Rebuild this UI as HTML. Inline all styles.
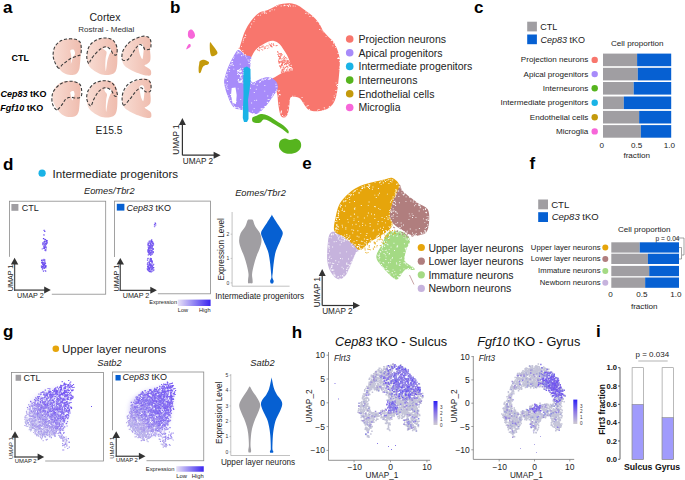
<!DOCTYPE html>
<html><head><meta charset="utf-8"><style>
html,body{margin:0;padding:0;background:#fff;width:685px;height:480px;overflow:hidden}
svg{display:block;font-family:"Liberation Sans", sans-serif}
</style></head><body>
<svg width="685" height="480" viewBox="0 0 685 480">
<defs><filter id="blur2" x="-20%" y="-20%" width="140%" height="140%"><feGaussianBlur stdDeviation="2.5"/></filter></defs>
<text x="3" y="12.8" font-size="17" font-weight="bold">a</text>
<text x="105" y="21" font-size="10.5" text-anchor="middle" fill="#222">Cortex</text>
<text x="106.3" y="31.8" font-size="8" text-anchor="middle" fill="#333">Rostral - Medial</text>
<text x="11.5" y="60.6" font-size="9" font-weight="bold">CTL</text>
<text x="0.5" y="97.3" font-size="9" font-weight="bold"><tspan font-style="italic">Cep83</tspan> tKO</text>
<text x="0.3" y="110.6" font-size="9" font-weight="bold"><tspan font-style="italic">Fgf10</tspan> tKO</text>
<text x="109" y="134" font-size="10.25" text-anchor="middle" fill="#222">E15.5</text>
<defs><linearGradient id="pk" x1="0" x2="1" y1="0" y2="0"><stop offset="0" stop-color="#f8dcd3"/><stop offset="1" stop-color="#efbcae"/></linearGradient></defs>
<path d="M53.1,54.4 C53.2,51.8 53.8,48.6 55.1,46.3 C56.5,44.0 59.0,41.8 61.2,40.6 C63.4,39.4 66.0,39.1 68.4,38.9 C70.8,38.7 73.5,38.8 75.5,39.3 C77.5,39.8 79.1,40.9 80.1,42.2 C81.0,43.5 81.1,45.3 81.2,47.3 C81.3,49.3 80.9,51.8 80.7,54.4 C80.5,57.0 80.4,60.0 80.1,62.6 C79.8,65.2 79.8,67.9 79.1,69.8 C78.4,71.7 77.5,73.1 76.1,73.9 C74.6,74.8 72.4,75.0 70.4,74.9 C68.4,74.8 66.2,74.3 64.3,73.3 C62.4,72.3 60.8,70.7 59.2,68.7 C57.6,66.8 55.6,64.0 54.6,61.6 C53.6,59.2 53.0,57.0 53.1,54.4Z" fill="url(#pk)"/>
<path d="M70.4,50.3 C70.8,49.5 72.7,49.2 73.5,49.6 C74.3,50.0 74.9,51.9 75.0,52.9 C75.1,53.9 74.6,54.8 74.3,55.5 C74.0,56.2 73.4,56.1 73.0,57.0 C72.6,57.9 72.3,59.5 72.0,60.6 C71.7,61.7 71.0,64.1 70.9,63.6 C70.8,63.1 71.3,59.0 71.3,57.5 C71.3,56.0 71.2,55.6 71.0,54.4 C70.8,53.2 70.0,51.1 70.4,50.3Z" fill="#fff"/>
<path d="M58.7,68.2 C57.4,67.7 55.5,63.9 54.6,61.6 C53.7,59.3 53.0,57.0 53.1,54.4 C53.2,51.8 53.8,48.6 55.1,46.3 C56.5,44.0 59.0,41.8 61.2,40.6 C63.4,39.4 66.0,39.1 68.4,38.9 C70.8,38.7 73.5,38.8 75.5,39.3 C77.5,39.8 79.1,40.9 80.1,42.2 C81.0,43.5 81.1,45.3 81.2,47.3 C81.3,49.3 81.4,52.9 80.7,54.4 C80.0,55.9 78.6,55.4 77.1,56.0 C75.6,56.6 73.3,57.1 71.5,58.0 C69.7,58.9 67.9,60.5 66.4,61.6 C64.9,62.7 63.6,63.6 62.3,64.7 C61.0,65.8 60.0,68.7 58.7,68.2Z" fill="none" stroke="#3a3a3a" stroke-width="1.1" stroke-dasharray="3.1 1.9"/>
<path d="M86.8,57.5 C86.8,54.8 87.3,50.8 88.3,48.3 C89.3,45.8 90.9,43.8 92.9,42.2 C94.9,40.6 97.7,39.3 100.1,38.6 C102.5,37.9 105.0,37.8 107.2,38.1 C109.4,38.4 111.8,39.1 113.4,40.6 C115.0,42.1 116.2,44.6 116.9,47.3 C117.6,49.9 117.4,53.3 117.4,56.5 C117.4,59.7 117.4,64.0 116.9,66.7 C116.4,69.4 115.9,71.4 114.4,72.8 C113.0,74.2 110.6,74.7 108.2,74.9 C105.8,75.1 102.6,74.8 100.1,73.9 C97.5,73.1 94.9,71.3 92.9,69.8 C90.9,68.3 89.3,66.8 88.3,64.7 C87.3,62.7 86.8,60.2 86.8,57.5Z" fill="url(#pk)"/>
<path d="M103.1,48.3 C103.7,47.8 107.4,46.6 108.8,47.0 C110.2,47.4 111.2,49.7 111.3,50.9 C111.4,52.1 109.9,52.8 109.3,54.4 C108.7,56.0 108.0,57.9 107.4,60.6 C106.9,63.3 106.3,69.8 106.0,70.8 C105.7,71.8 105.4,68.8 105.3,66.7 C105.2,64.7 105.4,60.9 105.6,58.5 C105.8,56.1 106.7,53.8 106.6,52.4 C106.5,51.0 105.6,51.0 105.0,50.3 C104.4,49.6 102.5,48.8 103.1,48.3Z" fill="#fff"/>
<path d="M88.8,63.6 C88.2,63.1 86.9,60.0 86.8,57.5 C86.7,55.0 87.3,50.8 88.3,48.3 C89.3,45.8 90.9,43.8 92.9,42.2 C94.9,40.6 97.7,39.3 100.1,38.6 C102.5,37.9 105.0,37.8 107.2,38.1 C109.4,38.4 111.8,39.1 113.4,40.6 C115.0,42.1 116.4,45.0 116.9,47.3 C117.4,49.6 117.2,53.2 116.6,54.4 C116.0,55.6 114.5,55.2 113.4,54.4 C112.4,53.5 111.6,50.6 110.3,49.3 C109.0,48.0 107.4,46.8 105.7,46.8 C104.0,46.8 102.1,47.8 100.1,49.3 C98.1,50.8 95.5,53.6 93.9,55.5 C92.3,57.4 91.2,59.2 90.4,60.6 C89.6,62.0 89.4,64.1 88.8,63.6Z" fill="none" stroke="#3a3a3a" stroke-width="1.1" stroke-dasharray="3.1 1.9"/>
<path d="M122.0,59.0 C121.8,56.8 121.8,54.2 122.5,52.0 C123.2,49.8 124.6,47.8 126.0,46.0 C127.4,44.2 129.2,42.3 131.0,41.0 C132.8,39.7 135.0,38.8 137.0,38.0 C139.0,37.2 141.2,36.4 143.0,36.2 C144.8,36.0 146.8,36.4 148.0,37.0 C149.2,37.6 150.0,38.7 150.5,40.0 C151.0,41.3 151.1,43.5 151.0,45.0 C150.9,46.5 150.1,47.2 150.0,49.0 C149.9,50.8 150.5,54.0 150.5,56.0 C150.5,58.0 150.6,59.7 150.0,61.0 C149.4,62.3 147.9,63.2 147.0,64.0 C146.1,64.8 144.3,64.8 144.5,65.5 C144.7,66.2 146.9,67.2 148.0,68.0 C149.1,68.8 150.3,69.3 150.8,70.5 C151.3,71.7 151.4,74.2 150.8,75.0 C150.2,75.8 148.5,75.7 147.0,75.6 C145.5,75.5 144.0,75.1 142.0,74.5 C140.0,73.9 137.2,72.9 135.0,72.0 C132.8,71.1 130.8,70.2 129.0,69.0 C127.2,67.8 125.2,66.7 124.0,65.0 C122.8,63.3 122.2,61.2 122.0,59.0Z" fill="url(#pk)"/>
<path d="M138.5,45.5 C139.0,44.3 141.2,43.8 142.0,44.0 C142.8,44.2 143.2,45.7 143.5,47.0 C143.8,48.3 143.7,50.0 143.5,52.0 C143.3,54.0 143.0,58.3 142.5,59.0 C142.0,59.7 141.1,57.3 140.5,56.0 C139.9,54.7 139.3,52.8 139.0,51.0 C138.7,49.2 138.0,46.7 138.5,45.5Z" fill="#fff"/>
<path d="M124.0,60.5 C123.0,60.4 122.2,60.4 122.0,59.0 C121.8,57.6 121.8,54.2 122.5,52.0 C123.2,49.8 124.6,47.8 126.0,46.0 C127.4,44.2 129.2,42.3 131.0,41.0 C132.8,39.7 135.0,38.8 137.0,38.0 C139.0,37.2 141.2,36.4 143.0,36.2 C144.8,36.0 146.8,36.4 148.0,37.0 C149.2,37.6 150.0,38.7 150.5,40.0 C151.0,41.3 151.1,43.5 151.0,45.0 C150.9,46.5 151.0,48.2 150.0,49.0 C149.0,49.8 146.1,49.8 145.0,49.5 C143.9,49.2 144.3,47.8 143.5,47.0 C142.7,46.2 141.2,44.3 140.0,44.5 C138.8,44.7 137.3,46.4 136.0,48.0 C134.7,49.6 133.3,52.1 132.0,54.0 C130.7,55.9 129.3,58.4 128.0,59.5 C126.7,60.6 125.0,60.6 124.0,60.5Z" fill="none" stroke="#3a3a3a" stroke-width="1.1" stroke-dasharray="3.1 1.9"/>
<path d="M52.5,96.6 C52.6,94.0 53.1,90.8 54.5,88.5 C55.9,86.2 58.4,84.0 60.6,82.8 C62.8,81.6 65.4,81.3 67.8,81.1 C70.2,80.9 73.0,81.0 74.9,81.5 C76.9,82.0 78.5,83.1 79.5,84.4 C80.5,85.7 80.5,87.5 80.6,89.5 C80.7,91.5 80.3,94.0 80.1,96.6 C79.9,99.1 79.8,102.2 79.5,104.8 C79.2,107.4 79.2,110.1 78.5,112.0 C77.8,113.9 77.0,115.2 75.5,116.1 C74.0,117.0 71.8,117.2 69.8,117.1 C67.8,117.0 65.6,116.5 63.7,115.5 C61.8,114.5 60.2,112.9 58.6,110.9 C57.0,109.0 55.0,106.2 54.0,103.8 C53.0,101.4 52.4,99.1 52.5,96.6Z" fill="url(#pk)"/>
<path d="M70.5,92.0 C71.0,91.4 72.8,90.6 73.5,91.0 C74.2,91.4 74.6,93.5 74.6,94.5 C74.6,95.5 73.9,96.0 73.5,97.0 C73.1,98.0 72.7,100.4 72.3,100.4 C71.9,100.4 71.5,98.0 71.2,97.0 C70.9,96.0 70.7,95.3 70.6,94.5 C70.5,93.7 70.0,92.6 70.5,92.0Z" fill="#fff"/>
<path d="M56.7,109.9 C55.1,109.7 53.0,105.8 52.3,103.0 C51.6,100.2 51.8,95.8 52.7,93.0 C53.7,90.2 56.1,87.8 58.0,86.0 C59.9,84.2 61.7,83.1 64.0,82.3 C66.3,81.5 69.4,81.0 72.0,81.3 C74.6,81.6 77.9,82.5 79.5,84.0 C81.1,85.5 81.3,87.9 81.6,90.0 C81.9,92.1 82.0,95.2 81.1,96.5 C80.2,97.8 78.2,98.0 76.4,98.1 C74.6,98.2 71.9,97.0 70.1,97.3 C68.2,97.5 66.6,98.4 65.3,99.6 C64.0,100.8 63.6,102.7 62.2,104.4 C60.8,106.1 58.4,110.1 56.7,109.9Z" fill="none" stroke="#3a3a3a" stroke-width="1.1" stroke-dasharray="3.1 1.9"/>
<path d="M86.8,100.0 C86.8,97.3 87.3,93.3 88.3,90.8 C89.3,88.2 90.9,86.3 92.9,84.7 C94.9,83.1 97.7,81.8 100.1,81.1 C102.5,80.4 105.0,80.3 107.2,80.6 C109.4,80.9 111.8,81.6 113.4,83.1 C115.0,84.6 116.2,87.1 116.9,89.8 C117.6,92.5 117.4,95.8 117.4,99.0 C117.4,102.2 117.4,106.5 116.9,109.2 C116.4,111.9 115.9,113.9 114.4,115.3 C113.0,116.7 110.6,117.2 108.2,117.4 C105.8,117.6 102.6,117.2 100.1,116.4 C97.5,115.6 94.9,113.8 92.9,112.3 C90.9,110.8 89.3,109.2 88.3,107.2 C87.3,105.2 86.8,102.7 86.8,100.0Z" fill="url(#pk)"/>
<path d="M104.5,89.0 C105.2,88.5 108.3,87.8 109.5,88.2 C110.7,88.6 111.8,90.3 111.8,91.5 C111.8,92.7 110.5,93.8 109.8,95.5 C109.1,97.2 108.4,99.3 107.8,102.0 C107.2,104.7 106.6,110.6 106.3,111.5 C106.0,112.4 105.8,109.5 105.8,107.5 C105.8,105.5 106.0,101.7 106.2,99.5 C106.4,97.3 107.2,95.8 107.0,94.5 C106.8,93.2 105.4,92.4 105.0,91.5 C104.6,90.6 103.8,89.5 104.5,89.0Z" fill="#fff"/>
<path d="M90.6,106.0 C89.4,105.9 87.2,101.5 86.8,99.0 C86.4,96.5 87.0,93.4 88.0,91.0 C89.0,88.6 91.2,86.1 93.0,84.5 C94.8,82.9 96.8,82.1 99.0,81.5 C101.2,80.9 103.8,80.5 106.0,80.8 C108.2,81.0 110.4,81.8 112.0,83.0 C113.6,84.2 114.6,85.9 115.5,88.0 C116.4,90.1 117.6,94.4 117.4,95.7 C117.2,97.0 115.2,96.6 114.2,95.7 C113.2,94.8 112.7,91.5 111.1,90.2 C109.5,88.9 106.9,87.5 104.8,87.8 C102.7,88.1 100.2,89.8 98.4,91.8 C96.6,93.8 95.0,97.2 93.7,99.6 C92.4,102.0 91.8,106.1 90.6,106.0Z" fill="none" stroke="#3a3a3a" stroke-width="1.1" stroke-dasharray="3.1 1.9"/>
<path d="M122.2,101.3 C122.0,99.1 122.0,96.5 122.7,94.3 C123.4,92.1 124.8,90.1 126.2,88.3 C127.6,86.5 129.4,84.6 131.2,83.3 C133.0,82.0 135.2,81.1 137.2,80.3 C139.2,79.5 141.4,78.7 143.2,78.5 C145.0,78.3 146.9,78.7 148.2,79.3 C149.4,79.9 150.2,81.0 150.7,82.3 C151.2,83.6 151.3,85.8 151.2,87.3 C151.1,88.8 150.3,89.5 150.2,91.3 C150.1,93.1 150.7,96.3 150.7,98.3 C150.7,100.3 150.8,102.0 150.2,103.3 C149.6,104.6 148.1,105.5 147.2,106.3 C146.3,107.0 144.5,107.1 144.7,107.8 C144.9,108.5 147.1,109.5 148.2,110.3 C149.2,111.1 150.5,111.6 151.0,112.8 C151.5,114.0 151.6,116.5 151.0,117.3 C150.4,118.1 148.7,118.0 147.2,117.9 C145.7,117.8 144.2,117.4 142.2,116.8 C140.2,116.2 137.4,115.2 135.2,114.3 C133.0,113.4 131.0,112.5 129.2,111.3 C127.4,110.1 125.4,109.0 124.2,107.3 C123.0,105.6 122.5,103.5 122.2,101.3Z" fill="url(#pk)"/>
<path d="M139.5,86.5 C140.0,85.4 142.2,85.1 143.0,85.5 C143.8,85.9 144.3,87.6 144.5,89.0 C144.7,90.4 144.5,92.0 144.3,94.0 C144.1,96.0 143.8,100.3 143.3,101.0 C142.8,101.7 141.9,99.5 141.3,98.0 C140.8,96.5 140.3,93.9 140.0,92.0 C139.7,90.1 139.0,87.6 139.5,86.5Z" fill="#fff"/>
<path d="M123.7,105.2 C122.4,105.0 122.0,100.5 122.1,98.0 C122.1,95.5 122.9,92.3 124.0,90.0 C125.1,87.7 126.7,85.6 128.5,84.0 C130.3,82.4 132.8,81.3 135.0,80.5 C137.2,79.7 139.8,79.3 142.0,79.2 C144.2,79.1 146.5,79.2 148.0,80.0 C149.5,80.8 150.4,82.2 150.8,84.0 C151.2,85.8 151.3,89.7 150.5,91.0 C149.7,92.3 147.3,92.3 145.7,91.8 C144.1,91.3 142.7,87.8 141.0,87.8 C139.3,87.8 137.3,89.9 135.5,91.8 C133.7,93.7 132.0,96.7 130.0,98.9 C128.0,101.1 125.0,105.4 123.7,105.2Z" fill="none" stroke="#3a3a3a" stroke-width="1.1" stroke-dasharray="3.1 1.9"/>
<text x="170" y="13" font-size="17" font-weight="bold">b</text>
<path d="M239.5,48.0 C240.4,45.4 242.7,36.6 244.6,32.1 C246.5,27.6 248.6,24.1 251.0,20.9 C253.4,17.7 256.4,14.6 259.1,12.8 C261.8,11.0 264.7,11.1 267.1,10.2 C269.5,9.3 271.6,8.1 273.5,7.2 C275.4,6.3 275.9,5.5 278.3,4.8 C280.7,4.1 285.1,3.2 288.0,3.2 C290.9,3.2 293.3,3.6 296.0,4.6 C298.7,5.6 301.3,7.6 304.0,9.4 C306.7,11.2 309.6,13.3 312.0,15.5 C314.4,17.7 316.6,19.9 318.5,22.5 C320.4,25.1 321.7,28.7 323.3,31.0 C324.9,33.3 326.2,34.5 328.1,36.5 C330.0,38.5 332.7,40.2 334.5,43.3 C336.3,46.4 338.1,51.5 339.0,55.0 C339.9,58.5 339.8,60.2 339.8,64.0 C339.8,67.8 339.2,72.8 338.8,77.5 C338.3,82.2 337.8,88.3 337.0,92.5 C336.2,96.7 335.3,99.8 333.8,102.5 C332.2,105.2 330.2,107.3 327.5,108.8 C324.8,110.2 320.6,111.0 317.5,111.2 C314.4,111.5 311.3,110.9 309.2,110.0 C307.1,109.1 306.5,107.7 305.0,105.8 C303.5,103.9 301.7,100.0 300.0,98.5 C298.3,97.0 296.6,97.2 295.0,97.0 C293.4,96.8 291.4,96.3 290.5,97.5 C289.6,98.7 289.8,101.8 289.5,104.0 C289.2,106.2 289.1,108.8 288.5,111.0 C287.9,113.2 287.2,116.2 286.0,117.0 C284.8,117.8 282.2,117.8 281.0,116.0 C279.8,114.2 279.1,109.3 278.5,106.0 C277.9,102.7 277.9,98.7 277.5,96.0 C277.1,93.3 276.8,92.0 276.0,90.0 C275.2,88.0 274.0,86.1 273.0,84.0 C272.0,81.9 271.3,79.5 270.0,77.5 C268.7,75.5 267.5,74.6 265.0,72.0 C262.5,69.4 258.3,64.8 255.0,62.0 C251.7,59.2 247.6,57.3 245.0,55.0 C242.4,52.7 240.1,49.2 239.2,48.0 C238.3,46.8 238.6,50.6 239.5,48.0Z" fill="#f8766d"/>
<path d="M250.8,60.0 C251.1,56.7 251.6,56.8 252.5,55.0 C253.4,53.2 254.4,51.2 256.0,49.5 C257.6,47.8 260.0,46.3 262.0,45.0 C264.0,43.7 266.0,42.5 268.0,41.8 C270.0,41.1 272.1,40.6 274.0,41.0 C275.9,41.4 277.9,42.6 279.5,44.0 C281.1,45.4 282.2,47.7 283.5,49.5 C284.8,51.3 285.9,52.9 287.0,55.0 C288.1,57.1 289.0,59.5 290.0,62.0 C291.0,64.5 293.5,68.4 293.0,70.0 C292.5,71.6 289.0,70.9 287.0,71.5 C285.0,72.1 282.8,72.7 281.0,73.5 C279.2,74.3 277.7,75.6 276.0,76.5 C274.3,77.4 273.2,78.3 271.0,79.0 C268.8,79.7 265.7,80.1 263.0,80.5 C260.3,80.9 257.0,82.4 255.0,81.5 C253.0,80.6 251.7,78.6 251.0,75.0 C250.3,71.4 250.6,63.3 250.8,60.0Z" fill="#fff"/>
<path d="M243.0,52.5h0.9v0.9h-0.9zM325.6,36.2h0.9v0.9h-0.9zM254.5,58.8h0.9v0.9h-0.9zM275.8,6.1h0.9v0.9h-0.9zM263.4,11.5h0.9v0.9h-0.9zM283.5,5.3h0.9v0.9h-0.9zM287.0,109.6h0.9v0.9h-0.9zM274.2,9.4h0.9v0.9h-0.9zM305.5,10.7h0.9v0.9h-0.9zM264.6,11.7h0.9v0.9h-0.9zM288.1,6.0h0.9v0.9h-0.9zM309.5,16.0h0.9v0.9h-0.9zM242.6,41.7h0.9v0.9h-0.9zM321.7,29.5h0.9v0.9h-0.9zM278.8,105.4h0.9v0.9h-0.9zM335.2,47.2h0.9v0.9h-0.9zM265.8,12.8h0.9v0.9h-0.9zM339.0,60.9h0.9v0.9h-0.9zM323.8,107.3h0.9v0.9h-0.9zM264.8,71.4h0.9v0.9h-0.9zM272.1,80.4h0.9v0.9h-0.9zM337.3,58.1h0.9v0.9h-0.9zM301.6,97.0h0.9v0.9h-0.9zM318.5,109.1h0.9v0.9h-0.9zM307.6,105.1h0.9v0.9h-0.9zM278.9,94.0h0.9v0.9h-0.9zM338.8,68.9h0.9v0.9h-0.9zM303.4,102.4h0.9v0.9h-0.9zM250.0,26.6h0.9v0.9h-0.9zM289.9,100.1h0.9v0.9h-0.9zM242.3,50.2h0.9v0.9h-0.9zM278.7,90.0h0.9v0.9h-0.9zM244.9,34.4h0.9v0.9h-0.9zM332.6,100.4h0.9v0.9h-0.9zM244.2,37.4h0.9v0.9h-0.9zM284.1,4.8h0.9v0.9h-0.9zM337.9,57.3h0.9v0.9h-0.9zM336.2,84.8h0.9v0.9h-0.9zM257.5,14.9h0.9v0.9h-0.9zM251.6,59.4h0.9v0.9h-0.9zM322.3,109.9h0.9v0.9h-0.9zM290.0,5.6h0.9v0.9h-0.9zM269.9,76.9h0.9v0.9h-0.9zM256.4,62.7h0.9v0.9h-0.9zM274.7,85.4h0.9v0.9h-0.9zM271.5,78.6h0.9v0.9h-0.9zM269.1,10.7h0.9v0.9h-0.9zM243.1,38.6h0.9v0.9h-0.9zM333.3,43.2h0.9v0.9h-0.9zM245.3,35.2h0.9v0.9h-0.9zM324.3,108.7h0.9v0.9h-0.9zM262.0,68.4h0.9v0.9h-0.9zM278.8,102.5h0.9v0.9h-0.9zM285.4,115.5h0.9v0.9h-0.9zM338.6,58.0h0.9v0.9h-0.9zM287.9,105.5h0.9v0.9h-0.9zM307.9,13.5h0.9v0.9h-0.9zM292.3,95.8h0.9v0.9h-0.9zM277.5,5.2h0.9v0.9h-0.9zM336.9,84.2h0.9v0.9h-0.9zM289.2,105.8h0.9v0.9h-0.9zM260.0,14.7h0.9v0.9h-0.9zM330.9,40.1h0.9v0.9h-0.9zM261.7,65.3h0.9v0.9h-0.9zM333.9,97.2h0.9v0.9h-0.9zM288.4,5.1h0.9v0.9h-0.9zM244.6,37.1h0.9v0.9h-0.9zM306.5,105.8h0.9v0.9h-0.9zM289.7,100.2h0.9v0.9h-0.9zM275.4,82.8h0.9v0.9h-0.9zM245.1,53.9h0.9v0.9h-0.9zM337.8,52.9h0.9v0.9h-0.9zM277.8,95.6h0.9v0.9h-0.9zM337.1,84.0h0.9v0.9h-0.9zM328.7,107.5h0.9v0.9h-0.9zM280.7,5.6h0.9v0.9h-0.9zM269.8,10.5h0.9v0.9h-0.9zM333.0,42.2h0.9v0.9h-0.9zM338.2,58.0h0.9v0.9h-0.9zM254.2,18.8h0.9v0.9h-0.9zM280.4,112.6h0.9v0.9h-0.9zM335.6,93.6h0.9v0.9h-0.9zM328.9,106.1h0.9v0.9h-0.9zM286.4,115.9h0.9v0.9h-0.9zM319.3,29.0h0.9v0.9h-0.9zM335.6,82.4h0.9v0.9h-0.9zM253.5,21.2h0.9v0.9h-0.9zM271.6,9.3h0.9v0.9h-0.9zM337.6,53.0h0.9v0.9h-0.9zM276.6,89.8h0.9v0.9h-0.9zM242.9,40.2h0.9v0.9h-0.9zM263.7,70.0h0.9v0.9h-0.9zM283.5,116.2h0.9v0.9h-0.9zM256.2,61.3h0.9v0.9h-0.9zM256.5,61.2h0.9v0.9h-0.9zM337.0,86.1h0.9v0.9h-0.9zM322.8,31.4h0.9v0.9h-0.9zM335.2,45.1h0.9v0.9h-0.9zM258.2,14.7h0.9v0.9h-0.9zM262.2,68.4h0.9v0.9h-0.9zM264.2,12.8h0.9v0.9h-0.9zM311.9,16.2h0.9v0.9h-0.9zM241.1,45.9h0.9v0.9h-0.9zM286.8,5.0h0.9v0.9h-0.9zM261.6,12.5h0.9v0.9h-0.9zM258.8,62.1h0.9v0.9h-0.9zM249.7,57.3h0.9v0.9h-0.9zM294.5,95.7h0.9v0.9h-0.9zM332.5,45.4h0.9v0.9h-0.9zM252.9,59.3h0.9v0.9h-0.9zM284.7,5.2h0.9v0.9h-0.9zM280.7,111.8h0.9v0.9h-0.9zM317.1,109.7h0.9v0.9h-0.9zM333.7,95.4h0.9v0.9h-0.9zM306.4,12.7h0.9v0.9h-0.9zM316.5,21.0h0.9v0.9h-0.9zM338.9,58.0h0.9v0.9h-0.9zM287.3,112.9h0.9v0.9h-0.9zM278.3,90.8h0.9v0.9h-0.9zM251.2,23.6h0.9v0.9h-0.9zM282.0,115.0h0.9v0.9h-0.9zM280.8,110.9h0.9v0.9h-0.9zM279.8,94.3h0.9v0.9h-0.9zM308.9,109.1h0.9v0.9h-0.9zM281.1,110.6h0.9v0.9h-0.9zM319.3,24.2h0.9v0.9h-0.9zM339.3,66.6h0.9v0.9h-0.9zM280.8,112.4h0.9v0.9h-0.9zM292.7,5.5h0.9v0.9h-0.9zM288.9,3.9h0.9v0.9h-0.9zM319.3,24.2h0.9v0.9h-0.9zM305.2,13.2h0.9v0.9h-0.9zM263.4,70.3h0.9v0.9h-0.9zM336.8,89.7h0.9v0.9h-0.9zM249.8,58.3h0.9v0.9h-0.9zM274.9,84.8h0.9v0.9h-0.9zM264.1,11.3h0.9v0.9h-0.9zM294.8,5.7h0.9v0.9h-0.9zM335.5,90.0h0.9v0.9h-0.9zM334.8,44.0h0.9v0.9h-0.9z" fill="#fff"/>
<path d="M287.7,60.3h1.0v1.0h-1.0zM281.7,62.3h1.0v1.0h-1.0zM279.5,61.9h1.0v1.0h-1.0zM279.5,56.1h1.0v1.0h-1.0zM284.2,67.8h1.0v1.0h-1.0zM284.4,59.8h1.0v1.0h-1.0zM283.8,62.2h1.0v1.0h-1.0zM281.8,72.4h1.0v1.0h-1.0zM280.2,53.1h1.0v1.0h-1.0zM286.3,58.3h1.0v1.0h-1.0zM284.4,57.5h1.0v1.0h-1.0zM284.8,63.1h1.0v1.0h-1.0zM289.2,65.3h1.0v1.0h-1.0zM278.9,53.4h1.0v1.0h-1.0zM280.1,54.3h1.0v1.0h-1.0zM281.2,54.3h1.0v1.0h-1.0zM279.5,66.0h1.0v1.0h-1.0zM290.8,65.9h1.0v1.0h-1.0zM284.3,64.3h1.0v1.0h-1.0zM288.2,60.4h1.0v1.0h-1.0zM278.6,58.6h1.0v1.0h-1.0zM290.2,70.3h1.0v1.0h-1.0zM283.3,58.7h1.0v1.0h-1.0zM280.6,53.0h1.0v1.0h-1.0zM288.7,62.0h1.0v1.0h-1.0zM287.5,60.3h1.0v1.0h-1.0zM286.8,70.6h1.0v1.0h-1.0zM282.0,63.6h1.0v1.0h-1.0zM281.7,69.5h1.0v1.0h-1.0zM280.6,65.2h1.0v1.0h-1.0zM278.4,61.4h1.0v1.0h-1.0zM285.9,69.2h1.0v1.0h-1.0zM280.5,54.4h1.0v1.0h-1.0zM282.2,68.9h1.0v1.0h-1.0zM280.9,64.9h1.0v1.0h-1.0zM277.5,51.9h1.0v1.0h-1.0zM289.0,61.7h1.0v1.0h-1.0zM278.9,61.1h1.0v1.0h-1.0zM286.5,59.9h1.0v1.0h-1.0zM282.9,56.7h1.0v1.0h-1.0zM287.3,63.0h1.0v1.0h-1.0zM277.4,53.9h1.0v1.0h-1.0zM288.1,64.4h1.0v1.0h-1.0zM280.7,59.5h1.0v1.0h-1.0zM280.7,66.5h1.0v1.0h-1.0zM280.0,66.2h1.0v1.0h-1.0zM287.5,66.7h1.0v1.0h-1.0zM292.2,69.4h1.0v1.0h-1.0zM290.0,64.1h1.0v1.0h-1.0zM281.4,71.3h1.0v1.0h-1.0zM282.7,69.3h1.0v1.0h-1.0zM288.5,69.7h1.0v1.0h-1.0zM283.7,68.7h1.0v1.0h-1.0zM288.1,62.7h1.0v1.0h-1.0zM280.8,53.1h1.0v1.0h-1.0zM289.8,65.9h1.0v1.0h-1.0zM284.0,64.0h1.0v1.0h-1.0zM285.6,62.7h1.0v1.0h-1.0zM284.9,59.7h1.0v1.0h-1.0zM289.9,62.8h1.0v1.0h-1.0zM278.6,62.7h1.0v1.0h-1.0zM280.1,67.6h1.0v1.0h-1.0zM282.7,62.1h1.0v1.0h-1.0zM282.1,70.4h1.0v1.0h-1.0zM283.7,59.9h1.0v1.0h-1.0zM280.8,61.4h1.0v1.0h-1.0zM288.3,61.6h1.0v1.0h-1.0zM281.9,62.8h1.0v1.0h-1.0zM278.1,54.8h1.0v1.0h-1.0zM281.6,62.0h1.0v1.0h-1.0zM280.0,57.2h1.0v1.0h-1.0zM281.0,64.0h1.0v1.0h-1.0zM278.9,62.2h1.0v1.0h-1.0zM289.7,64.5h1.0v1.0h-1.0zM280.1,54.4h1.0v1.0h-1.0zM289.0,69.0h1.0v1.0h-1.0zM278.1,59.8h1.0v1.0h-1.0zM281.8,61.0h1.0v1.0h-1.0zM289.7,68.0h1.0v1.0h-1.0zM281.7,64.5h1.0v1.0h-1.0zM283.4,61.1h1.0v1.0h-1.0zM286.0,65.7h1.0v1.0h-1.0zM279.7,57.4h1.0v1.0h-1.0zM283.2,72.4h1.0v1.0h-1.0zM279.1,58.4h1.0v1.0h-1.0zM278.4,61.1h1.0v1.0h-1.0zM282.9,67.4h1.0v1.0h-1.0zM286.6,62.4h1.0v1.0h-1.0zM279.9,57.5h1.0v1.0h-1.0zM280.7,54.6h1.0v1.0h-1.0zM290.1,63.5h1.0v1.0h-1.0zM289.3,63.7h1.0v1.0h-1.0zM279.4,57.1h1.0v1.0h-1.0zM287.7,62.8h1.0v1.0h-1.0zM285.1,61.2h1.0v1.0h-1.0zM280.5,55.4h1.0v1.0h-1.0zM292.0,67.3h1.0v1.0h-1.0zM281.6,63.0h1.0v1.0h-1.0zM285.8,61.6h1.0v1.0h-1.0zM289.1,70.2h1.0v1.0h-1.0zM290.6,66.1h1.0v1.0h-1.0zM284.9,71.2h1.0v1.0h-1.0zM289.5,65.8h1.0v1.0h-1.0zM283.8,61.7h1.0v1.0h-1.0zM281.4,69.8h1.0v1.0h-1.0zM291.4,66.4h1.0v1.0h-1.0zM288.7,62.0h1.0v1.0h-1.0zM286.7,65.7h1.0v1.0h-1.0zM281.3,69.4h1.0v1.0h-1.0zM290.6,70.4h1.0v1.0h-1.0zM281.4,71.9h1.0v1.0h-1.0zM283.3,60.6h1.0v1.0h-1.0zM281.2,72.5h1.0v1.0h-1.0zM291.2,68.5h1.0v1.0h-1.0zM286.9,66.2h1.0v1.0h-1.0zM282.5,67.4h1.0v1.0h-1.0zM281.1,61.2h1.0v1.0h-1.0zM277.2,51.1h1.0v1.0h-1.0zM289.7,68.7h1.0v1.0h-1.0zM282.4,62.7h1.0v1.0h-1.0zM281.4,72.5h1.0v1.0h-1.0zM282.3,59.9h1.0v1.0h-1.0zM282.4,65.3h1.0v1.0h-1.0zM292.0,66.2h1.0v1.0h-1.0zM289.3,61.9h1.0v1.0h-1.0zM287.2,68.5h1.0v1.0h-1.0zM290.2,65.8h1.0v1.0h-1.0zM278.1,61.2h1.0v1.0h-1.0zM281.6,64.3h1.0v1.0h-1.0zM283.7,60.7h1.0v1.0h-1.0zM286.1,63.8h1.0v1.0h-1.0zM281.7,54.3h1.0v1.0h-1.0zM283.1,71.2h1.0v1.0h-1.0zM278.1,55.9h1.0v1.0h-1.0zM281.3,61.1h1.0v1.0h-1.0zM279.1,57.8h1.0v1.0h-1.0zM278.5,52.9h1.0v1.0h-1.0zM290.7,69.8h1.0v1.0h-1.0zM280.8,71.5h1.0v1.0h-1.0zM279.5,65.7h1.0v1.0h-1.0zM288.7,64.6h1.0v1.0h-1.0zM287.0,61.6h1.0v1.0h-1.0zM289.8,62.5h1.0v1.0h-1.0zM281.7,62.1h1.0v1.0h-1.0zM285.9,70.5h1.0v1.0h-1.0zM285.6,63.7h1.0v1.0h-1.0zM286.8,60.8h1.0v1.0h-1.0zM285.7,66.2h1.0v1.0h-1.0zM290.3,66.0h1.0v1.0h-1.0zM279.0,56.1h1.0v1.0h-1.0zM282.3,58.3h1.0v1.0h-1.0zM285.3,56.9h1.0v1.0h-1.0zM283.3,66.4h1.0v1.0h-1.0zM283.4,70.6h1.0v1.0h-1.0zM284.1,58.2h1.0v1.0h-1.0zM284.9,67.1h1.0v1.0h-1.0zM280.4,58.0h1.0v1.0h-1.0zM280.0,61.2h1.0v1.0h-1.0zM279.2,65.3h1.0v1.0h-1.0zM284.0,55.8h1.0v1.0h-1.0z" fill="#f8766d"/>
<path d="M270.8,45.0h0.9v0.9h-0.9zM271.0,43.3h0.9v0.9h-0.9zM261.5,45.8h0.9v0.9h-0.9zM268.6,42.7h0.9v0.9h-0.9zM259.0,50.3h0.9v0.9h-0.9zM273.2,44.6h0.9v0.9h-0.9zM273.4,45.0h0.9v0.9h-0.9zM271.6,46.6h0.9v0.9h-0.9zM272.6,43.8h0.9v0.9h-0.9zM258.6,48.5h0.9v0.9h-0.9zM260.9,48.9h0.9v0.9h-0.9zM275.6,45.3h0.9v0.9h-0.9zM266.9,47.9h0.9v0.9h-0.9zM267.6,45.7h0.9v0.9h-0.9zM262.7,45.5h0.9v0.9h-0.9zM270.0,45.1h0.9v0.9h-0.9zM268.4,47.4h0.9v0.9h-0.9zM270.3,44.3h0.9v0.9h-0.9zM257.1,49.0h0.9v0.9h-0.9zM264.6,48.0h0.9v0.9h-0.9zM257.7,50.0h0.9v0.9h-0.9zM276.6,45.1h0.9v0.9h-0.9zM264.8,47.9h0.9v0.9h-0.9zM261.9,46.7h0.9v0.9h-0.9zM266.0,45.4h0.9v0.9h-0.9zM267.4,45.2h0.9v0.9h-0.9zM268.9,44.3h0.9v0.9h-0.9zM265.0,46.7h0.9v0.9h-0.9zM263.7,47.1h0.9v0.9h-0.9zM263.8,48.4h0.9v0.9h-0.9zM259.6,47.6h0.9v0.9h-0.9zM272.9,43.3h0.9v0.9h-0.9zM259.1,47.1h0.9v0.9h-0.9zM270.5,46.0h0.9v0.9h-0.9zM264.6,46.2h0.9v0.9h-0.9zM275.7,45.3h0.9v0.9h-0.9zM271.4,46.0h0.9v0.9h-0.9zM260.6,47.1h0.9v0.9h-0.9zM262.2,49.5h0.9v0.9h-0.9zM262.8,45.8h0.9v0.9h-0.9z" fill="#f8766d"/>
<path d="M238.3,50.0 C236.4,50.3 235.0,53.9 233.3,56.7 C231.6,59.5 229.7,63.4 228.3,66.7 C226.9,70.0 225.7,73.9 225.0,76.7 C224.3,79.5 223.9,80.5 224.2,83.3 C224.5,86.1 225.6,90.0 226.7,93.3 C227.8,96.6 229.4,100.8 230.8,103.3 C232.2,105.8 233.2,107.2 235.0,108.3 C236.8,109.4 239.8,109.5 241.7,110.0 C243.6,110.5 244.5,110.3 246.7,111.0 C248.9,111.7 252.6,114.2 255.0,114.2 C257.4,114.2 259.0,112.9 261.2,111.0 C263.5,109.1 266.4,105.4 268.5,102.7 C270.6,100.0 272.4,97.5 274.0,95.0 C275.6,92.5 277.5,90.2 277.9,88.0 C278.3,85.8 277.4,83.6 276.5,82.0 C275.6,80.4 273.6,79.2 272.5,78.5 C271.4,77.8 271.2,77.7 270.0,77.5 C268.8,77.3 266.9,77.1 265.0,77.5 C263.1,77.9 260.2,79.2 258.3,80.0 C256.4,80.8 254.6,82.5 253.3,82.5 C252.1,82.5 251.4,82.1 250.8,80.0 C250.2,77.9 250.0,73.0 250.0,70.0 C250.0,67.0 250.7,63.9 250.8,61.7 C250.9,59.5 251.8,57.8 250.8,56.7 C249.8,55.6 247.1,56.1 245.0,55.0 C242.9,53.9 240.2,49.7 238.3,50.0Z" fill="#a78bfa"/>
<path d="M275.5,83.8h0.9v0.9h-0.9zM227.4,89.0h0.9v0.9h-0.9zM250.6,79.1h0.9v0.9h-0.9zM242.3,109.6h0.9v0.9h-0.9zM226.9,81.0h0.9v0.9h-0.9zM260.1,110.9h0.9v0.9h-0.9zM250.3,59.0h0.9v0.9h-0.9zM252.6,83.8h0.9v0.9h-0.9zM254.0,83.6h0.9v0.9h-0.9zM260.8,108.8h0.9v0.9h-0.9zM260.8,108.0h0.9v0.9h-0.9zM225.7,74.8h0.9v0.9h-0.9zM250.2,67.4h0.9v0.9h-0.9zM268.5,78.6h0.9v0.9h-0.9zM231.1,64.4h0.9v0.9h-0.9zM231.7,60.7h0.9v0.9h-0.9zM224.6,83.8h0.9v0.9h-0.9zM268.8,98.9h0.9v0.9h-0.9zM254.9,114.0h0.9v0.9h-0.9zM271.3,96.3h0.9v0.9h-0.9zM251.0,83.0h0.9v0.9h-0.9zM257.9,112.7h0.9v0.9h-0.9zM265.3,106.1h0.9v0.9h-0.9zM253.7,108.2h0.9v0.9h-0.9zM276.2,89.6h0.9v0.9h-0.9zM237.7,52.4h0.9v0.9h-0.9zM273.9,94.3h0.9v0.9h-0.9zM259.4,81.9h0.9v0.9h-0.9zM250.3,62.0h0.9v0.9h-0.9zM248.8,62.9h0.9v0.9h-0.9zM240.4,81.3h0.9v0.9h-0.9zM237.7,88.4h0.9v0.9h-0.9zM267.8,78.8h0.9v0.9h-0.9zM227.2,71.4h0.9v0.9h-0.9zM269.8,78.0h0.9v0.9h-0.9zM237.9,52.0h0.9v0.9h-0.9zM269.0,77.6h0.9v0.9h-0.9zM267.3,102.1h0.9v0.9h-0.9zM275.0,92.8h0.9v0.9h-0.9zM264.4,85.0h0.9v0.9h-0.9zM264.3,78.7h0.9v0.9h-0.9zM242.1,106.4h0.9v0.9h-0.9zM269.4,79.2h0.9v0.9h-0.9zM241.2,54.9h0.9v0.9h-0.9zM261.3,79.6h0.9v0.9h-0.9zM238.5,108.0h0.9v0.9h-0.9zM233.4,68.7h0.9v0.9h-0.9zM228.8,71.2h0.9v0.9h-0.9zM232.8,104.6h0.9v0.9h-0.9zM247.2,88.5h0.9v0.9h-0.9zM271.5,98.2h0.9v0.9h-0.9zM234.0,106.2h0.9v0.9h-0.9zM262.5,108.6h0.9v0.9h-0.9zM252.9,113.1h0.9v0.9h-0.9zM245.7,84.3h0.9v0.9h-0.9zM229.9,64.3h0.9v0.9h-0.9zM245.2,91.0h0.9v0.9h-0.9zM242.7,109.4h0.9v0.9h-0.9zM275.4,86.4h0.9v0.9h-0.9zM231.7,103.4h0.9v0.9h-0.9zM272.8,93.1h0.9v0.9h-0.9zM246.3,57.4h0.9v0.9h-0.9zM229.2,69.0h0.9v0.9h-0.9zM239.8,63.7h0.9v0.9h-0.9zM225.5,87.7h0.9v0.9h-0.9zM250.8,80.3h0.9v0.9h-0.9zM264.4,106.0h0.9v0.9h-0.9zM226.7,87.4h0.9v0.9h-0.9zM227.5,95.2h0.9v0.9h-0.9zM225.6,78.3h0.9v0.9h-0.9zM230.9,96.0h0.9v0.9h-0.9zM256.2,99.8h0.9v0.9h-0.9zM250.5,59.3h0.9v0.9h-0.9zM249.9,63.7h0.9v0.9h-0.9zM236.6,53.4h0.9v0.9h-0.9zM231.7,99.8h0.9v0.9h-0.9zM248.5,63.2h0.9v0.9h-0.9zM232.5,64.7h0.9v0.9h-0.9zM254.3,99.9h0.9v0.9h-0.9zM273.9,95.1h0.9v0.9h-0.9zM237.3,51.3h0.9v0.9h-0.9zM256.7,84.8h0.9v0.9h-0.9zM252.0,110.7h0.9v0.9h-0.9zM225.2,77.4h0.9v0.9h-0.9zM226.7,84.5h0.9v0.9h-0.9zM239.5,108.5h0.9v0.9h-0.9zM253.8,92.1h0.9v0.9h-0.9zM263.0,108.7h0.9v0.9h-0.9zM248.3,60.7h0.9v0.9h-0.9zM225.8,85.8h0.9v0.9h-0.9zM276.4,86.3h0.9v0.9h-0.9zM239.5,52.6h0.9v0.9h-0.9zM264.8,79.0h0.9v0.9h-0.9zM226.9,76.4h0.9v0.9h-0.9zM241.3,55.4h0.9v0.9h-0.9zM251.2,102.5h0.9v0.9h-0.9zM260.0,81.0h0.9v0.9h-0.9zM237.6,52.5h0.9v0.9h-0.9zM255.8,88.8h0.9v0.9h-0.9zM262.1,78.6h0.9v0.9h-0.9zM245.3,55.5h0.9v0.9h-0.9zM272.0,95.3h0.9v0.9h-0.9zM250.1,87.8h0.9v0.9h-0.9zM265.7,77.9h0.9v0.9h-0.9zM261.5,79.8h0.9v0.9h-0.9zM247.2,75.3h0.9v0.9h-0.9zM234.3,106.8h0.9v0.9h-0.9zM262.9,79.5h0.9v0.9h-0.9zM249.8,61.1h0.9v0.9h-0.9zM249.5,68.9h0.9v0.9h-0.9zM230.0,94.1h0.9v0.9h-0.9zM249.1,70.1h0.9v0.9h-0.9zM225.9,74.2h0.9v0.9h-0.9zM242.6,108.3h0.9v0.9h-0.9zM244.9,92.8h0.9v0.9h-0.9zM228.4,68.4h0.9v0.9h-0.9zM245.4,109.1h0.9v0.9h-0.9zM238.7,108.9h0.9v0.9h-0.9zM229.3,66.2h0.9v0.9h-0.9zM231.6,63.3h0.9v0.9h-0.9zM272.4,94.2h0.9v0.9h-0.9zM254.1,112.9h0.9v0.9h-0.9zM259.0,81.4h0.9v0.9h-0.9zM232.2,61.0h0.9v0.9h-0.9zM233.5,56.5h0.9v0.9h-0.9zM250.0,61.8h0.9v0.9h-0.9zM270.5,99.7h0.9v0.9h-0.9zM264.3,90.7h0.9v0.9h-0.9zM237.7,107.1h0.9v0.9h-0.9zM246.6,74.3h0.9v0.9h-0.9zM235.0,107.2h0.9v0.9h-0.9zM242.9,54.6h0.9v0.9h-0.9zM267.7,99.0h0.9v0.9h-0.9zM275.4,91.1h0.9v0.9h-0.9zM234.1,107.2h0.9v0.9h-0.9zM235.7,100.9h0.9v0.9h-0.9zM231.7,61.1h0.9v0.9h-0.9zM232.9,65.2h0.9v0.9h-0.9zM262.4,108.1h0.9v0.9h-0.9zM250.5,82.2h0.9v0.9h-0.9zM250.2,78.9h0.9v0.9h-0.9zM231.2,61.3h0.9v0.9h-0.9zM230.3,100.1h0.9v0.9h-0.9zM233.1,57.9h0.9v0.9h-0.9zM270.1,78.0h0.9v0.9h-0.9zM242.6,82.6h0.9v0.9h-0.9zM262.4,107.9h0.9v0.9h-0.9zM249.7,59.5h0.9v0.9h-0.9zM226.9,74.4h0.9v0.9h-0.9zM231.9,63.3h0.9v0.9h-0.9zM236.3,106.9h0.9v0.9h-0.9zM266.8,101.8h0.9v0.9h-0.9zM267.3,95.6h0.9v0.9h-0.9zM255.1,82.2h0.9v0.9h-0.9zM240.3,98.9h0.9v0.9h-0.9zM259.3,111.4h0.9v0.9h-0.9zM249.3,75.4h0.9v0.9h-0.9zM244.2,71.8h0.9v0.9h-0.9zM228.7,97.5h0.9v0.9h-0.9zM247.6,59.6h0.9v0.9h-0.9z" fill="#fff"/>
<path d="M231.7,88.0 L235.5,87.5 L236.7,95.0 L236.0,104.0 L232.5,103.0 L231.0,95.0Z" fill="#fff"/>
<path d="M240.1,75.6h1.0v1.0h-1.0zM242.5,68.1h1.0v1.0h-1.0zM239.3,69.0h1.0v1.0h-1.0zM240.6,70.3h1.0v1.0h-1.0zM239.2,81.6h1.0v1.0h-1.0zM241.2,77.4h1.0v1.0h-1.0zM240.9,70.8h1.0v1.0h-1.0zM241.5,81.6h1.0v1.0h-1.0zM237.6,79.7h1.0v1.0h-1.0zM239.2,70.8h1.0v1.0h-1.0zM241.3,79.9h1.0v1.0h-1.0zM238.1,70.8h1.0v1.0h-1.0zM240.3,70.9h1.0v1.0h-1.0zM240.3,81.9h1.0v1.0h-1.0zM237.2,74.0h1.0v1.0h-1.0zM238.3,70.3h1.0v1.0h-1.0zM240.8,81.3h1.0v1.0h-1.0zM240.1,75.8h1.0v1.0h-1.0zM241.5,80.0h1.0v1.0h-1.0zM243.3,72.7h1.0v1.0h-1.0zM238.2,80.8h1.0v1.0h-1.0zM240.9,80.4h1.0v1.0h-1.0zM238.0,79.0h1.0v1.0h-1.0zM237.8,69.8h1.0v1.0h-1.0zM237.8,73.1h1.0v1.0h-1.0zM239.7,77.2h1.0v1.0h-1.0zM243.1,74.0h1.0v1.0h-1.0zM240.8,73.8h1.0v1.0h-1.0zM239.5,71.7h1.0v1.0h-1.0zM237.0,71.6h1.0v1.0h-1.0zM241.7,79.2h1.0v1.0h-1.0zM241.5,74.2h1.0v1.0h-1.0zM239.7,70.6h1.0v1.0h-1.0zM238.6,82.0h1.0v1.0h-1.0zM240.8,73.7h1.0v1.0h-1.0zM240.5,74.9h1.0v1.0h-1.0zM238.9,73.9h1.0v1.0h-1.0zM239.8,80.6h1.0v1.0h-1.0zM242.8,72.0h1.0v1.0h-1.0zM240.0,71.1h1.0v1.0h-1.0zM243.2,69.9h1.0v1.0h-1.0zM240.1,68.2h1.0v1.0h-1.0zM240.0,74.4h1.0v1.0h-1.0zM237.1,70.1h1.0v1.0h-1.0zM240.2,74.6h1.0v1.0h-1.0z" fill="#fff"/>
<path d="M243.5,68.0 L247.0,66.5 L250.5,69.0 L250.5,80.0 L249.5,90.0 L248.0,100.0 L248.5,112.0 L248.5,119.0 L247.0,122.0 L244.0,122.0 L242.8,118.0 L243.0,108.0 L243.5,95.0 L243.3,80.0Z" fill="#1ab3e6"/>
<path d="M252.5,117.5 C253.1,116.6 254.6,116.6 256.0,116.0 C257.4,115.4 259.5,114.2 261.0,114.0 C262.5,113.8 263.4,114.0 265.0,114.5 C266.6,115.0 268.8,116.0 270.6,117.0 C272.4,118.0 274.1,119.4 275.8,120.5 C277.5,121.6 279.4,122.7 281.0,123.8 C282.6,124.9 283.9,125.8 285.2,127.0 C286.4,128.2 288.0,129.9 288.5,131.0 C289.0,132.1 288.6,133.3 288.2,133.5 C287.8,133.7 286.9,132.7 286.0,132.0 C285.1,131.3 283.8,130.2 282.5,129.3 C281.2,128.4 280.0,127.7 278.5,126.8 C277.0,125.9 275.2,124.8 273.5,123.8 C271.8,122.8 269.7,121.2 268.0,120.5 C266.3,119.8 264.8,119.2 263.5,119.5 C262.2,119.8 261.8,121.9 260.5,122.5 C259.2,123.1 257.3,123.2 256.0,123.0 C254.7,122.8 253.1,122.4 252.5,121.5 C251.9,120.6 251.9,118.4 252.5,117.5Z" fill="#56b41e"/>
<path d="M280.0,141.0 C281.0,139.5 283.3,138.7 285.0,138.5 C286.7,138.3 288.1,140.0 290.0,140.0 C291.9,140.0 294.5,138.4 296.2,138.8 C298.0,139.1 299.7,140.5 300.5,142.0 C301.3,143.5 301.4,145.8 300.8,147.5 C300.2,149.2 298.8,150.9 297.0,152.0 C295.2,153.1 292.2,153.7 290.0,153.8 C287.8,153.9 285.3,153.6 283.5,152.5 C281.7,151.4 279.8,149.4 279.2,147.5 C278.6,145.6 279.0,142.5 280.0,141.0Z" fill="#56b41e"/>
<path d="M188.5,31.0 C189.1,29.9 190.6,29.3 191.5,29.5 C192.4,29.7 193.4,30.9 194.0,32.0 C194.6,33.1 195.2,34.9 195.0,36.0 C194.8,37.1 193.8,38.1 193.0,38.5 C192.2,38.9 190.8,38.9 190.0,38.5 C189.2,38.1 188.2,37.2 188.0,36.0 C187.8,34.8 187.9,32.1 188.5,31.0Z" fill="#f766d9"/>
<path d="M188.5,44.5 C189.1,44.0 190.0,44.0 190.3,44.3 C190.7,44.6 190.9,45.9 190.6,46.5 C190.3,47.1 189.2,47.8 188.5,48.2 C187.8,48.7 186.6,49.4 186.3,49.2 C186.1,49.0 186.6,47.8 187.0,47.0 C187.4,46.2 187.9,45.0 188.5,44.5Z" fill="#f766d9"/>
<path d="M210.0,42.5 C210.4,41.5 211.6,43.9 212.5,45.0 C213.4,46.1 214.7,47.7 215.5,49.0 C216.3,50.3 217.6,51.9 217.5,53.0 C217.4,54.1 216.0,55.0 215.0,55.5 C214.0,56.0 212.3,56.8 211.5,56.0 C210.7,55.2 210.2,53.2 210.0,51.0 C209.8,48.8 209.6,43.5 210.0,42.5Z" fill="#c49a0c"/>
<path d="M200.0,61.0 C200.8,60.3 202.8,59.8 204.0,59.8 C205.2,59.8 206.2,60.6 207.0,61.0 C207.8,61.4 208.8,61.7 209.0,62.3 C209.2,62.9 208.7,64.0 208.0,64.5 C207.3,65.0 205.9,64.8 205.0,65.3 C204.1,65.8 203.2,66.3 202.5,67.5 C201.8,68.7 201.4,71.4 200.8,72.3 C200.2,73.2 199.4,73.5 199.0,72.8 C198.6,72.1 198.6,69.5 198.6,68.0 C198.6,66.5 199.0,65.2 199.2,64.0 C199.4,62.8 199.2,61.7 200.0,61.0Z" fill="#c49a0c"/>
<circle cx="349.7" cy="39.0" r="3.8" fill="#f8766d"/>
<text x="358.5" y="42.8" font-size="10.5" fill="#222">Projection neurons</text>
<circle cx="349.7" cy="52.7" r="3.8" fill="#a78bfa"/>
<text x="358.5" y="56.5" font-size="10.5" fill="#222">Apical progenitors</text>
<circle cx="349.7" cy="66.4" r="3.8" fill="#1ab3e6"/>
<text x="358.5" y="70.2" font-size="10.5" fill="#222">Intermediate progenitors</text>
<circle cx="349.7" cy="80.1" r="3.8" fill="#56b41e"/>
<text x="358.5" y="83.89999999999999" font-size="10.5" fill="#222">Interneurons</text>
<circle cx="349.7" cy="93.8" r="3.8" fill="#c49a0c"/>
<text x="358.5" y="97.6" font-size="10.5" fill="#222">Endothelial cells</text>
<circle cx="349.7" cy="107.5" r="3.8" fill="#f766d9"/>
<text x="358.5" y="111.3" font-size="10.5" fill="#222">Microglia</text>
<line x1="182.4" y1="155.2" x2="182.4" y2="124" stroke="#333" stroke-width="1.2"/>
<line x1="182.4" y1="155.2" x2="214.6" y2="155.2" stroke="#333" stroke-width="1.2"/>
<path d="M178.9,125.0 L185.9,125.0 L182.4,118.0Z" fill="#333"/>
<path d="M213.6,151.7 L213.6,158.7 L220.6,155.2Z" fill="#333"/>
<text transform="translate(179.3,139.5) rotate(-90)" font-size="8.2" text-anchor="middle" fill="#222">UMAP 1</text>
<text x="182.8" y="163.5" font-size="8.2" fill="#222">UMAP 2</text>
<text x="474" y="13" font-size="17" font-weight="bold">c</text>
<rect x="527.2" y="21.7" width="9.7" height="9.7" fill="#a09ea2"/>
<rect x="527.2" y="34.5" width="9.7" height="9.7" fill="#0660d2"/>
<text x="540.2" y="30.0" font-size="9" fill="#222">CTL</text>
<text x="540.5" y="42.6" font-size="9" fill="#222"><tspan font-style="italic">Cep83</tspan> tKO</text>
<text x="637.3" y="45.6" font-size="8.1" text-anchor="middle" fill="#222">Cell proportion</text>
<rect x="603" y="53.6" width="34.10000000000002" height="12.6" fill="#a09ea2"/>
<rect x="637.1" y="53.6" width="34.10000000000002" height="12.6" fill="#0660d2"/>
<rect x="603" y="67.8" width="34.78200000000004" height="12.6" fill="#a09ea2"/>
<rect x="637.782" y="67.8" width="33.418000000000006" height="12.6" fill="#0660d2"/>
<rect x="603" y="82.0" width="30.690000000000055" height="12.6" fill="#a09ea2"/>
<rect x="633.69" y="82.0" width="37.50999999999999" height="12.6" fill="#0660d2"/>
<rect x="603" y="96.5" width="20.801000000000045" height="12.6" fill="#a09ea2"/>
<rect x="623.801" y="96.5" width="47.399" height="12.6" fill="#0660d2"/>
<rect x="603" y="110.9" width="36.14600000000007" height="12.6" fill="#a09ea2"/>
<rect x="639.1460000000001" y="110.9" width="32.053999999999974" height="12.6" fill="#0660d2"/>
<rect x="603" y="125.1" width="37.851" height="12.6" fill="#a09ea2"/>
<rect x="640.851" y="125.1" width="30.349000000000046" height="12.6" fill="#0660d2"/>
<text x="588.3" y="62.3" font-size="8.1" text-anchor="end" fill="#222">Projection neurons</text>
<circle cx="594.7" cy="59.9" r="3.2" fill="#f8766d"/>
<text x="588.3" y="76.5" font-size="8.1" text-anchor="end" fill="#222">Apical progenitors</text>
<circle cx="594.7" cy="74.1" r="3.2" fill="#a78bfa"/>
<text x="588.3" y="90.7" font-size="8.1" text-anchor="end" fill="#222">Interneurons</text>
<circle cx="594.7" cy="88.3" r="3.2" fill="#56b41e"/>
<text x="588.3" y="105.2" font-size="8.1" text-anchor="end" fill="#222">Intermediate progenitors</text>
<circle cx="594.7" cy="102.8" r="3.2" fill="#1ab3e6"/>
<text x="588.3" y="119.60000000000001" font-size="8.1" text-anchor="end" fill="#222">Endothelial cells</text>
<circle cx="594.7" cy="117.2" r="3.2" fill="#c49a0c"/>
<text x="588.3" y="133.79999999999998" font-size="8.1" text-anchor="end" fill="#222">Microglia</text>
<circle cx="594.7" cy="131.4" r="3.2" fill="#f766d9"/>
<text x="601.8" y="148" font-size="8.1" text-anchor="middle" fill="#222">0</text>
<text x="636.7" y="148" font-size="8.1" text-anchor="middle" fill="#222">0.5</text>
<text x="669.4" y="148" font-size="8.1" text-anchor="middle" fill="#222">1.0</text>
<text x="636.7" y="157.5" font-size="8.1" text-anchor="middle" fill="#222">fraction</text>
<text x="3" y="169.5" font-size="17" font-weight="bold">d</text>
<circle cx="42.1" cy="173.2" r="3.6" fill="#1ab3e6"/>
<text x="52.5" y="177.5" font-size="11.6" fill="#222">Intermediate progenitors</text>
<text x="109.3" y="194" font-size="9.3" text-anchor="middle" font-style="italic" fill="#222">Eomes/Tbr2</text>
<rect x="9.5" y="201.2" width="96.2" height="93.0" fill="none" stroke="#8a8a8a" stroke-width="0.8"/>
<rect x="114.4" y="201.1" width="96.1" height="92.70000000000002" fill="none" stroke="#8a8a8a" stroke-width="0.8"/>
<rect x="11.4" y="204" width="7" height="6.8" fill="#a09ea2"/>
<text x="21.8" y="211.1" font-size="9" fill="#222">CTL</text>
<rect x="116.8" y="203.8" width="7.6" height="6.8" fill="#0660d2"/>
<text x="126.5" y="210.6" font-size="9" fill="#222"><tspan font-style="italic">Cep83</tspan> tKO</text>
<rect x="6.6" y="256.8" width="10.5" height="41.30000000000001" fill="#fff"/>
<rect x="13.6" y="289.1" width="38.199999999999996" height="9" fill="#fff"/>
<line x1="14.6" y1="290.70000000000005" x2="14.6" y2="262.8" stroke="#555" stroke-width="1.3"/>
<line x1="14.0" y1="290.1" x2="45.8" y2="290.1" stroke="#444" stroke-width="1.3"/>
<path d="M10.9,264.4 L18.3,264.4 L14.6,257.8Z" fill="#333"/>
<path d="M44.2,286.6 L44.2,293.6 L50.8,290.1Z" fill="#333"/>
<text transform="translate(13.0,277.95000000000005) rotate(-90)" font-size="7.2" text-anchor="middle" fill="#222">UMAP 1</text>
<text x="17.0" y="297.90000000000003" font-size="7.2" fill="#222">UMAP 2</text>
<rect x="112.3" y="257" width="10.5" height="41.30000000000001" fill="#fff"/>
<rect x="119.3" y="289.3" width="38.60000000000001" height="9" fill="#fff"/>
<line x1="120.3" y1="290.90000000000003" x2="120.3" y2="263" stroke="#555" stroke-width="1.3"/>
<line x1="119.7" y1="290.3" x2="151.9" y2="290.3" stroke="#444" stroke-width="1.3"/>
<path d="M116.6,264.6 L124.0,264.6 L120.3,258.0Z" fill="#333"/>
<path d="M150.3,286.8 L150.3,293.8 L156.9,290.3Z" fill="#333"/>
<text transform="translate(118.7,278.15) rotate(-90)" font-size="7.2" text-anchor="middle" fill="#222">UMAP 1</text>
<text x="122.7" y="298.1" font-size="7.2" fill="#222">UMAP 2</text>
<path d="M43.6,229.8h1.2v1.2h-1.2z" fill="#6a4cee"/>
<path d="M43.2,234.3h1.2v1.2h-1.2z" fill="#8a70f2"/>
<path d="M44.2,230.7h1.2v1.2h-1.2z" fill="#5a3cee"/>
<path d="M43.5,229.9h1.2v1.2h-1.2zM43.7,234.4h1.2v1.2h-1.2z" fill="#9b86f4"/>
<path d="M45.1,250.1h1.2v1.2h-1.2zM45.8,240.7h1.2v1.2h-1.2zM45.0,245.2h1.2v1.2h-1.2zM43.6,246.1h1.2v1.2h-1.2zM45.7,247.2h1.2v1.2h-1.2zM44.5,241.2h1.2v1.2h-1.2zM42.3,242.6h1.2v1.2h-1.2zM44.4,244.5h1.2v1.2h-1.2zM46.6,240.3h1.2v1.2h-1.2zM45.7,243.6h1.2v1.2h-1.2z" fill="#7256f0"/>
<path d="M43.7,241.3h1.2v1.2h-1.2zM42.2,243.9h1.2v1.2h-1.2zM45.3,246.2h1.2v1.2h-1.2zM44.3,246.5h1.2v1.2h-1.2z" fill="#7a5cf0"/>
<path d="M44.2,249.5h1.2v1.2h-1.2zM42.8,247.8h1.2v1.2h-1.2zM44.7,240.9h1.2v1.2h-1.2zM44.3,245.1h1.2v1.2h-1.2zM43.2,245.6h1.2v1.2h-1.2zM41.6,248.4h1.2v1.2h-1.2zM45.1,239.2h1.2v1.2h-1.2z" fill="#8a70f2"/>
<path d="M44.7,238.9h1.2v1.2h-1.2zM43.7,241.2h1.2v1.2h-1.2zM45.2,243.3h1.2v1.2h-1.2zM46.1,241.2h1.2v1.2h-1.2zM45.9,242.4h1.2v1.2h-1.2zM46.1,239.9h1.2v1.2h-1.2zM42.9,238.0h1.2v1.2h-1.2z" fill="#5a3cee"/>
<path d="M45.7,241.7h1.2v1.2h-1.2zM43.1,246.2h1.2v1.2h-1.2zM46.4,242.2h1.2v1.2h-1.2zM43.1,243.2h1.2v1.2h-1.2zM42.6,244.6h1.2v1.2h-1.2zM44.0,238.6h1.2v1.2h-1.2zM43.6,242.4h1.2v1.2h-1.2z" fill="#9b86f4"/>
<path d="M45.3,243.0h1.2v1.2h-1.2zM44.2,239.4h1.2v1.2h-1.2zM44.4,246.8h1.2v1.2h-1.2zM43.9,243.6h1.2v1.2h-1.2zM43.9,243.4h1.2v1.2h-1.2zM44.0,247.8h1.2v1.2h-1.2zM42.4,242.5h1.2v1.2h-1.2zM46.5,242.2h1.2v1.2h-1.2zM45.2,249.1h1.2v1.2h-1.2zM43.7,246.7h1.2v1.2h-1.2z" fill="#6a4cee"/>
<path d="M41.9,262.8h1.2v1.2h-1.2zM41.8,267.9h1.2v1.2h-1.2zM41.2,262.3h1.2v1.2h-1.2zM44.9,262.9h1.2v1.2h-1.2zM43.2,259.1h1.2v1.2h-1.2zM42.8,261.9h1.2v1.2h-1.2zM45.0,265.5h1.2v1.2h-1.2zM43.7,267.9h1.2v1.2h-1.2z" fill="#7256f0"/>
<path d="M43.8,263.5h1.2v1.2h-1.2zM41.9,266.4h1.2v1.2h-1.2zM45.2,267.3h1.2v1.2h-1.2zM43.2,262.4h1.2v1.2h-1.2zM43.3,259.0h1.2v1.2h-1.2zM42.7,266.4h1.2v1.2h-1.2zM40.8,265.3h1.2v1.2h-1.2zM41.8,269.1h1.2v1.2h-1.2zM43.3,258.7h1.2v1.2h-1.2zM43.9,262.9h1.2v1.2h-1.2zM44.5,269.9h1.2v1.2h-1.2z" fill="#9b86f4"/>
<path d="M41.1,266.8h1.2v1.2h-1.2zM44.4,260.4h1.2v1.2h-1.2zM43.9,265.3h1.2v1.2h-1.2zM42.8,265.2h1.2v1.2h-1.2zM43.1,262.0h1.2v1.2h-1.2zM42.0,264.0h1.2v1.2h-1.2zM44.1,259.0h1.2v1.2h-1.2zM44.5,262.6h1.2v1.2h-1.2zM42.4,268.0h1.2v1.2h-1.2z" fill="#8a70f2"/>
<path d="M43.3,259.9h1.2v1.2h-1.2zM42.8,262.5h1.2v1.2h-1.2zM42.1,263.6h1.2v1.2h-1.2zM42.2,266.0h1.2v1.2h-1.2zM44.3,261.8h1.2v1.2h-1.2zM41.7,259.6h1.2v1.2h-1.2zM45.1,265.6h1.2v1.2h-1.2zM43.0,264.1h1.2v1.2h-1.2zM43.6,264.6h1.2v1.2h-1.2z" fill="#7a5cf0"/>
<path d="M43.6,260.4h1.2v1.2h-1.2zM45.2,266.4h1.2v1.2h-1.2zM43.6,267.1h1.2v1.2h-1.2zM42.9,270.5h1.2v1.2h-1.2zM41.7,265.7h1.2v1.2h-1.2zM43.1,265.1h1.2v1.2h-1.2zM44.5,263.3h1.2v1.2h-1.2zM45.1,270.6h1.2v1.2h-1.2zM43.4,265.2h1.2v1.2h-1.2zM41.3,261.8h1.2v1.2h-1.2z" fill="#6a4cee"/>
<path d="M42.4,266.6h1.2v1.2h-1.2zM41.1,259.8h1.2v1.2h-1.2zM45.3,265.2h1.2v1.2h-1.2zM43.6,263.7h1.2v1.2h-1.2zM40.9,266.4h1.2v1.2h-1.2zM44.6,266.5h1.2v1.2h-1.2zM41.1,259.9h1.2v1.2h-1.2zM41.7,261.6h1.2v1.2h-1.2z" fill="#5a3cee"/>
<path d="M153.9,224.1h1.2v1.2h-1.2zM153.9,225.8h1.2v1.2h-1.2z" fill="#7a5cf0"/>
<path d="M155.0,222.9h1.2v1.2h-1.2z" fill="#8a70f2"/>
<path d="M154.0,226.0h1.2v1.2h-1.2z" fill="#9b86f4"/>
<path d="M155.1,224.4h1.2v1.2h-1.2zM154.6,222.5h1.2v1.2h-1.2z" fill="#5a3cee"/>
<path d="M151.5,250.6h1.3v1.3h-1.3zM151.6,251.1h1.3v1.3h-1.3zM148.6,241.4h1.3v1.3h-1.3zM152.4,251.0h1.3v1.3h-1.3zM150.1,253.6h1.3v1.3h-1.3zM150.7,240.4h1.3v1.3h-1.3zM148.8,253.4h1.3v1.3h-1.3zM150.3,251.8h1.3v1.3h-1.3zM150.0,246.3h1.3v1.3h-1.3zM147.7,251.7h1.3v1.3h-1.3zM150.9,239.8h1.3v1.3h-1.3zM149.1,252.5h1.3v1.3h-1.3zM150.6,241.4h1.3v1.3h-1.3z" fill="#5a3cee"/>
<path d="M150.5,254.0h1.3v1.3h-1.3zM147.6,245.1h1.3v1.3h-1.3zM151.7,241.1h1.3v1.3h-1.3zM151.5,245.8h1.3v1.3h-1.3zM150.1,243.8h1.3v1.3h-1.3zM152.3,242.7h1.3v1.3h-1.3zM152.6,248.5h1.3v1.3h-1.3zM147.4,243.9h1.3v1.3h-1.3zM150.5,244.1h1.3v1.3h-1.3zM150.1,243.9h1.3v1.3h-1.3zM151.4,253.2h1.3v1.3h-1.3zM152.5,251.9h1.3v1.3h-1.3zM148.2,250.4h1.3v1.3h-1.3zM151.5,247.2h1.3v1.3h-1.3zM149.0,248.1h1.3v1.3h-1.3zM147.5,250.4h1.3v1.3h-1.3zM148.9,247.1h1.3v1.3h-1.3zM150.2,240.5h1.3v1.3h-1.3zM148.2,251.6h1.3v1.3h-1.3zM149.8,241.9h1.3v1.3h-1.3z" fill="#6a4cee"/>
<path d="M148.6,249.3h1.3v1.3h-1.3zM151.9,250.8h1.3v1.3h-1.3zM149.9,247.4h1.3v1.3h-1.3zM151.4,241.8h1.3v1.3h-1.3zM148.7,240.6h1.3v1.3h-1.3zM152.2,244.4h1.3v1.3h-1.3zM151.2,246.6h1.3v1.3h-1.3zM151.0,239.2h1.3v1.3h-1.3zM152.8,244.3h1.3v1.3h-1.3zM147.7,249.9h1.3v1.3h-1.3zM147.4,249.4h1.3v1.3h-1.3zM150.4,253.3h1.3v1.3h-1.3zM149.3,247.5h1.3v1.3h-1.3zM151.0,253.7h1.3v1.3h-1.3zM149.9,254.6h1.3v1.3h-1.3zM151.1,247.9h1.3v1.3h-1.3zM147.7,246.9h1.3v1.3h-1.3zM151.3,246.8h1.3v1.3h-1.3zM151.4,250.9h1.3v1.3h-1.3zM151.1,245.1h1.3v1.3h-1.3z" fill="#8a70f2"/>
<path d="M150.7,249.9h1.3v1.3h-1.3zM148.2,242.8h1.3v1.3h-1.3zM148.8,250.0h1.3v1.3h-1.3zM150.0,253.4h1.3v1.3h-1.3zM150.2,244.4h1.3v1.3h-1.3zM149.7,248.0h1.3v1.3h-1.3zM149.4,245.0h1.3v1.3h-1.3zM149.4,241.9h1.3v1.3h-1.3zM148.7,245.8h1.3v1.3h-1.3zM149.5,241.8h1.3v1.3h-1.3zM152.1,241.6h1.3v1.3h-1.3zM151.4,253.3h1.3v1.3h-1.3zM151.8,243.1h1.3v1.3h-1.3z" fill="#9b86f4"/>
<path d="M151.0,249.9h1.3v1.3h-1.3zM150.0,249.4h1.3v1.3h-1.3zM149.8,246.5h1.3v1.3h-1.3zM152.0,245.0h1.3v1.3h-1.3zM148.6,245.1h1.3v1.3h-1.3zM147.6,249.1h1.3v1.3h-1.3zM148.8,250.0h1.3v1.3h-1.3zM152.6,248.3h1.3v1.3h-1.3zM152.8,243.2h1.3v1.3h-1.3zM151.5,242.5h1.3v1.3h-1.3zM148.1,250.4h1.3v1.3h-1.3zM148.0,247.7h1.3v1.3h-1.3zM149.7,243.1h1.3v1.3h-1.3z" fill="#7256f0"/>
<path d="M148.2,252.4h1.3v1.3h-1.3zM148.4,247.4h1.3v1.3h-1.3zM151.4,244.9h1.3v1.3h-1.3zM149.5,246.2h1.3v1.3h-1.3zM149.1,245.5h1.3v1.3h-1.3zM149.2,251.1h1.3v1.3h-1.3zM151.9,242.3h1.3v1.3h-1.3zM150.0,247.2h1.3v1.3h-1.3zM151.7,248.4h1.3v1.3h-1.3zM149.8,244.5h1.3v1.3h-1.3zM148.4,250.6h1.3v1.3h-1.3zM147.8,243.1h1.3v1.3h-1.3zM147.6,250.6h1.3v1.3h-1.3zM149.5,253.0h1.3v1.3h-1.3zM147.7,254.3h1.3v1.3h-1.3zM147.4,242.5h1.3v1.3h-1.3z" fill="#7a5cf0"/>
<path d="M151.5,262.0h1.3v1.3h-1.3zM148.9,263.4h1.3v1.3h-1.3zM148.7,268.0h1.3v1.3h-1.3zM151.5,265.8h1.3v1.3h-1.3zM150.7,258.3h1.3v1.3h-1.3zM149.6,259.4h1.3v1.3h-1.3zM147.6,269.4h1.3v1.3h-1.3zM152.0,268.0h1.3v1.3h-1.3zM148.5,264.2h1.3v1.3h-1.3zM150.0,258.5h1.3v1.3h-1.3zM150.8,266.7h1.3v1.3h-1.3zM149.5,267.2h1.3v1.3h-1.3zM149.9,259.9h1.3v1.3h-1.3zM150.5,270.8h1.3v1.3h-1.3zM150.4,264.2h1.3v1.3h-1.3zM150.2,270.9h1.3v1.3h-1.3z" fill="#5a3cee"/>
<path d="M148.7,270.4h1.3v1.3h-1.3zM151.9,266.6h1.3v1.3h-1.3zM151.0,267.2h1.3v1.3h-1.3zM149.9,263.7h1.3v1.3h-1.3zM152.3,264.6h1.3v1.3h-1.3zM148.8,264.5h1.3v1.3h-1.3zM148.6,261.0h1.3v1.3h-1.3zM152.9,269.7h1.3v1.3h-1.3zM149.7,265.5h1.3v1.3h-1.3zM148.1,266.5h1.3v1.3h-1.3zM148.7,261.9h1.3v1.3h-1.3zM150.6,260.8h1.3v1.3h-1.3zM148.1,270.3h1.3v1.3h-1.3zM147.4,267.5h1.3v1.3h-1.3zM147.7,266.4h1.3v1.3h-1.3zM151.2,267.6h1.3v1.3h-1.3zM148.5,261.7h1.3v1.3h-1.3zM147.9,270.0h1.3v1.3h-1.3z" fill="#7a5cf0"/>
<path d="M152.0,270.5h1.3v1.3h-1.3zM149.4,260.5h1.3v1.3h-1.3zM152.3,267.0h1.3v1.3h-1.3zM149.6,269.8h1.3v1.3h-1.3zM147.5,261.9h1.3v1.3h-1.3zM150.8,271.2h1.3v1.3h-1.3zM151.5,262.5h1.3v1.3h-1.3zM150.2,260.3h1.3v1.3h-1.3zM153.1,269.1h1.3v1.3h-1.3zM147.5,257.7h1.3v1.3h-1.3zM151.1,266.1h1.3v1.3h-1.3zM151.7,260.7h1.3v1.3h-1.3zM148.1,266.0h1.3v1.3h-1.3zM146.7,267.9h1.3v1.3h-1.3zM149.8,266.9h1.3v1.3h-1.3zM151.1,262.2h1.3v1.3h-1.3z" fill="#9b86f4"/>
<path d="M147.5,264.6h1.3v1.3h-1.3zM146.8,263.6h1.3v1.3h-1.3zM147.2,262.3h1.3v1.3h-1.3zM153.0,263.8h1.3v1.3h-1.3zM151.5,264.8h1.3v1.3h-1.3zM150.4,260.9h1.3v1.3h-1.3zM151.3,268.7h1.3v1.3h-1.3zM150.4,264.7h1.3v1.3h-1.3zM149.5,259.2h1.3v1.3h-1.3zM147.2,257.9h1.3v1.3h-1.3zM149.8,257.8h1.3v1.3h-1.3zM149.5,259.2h1.3v1.3h-1.3z" fill="#8a70f2"/>
<path d="M149.0,270.7h1.3v1.3h-1.3zM148.2,268.1h1.3v1.3h-1.3zM149.2,262.9h1.3v1.3h-1.3zM150.5,260.8h1.3v1.3h-1.3zM149.2,268.7h1.3v1.3h-1.3zM149.2,271.0h1.3v1.3h-1.3zM147.4,265.7h1.3v1.3h-1.3zM151.6,266.2h1.3v1.3h-1.3zM150.3,264.8h1.3v1.3h-1.3zM153.0,266.9h1.3v1.3h-1.3zM149.3,267.0h1.3v1.3h-1.3z" fill="#6a4cee"/>
<path d="M150.7,260.3h1.3v1.3h-1.3zM147.0,266.0h1.3v1.3h-1.3zM148.9,263.9h1.3v1.3h-1.3zM149.8,258.3h1.3v1.3h-1.3zM147.2,268.9h1.3v1.3h-1.3zM151.6,260.4h1.3v1.3h-1.3zM150.7,259.2h1.3v1.3h-1.3zM146.9,268.8h1.3v1.3h-1.3zM151.1,269.1h1.3v1.3h-1.3zM150.2,265.4h1.3v1.3h-1.3zM147.7,266.7h1.3v1.3h-1.3zM146.9,259.5h1.3v1.3h-1.3z" fill="#7256f0"/>
<defs><linearGradient id="cbd" x1="0" x2="1"><stop offset="0" stop-color="#e8e2f6"/><stop offset="1" stop-color="#3a25f0"/></linearGradient></defs>
<rect x="177.8" y="299.6" width="32.8" height="6.4" fill="url(#cbd)"/>
<text x="177" y="304.4" font-size="5.6" text-anchor="end" fill="#222">Expression</text>
<text x="177.8" y="312" font-size="5.6" fill="#222">Low</text>
<text x="210.60000000000002" y="312" font-size="5.6" text-anchor="end" fill="#222">High</text>
<line x1="232.1" y1="212" x2="232.1" y2="286.2" stroke="#999" stroke-width="0.6"/>
<line x1="232.1" y1="286.2" x2="289.6" y2="286.2" stroke="#999" stroke-width="0.6"/>
<text x="229.2" y="236.0" font-size="5" text-anchor="end" fill="#333">2</text>
<line x1="230.6" y1="234.2" x2="232.1" y2="234.2" stroke="#999" stroke-width="0.5"/>
<text x="229.2" y="260.2" font-size="5" text-anchor="end" fill="#333">1</text>
<line x1="230.6" y1="258.4" x2="232.1" y2="258.4" stroke="#999" stroke-width="0.5"/>
<text x="229.2" y="284.7" font-size="5" text-anchor="end" fill="#333">0</text>
<line x1="230.6" y1="282.9" x2="232.1" y2="282.9" stroke="#999" stroke-width="0.5"/>
<text transform="translate(224.4,249.3) rotate(-90)" font-size="8.2" text-anchor="middle" fill="#222">Expression Level</text>
<path d="M250.6,219.6 C251.1,219.7 252.0,218.9 252.8,220.0 C253.6,221.1 254.0,224.0 255.2,226.2 C256.4,228.4 258.9,230.9 260.0,233.3 C261.1,235.7 261.5,238.0 261.5,240.4 C261.5,242.8 260.8,244.8 260.0,247.5 C259.2,250.2 257.5,253.4 256.5,256.3 C255.5,259.2 254.5,262.2 253.8,265.2 C253.1,268.1 252.3,271.6 252.1,274.0 C251.9,276.4 252.4,277.8 252.5,279.3 C252.6,280.8 252.8,282.3 252.5,283.0 C252.2,283.7 251.0,283.2 250.6,283.3 C250.2,283.4 250.4,283.4 250.0,283.3 C249.6,283.2 248.4,283.7 248.1,283.0 C247.8,282.3 248.0,280.8 248.1,279.3 C248.2,277.8 248.7,276.4 248.5,274.0 C248.3,271.6 247.5,268.1 246.8,265.2 C246.1,262.2 245.1,259.2 244.1,256.3 C243.1,253.4 241.4,250.2 240.6,247.5 C239.8,244.8 239.1,242.8 239.1,240.4 C239.1,238.0 239.6,235.7 240.6,233.3 C241.7,230.9 244.2,228.4 245.4,226.2 C246.6,224.0 247.0,221.1 247.8,220.0 C248.6,218.9 249.5,219.7 250.0,219.6 C250.5,219.5 250.1,219.5 250.6,219.6Z" fill="#a09ea2"/>
<path d="M272.1,215.2 C272.9,216.4 275.4,220.6 276.8,222.7 C278.2,224.8 279.3,226.2 280.3,228.0 C281.3,229.8 282.8,231.2 282.8,233.3 C282.8,235.4 281.4,237.5 280.3,240.4 C279.1,243.3 277.0,247.5 275.9,251.0 C274.8,254.5 274.4,258.1 273.9,261.6 C273.4,265.2 273.0,269.6 272.8,272.3 C272.5,275.0 272.2,276.2 272.4,277.6 C272.5,279.1 273.6,280.1 273.7,281.0 C273.8,281.9 273.4,282.8 273.1,283.2 C272.8,283.6 272.3,283.4 272.1,283.5 C271.9,283.6 271.9,283.6 271.7,283.5 C271.5,283.4 271.0,283.6 270.7,283.2 C270.4,282.8 270.0,281.9 270.1,281.0 C270.2,280.1 271.2,279.1 271.4,277.6 C271.5,276.2 271.2,275.0 271.0,272.3 C270.8,269.6 270.4,265.2 269.9,261.6 C269.4,258.1 269.0,254.5 267.9,251.0 C266.8,247.5 264.6,243.3 263.5,240.4 C262.4,237.5 261.0,235.4 261.0,233.3 C261.0,231.2 262.5,229.8 263.5,228.0 C264.5,226.2 265.6,224.8 267.0,222.7 C268.4,220.6 270.9,216.4 271.7,215.2 C272.5,213.9 271.2,213.9 272.1,215.2Z" fill="#0660d2"/>
<text x="260.5" y="195.7" font-size="9.3" text-anchor="middle" font-style="italic" fill="#222">Eomes/Tbr2</text>
<text x="259.7" y="299.2" font-size="8.2" text-anchor="middle" fill="#222">Intermediate progenitors</text>
<text x="302.2" y="169" font-size="17" font-weight="bold">e</text>
<path d="M330.2,233.5 C331.5,231.9 332.4,231.3 335.6,232.2 C338.8,233.1 345.4,236.0 349.2,238.9 C353.0,241.8 357.5,247.5 358.6,249.8 C359.7,252.1 357.2,250.2 355.9,252.7 C354.6,255.2 352.5,261.2 350.8,265.0 C349.1,268.8 347.8,272.8 345.7,275.2 C343.6,277.6 340.9,279.6 338.5,279.3 C336.1,279.0 333.3,276.2 331.4,273.1 C329.5,270.0 327.9,266.1 327.3,260.9 C326.7,255.6 327.5,246.2 328.0,241.6 C328.5,237.0 328.9,235.1 330.2,233.5Z" fill="#c6b3dd"/>
<path d="M399.3,184.8 C400.9,183.7 400.4,188.7 403.3,191.6 C406.2,194.5 412.8,199.5 416.9,202.4 C421.0,205.3 425.7,205.8 427.7,209.2 C429.7,212.6 429.4,218.6 429.0,222.7 C428.6,226.8 427.9,231.5 425.0,233.5 C422.1,235.5 415.0,235.3 411.4,234.9 C407.8,234.5 406.4,232.8 403.3,230.8 C400.2,228.8 394.8,225.8 392.5,222.7 C390.2,219.5 389.6,216.0 389.8,211.9 C390.0,207.8 392.2,202.8 393.8,198.3 C395.4,193.8 397.7,185.9 399.3,184.8Z" fill="#b07e7e"/>
<path d="M387.0,233.5 C388.9,231.2 390.9,231.8 392.7,231.3 C394.5,230.9 395.9,230.5 397.9,230.8 C399.9,231.1 402.9,231.7 404.9,233.3 C406.9,234.9 409.8,237.6 410.0,240.5 C410.2,243.4 406.8,247.3 406.0,250.7 C405.2,254.1 403.8,258.2 405.0,260.9 C406.2,263.6 411.6,265.5 413.1,267.0 C414.6,268.5 415.4,269.5 414.0,270.0 C412.6,270.5 407.5,268.6 405.0,270.0 C402.5,271.4 400.7,276.8 398.8,278.2 C396.9,279.6 396.4,280.1 393.7,278.2 C391.0,276.3 385.3,270.6 382.4,267.0 C379.5,263.4 376.4,260.5 376.3,256.8 C376.2,253.1 379.8,248.9 381.6,245.0 C383.4,241.1 385.1,235.8 387.0,233.5Z" fill="#a4da84"/>
<path d="M335.6,217.3 C336.5,212.8 337.4,207.8 339.7,203.7 C342.0,199.6 345.8,195.8 349.2,192.9 C352.6,190.0 355.9,187.9 360.0,186.1 C364.1,184.3 369.4,183.1 373.5,182.0 C377.6,180.9 381.2,180.1 384.4,179.4 C387.6,178.7 390.0,177.1 392.5,178.0 C395.0,178.9 398.6,182.3 399.3,184.8 C400.0,187.3 397.6,190.0 396.5,192.9 C395.4,195.8 393.6,198.6 392.5,202.4 C391.4,206.2 389.8,212.1 389.8,215.9 C389.8,219.7 393.4,222.5 392.5,225.4 C391.6,228.3 388.0,230.8 384.4,233.5 C380.8,236.2 374.9,238.9 370.8,241.6 C366.7,244.3 362.9,249.3 360.0,249.8 C357.1,250.3 356.1,246.7 353.2,244.4 C350.3,242.1 345.5,238.5 342.4,236.2 C339.2,233.9 335.4,234.0 334.3,230.8 C333.2,227.7 334.7,221.8 335.6,217.3Z" fill="#e6a50b"/>
<path d="M361.1,247.9h0.9v0.9h-0.9zM359.9,248.5h0.9v0.9h-0.9zM337.7,212.8h0.9v0.9h-0.9zM352.0,224.4h0.9v0.9h-0.9zM366.4,238.9h0.9v0.9h-0.9zM388.6,226.2h0.9v0.9h-0.9zM381.7,221.2h0.9v0.9h-0.9zM335.1,227.9h0.9v0.9h-0.9zM354.8,190.1h0.9v0.9h-0.9zM334.8,230.5h0.9v0.9h-0.9zM336.0,227.6h0.9v0.9h-0.9zM383.1,231.0h0.9v0.9h-0.9zM349.4,193.9h0.9v0.9h-0.9zM375.8,197.1h0.9v0.9h-0.9zM389.3,211.9h0.9v0.9h-0.9zM367.4,239.1h0.9v0.9h-0.9zM381.6,217.0h0.9v0.9h-0.9zM365.2,224.7h0.9v0.9h-0.9zM352.4,242.8h0.9v0.9h-0.9zM391.6,179.4h0.9v0.9h-0.9zM349.1,240.6h0.9v0.9h-0.9zM368.6,201.5h0.9v0.9h-0.9zM349.9,239.1h0.9v0.9h-0.9zM350.1,195.3h0.9v0.9h-0.9zM344.4,200.8h0.9v0.9h-0.9zM336.4,225.4h0.9v0.9h-0.9zM346.9,197.9h0.9v0.9h-0.9zM336.6,220.7h0.9v0.9h-0.9zM356.9,246.1h0.9v0.9h-0.9zM377.9,229.6h0.9v0.9h-0.9zM343.8,237.0h0.9v0.9h-0.9zM343.4,210.9h0.9v0.9h-0.9zM395.5,190.8h0.9v0.9h-0.9zM379.9,181.6h0.9v0.9h-0.9zM357.4,230.3h0.9v0.9h-0.9zM359.2,225.7h0.9v0.9h-0.9zM370.4,240.1h0.9v0.9h-0.9zM369.7,225.8h0.9v0.9h-0.9zM344.9,205.5h0.9v0.9h-0.9zM337.6,229.1h0.9v0.9h-0.9zM335.8,217.1h0.9v0.9h-0.9zM390.3,201.5h0.9v0.9h-0.9zM377.9,188.1h0.9v0.9h-0.9zM354.3,244.3h0.9v0.9h-0.9zM380.7,184.2h0.9v0.9h-0.9zM340.1,206.7h0.9v0.9h-0.9zM374.1,214.3h0.9v0.9h-0.9zM367.8,185.9h0.9v0.9h-0.9zM377.9,235.0h0.9v0.9h-0.9zM353.0,194.3h0.9v0.9h-0.9zM396.0,183.8h0.9v0.9h-0.9zM359.0,246.4h0.9v0.9h-0.9zM370.9,239.4h0.9v0.9h-0.9zM346.4,234.0h0.9v0.9h-0.9zM391.0,199.8h0.9v0.9h-0.9zM387.6,219.1h0.9v0.9h-0.9zM382.8,233.6h0.9v0.9h-0.9zM369.4,241.8h0.9v0.9h-0.9zM360.4,190.3h0.9v0.9h-0.9zM360.3,233.2h0.9v0.9h-0.9zM379.0,192.8h0.9v0.9h-0.9zM386.2,215.9h0.9v0.9h-0.9zM363.4,244.7h0.9v0.9h-0.9zM353.5,220.2h0.9v0.9h-0.9zM365.8,235.0h0.9v0.9h-0.9zM358.1,244.0h0.9v0.9h-0.9zM354.1,201.0h0.9v0.9h-0.9zM391.3,222.8h0.9v0.9h-0.9zM337.9,216.8h0.9v0.9h-0.9zM387.9,179.3h0.9v0.9h-0.9zM348.8,197.0h0.9v0.9h-0.9zM349.8,193.7h0.9v0.9h-0.9zM343.1,201.4h0.9v0.9h-0.9zM344.2,210.8h0.9v0.9h-0.9zM384.0,179.7h0.9v0.9h-0.9zM356.6,188.9h0.9v0.9h-0.9zM392.7,196.2h0.9v0.9h-0.9zM366.5,233.1h0.9v0.9h-0.9zM379.9,227.8h0.9v0.9h-0.9zM389.9,181.0h0.9v0.9h-0.9zM354.0,213.9h0.9v0.9h-0.9zM362.1,188.0h0.9v0.9h-0.9zM386.5,180.2h0.9v0.9h-0.9zM335.3,221.0h0.9v0.9h-0.9zM364.3,187.3h0.9v0.9h-0.9zM372.5,186.6h0.9v0.9h-0.9zM359.2,247.3h0.9v0.9h-0.9zM336.4,224.0h0.9v0.9h-0.9zM349.3,202.2h0.9v0.9h-0.9zM369.0,188.0h0.9v0.9h-0.9zM388.5,183.1h0.9v0.9h-0.9zM385.0,181.1h0.9v0.9h-0.9zM336.1,219.1h0.9v0.9h-0.9zM373.2,229.5h0.9v0.9h-0.9zM342.0,208.5h0.9v0.9h-0.9zM369.4,184.6h0.9v0.9h-0.9zM394.9,195.6h0.9v0.9h-0.9zM355.2,244.5h0.9v0.9h-0.9zM349.1,240.0h0.9v0.9h-0.9zM370.6,240.0h0.9v0.9h-0.9zM335.8,217.6h0.9v0.9h-0.9zM335.6,227.6h0.9v0.9h-0.9zM358.2,220.9h0.9v0.9h-0.9zM363.9,185.5h0.9v0.9h-0.9zM347.3,219.2h0.9v0.9h-0.9zM341.7,210.0h0.9v0.9h-0.9zM376.5,236.2h0.9v0.9h-0.9zM339.0,219.0h0.9v0.9h-0.9zM383.0,232.0h0.9v0.9h-0.9zM353.6,218.4h0.9v0.9h-0.9zM379.1,182.3h0.9v0.9h-0.9zM374.3,206.0h0.9v0.9h-0.9zM343.9,234.7h0.9v0.9h-0.9zM385.0,222.4h0.9v0.9h-0.9zM336.3,224.6h0.9v0.9h-0.9zM362.1,187.7h0.9v0.9h-0.9zM356.7,235.8h0.9v0.9h-0.9zM361.5,245.0h0.9v0.9h-0.9zM362.6,187.2h0.9v0.9h-0.9zM390.8,219.9h0.9v0.9h-0.9zM340.9,205.0h0.9v0.9h-0.9zM372.0,240.8h0.9v0.9h-0.9zM361.5,248.0h0.9v0.9h-0.9zM374.8,206.3h0.9v0.9h-0.9zM389.9,201.7h0.9v0.9h-0.9zM374.4,194.7h0.9v0.9h-0.9zM362.1,224.9h0.9v0.9h-0.9zM381.6,235.0h0.9v0.9h-0.9zM337.3,225.8h0.9v0.9h-0.9zM359.0,244.6h0.9v0.9h-0.9zM358.6,193.2h0.9v0.9h-0.9zM367.9,212.6h0.9v0.9h-0.9zM367.0,244.2h0.9v0.9h-0.9zM366.7,186.0h0.9v0.9h-0.9zM335.7,229.2h0.9v0.9h-0.9zM339.7,205.8h0.9v0.9h-0.9zM378.2,207.9h0.9v0.9h-0.9zM369.1,185.8h0.9v0.9h-0.9zM392.6,197.5h0.9v0.9h-0.9zM369.6,223.1h0.9v0.9h-0.9zM368.5,184.6h0.9v0.9h-0.9zM389.0,227.2h0.9v0.9h-0.9zM337.9,226.6h0.9v0.9h-0.9zM338.2,212.6h0.9v0.9h-0.9zM363.9,217.5h0.9v0.9h-0.9zM359.6,244.5h0.9v0.9h-0.9zM386.0,231.1h0.9v0.9h-0.9zM354.6,207.4h0.9v0.9h-0.9zM361.6,186.3h0.9v0.9h-0.9zM345.4,226.9h0.9v0.9h-0.9zM371.9,188.8h0.9v0.9h-0.9zM355.6,223.8h0.9v0.9h-0.9zM362.3,241.2h0.9v0.9h-0.9zM336.7,231.4h0.9v0.9h-0.9zM354.3,208.8h0.9v0.9h-0.9zM344.9,200.6h0.9v0.9h-0.9zM395.6,189.5h0.9v0.9h-0.9zM342.1,226.6h0.9v0.9h-0.9zM398.7,186.5h0.9v0.9h-0.9zM384.2,217.9h0.9v0.9h-0.9zM356.4,240.1h0.9v0.9h-0.9zM369.9,237.8h0.9v0.9h-0.9zM396.4,190.5h0.9v0.9h-0.9zM371.0,213.5h0.9v0.9h-0.9zM398.5,186.4h0.9v0.9h-0.9zM365.8,244.6h0.9v0.9h-0.9zM363.9,238.5h0.9v0.9h-0.9zM389.3,210.1h0.9v0.9h-0.9zM358.5,236.5h0.9v0.9h-0.9zM345.4,228.6h0.9v0.9h-0.9zM391.4,181.5h0.9v0.9h-0.9zM366.0,244.9h0.9v0.9h-0.9zM357.8,246.1h0.9v0.9h-0.9zM395.4,188.9h0.9v0.9h-0.9zM351.5,229.3h0.9v0.9h-0.9zM352.3,232.6h0.9v0.9h-0.9zM390.4,226.4h0.9v0.9h-0.9zM392.6,199.0h0.9v0.9h-0.9zM385.7,230.0h0.9v0.9h-0.9zM382.2,229.0h0.9v0.9h-0.9zM377.8,221.1h0.9v0.9h-0.9zM352.8,191.8h0.9v0.9h-0.9zM366.2,241.3h0.9v0.9h-0.9zM345.2,197.7h0.9v0.9h-0.9zM372.6,230.6h0.9v0.9h-0.9zM388.7,215.1h0.9v0.9h-0.9zM361.4,188.0h0.9v0.9h-0.9zM356.9,247.2h0.9v0.9h-0.9zM348.4,194.3h0.9v0.9h-0.9zM362.3,222.8h0.9v0.9h-0.9zM389.3,217.5h0.9v0.9h-0.9zM356.6,246.2h0.9v0.9h-0.9zM341.7,224.8h0.9v0.9h-0.9zM337.8,210.1h0.9v0.9h-0.9zM338.0,213.6h0.9v0.9h-0.9zM379.6,208.9h0.9v0.9h-0.9zM378.8,233.5h0.9v0.9h-0.9zM364.4,242.3h0.9v0.9h-0.9zM353.9,208.3h0.9v0.9h-0.9zM395.0,193.2h0.9v0.9h-0.9zM389.6,178.8h0.9v0.9h-0.9zM383.1,226.8h0.9v0.9h-0.9zM342.8,200.4h0.9v0.9h-0.9zM392.3,179.5h0.9v0.9h-0.9zM391.3,225.2h0.9v0.9h-0.9zM396.1,193.5h0.9v0.9h-0.9zM353.6,241.2h0.9v0.9h-0.9zM377.8,236.9h0.9v0.9h-0.9zM394.7,191.9h0.9v0.9h-0.9zM390.2,209.3h0.9v0.9h-0.9zM381.7,180.4h0.9v0.9h-0.9zM350.4,215.8h0.9v0.9h-0.9zM374.6,182.2h0.9v0.9h-0.9zM337.9,215.1h0.9v0.9h-0.9zM366.9,215.4h0.9v0.9h-0.9zM345.5,200.3h0.9v0.9h-0.9zM391.5,224.3h0.9v0.9h-0.9zM375.8,237.2h0.9v0.9h-0.9zM338.5,211.0h0.9v0.9h-0.9zM368.1,187.1h0.9v0.9h-0.9zM390.5,211.0h0.9v0.9h-0.9zM360.9,240.8h0.9v0.9h-0.9zM354.7,190.7h0.9v0.9h-0.9zM360.8,205.1h0.9v0.9h-0.9zM374.4,218.0h0.9v0.9h-0.9zM349.2,198.9h0.9v0.9h-0.9zM390.9,226.5h0.9v0.9h-0.9zM359.5,247.9h0.9v0.9h-0.9zM351.1,194.3h0.9v0.9h-0.9zM387.5,217.6h0.9v0.9h-0.9zM336.5,228.1h0.9v0.9h-0.9zM357.4,216.5h0.9v0.9h-0.9zM340.0,204.4h0.9v0.9h-0.9zM368.3,183.7h0.9v0.9h-0.9zM377.8,194.6h0.9v0.9h-0.9zM353.2,229.8h0.9v0.9h-0.9zM376.8,235.6h0.9v0.9h-0.9zM381.6,180.2h0.9v0.9h-0.9zM385.4,230.1h0.9v0.9h-0.9zM346.4,235.8h0.9v0.9h-0.9zM353.8,190.8h0.9v0.9h-0.9zM381.7,234.6h0.9v0.9h-0.9zM377.4,223.5h0.9v0.9h-0.9zM348.4,237.1h0.9v0.9h-0.9zM353.9,213.6h0.9v0.9h-0.9zM397.4,183.6h0.9v0.9h-0.9zM349.3,235.5h0.9v0.9h-0.9zM366.2,243.7h0.9v0.9h-0.9zM347.8,221.7h0.9v0.9h-0.9zM394.8,193.8h0.9v0.9h-0.9zM382.9,182.2h0.9v0.9h-0.9zM382.8,182.5h0.9v0.9h-0.9zM390.6,220.3h0.9v0.9h-0.9zM337.2,217.0h0.9v0.9h-0.9zM365.6,242.9h0.9v0.9h-0.9zM390.8,206.7h0.9v0.9h-0.9zM386.9,193.7h0.9v0.9h-0.9zM394.5,197.2h0.9v0.9h-0.9zM367.8,204.9h0.9v0.9h-0.9zM358.6,192.1h0.9v0.9h-0.9z" fill="#fff"/>
<path d="M351.3,255.4h0.9v0.9h-0.9zM340.9,242.2h0.9v0.9h-0.9zM332.7,234.4h0.9v0.9h-0.9zM331.7,269.0h0.9v0.9h-0.9zM329.5,255.7h0.9v0.9h-0.9zM356.4,249.5h0.9v0.9h-0.9zM341.4,240.6h0.9v0.9h-0.9zM340.1,258.1h0.9v0.9h-0.9zM331.3,233.8h0.9v0.9h-0.9zM346.4,271.0h0.9v0.9h-0.9zM346.4,271.9h0.9v0.9h-0.9zM338.4,261.6h0.9v0.9h-0.9zM337.3,235.5h0.9v0.9h-0.9zM343.9,239.1h0.9v0.9h-0.9zM342.9,240.7h0.9v0.9h-0.9zM340.6,235.5h0.9v0.9h-0.9zM350.2,264.6h0.9v0.9h-0.9zM333.3,269.5h0.9v0.9h-0.9zM342.9,236.2h0.9v0.9h-0.9zM341.6,235.9h0.9v0.9h-0.9zM328.0,258.9h0.9v0.9h-0.9zM342.9,268.3h0.9v0.9h-0.9zM339.8,278.2h0.9v0.9h-0.9zM346.6,272.6h0.9v0.9h-0.9zM339.6,244.4h0.9v0.9h-0.9zM353.3,246.6h0.9v0.9h-0.9zM332.8,233.6h0.9v0.9h-0.9zM348.1,258.6h0.9v0.9h-0.9zM347.0,237.9h0.9v0.9h-0.9zM328.2,246.5h0.9v0.9h-0.9zM330.7,269.9h0.9v0.9h-0.9zM355.8,252.0h0.9v0.9h-0.9zM346.7,264.2h0.9v0.9h-0.9zM329.9,262.4h0.9v0.9h-0.9zM342.7,238.1h0.9v0.9h-0.9zM335.3,260.3h0.9v0.9h-0.9zM337.2,263.9h0.9v0.9h-0.9zM340.2,275.4h0.9v0.9h-0.9zM343.5,273.5h0.9v0.9h-0.9zM330.1,268.5h0.9v0.9h-0.9zM328.8,256.8h0.9v0.9h-0.9zM333.2,274.5h0.9v0.9h-0.9zM358.0,250.2h0.9v0.9h-0.9zM328.2,262.2h0.9v0.9h-0.9zM340.7,235.2h0.9v0.9h-0.9zM330.9,237.4h0.9v0.9h-0.9zM349.2,265.2h0.9v0.9h-0.9zM333.7,241.3h0.9v0.9h-0.9zM328.9,246.4h0.9v0.9h-0.9zM330.9,234.7h0.9v0.9h-0.9zM331.0,233.8h0.9v0.9h-0.9zM337.8,238.6h0.9v0.9h-0.9zM348.1,269.7h0.9v0.9h-0.9zM346.2,251.4h0.9v0.9h-0.9zM341.3,237.5h0.9v0.9h-0.9zM350.5,262.0h0.9v0.9h-0.9zM345.8,239.5h0.9v0.9h-0.9zM328.8,248.2h0.9v0.9h-0.9zM346.6,268.6h0.9v0.9h-0.9zM351.3,244.3h0.9v0.9h-0.9zM328.5,262.6h0.9v0.9h-0.9zM347.6,238.7h0.9v0.9h-0.9zM332.2,270.0h0.9v0.9h-0.9zM344.5,237.2h0.9v0.9h-0.9zM334.7,275.6h0.9v0.9h-0.9zM346.8,237.9h0.9v0.9h-0.9zM331.3,265.6h0.9v0.9h-0.9zM329.4,236.9h0.9v0.9h-0.9zM342.2,275.0h0.9v0.9h-0.9zM344.0,240.5h0.9v0.9h-0.9zM339.2,236.4h0.9v0.9h-0.9zM339.6,252.6h0.9v0.9h-0.9zM348.7,264.4h0.9v0.9h-0.9zM351.8,262.4h0.9v0.9h-0.9zM341.4,235.5h0.9v0.9h-0.9zM331.5,266.5h0.9v0.9h-0.9zM343.1,276.6h0.9v0.9h-0.9zM346.2,263.5h0.9v0.9h-0.9zM346.4,262.5h0.9v0.9h-0.9zM354.5,255.4h0.9v0.9h-0.9zM331.9,262.8h0.9v0.9h-0.9zM353.7,257.4h0.9v0.9h-0.9zM335.8,241.2h0.9v0.9h-0.9zM327.6,253.0h0.9v0.9h-0.9zM338.3,237.3h0.9v0.9h-0.9zM335.1,233.0h0.9v0.9h-0.9zM337.6,276.3h0.9v0.9h-0.9zM346.9,267.2h0.9v0.9h-0.9zM346.2,269.1h0.9v0.9h-0.9zM328.4,245.1h0.9v0.9h-0.9zM329.0,250.5h0.9v0.9h-0.9zM333.3,263.0h0.9v0.9h-0.9zM332.2,246.6h0.9v0.9h-0.9zM352.6,259.3h0.9v0.9h-0.9zM341.9,258.4h0.9v0.9h-0.9zM339.5,239.8h0.9v0.9h-0.9zM341.6,266.8h0.9v0.9h-0.9zM328.4,245.3h0.9v0.9h-0.9zM334.3,274.2h0.9v0.9h-0.9zM328.4,242.6h0.9v0.9h-0.9zM336.4,234.3h0.9v0.9h-0.9zM338.8,278.4h0.9v0.9h-0.9zM348.5,266.5h0.9v0.9h-0.9zM333.5,272.6h0.9v0.9h-0.9zM330.8,258.2h0.9v0.9h-0.9zM348.2,240.0h0.9v0.9h-0.9zM350.9,260.9h0.9v0.9h-0.9zM331.6,265.1h0.9v0.9h-0.9zM348.3,264.2h0.9v0.9h-0.9zM338.1,276.4h0.9v0.9h-0.9zM337.2,276.7h0.9v0.9h-0.9zM341.8,275.7h0.9v0.9h-0.9zM330.8,267.1h0.9v0.9h-0.9zM336.5,234.0h0.9v0.9h-0.9zM334.3,275.0h0.9v0.9h-0.9zM335.5,233.0h0.9v0.9h-0.9zM346.6,239.3h0.9v0.9h-0.9zM348.7,268.8h0.9v0.9h-0.9zM344.5,238.5h0.9v0.9h-0.9zM352.0,245.9h0.9v0.9h-0.9z" fill="#fff"/>
<path d="M424.8,227.8h0.9v0.9h-0.9zM427.7,218.5h0.9v0.9h-0.9zM415.9,232.9h0.9v0.9h-0.9zM411.6,213.4h0.9v0.9h-0.9zM392.7,210.9h0.9v0.9h-0.9zM392.6,215.5h0.9v0.9h-0.9zM426.1,227.0h0.9v0.9h-0.9zM427.2,224.3h0.9v0.9h-0.9zM420.6,232.0h0.9v0.9h-0.9zM395.2,205.1h0.9v0.9h-0.9zM400.6,187.5h0.9v0.9h-0.9zM425.8,219.0h0.9v0.9h-0.9zM405.5,200.9h0.9v0.9h-0.9zM393.6,204.0h0.9v0.9h-0.9zM405.7,196.4h0.9v0.9h-0.9zM396.8,212.8h0.9v0.9h-0.9zM397.2,222.3h0.9v0.9h-0.9zM426.1,212.3h0.9v0.9h-0.9zM427.7,226.2h0.9v0.9h-0.9zM424.3,230.6h0.9v0.9h-0.9zM391.3,215.8h0.9v0.9h-0.9zM409.4,197.1h0.9v0.9h-0.9zM415.3,204.2h0.9v0.9h-0.9zM394.9,204.7h0.9v0.9h-0.9zM409.8,228.5h0.9v0.9h-0.9zM420.2,206.7h0.9v0.9h-0.9zM414.8,233.8h0.9v0.9h-0.9zM395.0,211.3h0.9v0.9h-0.9zM428.0,216.4h0.9v0.9h-0.9zM392.7,203.5h0.9v0.9h-0.9zM408.5,218.9h0.9v0.9h-0.9zM426.7,216.2h0.9v0.9h-0.9zM421.6,233.4h0.9v0.9h-0.9zM406.8,230.7h0.9v0.9h-0.9zM425.4,212.1h0.9v0.9h-0.9zM403.9,193.7h0.9v0.9h-0.9zM405.6,196.4h0.9v0.9h-0.9zM392.7,208.3h0.9v0.9h-0.9zM402.2,229.9h0.9v0.9h-0.9zM399.4,186.3h0.9v0.9h-0.9zM412.8,201.6h0.9v0.9h-0.9zM403.0,224.6h0.9v0.9h-0.9zM428.0,220.1h0.9v0.9h-0.9zM414.2,205.3h0.9v0.9h-0.9zM408.8,213.4h0.9v0.9h-0.9zM394.1,200.9h0.9v0.9h-0.9zM412.1,232.5h0.9v0.9h-0.9zM404.2,192.5h0.9v0.9h-0.9zM403.2,194.5h0.9v0.9h-0.9zM425.8,211.8h0.9v0.9h-0.9zM409.0,196.2h0.9v0.9h-0.9zM421.2,233.0h0.9v0.9h-0.9zM418.3,204.3h0.9v0.9h-0.9zM425.1,230.8h0.9v0.9h-0.9zM393.1,213.9h0.9v0.9h-0.9zM391.2,212.0h0.9v0.9h-0.9zM415.7,202.2h0.9v0.9h-0.9zM401.3,189.5h0.9v0.9h-0.9zM402.7,193.9h0.9v0.9h-0.9zM398.8,227.2h0.9v0.9h-0.9zM423.2,232.7h0.9v0.9h-0.9zM398.9,202.3h0.9v0.9h-0.9zM423.0,218.4h0.9v0.9h-0.9zM410.4,200.6h0.9v0.9h-0.9zM406.5,231.8h0.9v0.9h-0.9zM425.0,232.2h0.9v0.9h-0.9zM394.6,200.7h0.9v0.9h-0.9zM395.5,223.2h0.9v0.9h-0.9zM393.5,210.3h0.9v0.9h-0.9zM404.1,231.2h0.9v0.9h-0.9zM419.2,204.6h0.9v0.9h-0.9zM425.3,208.0h0.9v0.9h-0.9zM425.0,209.1h0.9v0.9h-0.9zM399.8,227.3h0.9v0.9h-0.9zM415.6,229.4h0.9v0.9h-0.9zM398.4,196.0h0.9v0.9h-0.9zM412.1,217.1h0.9v0.9h-0.9zM418.7,210.5h0.9v0.9h-0.9zM427.4,218.7h0.9v0.9h-0.9zM395.1,202.3h0.9v0.9h-0.9zM391.4,210.5h0.9v0.9h-0.9zM419.6,205.4h0.9v0.9h-0.9zM396.6,215.9h0.9v0.9h-0.9zM423.5,232.4h0.9v0.9h-0.9zM424.4,221.9h0.9v0.9h-0.9zM409.5,197.0h0.9v0.9h-0.9zM403.8,192.1h0.9v0.9h-0.9zM401.2,225.6h0.9v0.9h-0.9zM398.0,190.6h0.9v0.9h-0.9zM424.5,229.9h0.9v0.9h-0.9zM412.6,215.1h0.9v0.9h-0.9zM413.1,199.7h0.9v0.9h-0.9zM415.5,217.2h0.9v0.9h-0.9zM400.7,222.6h0.9v0.9h-0.9zM409.6,215.7h0.9v0.9h-0.9zM395.1,195.7h0.9v0.9h-0.9zM392.4,203.2h0.9v0.9h-0.9zM418.5,205.1h0.9v0.9h-0.9zM401.4,192.4h0.9v0.9h-0.9zM412.9,234.1h0.9v0.9h-0.9zM420.8,232.3h0.9v0.9h-0.9zM395.7,211.6h0.9v0.9h-0.9zM398.3,190.7h0.9v0.9h-0.9zM419.7,207.4h0.9v0.9h-0.9zM400.9,228.9h0.9v0.9h-0.9zM393.6,201.1h0.9v0.9h-0.9zM418.9,228.0h0.9v0.9h-0.9zM426.5,220.2h0.9v0.9h-0.9zM423.2,209.3h0.9v0.9h-0.9zM392.7,218.2h0.9v0.9h-0.9z" fill="#fff"/>
<path d="M386.1,241.4h0.9v0.9h-0.9zM401.0,233.4h0.9v0.9h-0.9zM387.6,244.4h0.9v0.9h-0.9zM392.1,257.2h0.9v0.9h-0.9zM406.5,247.7h0.9v0.9h-0.9zM413.3,269.8h0.9v0.9h-0.9zM394.1,277.7h0.9v0.9h-0.9zM393.1,231.3h0.9v0.9h-0.9zM384.8,250.2h0.9v0.9h-0.9zM377.7,258.4h0.9v0.9h-0.9zM400.3,232.4h0.9v0.9h-0.9zM381.7,246.1h0.9v0.9h-0.9zM410.0,268.5h0.9v0.9h-0.9zM404.8,262.8h0.9v0.9h-0.9zM382.3,250.2h0.9v0.9h-0.9zM381.9,245.2h0.9v0.9h-0.9zM384.2,246.0h0.9v0.9h-0.9zM400.2,273.9h0.9v0.9h-0.9zM386.5,236.2h0.9v0.9h-0.9zM407.8,238.0h0.9v0.9h-0.9zM412.4,268.1h0.9v0.9h-0.9zM393.5,242.8h0.9v0.9h-0.9zM386.1,249.7h0.9v0.9h-0.9zM397.2,245.6h0.9v0.9h-0.9zM385.6,256.4h0.9v0.9h-0.9zM391.7,258.2h0.9v0.9h-0.9zM399.4,274.0h0.9v0.9h-0.9zM405.6,269.4h0.9v0.9h-0.9zM408.0,244.4h0.9v0.9h-0.9zM404.7,256.2h0.9v0.9h-0.9zM399.4,277.0h0.9v0.9h-0.9zM392.6,269.4h0.9v0.9h-0.9zM405.6,247.7h0.9v0.9h-0.9zM379.5,261.5h0.9v0.9h-0.9zM404.3,259.6h0.9v0.9h-0.9zM398.8,264.6h0.9v0.9h-0.9zM389.1,234.3h0.9v0.9h-0.9zM389.5,273.6h0.9v0.9h-0.9zM399.7,262.9h0.9v0.9h-0.9zM388.7,249.2h0.9v0.9h-0.9zM382.1,245.0h0.9v0.9h-0.9zM378.9,253.5h0.9v0.9h-0.9zM399.7,258.2h0.9v0.9h-0.9zM393.4,274.5h0.9v0.9h-0.9zM399.4,277.1h0.9v0.9h-0.9zM412.4,266.8h0.9v0.9h-0.9zM391.8,272.4h0.9v0.9h-0.9zM385.7,268.0h0.9v0.9h-0.9zM392.3,231.5h0.9v0.9h-0.9zM404.4,262.2h0.9v0.9h-0.9zM378.9,258.4h0.9v0.9h-0.9zM379.3,257.0h0.9v0.9h-0.9zM389.0,253.1h0.9v0.9h-0.9zM404.0,259.7h0.9v0.9h-0.9zM396.9,235.4h0.9v0.9h-0.9zM393.2,235.3h0.9v0.9h-0.9zM399.5,265.2h0.9v0.9h-0.9zM405.1,236.4h0.9v0.9h-0.9zM403.5,237.2h0.9v0.9h-0.9zM386.5,266.4h0.9v0.9h-0.9zM383.6,253.0h0.9v0.9h-0.9zM379.0,255.3h0.9v0.9h-0.9zM411.8,267.9h0.9v0.9h-0.9zM406.7,239.5h0.9v0.9h-0.9zM409.8,265.4h0.9v0.9h-0.9zM391.7,271.9h0.9v0.9h-0.9zM403.6,252.0h0.9v0.9h-0.9zM403.9,243.3h0.9v0.9h-0.9zM386.7,270.0h0.9v0.9h-0.9zM405.7,235.2h0.9v0.9h-0.9zM395.4,273.7h0.9v0.9h-0.9zM383.5,268.0h0.9v0.9h-0.9zM398.8,277.4h0.9v0.9h-0.9zM396.3,263.5h0.9v0.9h-0.9zM383.8,240.9h0.9v0.9h-0.9zM398.6,276.3h0.9v0.9h-0.9zM388.7,253.6h0.9v0.9h-0.9zM398.1,231.3h0.9v0.9h-0.9zM397.4,276.3h0.9v0.9h-0.9zM379.8,250.9h0.9v0.9h-0.9zM394.1,250.1h0.9v0.9h-0.9zM389.8,261.9h0.9v0.9h-0.9zM382.1,246.8h0.9v0.9h-0.9zM381.0,264.1h0.9v0.9h-0.9zM383.6,244.8h0.9v0.9h-0.9zM396.8,245.5h0.9v0.9h-0.9zM390.7,233.8h0.9v0.9h-0.9zM380.2,251.6h0.9v0.9h-0.9zM396.6,246.5h0.9v0.9h-0.9zM382.7,267.0h0.9v0.9h-0.9zM383.9,241.8h0.9v0.9h-0.9zM390.6,246.7h0.9v0.9h-0.9zM382.1,265.7h0.9v0.9h-0.9zM405.2,269.6h0.9v0.9h-0.9zM382.6,262.1h0.9v0.9h-0.9zM406.8,247.1h0.9v0.9h-0.9zM382.2,244.0h0.9v0.9h-0.9zM386.8,243.8h0.9v0.9h-0.9zM411.2,266.2h0.9v0.9h-0.9zM402.1,233.7h0.9v0.9h-0.9zM400.6,273.3h0.9v0.9h-0.9zM405.0,248.5h0.9v0.9h-0.9zM406.8,264.8h0.9v0.9h-0.9zM405.3,269.9h0.9v0.9h-0.9zM384.8,254.3h0.9v0.9h-0.9zM387.4,270.5h0.9v0.9h-0.9zM385.4,243.0h0.9v0.9h-0.9zM399.4,261.0h0.9v0.9h-0.9zM405.5,249.8h0.9v0.9h-0.9zM409.2,239.8h0.9v0.9h-0.9zM396.1,231.2h0.9v0.9h-0.9zM408.0,268.0h0.9v0.9h-0.9zM383.4,262.7h0.9v0.9h-0.9zM388.0,262.3h0.9v0.9h-0.9zM401.1,257.5h0.9v0.9h-0.9zM378.2,255.5h0.9v0.9h-0.9zM396.5,232.1h0.9v0.9h-0.9zM408.9,263.9h0.9v0.9h-0.9zM405.6,238.6h0.9v0.9h-0.9zM389.2,237.4h0.9v0.9h-0.9zM386.8,251.8h0.9v0.9h-0.9zM377.3,254.7h0.9v0.9h-0.9zM396.1,262.4h0.9v0.9h-0.9zM407.3,268.5h0.9v0.9h-0.9zM403.4,262.4h0.9v0.9h-0.9zM388.0,238.1h0.9v0.9h-0.9zM404.6,247.7h0.9v0.9h-0.9zM406.8,269.0h0.9v0.9h-0.9zM385.4,259.1h0.9v0.9h-0.9zM386.0,270.4h0.9v0.9h-0.9zM404.4,256.7h0.9v0.9h-0.9zM388.0,233.8h0.9v0.9h-0.9zM396.6,236.1h0.9v0.9h-0.9zM394.3,271.2h0.9v0.9h-0.9zM404.8,262.3h0.9v0.9h-0.9zM388.4,270.8h0.9v0.9h-0.9zM403.5,268.4h0.9v0.9h-0.9zM398.6,231.3h0.9v0.9h-0.9zM398.2,277.3h0.9v0.9h-0.9zM399.8,269.7h0.9v0.9h-0.9zM397.1,276.2h0.9v0.9h-0.9zM380.4,251.4h0.9v0.9h-0.9zM408.9,269.1h0.9v0.9h-0.9zM408.0,238.8h0.9v0.9h-0.9zM390.3,259.5h0.9v0.9h-0.9zM388.8,235.1h0.9v0.9h-0.9zM408.3,243.5h0.9v0.9h-0.9zM397.2,276.2h0.9v0.9h-0.9zM381.4,248.5h0.9v0.9h-0.9zM405.5,263.7h0.9v0.9h-0.9z" fill="#fff"/>
<path d="M376.5,240.7h0.9v0.9h-0.9zM371.2,238.6h0.9v0.9h-0.9zM368.7,245.9h0.9v0.9h-0.9zM385.1,235.5h0.9v0.9h-0.9zM372.8,247.7h0.9v0.9h-0.9zM362.3,248.1h0.9v0.9h-0.9zM389.4,230.8h0.9v0.9h-0.9zM370.1,249.4h0.9v0.9h-0.9zM372.9,248.8h0.9v0.9h-0.9zM367.4,248.5h0.9v0.9h-0.9zM392.0,230.0h0.9v0.9h-0.9zM374.0,246.2h0.9v0.9h-0.9zM394.1,232.3h0.9v0.9h-0.9zM382.1,239.5h0.9v0.9h-0.9zM366.9,244.3h0.9v0.9h-0.9zM384.4,237.3h0.9v0.9h-0.9zM386.9,236.6h0.9v0.9h-0.9zM366.4,252.5h0.9v0.9h-0.9zM380.2,236.0h0.9v0.9h-0.9zM389.2,231.9h0.9v0.9h-0.9zM364.4,247.4h0.9v0.9h-0.9zM367.7,251.9h0.9v0.9h-0.9zM383.0,243.0h0.9v0.9h-0.9zM368.8,249.1h0.9v0.9h-0.9zM361.0,248.5h0.9v0.9h-0.9zM379.8,237.6h0.9v0.9h-0.9zM377.2,239.4h0.9v0.9h-0.9zM380.7,238.7h0.9v0.9h-0.9zM384.5,236.8h0.9v0.9h-0.9zM386.2,235.4h0.9v0.9h-0.9zM389.3,232.8h0.9v0.9h-0.9zM394.7,233.0h0.9v0.9h-0.9zM389.3,230.3h0.9v0.9h-0.9zM364.7,249.7h0.9v0.9h-0.9zM388.0,234.8h0.9v0.9h-0.9zM374.7,243.6h0.9v0.9h-0.9zM365.2,251.9h0.9v0.9h-0.9zM385.5,241.8h0.9v0.9h-0.9zM392.5,233.8h0.9v0.9h-0.9zM374.6,242.6h0.9v0.9h-0.9zM367.6,248.9h0.9v0.9h-0.9zM380.1,237.0h0.9v0.9h-0.9zM364.6,248.6h0.9v0.9h-0.9zM386.0,235.6h0.9v0.9h-0.9zM366.8,243.4h0.9v0.9h-0.9zM367.2,241.7h0.9v0.9h-0.9zM387.1,235.5h0.9v0.9h-0.9zM378.8,239.3h0.9v0.9h-0.9zM376.5,240.9h0.9v0.9h-0.9zM365.1,244.0h0.9v0.9h-0.9zM376.7,245.1h0.9v0.9h-0.9zM385.4,237.9h0.9v0.9h-0.9zM375.1,242.4h0.9v0.9h-0.9zM388.5,239.3h0.9v0.9h-0.9zM383.9,234.4h0.9v0.9h-0.9zM369.7,241.9h0.9v0.9h-0.9zM394.3,229.8h0.9v0.9h-0.9zM380.5,239.0h0.9v0.9h-0.9zM379.8,245.0h0.9v0.9h-0.9zM381.5,241.8h0.9v0.9h-0.9zM390.4,231.2h0.9v0.9h-0.9zM378.5,238.7h0.9v0.9h-0.9zM374.3,246.8h0.9v0.9h-0.9zM373.8,242.5h0.9v0.9h-0.9zM373.7,241.6h0.9v0.9h-0.9zM376.4,246.4h0.9v0.9h-0.9zM368.8,245.1h0.9v0.9h-0.9zM372.6,238.1h0.9v0.9h-0.9zM387.7,233.8h0.9v0.9h-0.9zM368.8,247.2h0.9v0.9h-0.9z" fill="#e6a50b"/>
<path d="M402.6,234.2h0.9v0.9h-0.9zM411.6,235.8h0.9v0.9h-0.9zM407.4,236.6h0.9v0.9h-0.9zM394.2,227.4h0.9v0.9h-0.9zM401.7,232.0h0.9v0.9h-0.9zM412.8,234.8h0.9v0.9h-0.9zM396.7,231.0h0.9v0.9h-0.9zM404.3,232.4h0.9v0.9h-0.9zM418.4,234.9h0.9v0.9h-0.9zM402.0,234.3h0.9v0.9h-0.9zM393.8,227.2h0.9v0.9h-0.9zM396.4,231.1h0.9v0.9h-0.9zM411.2,234.8h0.9v0.9h-0.9zM393.2,226.8h0.9v0.9h-0.9zM417.0,234.8h0.9v0.9h-0.9zM403.6,236.4h0.9v0.9h-0.9zM406.9,234.2h0.9v0.9h-0.9zM399.3,233.8h0.9v0.9h-0.9zM403.9,233.2h0.9v0.9h-0.9zM412.5,235.7h0.9v0.9h-0.9zM393.1,226.8h0.9v0.9h-0.9zM406.3,235.1h0.9v0.9h-0.9zM412.7,234.5h0.9v0.9h-0.9zM401.5,232.3h0.9v0.9h-0.9zM405.6,236.2h0.9v0.9h-0.9zM405.4,234.1h0.9v0.9h-0.9zM407.9,236.6h0.9v0.9h-0.9zM402.2,232.6h0.9v0.9h-0.9zM407.3,233.2h0.9v0.9h-0.9zM396.9,230.2h0.9v0.9h-0.9z" fill="#b07e7e"/>
<line x1="409.5" y1="275" x2="414" y2="284.5" stroke="#b07e7e" stroke-width="0.7"/>
<circle cx="421.3" cy="247.5" r="3.6" fill="#e6a50b"/>
<text x="428.4" y="251.5" font-size="10.5" fill="#222">Upper layer neurons</text>
<circle cx="421.3" cy="261.15" r="3.6" fill="#b07e7e"/>
<text x="428.4" y="265.15" font-size="10.5" fill="#222">Lower layer neurons</text>
<circle cx="421.3" cy="274.8" r="3.6" fill="#a4da84"/>
<text x="428.4" y="278.8" font-size="10.5" fill="#222">Immature neurons</text>
<circle cx="421.3" cy="288.45" r="3.6" fill="#c6b3dd"/>
<text x="428.4" y="292.45" font-size="10.5" fill="#222">Newborn neurons</text>
<line x1="322.2" y1="305.5" x2="322.2" y2="275" stroke="#333" stroke-width="1.2"/>
<line x1="322.2" y1="305.5" x2="354" y2="305.5" stroke="#333" stroke-width="1.2"/>
<path d="M318.7,276.0 L325.7,276.0 L322.2,269.0Z" fill="#333"/>
<path d="M353.0,302.0 L353.0,309.0 L360.0,305.5Z" fill="#333"/>
<text transform="translate(320,292) rotate(-90)" font-size="8.2" text-anchor="middle" fill="#222">UMAP 1</text>
<text x="322.2" y="313.7" font-size="8.2" fill="#222">UMAP 2</text>
<text x="529.5" y="168.5" font-size="17" font-weight="bold">f</text>
<rect x="538.2" y="199.5" width="9.8" height="9.8" fill="#a09ea2"/>
<rect x="538.2" y="212.2" width="9.8" height="9.8" fill="#0660d2"/>
<text x="551.2" y="208.2" font-size="9.6" fill="#222">CTL</text>
<text x="551.7" y="220.3" font-size="9.5" fill="#222"><tspan font-style="italic">Cep83</tspan> tKO</text>
<text x="644.2" y="232.2" font-size="8.1" text-anchor="middle" fill="#222">Cell proportion</text>
<text x="655.5" y="241" font-size="6.6" fill="#222">p = 0.04</text>
<rect x="611.3" y="242.3" width="28.43399999999997" height="10.3" fill="#a09ea2"/>
<rect x="639.7339999999999" y="242.3" width="39.266000000000076" height="10.3" fill="#0660d2"/>
<rect x="611.3" y="253.7" width="36.55799999999999" height="10.3" fill="#a09ea2"/>
<rect x="647.858" y="253.7" width="31.142000000000053" height="10.3" fill="#0660d2"/>
<rect x="611.3" y="265.9" width="37.912000000000035" height="10.3" fill="#a09ea2"/>
<rect x="649.212" y="265.9" width="29.78800000000001" height="10.3" fill="#0660d2"/>
<rect x="611.3" y="277.5" width="33.85000000000002" height="10.3" fill="#a09ea2"/>
<rect x="645.15" y="277.5" width="33.85000000000002" height="10.3" fill="#0660d2"/>
<text x="600.5" y="249.60000000000002" font-size="7.7" text-anchor="end" fill="#222">Upper layer neurons</text>
<circle cx="605.3" cy="247.5" r="3.0" fill="#e6a50b"/>
<text x="600.5" y="261.0" font-size="7.7" text-anchor="end" fill="#222">Lower layer neurons</text>
<circle cx="605.3" cy="258.9" r="3.0" fill="#b07e7e"/>
<text x="600.5" y="273.2" font-size="7.7" text-anchor="end" fill="#222">Immature neurons</text>
<circle cx="605.3" cy="271.09999999999997" r="3.0" fill="#a4da84"/>
<text x="600.5" y="284.8" font-size="7.7" text-anchor="end" fill="#222">Newborn neurons</text>
<circle cx="605.3" cy="282.7" r="3.0" fill="#c6b3dd"/>
<path d="M675,238 H684 V255 H682" fill="none" stroke="#666" stroke-width="0.6"/>
<path d="M679,247.5 H681.5 V259 H679" fill="none" stroke="#666" stroke-width="0.6"/>
<text x="610.6" y="297.2" font-size="8.1" text-anchor="middle" fill="#222">0</text>
<text x="641.9" y="297.2" font-size="8.1" text-anchor="middle" fill="#222">0.5</text>
<text x="676" y="297.2" font-size="8.1" text-anchor="middle" fill="#222">1.0</text>
<text x="644.2" y="308.6" font-size="8.1" text-anchor="middle" fill="#222">fraction</text>
<text x="3" y="336.6" font-size="17" font-weight="bold">g</text>
<circle cx="55.8" cy="348.75" r="3.3" fill="#e6a50b"/>
<text x="62" y="352.9" font-size="11.5" fill="#222">Upper layer neurons</text>
<text x="109.5" y="365.5" font-size="9.3" text-anchor="middle" font-style="italic" fill="#222">Satb2</text>
<rect x="11.5" y="372.5" width="92.0" height="88.5" fill="none" stroke="#8a8a8a" stroke-width="0.8"/>
<rect x="112.5" y="372" width="91.25" height="88.75" fill="none" stroke="#8a8a8a" stroke-width="0.8"/>
<rect x="15.6" y="374.8" width="5.5" height="6" fill="#a09ea2"/>
<text x="23.5" y="380.8" font-size="9" fill="#222">CTL</text>
<rect x="115.5" y="375" width="5.2" height="5.5" fill="#0660d2"/>
<text x="122.5" y="380.3" font-size="9" fill="#222"><tspan font-style="italic">Cep83</tspan> tKO</text>
<path d="M36.0,398.0 C39.3,394.8 45.7,392.7 50.0,391.0 C54.3,389.3 59.0,387.8 62.0,388.0 C65.0,388.2 67.2,388.3 68.0,392.0 C68.8,395.7 67.8,404.5 67.0,410.0 C66.2,415.5 65.0,421.3 63.0,425.0 C61.0,428.7 58.5,430.5 55.0,432.0 C51.5,433.5 46.0,435.2 42.0,434.0 C38.0,432.8 33.0,429.0 31.0,425.0 C29.0,421.0 29.2,414.5 30.0,410.0 C30.8,405.5 32.7,401.2 36.0,398.0Z" fill="#b8acf2" opacity="0.55" filter="url(#blur2)"/>
<path d="M133.0,400.0 C135.5,397.0 140.5,394.0 145.0,392.0 C149.5,390.0 155.8,389.0 160.0,388.0 C164.2,387.0 168.0,384.8 170.0,386.0 C172.0,387.2 172.0,390.7 172.0,395.0 C172.0,399.3 171.0,406.8 170.0,412.0 C169.0,417.2 168.5,422.3 166.0,426.0 C163.5,429.7 159.0,432.5 155.0,434.0 C151.0,435.5 146.0,436.5 142.0,435.0 C138.0,433.5 133.0,429.2 131.0,425.0 C129.0,420.8 129.7,414.2 130.0,410.0 C130.3,405.8 130.5,403.0 133.0,400.0Z" fill="#aa9cf2" opacity="0.6" filter="url(#blur2)"/>
<path d="M41.2,416.2h1.2v1.2h-1.2zM42.7,428.8h1.2v1.2h-1.2zM52.5,413.6h1.2v1.2h-1.2zM44.1,396.9h1.2v1.2h-1.2zM48.3,410.2h1.2v1.2h-1.2zM42.2,402.6h1.2v1.2h-1.2zM66.2,439.5h1.2v1.2h-1.2zM50.9,402.5h1.2v1.2h-1.2zM43.9,401.1h1.2v1.2h-1.2zM38.6,425.4h1.2v1.2h-1.2zM53.2,411.0h1.2v1.2h-1.2zM47.0,431.6h1.2v1.2h-1.2zM37.2,403.3h1.2v1.2h-1.2zM32.0,419.3h1.2v1.2h-1.2zM39.6,409.8h1.2v1.2h-1.2zM30.4,406.4h1.2v1.2h-1.2zM41.6,405.6h1.2v1.2h-1.2zM35.4,403.2h1.2v1.2h-1.2zM65.1,443.4h1.2v1.2h-1.2zM38.2,416.6h1.2v1.2h-1.2zM49.5,411.0h1.2v1.2h-1.2zM33.6,407.9h1.2v1.2h-1.2zM46.9,424.8h1.2v1.2h-1.2zM52.8,411.4h1.2v1.2h-1.2zM60.5,417.4h1.2v1.2h-1.2zM46.4,401.6h1.2v1.2h-1.2zM37.2,398.3h1.2v1.2h-1.2zM60.6,433.4h1.2v1.2h-1.2zM55.3,406.6h1.2v1.2h-1.2zM45.2,419.4h1.2v1.2h-1.2zM50.0,413.0h1.2v1.2h-1.2zM32.6,415.7h1.2v1.2h-1.2zM59.6,428.1h1.2v1.2h-1.2zM52.4,410.3h1.2v1.2h-1.2zM45.3,431.8h1.2v1.2h-1.2zM38.1,413.6h1.2v1.2h-1.2zM39.8,415.3h1.2v1.2h-1.2zM55.8,431.1h1.2v1.2h-1.2zM33.3,414.5h1.2v1.2h-1.2zM33.7,409.0h1.2v1.2h-1.2zM46.7,426.7h1.2v1.2h-1.2zM59.7,432.9h1.2v1.2h-1.2zM45.9,433.7h1.2v1.2h-1.2zM42.7,406.6h1.2v1.2h-1.2zM45.3,416.5h1.2v1.2h-1.2zM36.9,415.1h1.2v1.2h-1.2zM56.6,412.5h1.2v1.2h-1.2zM33.9,420.3h1.2v1.2h-1.2zM36.0,401.7h1.2v1.2h-1.2zM29.5,415.7h1.2v1.2h-1.2zM37.1,413.0h1.2v1.2h-1.2zM40.7,416.9h1.2v1.2h-1.2zM43.4,406.5h1.2v1.2h-1.2z" fill="#968cee"/>
<path d="M52.6,402.1h1.2v1.2h-1.2zM66.8,393.4h1.2v1.2h-1.2zM53.7,408.3h1.2v1.2h-1.2zM47.8,394.3h1.2v1.2h-1.2zM48.7,398.4h1.2v1.2h-1.2zM46.4,394.1h1.2v1.2h-1.2zM63.0,417.6h1.2v1.2h-1.2zM53.5,404.3h1.2v1.2h-1.2zM59.8,391.6h1.2v1.2h-1.2zM64.2,408.0h1.2v1.2h-1.2zM47.6,408.3h1.2v1.2h-1.2zM65.4,402.1h1.2v1.2h-1.2zM45.8,401.2h1.2v1.2h-1.2zM60.5,420.1h1.2v1.2h-1.2zM64.7,404.1h1.2v1.2h-1.2zM64.8,394.6h1.2v1.2h-1.2zM58.2,408.7h1.2v1.2h-1.2zM59.2,387.1h1.2v1.2h-1.2zM53.0,393.6h1.2v1.2h-1.2zM57.6,399.8h1.2v1.2h-1.2zM68.2,405.3h1.2v1.2h-1.2zM55.9,403.0h1.2v1.2h-1.2zM59.3,395.0h1.2v1.2h-1.2zM62.0,417.8h1.2v1.2h-1.2zM54.0,406.2h1.2v1.2h-1.2zM64.8,408.0h1.2v1.2h-1.2zM64.3,402.6h1.2v1.2h-1.2zM59.4,391.0h1.2v1.2h-1.2zM59.6,387.0h1.2v1.2h-1.2zM61.1,412.9h1.2v1.2h-1.2zM61.3,412.6h1.2v1.2h-1.2zM49.5,409.0h1.2v1.2h-1.2zM53.5,389.4h1.2v1.2h-1.2zM52.8,413.2h1.2v1.2h-1.2zM39.3,397.5h1.2v1.2h-1.2zM65.5,404.0h1.2v1.2h-1.2zM49.8,395.5h1.2v1.2h-1.2zM65.3,416.2h1.2v1.2h-1.2zM51.6,396.4h1.2v1.2h-1.2zM69.5,412.4h1.2v1.2h-1.2zM43.6,401.5h1.2v1.2h-1.2zM67.8,393.2h1.2v1.2h-1.2zM64.6,391.8h1.2v1.2h-1.2zM47.5,407.2h1.2v1.2h-1.2zM37.8,396.4h1.2v1.2h-1.2zM59.7,415.3h1.2v1.2h-1.2zM48.9,399.9h1.2v1.2h-1.2zM47.1,404.5h1.2v1.2h-1.2zM63.8,413.5h1.2v1.2h-1.2zM60.1,414.5h1.2v1.2h-1.2zM70.3,399.1h1.2v1.2h-1.2zM66.4,401.4h1.2v1.2h-1.2zM69.4,395.0h1.2v1.2h-1.2zM49.4,396.4h1.2v1.2h-1.2zM48.9,391.8h1.2v1.2h-1.2zM66.2,400.9h1.2v1.2h-1.2zM51.7,390.8h1.2v1.2h-1.2zM60.3,404.7h1.2v1.2h-1.2zM50.8,410.9h1.2v1.2h-1.2zM65.4,410.1h1.2v1.2h-1.2zM48.8,391.5h1.2v1.2h-1.2z" fill="#7864f1"/>
<path d="M37.6,408.1h1.2v1.2h-1.2zM49.1,410.5h1.2v1.2h-1.2zM54.0,414.4h1.2v1.2h-1.2zM66.9,421.1h1.2v1.2h-1.2zM62.5,412.9h1.2v1.2h-1.2zM40.7,406.1h1.2v1.2h-1.2zM51.4,405.6h1.2v1.2h-1.2zM30.0,400.8h1.2v1.2h-1.2zM34.1,402.6h1.2v1.2h-1.2zM38.2,418.9h1.2v1.2h-1.2zM47.4,402.4h1.2v1.2h-1.2zM47.3,397.9h1.2v1.2h-1.2zM60.9,413.5h1.2v1.2h-1.2zM64.8,418.1h1.2v1.2h-1.2zM46.6,420.9h1.2v1.2h-1.2zM65.3,443.8h1.2v1.2h-1.2zM48.7,400.4h1.2v1.2h-1.2zM57.2,428.0h1.2v1.2h-1.2zM37.0,415.8h1.2v1.2h-1.2zM44.7,421.6h1.2v1.2h-1.2zM49.0,427.3h1.2v1.2h-1.2zM55.3,428.4h1.2v1.2h-1.2zM57.5,416.4h1.2v1.2h-1.2zM47.4,408.2h1.2v1.2h-1.2zM52.3,417.0h1.2v1.2h-1.2zM52.5,404.7h1.2v1.2h-1.2zM45.4,407.0h1.2v1.2h-1.2zM35.0,397.2h1.2v1.2h-1.2zM40.3,418.6h1.2v1.2h-1.2zM49.9,408.4h1.2v1.2h-1.2zM42.2,406.0h1.2v1.2h-1.2zM57.4,426.2h1.2v1.2h-1.2zM42.5,419.3h1.2v1.2h-1.2zM49.9,410.6h1.2v1.2h-1.2zM60.6,426.2h1.2v1.2h-1.2zM57.6,429.9h1.2v1.2h-1.2zM38.4,411.8h1.2v1.2h-1.2zM44.3,413.3h1.2v1.2h-1.2zM60.8,416.8h1.2v1.2h-1.2zM47.6,402.9h1.2v1.2h-1.2zM59.1,418.1h1.2v1.2h-1.2zM61.1,408.1h1.2v1.2h-1.2zM54.2,431.8h1.2v1.2h-1.2zM43.7,409.9h1.2v1.2h-1.2zM54.2,432.5h1.2v1.2h-1.2zM45.2,404.6h1.2v1.2h-1.2zM57.1,414.1h1.2v1.2h-1.2zM55.7,408.1h1.2v1.2h-1.2zM59.9,408.4h1.2v1.2h-1.2zM32.3,410.4h1.2v1.2h-1.2zM62.1,439.4h1.2v1.2h-1.2zM57.5,432.9h1.2v1.2h-1.2zM49.0,414.6h1.2v1.2h-1.2zM48.2,420.4h1.2v1.2h-1.2zM37.8,398.2h1.2v1.2h-1.2zM59.1,417.4h1.2v1.2h-1.2zM52.8,416.8h1.2v1.2h-1.2zM37.7,406.1h1.2v1.2h-1.2zM58.0,423.9h1.2v1.2h-1.2zM51.3,426.6h1.2v1.2h-1.2zM36.3,405.8h1.2v1.2h-1.2zM56.6,419.9h1.2v1.2h-1.2zM43.8,416.0h1.2v1.2h-1.2zM33.0,404.4h1.2v1.2h-1.2zM42.5,423.0h1.2v1.2h-1.2zM45.1,421.3h1.2v1.2h-1.2zM56.9,421.5h1.2v1.2h-1.2zM47.4,403.2h1.2v1.2h-1.2zM38.8,409.6h1.2v1.2h-1.2zM39.7,424.8h1.2v1.2h-1.2zM39.6,421.3h1.2v1.2h-1.2zM54.8,414.8h1.2v1.2h-1.2zM52.0,415.1h1.2v1.2h-1.2zM47.4,408.4h1.2v1.2h-1.2zM49.1,426.7h1.2v1.2h-1.2zM66.0,416.7h1.2v1.2h-1.2zM46.8,410.4h1.2v1.2h-1.2zM49.8,398.7h1.2v1.2h-1.2zM45.3,406.3h1.2v1.2h-1.2zM53.0,422.0h1.2v1.2h-1.2zM41.0,405.1h1.2v1.2h-1.2zM44.4,406.5h1.2v1.2h-1.2zM53.5,408.1h1.2v1.2h-1.2zM31.3,402.4h1.2v1.2h-1.2zM38.5,420.8h1.2v1.2h-1.2zM47.2,396.4h1.2v1.2h-1.2zM53.9,426.8h1.2v1.2h-1.2zM54.8,417.5h1.2v1.2h-1.2zM57.3,409.3h1.2v1.2h-1.2zM50.6,414.1h1.2v1.2h-1.2zM66.2,445.2h1.2v1.2h-1.2zM62.7,419.4h1.2v1.2h-1.2zM50.4,427.4h1.2v1.2h-1.2zM52.5,413.8h1.2v1.2h-1.2zM47.1,396.1h1.2v1.2h-1.2zM61.1,425.7h1.2v1.2h-1.2zM35.1,400.9h1.2v1.2h-1.2zM59.5,430.7h1.2v1.2h-1.2zM39.1,416.7h1.2v1.2h-1.2zM31.6,402.9h1.2v1.2h-1.2zM49.4,401.6h1.2v1.2h-1.2zM55.7,408.4h1.2v1.2h-1.2zM47.5,412.5h1.2v1.2h-1.2zM68.7,441.7h1.2v1.2h-1.2zM44.4,403.8h1.2v1.2h-1.2zM47.9,407.1h1.2v1.2h-1.2zM65.4,416.4h1.2v1.2h-1.2zM55.2,422.4h1.2v1.2h-1.2zM32.3,414.9h1.2v1.2h-1.2zM53.2,413.3h1.2v1.2h-1.2zM47.2,412.6h1.2v1.2h-1.2zM48.9,433.3h1.2v1.2h-1.2zM44.9,420.9h1.2v1.2h-1.2zM58.5,425.8h1.2v1.2h-1.2zM46.8,426.4h1.2v1.2h-1.2zM64.1,412.0h1.2v1.2h-1.2zM28.8,411.8h1.2v1.2h-1.2zM49.3,408.7h1.2v1.2h-1.2zM54.2,434.7h1.2v1.2h-1.2zM52.1,424.5h1.2v1.2h-1.2zM61.3,411.3h1.2v1.2h-1.2zM50.1,422.7h1.2v1.2h-1.2zM36.7,412.2h1.2v1.2h-1.2zM62.8,412.2h1.2v1.2h-1.2zM61.6,434.5h1.2v1.2h-1.2zM52.2,432.4h1.2v1.2h-1.2zM52.6,419.3h1.2v1.2h-1.2zM33.0,412.1h1.2v1.2h-1.2zM46.0,424.9h1.2v1.2h-1.2zM46.1,417.4h1.2v1.2h-1.2zM61.3,410.2h1.2v1.2h-1.2zM44.0,401.0h1.2v1.2h-1.2zM40.8,407.8h1.2v1.2h-1.2zM55.8,415.7h1.2v1.2h-1.2zM37.9,403.9h1.2v1.2h-1.2zM47.7,430.4h1.2v1.2h-1.2zM37.7,409.6h1.2v1.2h-1.2zM40.5,407.5h1.2v1.2h-1.2zM57.2,426.0h1.2v1.2h-1.2zM49.3,403.1h1.2v1.2h-1.2zM45.3,412.5h1.2v1.2h-1.2zM42.8,399.9h1.2v1.2h-1.2zM26.9,406.9h1.2v1.2h-1.2zM60.8,436.2h1.2v1.2h-1.2zM62.4,422.8h1.2v1.2h-1.2zM45.1,423.4h1.2v1.2h-1.2zM66.5,425.4h1.2v1.2h-1.2z" fill="#9682ee"/>
<path d="M63.1,399.3h1.2v1.2h-1.2zM55.5,392.9h1.2v1.2h-1.2zM62.8,412.3h1.2v1.2h-1.2zM68.8,408.4h1.2v1.2h-1.2zM61.4,393.2h1.2v1.2h-1.2zM46.7,393.3h1.2v1.2h-1.2zM71.3,390.3h1.2v1.2h-1.2zM47.9,397.3h1.2v1.2h-1.2zM55.1,395.5h1.2v1.2h-1.2zM51.6,403.3h1.2v1.2h-1.2zM70.6,397.1h1.2v1.2h-1.2zM63.4,394.7h1.2v1.2h-1.2zM61.0,407.1h1.2v1.2h-1.2zM64.2,382.9h1.2v1.2h-1.2zM63.2,401.5h1.2v1.2h-1.2zM62.8,394.8h1.2v1.2h-1.2zM70.3,385.9h1.2v1.2h-1.2zM64.6,391.4h1.2v1.2h-1.2zM61.9,408.3h1.2v1.2h-1.2zM67.2,410.3h1.2v1.2h-1.2zM57.5,395.7h1.2v1.2h-1.2zM72.4,389.1h1.2v1.2h-1.2zM70.4,406.8h1.2v1.2h-1.2zM62.3,393.3h1.2v1.2h-1.2zM62.1,390.8h1.2v1.2h-1.2zM52.8,395.1h1.2v1.2h-1.2zM61.7,394.0h1.2v1.2h-1.2zM58.2,398.2h1.2v1.2h-1.2zM66.0,395.0h1.2v1.2h-1.2zM57.6,388.9h1.2v1.2h-1.2zM65.3,394.1h1.2v1.2h-1.2zM68.0,390.9h1.2v1.2h-1.2zM51.8,392.2h1.2v1.2h-1.2zM64.9,387.4h1.2v1.2h-1.2zM64.1,396.1h1.2v1.2h-1.2zM67.3,397.6h1.2v1.2h-1.2zM48.9,394.1h1.2v1.2h-1.2zM52.9,395.8h1.2v1.2h-1.2zM63.7,389.7h1.2v1.2h-1.2zM69.2,382.6h1.2v1.2h-1.2zM59.0,391.9h1.2v1.2h-1.2zM59.4,402.7h1.2v1.2h-1.2zM67.2,399.9h1.2v1.2h-1.2zM63.2,391.5h1.2v1.2h-1.2zM50.1,396.8h1.2v1.2h-1.2zM70.9,406.8h1.2v1.2h-1.2zM65.8,383.8h1.2v1.2h-1.2zM59.5,396.8h1.2v1.2h-1.2zM48.7,401.7h1.2v1.2h-1.2zM67.5,390.2h1.2v1.2h-1.2zM64.3,403.7h1.2v1.2h-1.2zM69.0,399.7h1.2v1.2h-1.2zM63.6,407.1h1.2v1.2h-1.2zM64.4,384.3h1.2v1.2h-1.2zM54.4,398.6h1.2v1.2h-1.2zM55.2,390.1h1.2v1.2h-1.2zM61.6,398.8h1.2v1.2h-1.2zM66.6,401.1h1.2v1.2h-1.2zM67.3,399.0h1.2v1.2h-1.2zM59.8,391.9h1.2v1.2h-1.2zM63.7,386.8h1.2v1.2h-1.2zM70.5,401.9h1.2v1.2h-1.2zM65.2,387.6h1.2v1.2h-1.2zM53.1,391.6h1.2v1.2h-1.2zM59.8,389.3h1.2v1.2h-1.2zM71.5,387.1h1.2v1.2h-1.2zM51.9,406.4h1.2v1.2h-1.2zM52.0,407.6h1.2v1.2h-1.2zM67.4,384.7h1.2v1.2h-1.2zM72.5,386.9h1.2v1.2h-1.2zM68.2,415.4h1.2v1.2h-1.2zM50.5,397.0h1.2v1.2h-1.2zM67.2,399.6h1.2v1.2h-1.2zM54.4,393.6h1.2v1.2h-1.2zM64.3,404.3h1.2v1.2h-1.2zM60.1,394.8h1.2v1.2h-1.2zM49.6,390.8h1.2v1.2h-1.2zM54.7,391.0h1.2v1.2h-1.2zM66.4,405.9h1.2v1.2h-1.2zM51.3,392.1h1.2v1.2h-1.2zM45.4,393.7h1.2v1.2h-1.2zM63.4,387.7h1.2v1.2h-1.2zM61.9,401.0h1.2v1.2h-1.2zM55.5,392.9h1.2v1.2h-1.2zM66.7,394.0h1.2v1.2h-1.2zM64.4,413.2h1.2v1.2h-1.2zM65.6,391.4h1.2v1.2h-1.2zM68.6,391.3h1.2v1.2h-1.2zM45.1,392.6h1.2v1.2h-1.2zM51.6,396.1h1.2v1.2h-1.2zM70.6,397.1h1.2v1.2h-1.2zM61.2,385.6h1.2v1.2h-1.2zM68.3,393.2h1.2v1.2h-1.2zM65.0,388.0h1.2v1.2h-1.2zM60.7,403.5h1.2v1.2h-1.2zM61.0,401.5h1.2v1.2h-1.2zM67.8,397.2h1.2v1.2h-1.2zM41.6,397.0h1.2v1.2h-1.2zM60.5,401.2h1.2v1.2h-1.2zM53.0,392.2h1.2v1.2h-1.2zM67.4,404.5h1.2v1.2h-1.2zM68.0,387.5h1.2v1.2h-1.2zM44.2,396.8h1.2v1.2h-1.2zM67.1,403.2h1.2v1.2h-1.2zM63.6,392.0h1.2v1.2h-1.2zM57.9,413.8h1.2v1.2h-1.2zM65.7,409.3h1.2v1.2h-1.2zM66.4,406.4h1.2v1.2h-1.2zM63.9,391.3h1.2v1.2h-1.2zM63.2,398.7h1.2v1.2h-1.2zM59.8,394.3h1.2v1.2h-1.2zM61.2,389.2h1.2v1.2h-1.2zM50.6,397.0h1.2v1.2h-1.2zM49.6,391.6h1.2v1.2h-1.2zM52.0,399.5h1.2v1.2h-1.2zM66.9,392.2h1.2v1.2h-1.2zM57.2,403.7h1.2v1.2h-1.2zM67.1,388.3h1.2v1.2h-1.2zM64.5,383.7h1.2v1.2h-1.2zM66.3,414.1h1.2v1.2h-1.2zM66.7,384.9h1.2v1.2h-1.2zM63.3,415.8h1.2v1.2h-1.2zM70.0,384.3h1.2v1.2h-1.2zM63.6,401.5h1.2v1.2h-1.2zM48.5,391.0h1.2v1.2h-1.2zM56.5,393.6h1.2v1.2h-1.2zM71.3,397.8h1.2v1.2h-1.2zM61.0,387.8h1.2v1.2h-1.2zM56.9,398.3h1.2v1.2h-1.2zM70.2,398.1h1.2v1.2h-1.2zM58.7,408.1h1.2v1.2h-1.2zM54.7,395.8h1.2v1.2h-1.2zM56.2,403.4h1.2v1.2h-1.2zM61.5,410.3h1.2v1.2h-1.2zM50.1,390.7h1.2v1.2h-1.2zM46.2,398.4h1.2v1.2h-1.2zM54.3,398.6h1.2v1.2h-1.2zM60.7,389.1h1.2v1.2h-1.2zM60.8,387.2h1.2v1.2h-1.2zM60.5,385.5h1.2v1.2h-1.2zM65.4,386.4h1.2v1.2h-1.2zM40.3,393.5h1.2v1.2h-1.2zM69.0,408.5h1.2v1.2h-1.2zM61.8,412.2h1.2v1.2h-1.2zM69.1,410.6h1.2v1.2h-1.2zM60.8,393.0h1.2v1.2h-1.2zM52.8,393.6h1.2v1.2h-1.2zM61.6,381.0h1.2v1.2h-1.2zM62.3,405.5h1.2v1.2h-1.2zM64.0,389.2h1.2v1.2h-1.2zM67.0,407.5h1.2v1.2h-1.2zM62.5,391.6h1.2v1.2h-1.2zM49.1,397.6h1.2v1.2h-1.2zM67.1,386.8h1.2v1.2h-1.2zM56.9,386.6h1.2v1.2h-1.2zM64.7,405.9h1.2v1.2h-1.2zM71.0,389.7h1.2v1.2h-1.2zM62.0,418.6h1.2v1.2h-1.2zM59.1,407.3h1.2v1.2h-1.2zM59.3,393.3h1.2v1.2h-1.2zM65.6,391.7h1.2v1.2h-1.2zM72.9,383.9h1.2v1.2h-1.2zM49.2,388.2h1.2v1.2h-1.2zM68.0,394.0h1.2v1.2h-1.2zM58.9,394.9h1.2v1.2h-1.2zM56.5,390.4h1.2v1.2h-1.2zM56.4,391.2h1.2v1.2h-1.2zM57.6,402.7h1.2v1.2h-1.2zM58.2,403.5h1.2v1.2h-1.2zM63.4,388.1h1.2v1.2h-1.2zM63.0,387.0h1.2v1.2h-1.2zM50.0,392.8h1.2v1.2h-1.2zM68.7,409.5h1.2v1.2h-1.2zM69.3,386.8h1.2v1.2h-1.2zM64.1,411.0h1.2v1.2h-1.2zM57.0,412.1h1.2v1.2h-1.2zM67.8,387.6h1.2v1.2h-1.2zM55.2,392.5h1.2v1.2h-1.2zM67.3,390.2h1.2v1.2h-1.2zM64.3,386.1h1.2v1.2h-1.2zM56.4,393.4h1.2v1.2h-1.2zM64.7,405.6h1.2v1.2h-1.2zM66.6,397.7h1.2v1.2h-1.2zM44.6,395.5h1.2v1.2h-1.2zM45.4,394.8h1.2v1.2h-1.2zM59.6,390.1h1.2v1.2h-1.2zM72.1,389.5h1.2v1.2h-1.2zM57.8,397.6h1.2v1.2h-1.2zM59.5,396.0h1.2v1.2h-1.2zM60.0,388.8h1.2v1.2h-1.2zM59.8,398.2h1.2v1.2h-1.2zM57.7,387.9h1.2v1.2h-1.2zM63.7,388.8h1.2v1.2h-1.2zM60.7,403.2h1.2v1.2h-1.2zM52.5,408.8h1.2v1.2h-1.2zM56.6,399.3h1.2v1.2h-1.2zM57.1,397.1h1.2v1.2h-1.2zM69.4,397.3h1.2v1.2h-1.2zM60.1,384.8h1.2v1.2h-1.2zM62.6,391.7h1.2v1.2h-1.2zM50.5,402.7h1.2v1.2h-1.2zM70.0,391.9h1.2v1.2h-1.2zM66.5,398.5h1.2v1.2h-1.2zM68.2,391.7h1.2v1.2h-1.2zM67.3,389.7h1.2v1.2h-1.2zM57.6,394.1h1.2v1.2h-1.2zM60.7,403.7h1.2v1.2h-1.2zM62.6,398.0h1.2v1.2h-1.2zM61.3,389.1h1.2v1.2h-1.2zM66.0,402.8h1.2v1.2h-1.2zM64.9,414.9h1.2v1.2h-1.2zM55.5,391.6h1.2v1.2h-1.2zM63.4,401.6h1.2v1.2h-1.2zM52.1,399.9h1.2v1.2h-1.2zM56.4,392.6h1.2v1.2h-1.2zM63.3,411.9h1.2v1.2h-1.2zM65.7,384.0h1.2v1.2h-1.2zM70.1,381.4h1.2v1.2h-1.2zM68.4,390.5h1.2v1.2h-1.2zM53.2,400.7h1.2v1.2h-1.2zM70.1,393.4h1.2v1.2h-1.2zM65.0,385.3h1.2v1.2h-1.2zM68.6,386.6h1.2v1.2h-1.2zM72.0,397.5h1.2v1.2h-1.2zM72.2,395.8h1.2v1.2h-1.2zM68.1,389.8h1.2v1.2h-1.2zM73.4,386.7h1.2v1.2h-1.2zM49.3,396.9h1.2v1.2h-1.2zM65.1,389.3h1.2v1.2h-1.2zM59.8,386.8h1.2v1.2h-1.2zM64.1,388.3h1.2v1.2h-1.2zM71.0,395.3h1.2v1.2h-1.2zM51.1,394.8h1.2v1.2h-1.2zM68.5,384.2h1.2v1.2h-1.2zM57.8,388.9h1.2v1.2h-1.2zM70.1,388.4h1.2v1.2h-1.2zM57.6,397.1h1.2v1.2h-1.2zM66.9,385.4h1.2v1.2h-1.2zM59.8,406.5h1.2v1.2h-1.2zM71.8,389.0h1.2v1.2h-1.2zM68.3,385.3h1.2v1.2h-1.2zM62.3,390.9h1.2v1.2h-1.2zM56.9,396.5h1.2v1.2h-1.2zM64.8,388.8h1.2v1.2h-1.2zM66.1,415.2h1.2v1.2h-1.2zM54.7,392.8h1.2v1.2h-1.2zM65.8,395.2h1.2v1.2h-1.2zM54.3,387.9h1.2v1.2h-1.2zM66.3,384.6h1.2v1.2h-1.2zM44.7,389.6h1.2v1.2h-1.2zM68.1,379.9h1.2v1.2h-1.2zM58.7,392.8h1.2v1.2h-1.2zM60.0,386.3h1.2v1.2h-1.2zM59.0,386.4h1.2v1.2h-1.2zM61.5,393.1h1.2v1.2h-1.2zM50.2,394.3h1.2v1.2h-1.2zM60.5,391.7h1.2v1.2h-1.2zM63.9,401.9h1.2v1.2h-1.2zM46.5,395.1h1.2v1.2h-1.2zM65.3,394.9h1.2v1.2h-1.2zM65.4,404.0h1.2v1.2h-1.2zM63.8,386.3h1.2v1.2h-1.2zM64.3,405.6h1.2v1.2h-1.2zM72.5,396.6h1.2v1.2h-1.2zM65.2,404.2h1.2v1.2h-1.2zM67.0,413.8h1.2v1.2h-1.2zM59.0,393.6h1.2v1.2h-1.2zM64.5,405.2h1.2v1.2h-1.2zM65.7,384.7h1.2v1.2h-1.2zM61.3,388.2h1.2v1.2h-1.2zM53.8,389.8h1.2v1.2h-1.2zM61.0,395.1h1.2v1.2h-1.2zM64.2,398.6h1.2v1.2h-1.2zM63.2,383.5h1.2v1.2h-1.2zM55.6,389.6h1.2v1.2h-1.2zM59.0,396.4h1.2v1.2h-1.2zM61.0,385.5h1.2v1.2h-1.2zM56.4,394.3h1.2v1.2h-1.2zM62.4,391.4h1.2v1.2h-1.2zM52.0,390.1h1.2v1.2h-1.2zM67.0,395.1h1.2v1.2h-1.2zM58.8,407.7h1.2v1.2h-1.2zM53.2,402.1h1.2v1.2h-1.2zM63.8,382.4h1.2v1.2h-1.2zM67.5,396.3h1.2v1.2h-1.2zM45.4,393.9h1.2v1.2h-1.2zM62.5,385.1h1.2v1.2h-1.2zM68.1,413.3h1.2v1.2h-1.2zM52.9,393.3h1.2v1.2h-1.2zM67.7,389.6h1.2v1.2h-1.2zM68.4,410.1h1.2v1.2h-1.2zM67.3,408.1h1.2v1.2h-1.2zM67.9,392.3h1.2v1.2h-1.2zM66.8,390.9h1.2v1.2h-1.2zM68.0,398.3h1.2v1.2h-1.2zM60.3,397.4h1.2v1.2h-1.2zM60.9,400.8h1.2v1.2h-1.2zM73.0,386.9h1.2v1.2h-1.2zM71.9,385.0h1.2v1.2h-1.2zM68.7,390.1h1.2v1.2h-1.2zM56.9,404.0h1.2v1.2h-1.2zM57.2,390.0h1.2v1.2h-1.2zM67.6,398.8h1.2v1.2h-1.2zM64.0,419.8h1.2v1.2h-1.2zM68.1,404.7h1.2v1.2h-1.2zM62.5,392.8h1.2v1.2h-1.2zM63.4,407.4h1.2v1.2h-1.2zM68.5,409.5h1.2v1.2h-1.2zM63.3,392.9h1.2v1.2h-1.2zM70.7,385.5h1.2v1.2h-1.2zM63.9,384.2h1.2v1.2h-1.2zM53.8,395.9h1.2v1.2h-1.2zM61.4,394.7h1.2v1.2h-1.2zM49.9,394.1h1.2v1.2h-1.2zM69.0,391.4h1.2v1.2h-1.2zM55.5,391.0h1.2v1.2h-1.2zM67.6,384.1h1.2v1.2h-1.2zM55.3,387.3h1.2v1.2h-1.2zM61.2,386.9h1.2v1.2h-1.2zM68.7,393.1h1.2v1.2h-1.2zM61.5,408.9h1.2v1.2h-1.2zM60.7,385.1h1.2v1.2h-1.2zM59.7,406.4h1.2v1.2h-1.2zM54.2,399.4h1.2v1.2h-1.2zM66.8,404.6h1.2v1.2h-1.2zM60.9,394.2h1.2v1.2h-1.2zM66.3,394.1h1.2v1.2h-1.2zM64.1,390.4h1.2v1.2h-1.2zM56.7,410.7h1.2v1.2h-1.2zM61.4,402.6h1.2v1.2h-1.2zM56.5,389.7h1.2v1.2h-1.2zM65.6,390.0h1.2v1.2h-1.2zM64.8,391.8h1.2v1.2h-1.2zM49.6,391.3h1.2v1.2h-1.2zM51.2,405.4h1.2v1.2h-1.2zM64.7,391.6h1.2v1.2h-1.2zM65.4,386.0h1.2v1.2h-1.2zM58.6,392.0h1.2v1.2h-1.2zM42.4,391.3h1.2v1.2h-1.2zM48.0,397.0h1.2v1.2h-1.2zM70.9,407.8h1.2v1.2h-1.2zM71.0,385.7h1.2v1.2h-1.2zM64.1,398.4h1.2v1.2h-1.2zM72.3,389.9h1.2v1.2h-1.2zM70.6,394.1h1.2v1.2h-1.2zM60.9,387.3h1.2v1.2h-1.2z" fill="#785af2"/>
<path d="M43.4,420.5h1.2v1.2h-1.2zM33.0,410.2h1.2v1.2h-1.2zM45.1,423.6h1.2v1.2h-1.2zM37.7,410.1h1.2v1.2h-1.2zM39.2,415.9h1.2v1.2h-1.2zM38.3,425.6h1.2v1.2h-1.2zM50.2,425.4h1.2v1.2h-1.2zM47.0,415.2h1.2v1.2h-1.2zM32.3,419.9h1.2v1.2h-1.2zM53.1,414.0h1.2v1.2h-1.2zM29.8,411.8h1.2v1.2h-1.2zM41.8,410.4h1.2v1.2h-1.2zM31.4,419.1h1.2v1.2h-1.2zM50.2,413.9h1.2v1.2h-1.2zM39.9,424.9h1.2v1.2h-1.2zM36.5,410.0h1.2v1.2h-1.2zM30.2,421.5h1.2v1.2h-1.2zM35.3,429.8h1.2v1.2h-1.2zM63.3,444.8h1.2v1.2h-1.2zM61.8,422.6h1.2v1.2h-1.2zM48.8,420.4h1.2v1.2h-1.2zM56.7,423.2h1.2v1.2h-1.2zM43.5,425.1h1.2v1.2h-1.2zM48.1,422.7h1.2v1.2h-1.2zM38.2,416.4h1.2v1.2h-1.2zM61.0,435.5h1.2v1.2h-1.2zM51.5,426.9h1.2v1.2h-1.2zM43.1,423.6h1.2v1.2h-1.2zM44.2,423.7h1.2v1.2h-1.2zM54.6,432.5h1.2v1.2h-1.2zM34.2,428.1h1.2v1.2h-1.2zM35.6,423.8h1.2v1.2h-1.2zM53.0,414.4h1.2v1.2h-1.2zM59.3,435.6h1.2v1.2h-1.2zM54.5,435.7h1.2v1.2h-1.2zM33.0,413.9h1.2v1.2h-1.2zM28.0,404.3h1.2v1.2h-1.2zM34.5,419.3h1.2v1.2h-1.2zM30.5,412.1h1.2v1.2h-1.2zM38.7,426.8h1.2v1.2h-1.2zM52.2,425.8h1.2v1.2h-1.2zM47.3,426.4h1.2v1.2h-1.2zM29.2,418.9h1.2v1.2h-1.2zM34.8,410.6h1.2v1.2h-1.2zM30.1,410.0h1.2v1.2h-1.2zM39.2,431.2h1.2v1.2h-1.2zM42.6,432.4h1.2v1.2h-1.2zM46.8,415.2h1.2v1.2h-1.2zM33.3,425.1h1.2v1.2h-1.2zM50.0,409.5h1.2v1.2h-1.2zM33.1,425.9h1.2v1.2h-1.2zM50.8,437.0h1.2v1.2h-1.2zM48.5,410.9h1.2v1.2h-1.2zM56.8,422.3h1.2v1.2h-1.2zM39.0,418.5h1.2v1.2h-1.2zM50.4,423.0h1.2v1.2h-1.2zM35.2,426.4h1.2v1.2h-1.2zM49.4,435.2h1.2v1.2h-1.2zM57.2,422.8h1.2v1.2h-1.2zM40.5,404.4h1.2v1.2h-1.2zM50.1,415.4h1.2v1.2h-1.2zM35.9,397.7h1.2v1.2h-1.2zM44.2,419.5h1.2v1.2h-1.2zM50.9,417.4h1.2v1.2h-1.2zM64.3,439.2h1.2v1.2h-1.2zM47.5,411.7h1.2v1.2h-1.2zM35.1,424.8h1.2v1.2h-1.2zM45.2,425.4h1.2v1.2h-1.2zM33.7,407.3h1.2v1.2h-1.2zM49.4,421.0h1.2v1.2h-1.2zM56.2,414.8h1.2v1.2h-1.2zM31.1,416.6h1.2v1.2h-1.2zM27.7,422.0h1.2v1.2h-1.2zM47.3,432.1h1.2v1.2h-1.2zM62.0,425.8h1.2v1.2h-1.2zM55.7,428.1h1.2v1.2h-1.2zM37.1,402.3h1.2v1.2h-1.2zM30.5,422.5h1.2v1.2h-1.2zM54.5,413.7h1.2v1.2h-1.2zM29.3,414.7h1.2v1.2h-1.2zM43.4,423.2h1.2v1.2h-1.2zM34.5,401.6h1.2v1.2h-1.2zM62.7,424.3h1.2v1.2h-1.2zM67.1,447.9h1.2v1.2h-1.2zM68.7,446.5h1.2v1.2h-1.2zM41.9,419.2h1.2v1.2h-1.2zM62.0,443.0h1.2v1.2h-1.2zM40.5,406.2h1.2v1.2h-1.2zM44.9,416.2h1.2v1.2h-1.2zM43.5,433.3h1.2v1.2h-1.2zM37.1,405.1h1.2v1.2h-1.2zM53.0,432.5h1.2v1.2h-1.2zM31.5,426.2h1.2v1.2h-1.2z" fill="#a096ed"/>
<path d="M58.8,424.7h1.2v1.2h-1.2zM55.1,413.3h1.2v1.2h-1.2zM56.4,408.8h1.2v1.2h-1.2zM53.9,408.4h1.2v1.2h-1.2zM51.3,413.0h1.2v1.2h-1.2zM39.1,405.1h1.2v1.2h-1.2zM59.7,411.6h1.2v1.2h-1.2zM59.1,399.0h1.2v1.2h-1.2zM45.9,399.2h1.2v1.2h-1.2zM63.5,405.2h1.2v1.2h-1.2zM48.4,404.1h1.2v1.2h-1.2zM37.7,397.9h1.2v1.2h-1.2zM51.3,415.0h1.2v1.2h-1.2zM63.1,420.2h1.2v1.2h-1.2zM68.2,402.4h1.2v1.2h-1.2zM42.2,410.3h1.2v1.2h-1.2zM50.4,400.1h1.2v1.2h-1.2zM56.2,424.0h1.2v1.2h-1.2zM43.7,398.6h1.2v1.2h-1.2zM67.6,407.1h1.2v1.2h-1.2zM60.2,401.4h1.2v1.2h-1.2zM54.3,414.3h1.2v1.2h-1.2zM66.1,410.7h1.2v1.2h-1.2zM67.8,406.0h1.2v1.2h-1.2zM48.1,414.4h1.2v1.2h-1.2zM54.0,398.3h1.2v1.2h-1.2zM57.0,404.6h1.2v1.2h-1.2zM55.6,393.1h1.2v1.2h-1.2zM48.7,405.4h1.2v1.2h-1.2zM43.7,396.7h1.2v1.2h-1.2zM46.5,393.2h1.2v1.2h-1.2zM54.4,395.9h1.2v1.2h-1.2zM41.8,400.3h1.2v1.2h-1.2zM43.6,394.0h1.2v1.2h-1.2zM39.9,401.4h1.2v1.2h-1.2zM46.4,393.5h1.2v1.2h-1.2zM47.0,411.8h1.2v1.2h-1.2zM67.8,414.8h1.2v1.2h-1.2zM51.8,419.0h1.2v1.2h-1.2zM37.7,403.3h1.2v1.2h-1.2zM47.5,387.9h1.2v1.2h-1.2zM42.6,410.9h1.2v1.2h-1.2zM66.5,404.4h1.2v1.2h-1.2zM65.9,409.8h1.2v1.2h-1.2zM62.3,400.1h1.2v1.2h-1.2zM55.8,420.4h1.2v1.2h-1.2zM66.8,403.7h1.2v1.2h-1.2zM69.5,402.0h1.2v1.2h-1.2zM46.4,402.6h1.2v1.2h-1.2zM63.4,431.7h1.2v1.2h-1.2zM59.0,405.6h1.2v1.2h-1.2zM40.4,404.5h1.2v1.2h-1.2zM58.2,410.7h1.2v1.2h-1.2zM51.0,394.1h1.2v1.2h-1.2zM59.9,427.5h1.2v1.2h-1.2zM55.3,409.2h1.2v1.2h-1.2zM64.6,404.1h1.2v1.2h-1.2zM38.8,396.0h1.2v1.2h-1.2zM53.3,393.8h1.2v1.2h-1.2zM49.5,393.2h1.2v1.2h-1.2zM60.5,411.3h1.2v1.2h-1.2zM63.7,418.4h1.2v1.2h-1.2zM51.0,395.1h1.2v1.2h-1.2zM45.8,397.8h1.2v1.2h-1.2zM47.6,411.9h1.2v1.2h-1.2zM59.4,428.2h1.2v1.2h-1.2zM34.0,399.0h1.2v1.2h-1.2zM38.6,407.2h1.2v1.2h-1.2zM52.1,414.8h1.2v1.2h-1.2zM48.9,410.5h1.2v1.2h-1.2zM38.3,408.9h1.2v1.2h-1.2zM52.7,392.1h1.2v1.2h-1.2zM63.6,421.5h1.2v1.2h-1.2zM61.2,421.2h1.2v1.2h-1.2zM58.8,404.5h1.2v1.2h-1.2zM47.3,398.5h1.2v1.2h-1.2zM49.9,412.0h1.2v1.2h-1.2zM48.6,415.4h1.2v1.2h-1.2zM58.7,423.0h1.2v1.2h-1.2zM59.6,416.3h1.2v1.2h-1.2zM58.2,419.3h1.2v1.2h-1.2zM36.3,399.4h1.2v1.2h-1.2zM36.4,403.4h1.2v1.2h-1.2zM47.1,406.1h1.2v1.2h-1.2zM48.4,390.2h1.2v1.2h-1.2zM43.3,391.5h1.2v1.2h-1.2zM60.9,397.9h1.2v1.2h-1.2zM44.9,398.9h1.2v1.2h-1.2zM51.8,420.3h1.2v1.2h-1.2zM56.8,403.9h1.2v1.2h-1.2zM57.5,421.8h1.2v1.2h-1.2zM56.9,401.6h1.2v1.2h-1.2zM60.1,414.2h1.2v1.2h-1.2zM61.9,407.1h1.2v1.2h-1.2zM47.3,415.4h1.2v1.2h-1.2zM53.5,399.9h1.2v1.2h-1.2zM43.2,409.9h1.2v1.2h-1.2zM62.3,403.3h1.2v1.2h-1.2zM60.4,410.9h1.2v1.2h-1.2zM59.4,399.8h1.2v1.2h-1.2zM52.2,394.0h1.2v1.2h-1.2zM37.1,401.9h1.2v1.2h-1.2zM51.3,419.4h1.2v1.2h-1.2zM56.0,399.1h1.2v1.2h-1.2zM56.9,409.4h1.2v1.2h-1.2zM52.7,418.8h1.2v1.2h-1.2zM61.4,420.0h1.2v1.2h-1.2zM39.5,409.6h1.2v1.2h-1.2zM42.4,407.2h1.2v1.2h-1.2zM61.4,406.5h1.2v1.2h-1.2zM54.9,393.3h1.2v1.2h-1.2zM37.4,396.0h1.2v1.2h-1.2zM59.2,408.8h1.2v1.2h-1.2zM52.6,421.2h1.2v1.2h-1.2zM53.9,420.6h1.2v1.2h-1.2zM55.0,390.9h1.2v1.2h-1.2zM62.0,410.7h1.2v1.2h-1.2zM41.6,411.4h1.2v1.2h-1.2zM68.6,402.7h1.2v1.2h-1.2zM63.5,415.9h1.2v1.2h-1.2zM52.6,399.6h1.2v1.2h-1.2zM44.3,401.6h1.2v1.2h-1.2z" fill="#826ef0"/>
<path d="M33.5,430.6h1.2v1.2h-1.2zM58.5,393.7h1.2v1.2h-1.2zM55.2,412.8h1.2v1.2h-1.2zM57.2,389.6h1.2v1.2h-1.2zM57.6,397.0h1.2v1.2h-1.2zM52.0,390.9h1.2v1.2h-1.2zM67.1,438.9h1.2v1.2h-1.2zM62.1,405.2h1.2v1.2h-1.2zM60.1,424.4h1.2v1.2h-1.2zM39.1,419.5h1.2v1.2h-1.2zM56.8,395.4h1.2v1.2h-1.2zM42.9,425.6h1.2v1.2h-1.2zM53.3,395.6h1.2v1.2h-1.2zM35.6,407.6h1.2v1.2h-1.2zM41.9,400.0h1.2v1.2h-1.2zM28.2,414.4h1.2v1.2h-1.2zM38.6,437.6h1.2v1.2h-1.2zM41.9,427.8h1.2v1.2h-1.2zM42.6,430.8h1.2v1.2h-1.2zM31.0,407.0h1.2v1.2h-1.2zM60.9,407.2h1.2v1.2h-1.2zM44.7,400.9h1.2v1.2h-1.2zM54.3,422.8h1.2v1.2h-1.2zM47.8,404.2h1.2v1.2h-1.2zM34.7,415.6h1.2v1.2h-1.2zM62.4,428.5h1.2v1.2h-1.2zM36.2,410.8h1.2v1.2h-1.2zM56.8,405.1h1.2v1.2h-1.2zM48.9,427.3h1.2v1.2h-1.2zM30.6,426.7h1.2v1.2h-1.2zM57.1,423.7h1.2v1.2h-1.2zM61.8,391.2h1.2v1.2h-1.2zM32.9,406.9h1.2v1.2h-1.2zM32.3,428.5h1.2v1.2h-1.2zM55.6,398.0h1.2v1.2h-1.2zM48.8,401.4h1.2v1.2h-1.2zM66.9,412.7h1.2v1.2h-1.2zM47.8,419.0h1.2v1.2h-1.2zM65.1,413.0h1.2v1.2h-1.2zM60.1,428.6h1.2v1.2h-1.2zM57.1,388.5h1.2v1.2h-1.2zM46.8,405.3h1.2v1.2h-1.2zM60.7,402.8h1.2v1.2h-1.2zM48.3,433.4h1.2v1.2h-1.2zM42.3,431.1h1.2v1.2h-1.2zM61.4,419.1h1.2v1.2h-1.2zM48.6,418.8h1.2v1.2h-1.2zM65.4,422.6h1.2v1.2h-1.2zM60.9,426.7h1.2v1.2h-1.2zM63.4,416.0h1.2v1.2h-1.2zM64.3,412.9h1.2v1.2h-1.2zM54.2,410.5h1.2v1.2h-1.2zM40.8,394.9h1.2v1.2h-1.2zM30.7,426.2h1.2v1.2h-1.2zM53.2,405.7h1.2v1.2h-1.2zM54.4,394.9h1.2v1.2h-1.2zM36.0,421.6h1.2v1.2h-1.2zM62.1,404.1h1.2v1.2h-1.2zM35.7,401.4h1.2v1.2h-1.2zM48.1,429.1h1.2v1.2h-1.2zM45.5,413.2h1.2v1.2h-1.2zM48.8,403.1h1.2v1.2h-1.2zM60.2,430.6h1.2v1.2h-1.2zM48.0,395.1h1.2v1.2h-1.2zM65.7,402.3h1.2v1.2h-1.2zM37.9,423.8h1.2v1.2h-1.2zM67.3,400.0h1.2v1.2h-1.2zM53.4,392.5h1.2v1.2h-1.2zM28.4,423.4h1.2v1.2h-1.2zM41.8,413.6h1.2v1.2h-1.2zM46.0,423.1h1.2v1.2h-1.2zM54.9,398.8h1.2v1.2h-1.2zM68.5,399.9h1.2v1.2h-1.2zM50.9,392.7h1.2v1.2h-1.2zM40.8,400.7h1.2v1.2h-1.2zM39.7,434.6h1.2v1.2h-1.2zM37.9,394.4h1.2v1.2h-1.2zM57.1,409.4h1.2v1.2h-1.2zM29.0,419.3h1.2v1.2h-1.2zM65.3,393.4h1.2v1.2h-1.2zM61.3,403.1h1.2v1.2h-1.2zM28.6,405.4h1.2v1.2h-1.2zM48.7,397.6h1.2v1.2h-1.2zM55.5,407.0h1.2v1.2h-1.2zM68.9,391.2h1.2v1.2h-1.2zM44.5,398.5h1.2v1.2h-1.2zM47.7,431.4h1.2v1.2h-1.2zM41.6,394.4h1.2v1.2h-1.2zM29.6,418.0h1.2v1.2h-1.2zM44.1,400.3h1.2v1.2h-1.2zM59.6,392.4h1.2v1.2h-1.2zM66.1,387.6h1.2v1.2h-1.2zM66.2,443.3h1.2v1.2h-1.2zM54.9,416.8h1.2v1.2h-1.2zM38.2,402.8h1.2v1.2h-1.2zM33.0,411.2h1.2v1.2h-1.2zM38.9,399.4h1.2v1.2h-1.2zM71.1,388.0h1.2v1.2h-1.2zM62.6,395.6h1.2v1.2h-1.2zM62.1,422.3h1.2v1.2h-1.2zM67.1,382.7h1.2v1.2h-1.2zM50.3,412.3h1.2v1.2h-1.2zM36.4,395.9h1.2v1.2h-1.2zM41.8,428.2h1.2v1.2h-1.2zM60.6,395.5h1.2v1.2h-1.2zM39.1,406.9h1.2v1.2h-1.2zM41.9,423.4h1.2v1.2h-1.2zM28.7,417.9h1.2v1.2h-1.2zM64.1,423.2h1.2v1.2h-1.2zM47.6,418.8h1.2v1.2h-1.2zM43.9,438.8h1.2v1.2h-1.2zM49.5,421.6h1.2v1.2h-1.2zM33.5,425.7h1.2v1.2h-1.2zM29.7,411.7h1.2v1.2h-1.2zM48.8,423.9h1.2v1.2h-1.2zM57.5,412.1h1.2v1.2h-1.2zM67.9,381.9h1.2v1.2h-1.2zM43.3,414.3h1.2v1.2h-1.2zM59.2,420.9h1.2v1.2h-1.2zM48.0,394.5h1.2v1.2h-1.2zM72.6,386.0h1.2v1.2h-1.2zM30.9,416.5h1.2v1.2h-1.2zM30.2,419.2h1.2v1.2h-1.2zM61.0,395.2h1.2v1.2h-1.2zM58.2,428.7h1.2v1.2h-1.2zM62.9,407.6h1.2v1.2h-1.2zM67.7,393.0h1.2v1.2h-1.2zM63.4,401.0h1.2v1.2h-1.2zM63.5,430.9h1.2v1.2h-1.2zM46.5,408.7h1.2v1.2h-1.2zM72.2,388.4h1.2v1.2h-1.2zM30.8,408.6h1.2v1.2h-1.2zM41.1,426.8h1.2v1.2h-1.2zM51.4,420.5h1.2v1.2h-1.2zM58.1,413.9h1.2v1.2h-1.2zM57.2,427.5h1.2v1.2h-1.2zM57.5,429.6h1.2v1.2h-1.2zM50.9,389.7h1.2v1.2h-1.2zM34.9,427.3h1.2v1.2h-1.2zM56.7,410.4h1.2v1.2h-1.2zM37.4,410.7h1.2v1.2h-1.2zM35.7,402.4h1.2v1.2h-1.2zM30.1,411.1h1.2v1.2h-1.2zM25.8,421.5h1.2v1.2h-1.2zM48.5,435.3h1.2v1.2h-1.2zM40.7,397.0h1.2v1.2h-1.2zM67.4,387.5h1.2v1.2h-1.2zM44.0,423.7h1.2v1.2h-1.2zM41.8,393.2h1.2v1.2h-1.2zM66.0,384.8h1.2v1.2h-1.2zM62.6,390.6h1.2v1.2h-1.2zM46.0,413.6h1.2v1.2h-1.2zM31.9,410.1h1.2v1.2h-1.2zM62.2,386.8h1.2v1.2h-1.2zM49.6,414.1h1.2v1.2h-1.2zM60.9,420.6h1.2v1.2h-1.2zM50.3,392.8h1.2v1.2h-1.2zM37.0,398.6h1.2v1.2h-1.2zM47.8,399.6h1.2v1.2h-1.2zM48.7,405.7h1.2v1.2h-1.2zM61.6,428.2h1.2v1.2h-1.2zM50.7,419.4h1.2v1.2h-1.2zM50.3,424.8h1.2v1.2h-1.2zM41.9,396.2h1.2v1.2h-1.2zM28.4,418.4h1.2v1.2h-1.2zM42.8,428.2h1.2v1.2h-1.2zM39.0,397.5h1.2v1.2h-1.2zM67.0,405.4h1.2v1.2h-1.2zM44.8,392.4h1.2v1.2h-1.2zM62.0,388.2h1.2v1.2h-1.2zM48.0,398.9h1.2v1.2h-1.2zM38.2,417.2h1.2v1.2h-1.2zM64.8,410.9h1.2v1.2h-1.2zM59.3,419.2h1.2v1.2h-1.2zM42.9,395.7h1.2v1.2h-1.2zM52.5,403.7h1.2v1.2h-1.2zM68.6,397.8h1.2v1.2h-1.2zM54.0,399.5h1.2v1.2h-1.2zM51.7,391.1h1.2v1.2h-1.2zM53.1,429.1h1.2v1.2h-1.2zM44.4,400.6h1.2v1.2h-1.2zM37.6,401.8h1.2v1.2h-1.2zM37.9,422.0h1.2v1.2h-1.2zM29.6,409.7h1.2v1.2h-1.2zM31.1,425.3h1.2v1.2h-1.2zM48.6,420.6h1.2v1.2h-1.2zM49.4,420.7h1.2v1.2h-1.2zM63.3,386.1h1.2v1.2h-1.2zM63.3,386.1h1.2v1.2h-1.2zM67.4,390.9h1.2v1.2h-1.2zM42.7,399.7h1.2v1.2h-1.2zM64.5,388.9h1.2v1.2h-1.2zM60.3,422.3h1.2v1.2h-1.2zM38.9,404.9h1.2v1.2h-1.2zM52.8,417.0h1.2v1.2h-1.2zM33.8,411.7h1.2v1.2h-1.2zM63.9,408.9h1.2v1.2h-1.2zM58.7,385.1h1.2v1.2h-1.2zM64.0,411.2h1.2v1.2h-1.2zM50.6,432.3h1.2v1.2h-1.2zM59.7,413.0h1.2v1.2h-1.2zM63.6,440.2h1.2v1.2h-1.2zM64.8,445.3h1.2v1.2h-1.2zM46.0,401.3h1.2v1.2h-1.2zM56.8,431.3h1.2v1.2h-1.2zM46.2,404.5h1.2v1.2h-1.2zM64.8,410.3h1.2v1.2h-1.2zM44.7,434.1h1.2v1.2h-1.2zM64.5,413.8h1.2v1.2h-1.2zM71.5,393.7h1.2v1.2h-1.2zM46.3,410.3h1.2v1.2h-1.2zM30.5,409.3h1.2v1.2h-1.2zM48.2,415.5h1.2v1.2h-1.2zM65.6,385.0h1.2v1.2h-1.2zM42.3,426.2h1.2v1.2h-1.2zM57.5,422.4h1.2v1.2h-1.2z" fill="#ffffff"/>
<path d="M43.0,401.6h1.2v1.2h-1.2zM56.3,420.0h1.2v1.2h-1.2zM41.8,422.2h1.2v1.2h-1.2zM55.0,423.3h1.2v1.2h-1.2zM63.0,427.2h1.2v1.2h-1.2zM41.8,409.4h1.2v1.2h-1.2zM60.0,426.6h1.2v1.2h-1.2zM48.8,421.6h1.2v1.2h-1.2zM54.2,414.6h1.2v1.2h-1.2zM52.9,416.2h1.2v1.2h-1.2zM43.1,413.6h1.2v1.2h-1.2zM63.0,432.7h1.2v1.2h-1.2zM55.6,431.0h1.2v1.2h-1.2zM46.8,434.9h1.2v1.2h-1.2zM61.0,423.5h1.2v1.2h-1.2zM38.2,426.7h1.2v1.2h-1.2zM52.0,416.3h1.2v1.2h-1.2zM53.3,424.9h1.2v1.2h-1.2zM38.1,418.4h1.2v1.2h-1.2zM39.4,428.1h1.2v1.2h-1.2zM49.7,417.4h1.2v1.2h-1.2zM52.9,427.5h1.2v1.2h-1.2zM51.6,416.0h1.2v1.2h-1.2zM32.6,423.2h1.2v1.2h-1.2zM30.9,410.7h1.2v1.2h-1.2zM59.8,417.9h1.2v1.2h-1.2zM41.4,428.7h1.2v1.2h-1.2zM28.9,414.7h1.2v1.2h-1.2zM59.3,419.8h1.2v1.2h-1.2zM47.9,421.2h1.2v1.2h-1.2zM36.4,404.1h1.2v1.2h-1.2zM38.9,421.9h1.2v1.2h-1.2zM46.8,432.1h1.2v1.2h-1.2zM48.3,425.0h1.2v1.2h-1.2zM34.5,411.1h1.2v1.2h-1.2zM49.9,422.7h1.2v1.2h-1.2zM57.5,427.1h1.2v1.2h-1.2zM44.3,407.8h1.2v1.2h-1.2zM32.7,423.2h1.2v1.2h-1.2zM63.2,419.5h1.2v1.2h-1.2zM24.6,417.2h1.2v1.2h-1.2zM41.0,400.1h1.2v1.2h-1.2zM65.0,443.1h1.2v1.2h-1.2zM31.7,419.9h1.2v1.2h-1.2zM48.1,425.5h1.2v1.2h-1.2zM40.1,419.4h1.2v1.2h-1.2zM47.8,404.7h1.2v1.2h-1.2zM44.6,426.9h1.2v1.2h-1.2zM44.3,406.5h1.2v1.2h-1.2zM56.0,427.2h1.2v1.2h-1.2zM53.5,433.9h1.2v1.2h-1.2zM39.2,424.1h1.2v1.2h-1.2zM36.9,413.8h1.2v1.2h-1.2zM55.8,415.9h1.2v1.2h-1.2zM49.3,416.8h1.2v1.2h-1.2zM50.5,416.4h1.2v1.2h-1.2zM62.2,449.4h1.2v1.2h-1.2zM44.9,404.3h1.2v1.2h-1.2zM45.1,410.1h1.2v1.2h-1.2zM35.3,407.9h1.2v1.2h-1.2zM62.7,427.8h1.2v1.2h-1.2zM59.1,423.8h1.2v1.2h-1.2zM35.5,406.3h1.2v1.2h-1.2zM40.0,409.3h1.2v1.2h-1.2zM63.1,449.4h1.2v1.2h-1.2zM44.7,407.5h1.2v1.2h-1.2zM41.4,414.7h1.2v1.2h-1.2zM40.4,414.1h1.2v1.2h-1.2zM49.0,408.5h1.2v1.2h-1.2zM29.7,420.8h1.2v1.2h-1.2zM32.2,423.1h1.2v1.2h-1.2zM38.1,404.2h1.2v1.2h-1.2zM32.9,410.8h1.2v1.2h-1.2zM38.6,421.9h1.2v1.2h-1.2zM36.3,409.1h1.2v1.2h-1.2zM43.9,407.5h1.2v1.2h-1.2zM37.0,405.4h1.2v1.2h-1.2zM57.8,411.5h1.2v1.2h-1.2zM38.4,428.2h1.2v1.2h-1.2zM34.4,416.1h1.2v1.2h-1.2zM34.1,425.9h1.2v1.2h-1.2zM46.8,418.4h1.2v1.2h-1.2zM56.7,424.1h1.2v1.2h-1.2zM51.3,422.0h1.2v1.2h-1.2zM61.9,437.5h1.2v1.2h-1.2zM38.1,430.9h1.2v1.2h-1.2zM44.4,423.3h1.2v1.2h-1.2zM29.6,408.4h1.2v1.2h-1.2zM51.0,418.9h1.2v1.2h-1.2zM60.3,426.8h1.2v1.2h-1.2zM47.1,403.4h1.2v1.2h-1.2zM47.4,409.2h1.2v1.2h-1.2zM47.6,415.1h1.2v1.2h-1.2zM34.2,420.4h1.2v1.2h-1.2zM36.9,425.7h1.2v1.2h-1.2zM31.0,415.9h1.2v1.2h-1.2zM29.0,419.6h1.2v1.2h-1.2zM44.1,400.9h1.2v1.2h-1.2zM31.4,423.3h1.2v1.2h-1.2zM41.9,428.8h1.2v1.2h-1.2zM46.8,428.9h1.2v1.2h-1.2zM52.9,428.5h1.2v1.2h-1.2zM39.9,406.9h1.2v1.2h-1.2z" fill="#a08ced"/>
<path d="M37.2,418.2h1.2v1.2h-1.2zM52.3,431.4h1.2v1.2h-1.2zM40.6,422.6h1.2v1.2h-1.2zM43.4,429.6h1.2v1.2h-1.2zM33.1,425.0h1.2v1.2h-1.2zM48.6,428.6h1.2v1.2h-1.2zM29.3,417.9h1.2v1.2h-1.2zM26.4,420.9h1.2v1.2h-1.2zM42.8,427.7h1.2v1.2h-1.2zM41.0,432.2h1.2v1.2h-1.2zM24.9,415.2h1.2v1.2h-1.2zM36.9,434.0h1.2v1.2h-1.2zM52.3,434.0h1.2v1.2h-1.2zM43.5,432.5h1.2v1.2h-1.2zM42.4,425.6h1.2v1.2h-1.2zM32.4,414.9h1.2v1.2h-1.2zM34.5,433.3h1.2v1.2h-1.2zM34.9,416.7h1.2v1.2h-1.2zM50.4,433.0h1.2v1.2h-1.2zM52.4,434.6h1.2v1.2h-1.2zM40.2,435.0h1.2v1.2h-1.2zM66.3,443.6h1.2v1.2h-1.2zM43.4,423.0h1.2v1.2h-1.2zM36.0,435.1h1.2v1.2h-1.2zM32.9,420.0h1.2v1.2h-1.2zM38.2,424.3h1.2v1.2h-1.2zM37.6,421.1h1.2v1.2h-1.2zM25.7,415.1h1.2v1.2h-1.2zM45.3,428.8h1.2v1.2h-1.2zM36.9,417.6h1.2v1.2h-1.2zM38.5,433.6h1.2v1.2h-1.2zM40.1,418.7h1.2v1.2h-1.2zM44.6,433.7h1.2v1.2h-1.2zM40.8,437.7h1.2v1.2h-1.2zM29.8,417.8h1.2v1.2h-1.2zM37.5,427.1h1.2v1.2h-1.2zM33.0,431.9h1.2v1.2h-1.2zM32.1,418.7h1.2v1.2h-1.2zM34.2,430.8h1.2v1.2h-1.2zM43.5,434.5h1.2v1.2h-1.2zM42.6,440.0h1.2v1.2h-1.2zM33.6,423.2h1.2v1.2h-1.2zM28.8,424.0h1.2v1.2h-1.2zM44.9,424.0h1.2v1.2h-1.2zM32.5,420.1h1.2v1.2h-1.2zM41.8,434.8h1.2v1.2h-1.2zM63.8,444.1h1.2v1.2h-1.2zM48.3,434.4h1.2v1.2h-1.2zM30.9,412.1h1.2v1.2h-1.2zM26.0,412.0h1.2v1.2h-1.2zM25.9,420.6h1.2v1.2h-1.2zM38.5,428.4h1.2v1.2h-1.2zM29.9,424.6h1.2v1.2h-1.2zM30.6,421.0h1.2v1.2h-1.2zM48.9,431.2h1.2v1.2h-1.2zM33.2,422.7h1.2v1.2h-1.2zM46.3,430.6h1.2v1.2h-1.2zM39.3,431.1h1.2v1.2h-1.2zM64.8,441.4h1.2v1.2h-1.2zM29.5,418.8h1.2v1.2h-1.2zM24.9,420.6h1.2v1.2h-1.2zM40.3,434.7h1.2v1.2h-1.2zM47.5,425.3h1.2v1.2h-1.2zM30.3,424.9h1.2v1.2h-1.2zM62.6,439.7h1.2v1.2h-1.2zM46.9,432.6h1.2v1.2h-1.2zM24.3,418.9h1.2v1.2h-1.2zM27.7,419.2h1.2v1.2h-1.2zM41.7,437.1h1.2v1.2h-1.2zM29.5,421.0h1.2v1.2h-1.2zM48.8,435.7h1.2v1.2h-1.2zM49.0,433.8h1.2v1.2h-1.2zM66.1,444.6h1.2v1.2h-1.2z" fill="#beb4ea"/>
<path d="M47.3,402.6h1.2v1.2h-1.2zM60.9,412.1h1.2v1.2h-1.2zM47.7,413.8h1.2v1.2h-1.2zM40.5,392.1h1.2v1.2h-1.2zM59.9,431.9h1.2v1.2h-1.2zM56.0,405.1h1.2v1.2h-1.2zM40.0,408.8h1.2v1.2h-1.2zM42.4,411.0h1.2v1.2h-1.2zM65.5,410.2h1.2v1.2h-1.2zM54.8,422.1h1.2v1.2h-1.2zM55.2,425.8h1.2v1.2h-1.2zM47.6,392.2h1.2v1.2h-1.2zM53.3,401.6h1.2v1.2h-1.2zM40.3,394.0h1.2v1.2h-1.2zM44.7,419.2h1.2v1.2h-1.2zM48.7,403.3h1.2v1.2h-1.2zM68.1,411.8h1.2v1.2h-1.2zM61.8,416.8h1.2v1.2h-1.2zM49.9,396.8h1.2v1.2h-1.2zM51.0,417.3h1.2v1.2h-1.2zM37.0,411.4h1.2v1.2h-1.2zM63.6,437.0h1.2v1.2h-1.2zM48.8,420.0h1.2v1.2h-1.2zM50.7,414.7h1.2v1.2h-1.2zM67.8,407.6h1.2v1.2h-1.2zM60.9,413.4h1.2v1.2h-1.2zM43.2,419.2h1.2v1.2h-1.2zM55.3,426.8h1.2v1.2h-1.2zM49.9,409.8h1.2v1.2h-1.2zM43.6,392.5h1.2v1.2h-1.2zM63.4,415.9h1.2v1.2h-1.2zM37.6,405.1h1.2v1.2h-1.2zM59.9,404.8h1.2v1.2h-1.2zM44.2,422.0h1.2v1.2h-1.2zM41.8,391.7h1.2v1.2h-1.2zM57.8,415.6h1.2v1.2h-1.2zM35.4,407.9h1.2v1.2h-1.2zM56.8,409.8h1.2v1.2h-1.2zM63.8,408.9h1.2v1.2h-1.2zM34.2,402.6h1.2v1.2h-1.2zM41.6,414.3h1.2v1.2h-1.2zM54.8,427.5h1.2v1.2h-1.2zM57.2,423.0h1.2v1.2h-1.2zM61.1,407.5h1.2v1.2h-1.2zM61.4,401.6h1.2v1.2h-1.2zM50.5,414.5h1.2v1.2h-1.2zM51.7,407.8h1.2v1.2h-1.2zM57.0,409.1h1.2v1.2h-1.2zM37.7,412.9h1.2v1.2h-1.2zM63.4,412.2h1.2v1.2h-1.2zM65.6,423.1h1.2v1.2h-1.2zM61.1,402.3h1.2v1.2h-1.2zM44.4,411.0h1.2v1.2h-1.2zM39.4,403.2h1.2v1.2h-1.2zM56.0,401.1h1.2v1.2h-1.2zM56.6,408.5h1.2v1.2h-1.2zM63.3,417.4h1.2v1.2h-1.2zM57.9,417.8h1.2v1.2h-1.2zM53.3,405.0h1.2v1.2h-1.2zM45.0,413.8h1.2v1.2h-1.2zM62.4,416.0h1.2v1.2h-1.2zM42.5,397.4h1.2v1.2h-1.2zM47.3,400.2h1.2v1.2h-1.2zM44.9,414.5h1.2v1.2h-1.2zM67.7,438.0h1.2v1.2h-1.2zM56.7,406.6h1.2v1.2h-1.2zM51.9,403.8h1.2v1.2h-1.2zM55.3,422.8h1.2v1.2h-1.2zM49.4,426.3h1.2v1.2h-1.2zM53.2,413.4h1.2v1.2h-1.2zM57.0,418.6h1.2v1.2h-1.2zM60.0,420.5h1.2v1.2h-1.2zM40.9,404.9h1.2v1.2h-1.2zM44.2,411.6h1.2v1.2h-1.2zM61.0,425.5h1.2v1.2h-1.2zM67.2,418.1h1.2v1.2h-1.2zM40.0,412.1h1.2v1.2h-1.2zM37.9,400.1h1.2v1.2h-1.2zM52.0,426.6h1.2v1.2h-1.2zM67.6,416.7h1.2v1.2h-1.2zM58.3,410.5h1.2v1.2h-1.2zM53.0,401.2h1.2v1.2h-1.2zM59.1,408.6h1.2v1.2h-1.2zM39.0,412.9h1.2v1.2h-1.2zM41.9,407.3h1.2v1.2h-1.2zM32.7,407.4h1.2v1.2h-1.2zM31.8,405.7h1.2v1.2h-1.2zM55.7,415.9h1.2v1.2h-1.2zM37.3,406.3h1.2v1.2h-1.2zM45.2,421.9h1.2v1.2h-1.2zM58.4,415.7h1.2v1.2h-1.2zM58.2,402.9h1.2v1.2h-1.2zM53.6,410.5h1.2v1.2h-1.2zM44.4,413.8h1.2v1.2h-1.2zM57.0,427.8h1.2v1.2h-1.2zM43.2,408.6h1.2v1.2h-1.2zM58.8,408.5h1.2v1.2h-1.2zM59.9,416.1h1.2v1.2h-1.2zM44.4,400.4h1.2v1.2h-1.2zM50.4,416.0h1.2v1.2h-1.2zM63.7,410.0h1.2v1.2h-1.2zM36.9,396.0h1.2v1.2h-1.2zM49.6,406.2h1.2v1.2h-1.2zM56.1,401.2h1.2v1.2h-1.2zM51.0,421.9h1.2v1.2h-1.2zM48.8,395.2h1.2v1.2h-1.2zM50.0,418.3h1.2v1.2h-1.2zM38.3,393.6h1.2v1.2h-1.2zM59.7,430.0h1.2v1.2h-1.2zM45.9,421.8h1.2v1.2h-1.2zM57.5,414.0h1.2v1.2h-1.2zM46.4,403.8h1.2v1.2h-1.2zM61.7,415.7h1.2v1.2h-1.2zM49.2,416.1h1.2v1.2h-1.2zM49.7,410.9h1.2v1.2h-1.2zM62.3,411.5h1.2v1.2h-1.2zM63.1,413.8h1.2v1.2h-1.2zM44.2,402.8h1.2v1.2h-1.2zM56.2,399.1h1.2v1.2h-1.2zM56.4,422.0h1.2v1.2h-1.2zM58.5,406.5h1.2v1.2h-1.2zM54.5,417.7h1.2v1.2h-1.2zM62.0,423.3h1.2v1.2h-1.2zM35.3,404.0h1.2v1.2h-1.2zM61.0,418.8h1.2v1.2h-1.2zM55.6,428.4h1.2v1.2h-1.2zM67.6,412.1h1.2v1.2h-1.2zM51.7,404.5h1.2v1.2h-1.2zM42.0,418.2h1.2v1.2h-1.2zM44.2,404.6h1.2v1.2h-1.2zM59.7,418.3h1.2v1.2h-1.2zM37.0,413.8h1.2v1.2h-1.2zM50.9,423.9h1.2v1.2h-1.2zM48.4,420.1h1.2v1.2h-1.2zM35.7,413.6h1.2v1.2h-1.2zM45.8,405.2h1.2v1.2h-1.2zM56.6,408.9h1.2v1.2h-1.2zM63.9,420.5h1.2v1.2h-1.2zM40.0,410.7h1.2v1.2h-1.2zM36.9,399.3h1.2v1.2h-1.2zM54.2,412.7h1.2v1.2h-1.2zM63.0,420.3h1.2v1.2h-1.2zM48.1,400.7h1.2v1.2h-1.2zM65.5,438.4h1.2v1.2h-1.2zM37.0,410.3h1.2v1.2h-1.2zM37.2,406.5h1.2v1.2h-1.2z" fill="#8c78ef"/>
<path d="M35.7,413.6h1.2v1.2h-1.2zM50.9,408.2h1.2v1.2h-1.2zM60.0,421.3h1.2v1.2h-1.2zM51.2,428.7h1.2v1.2h-1.2zM37.0,396.5h1.2v1.2h-1.2zM48.3,424.9h1.2v1.2h-1.2zM46.9,430.5h1.2v1.2h-1.2zM38.9,427.6h1.2v1.2h-1.2zM41.6,425.1h1.2v1.2h-1.2zM39.5,417.6h1.2v1.2h-1.2zM55.6,426.1h1.2v1.2h-1.2zM59.2,425.5h1.2v1.2h-1.2zM54.5,426.7h1.2v1.2h-1.2zM50.5,421.3h1.2v1.2h-1.2zM34.7,399.4h1.2v1.2h-1.2zM53.5,432.8h1.2v1.2h-1.2zM52.3,430.8h1.2v1.2h-1.2zM52.3,411.3h1.2v1.2h-1.2zM41.9,399.4h1.2v1.2h-1.2zM45.4,413.8h1.2v1.2h-1.2zM34.0,403.3h1.2v1.2h-1.2zM40.6,397.4h1.2v1.2h-1.2z" fill="#a08cee"/>
<path d="M32.5,425.0h1.2v1.2h-1.2zM31.0,405.5h1.2v1.2h-1.2zM53.7,430.1h1.2v1.2h-1.2zM30.4,428.7h1.2v1.2h-1.2zM29.4,418.2h1.2v1.2h-1.2zM44.2,434.3h1.2v1.2h-1.2zM29.5,412.7h1.2v1.2h-1.2zM37.7,435.1h1.2v1.2h-1.2zM47.1,419.1h1.2v1.2h-1.2zM32.0,420.1h1.2v1.2h-1.2zM25.8,423.7h1.2v1.2h-1.2zM29.5,411.3h1.2v1.2h-1.2zM34.7,425.6h1.2v1.2h-1.2zM54.4,429.5h1.2v1.2h-1.2zM27.2,422.8h1.2v1.2h-1.2zM32.2,408.2h1.2v1.2h-1.2zM30.2,425.4h1.2v1.2h-1.2zM32.7,420.9h1.2v1.2h-1.2zM33.5,425.6h1.2v1.2h-1.2zM46.3,422.9h1.2v1.2h-1.2zM32.2,422.9h1.2v1.2h-1.2zM65.5,436.4h1.2v1.2h-1.2zM31.8,412.4h1.2v1.2h-1.2zM24.9,422.0h1.2v1.2h-1.2zM41.2,431.0h1.2v1.2h-1.2zM35.2,426.3h1.2v1.2h-1.2zM37.8,429.2h1.2v1.2h-1.2zM47.1,428.7h1.2v1.2h-1.2zM60.7,436.7h1.2v1.2h-1.2zM40.7,421.0h1.2v1.2h-1.2zM26.7,421.8h1.2v1.2h-1.2zM43.7,430.2h1.2v1.2h-1.2zM38.2,435.5h1.2v1.2h-1.2zM40.2,428.7h1.2v1.2h-1.2zM66.1,441.4h1.2v1.2h-1.2zM46.7,428.7h1.2v1.2h-1.2zM44.2,431.6h1.2v1.2h-1.2zM66.0,440.1h1.2v1.2h-1.2zM37.9,414.5h1.2v1.2h-1.2zM29.5,404.5h1.2v1.2h-1.2zM34.2,409.7h1.2v1.2h-1.2zM37.3,429.4h1.2v1.2h-1.2zM38.4,426.8h1.2v1.2h-1.2zM54.1,435.2h1.2v1.2h-1.2zM28.8,413.5h1.2v1.2h-1.2zM29.1,427.3h1.2v1.2h-1.2zM51.1,433.7h1.2v1.2h-1.2zM34.0,412.7h1.2v1.2h-1.2zM29.2,412.9h1.2v1.2h-1.2zM44.9,436.4h1.2v1.2h-1.2zM30.5,429.1h1.2v1.2h-1.2zM46.7,434.9h1.2v1.2h-1.2zM42.7,432.5h1.2v1.2h-1.2zM43.2,425.9h1.2v1.2h-1.2zM26.2,413.3h1.2v1.2h-1.2zM25.9,410.7h1.2v1.2h-1.2zM38.9,412.7h1.2v1.2h-1.2zM34.6,414.5h1.2v1.2h-1.2zM35.4,430.9h1.2v1.2h-1.2zM51.3,432.0h1.2v1.2h-1.2zM42.6,417.2h1.2v1.2h-1.2zM52.9,429.7h1.2v1.2h-1.2zM54.8,433.1h1.2v1.2h-1.2zM35.3,416.0h1.2v1.2h-1.2zM49.5,426.3h1.2v1.2h-1.2zM26.7,425.9h1.2v1.2h-1.2zM43.4,421.0h1.2v1.2h-1.2zM38.1,416.0h1.2v1.2h-1.2zM32.0,422.5h1.2v1.2h-1.2zM46.7,438.7h1.2v1.2h-1.2zM39.7,427.1h1.2v1.2h-1.2zM46.5,433.7h1.2v1.2h-1.2zM30.7,423.6h1.2v1.2h-1.2zM26.3,419.3h1.2v1.2h-1.2zM53.5,433.2h1.2v1.2h-1.2zM62.4,440.7h1.2v1.2h-1.2zM41.7,424.6h1.2v1.2h-1.2zM45.4,421.9h1.2v1.2h-1.2zM35.0,419.2h1.2v1.2h-1.2zM33.7,413.3h1.2v1.2h-1.2zM31.1,426.7h1.2v1.2h-1.2zM32.9,413.8h1.2v1.2h-1.2zM41.0,438.4h1.2v1.2h-1.2zM55.6,429.8h1.2v1.2h-1.2zM42.8,416.2h1.2v1.2h-1.2zM31.9,407.3h1.2v1.2h-1.2zM31.8,412.1h1.2v1.2h-1.2zM53.0,431.2h1.2v1.2h-1.2zM32.9,417.6h1.2v1.2h-1.2zM49.3,431.4h1.2v1.2h-1.2zM45.7,419.9h1.2v1.2h-1.2zM35.9,424.0h1.2v1.2h-1.2zM35.9,419.5h1.2v1.2h-1.2zM51.2,427.4h1.2v1.2h-1.2zM49.7,422.3h1.2v1.2h-1.2zM25.6,425.3h1.2v1.2h-1.2zM58.2,434.7h1.2v1.2h-1.2z" fill="#b4aaeb"/>
<path d="M29.9,406.4h1.2v1.2h-1.2zM55.9,425.4h1.2v1.2h-1.2zM55.4,432.6h1.2v1.2h-1.2zM40.2,430.5h1.2v1.2h-1.2zM35.6,427.2h1.2v1.2h-1.2zM40.7,427.9h1.2v1.2h-1.2zM25.1,422.5h1.2v1.2h-1.2zM49.0,428.1h1.2v1.2h-1.2zM64.7,442.6h1.2v1.2h-1.2zM38.8,410.9h1.2v1.2h-1.2zM40.1,418.4h1.2v1.2h-1.2zM43.4,430.7h1.2v1.2h-1.2zM33.9,422.2h1.2v1.2h-1.2zM41.9,422.1h1.2v1.2h-1.2zM46.2,426.9h1.2v1.2h-1.2zM58.2,428.9h1.2v1.2h-1.2zM32.7,420.2h1.2v1.2h-1.2zM30.2,428.9h1.2v1.2h-1.2zM40.7,429.3h1.2v1.2h-1.2zM34.9,422.9h1.2v1.2h-1.2zM54.1,433.3h1.2v1.2h-1.2zM48.4,425.4h1.2v1.2h-1.2zM33.7,417.2h1.2v1.2h-1.2zM41.5,415.2h1.2v1.2h-1.2zM46.8,429.4h1.2v1.2h-1.2zM33.0,427.6h1.2v1.2h-1.2z" fill="#b4a0eb"/>
<path d="M32.6,425.9h1.2v1.2h-1.2zM42.7,433.3h1.2v1.2h-1.2zM40.5,429.5h1.2v1.2h-1.2zM33.8,429.6h1.2v1.2h-1.2zM47.0,433.2h1.2v1.2h-1.2zM30.6,423.6h1.2v1.2h-1.2zM30.5,425.5h1.2v1.2h-1.2zM45.4,432.8h1.2v1.2h-1.2zM42.5,434.1h1.2v1.2h-1.2zM25.8,420.6h1.2v1.2h-1.2zM33.7,423.3h1.2v1.2h-1.2zM33.3,423.3h1.2v1.2h-1.2zM41.3,428.8h1.2v1.2h-1.2zM39.1,432.8h1.2v1.2h-1.2zM30.5,429.7h1.2v1.2h-1.2zM44.4,435.6h1.2v1.2h-1.2zM37.5,435.0h1.2v1.2h-1.2zM37.2,428.3h1.2v1.2h-1.2zM35.6,421.6h1.2v1.2h-1.2zM38.4,432.6h1.2v1.2h-1.2zM28.5,419.1h1.2v1.2h-1.2zM35.2,429.1h1.2v1.2h-1.2zM43.9,430.8h1.2v1.2h-1.2zM27.7,425.4h1.2v1.2h-1.2zM25.5,419.6h1.2v1.2h-1.2zM30.5,429.7h1.2v1.2h-1.2zM32.9,425.1h1.2v1.2h-1.2zM30.3,427.3h1.2v1.2h-1.2zM50.6,435.4h1.2v1.2h-1.2zM29.2,426.5h1.2v1.2h-1.2zM34.8,430.2h1.2v1.2h-1.2zM24.6,421.4h1.2v1.2h-1.2zM36.7,429.1h1.2v1.2h-1.2zM37.8,432.0h1.2v1.2h-1.2zM44.7,436.3h1.2v1.2h-1.2zM33.5,423.5h1.2v1.2h-1.2zM25.8,420.1h1.2v1.2h-1.2zM31.8,426.8h1.2v1.2h-1.2zM28.7,429.0h1.2v1.2h-1.2zM30.0,430.3h1.2v1.2h-1.2zM25.6,422.7h1.2v1.2h-1.2zM34.7,423.1h1.2v1.2h-1.2zM33.5,420.3h1.2v1.2h-1.2zM30.8,426.2h1.2v1.2h-1.2zM40.3,429.0h1.2v1.2h-1.2zM31.3,427.7h1.2v1.2h-1.2zM31.0,426.3h1.2v1.2h-1.2zM35.2,425.7h1.2v1.2h-1.2zM41.7,435.1h1.2v1.2h-1.2zM35.9,425.3h1.2v1.2h-1.2zM38.0,433.0h1.2v1.2h-1.2zM39.0,433.8h1.2v1.2h-1.2z" fill="#bebeea"/>
<path d="M41.4,398.0h1.2v1.2h-1.2zM59.7,408.7h1.2v1.2h-1.2zM66.0,395.3h1.2v1.2h-1.2zM54.1,390.6h1.2v1.2h-1.2zM51.7,409.9h1.2v1.2h-1.2zM43.4,403.8h1.2v1.2h-1.2zM38.8,405.2h1.2v1.2h-1.2zM54.7,388.5h1.2v1.2h-1.2zM67.5,411.2h1.2v1.2h-1.2zM65.2,396.1h1.2v1.2h-1.2zM46.8,411.3h1.2v1.2h-1.2zM57.2,417.7h1.2v1.2h-1.2zM63.4,419.4h1.2v1.2h-1.2zM66.0,422.7h1.2v1.2h-1.2zM64.1,426.3h1.2v1.2h-1.2zM55.6,413.4h1.2v1.2h-1.2zM63.4,402.8h1.2v1.2h-1.2zM41.0,397.9h1.2v1.2h-1.2zM41.4,397.5h1.2v1.2h-1.2zM64.2,403.1h1.2v1.2h-1.2zM53.2,409.5h1.2v1.2h-1.2zM67.5,410.5h1.2v1.2h-1.2zM54.1,417.6h1.2v1.2h-1.2zM53.6,416.5h1.2v1.2h-1.2zM56.1,397.4h1.2v1.2h-1.2zM60.1,417.6h1.2v1.2h-1.2zM53.3,411.0h1.2v1.2h-1.2zM47.9,392.3h1.2v1.2h-1.2zM55.9,392.6h1.2v1.2h-1.2zM64.7,407.9h1.2v1.2h-1.2zM51.3,395.2h1.2v1.2h-1.2zM64.9,401.9h1.2v1.2h-1.2zM54.1,389.0h1.2v1.2h-1.2zM64.2,403.6h1.2v1.2h-1.2zM69.6,406.6h1.2v1.2h-1.2zM45.6,407.2h1.2v1.2h-1.2zM43.3,408.1h1.2v1.2h-1.2zM53.4,411.1h1.2v1.2h-1.2zM58.3,408.2h1.2v1.2h-1.2zM53.7,412.8h1.2v1.2h-1.2zM57.1,390.1h1.2v1.2h-1.2zM57.6,398.2h1.2v1.2h-1.2zM44.7,404.8h1.2v1.2h-1.2zM42.5,401.6h1.2v1.2h-1.2zM60.0,402.3h1.2v1.2h-1.2zM53.9,411.6h1.2v1.2h-1.2zM60.3,405.2h1.2v1.2h-1.2zM43.1,394.1h1.2v1.2h-1.2zM58.6,394.0h1.2v1.2h-1.2zM42.1,401.8h1.2v1.2h-1.2zM50.0,404.1h1.2v1.2h-1.2zM40.0,401.7h1.2v1.2h-1.2zM66.1,402.1h1.2v1.2h-1.2z" fill="#8264f1"/>
<path d="M29.4,409.9h1.2v1.2h-1.2zM46.2,424.1h1.2v1.2h-1.2zM50.9,420.8h1.2v1.2h-1.2zM42.2,414.2h1.2v1.2h-1.2zM41.4,433.3h1.2v1.2h-1.2zM35.0,414.2h1.2v1.2h-1.2zM42.8,434.2h1.2v1.2h-1.2zM42.0,420.6h1.2v1.2h-1.2zM44.5,425.7h1.2v1.2h-1.2zM49.6,421.7h1.2v1.2h-1.2zM40.2,415.0h1.2v1.2h-1.2zM47.1,431.0h1.2v1.2h-1.2zM64.3,446.5h1.2v1.2h-1.2zM54.0,426.2h1.2v1.2h-1.2zM27.8,423.4h1.2v1.2h-1.2zM47.9,425.1h1.2v1.2h-1.2zM48.0,430.1h1.2v1.2h-1.2zM27.0,420.0h1.2v1.2h-1.2zM37.4,432.2h1.2v1.2h-1.2zM50.1,430.4h1.2v1.2h-1.2zM24.4,416.4h1.2v1.2h-1.2zM49.2,431.8h1.2v1.2h-1.2zM43.1,420.3h1.2v1.2h-1.2zM51.7,426.7h1.2v1.2h-1.2zM44.5,413.6h1.2v1.2h-1.2zM38.2,427.4h1.2v1.2h-1.2zM27.4,408.6h1.2v1.2h-1.2zM47.6,423.8h1.2v1.2h-1.2zM35.0,419.5h1.2v1.2h-1.2zM42.9,414.3h1.2v1.2h-1.2zM60.3,437.8h1.2v1.2h-1.2zM33.6,412.1h1.2v1.2h-1.2zM50.2,417.4h1.2v1.2h-1.2zM36.1,414.2h1.2v1.2h-1.2zM37.6,422.3h1.2v1.2h-1.2zM26.3,417.3h1.2v1.2h-1.2zM49.2,436.3h1.2v1.2h-1.2zM51.2,430.1h1.2v1.2h-1.2zM35.2,426.5h1.2v1.2h-1.2zM35.7,433.6h1.2v1.2h-1.2zM44.0,431.5h1.2v1.2h-1.2zM37.8,416.0h1.2v1.2h-1.2zM58.6,428.4h1.2v1.2h-1.2zM47.1,414.3h1.2v1.2h-1.2zM44.4,436.1h1.2v1.2h-1.2zM37.3,417.3h1.2v1.2h-1.2zM34.7,420.1h1.2v1.2h-1.2zM40.8,416.2h1.2v1.2h-1.2zM41.9,435.7h1.2v1.2h-1.2zM38.3,407.8h1.2v1.2h-1.2zM63.2,436.3h1.2v1.2h-1.2zM59.0,432.0h1.2v1.2h-1.2zM31.3,409.8h1.2v1.2h-1.2zM39.4,414.4h1.2v1.2h-1.2zM46.8,430.0h1.2v1.2h-1.2zM35.1,428.9h1.2v1.2h-1.2zM28.8,415.0h1.2v1.2h-1.2zM54.6,426.0h1.2v1.2h-1.2zM31.0,420.7h1.2v1.2h-1.2zM68.4,441.6h1.2v1.2h-1.2zM24.3,424.9h1.2v1.2h-1.2zM37.8,424.9h1.2v1.2h-1.2zM37.3,417.3h1.2v1.2h-1.2zM41.3,416.4h1.2v1.2h-1.2zM28.6,418.2h1.2v1.2h-1.2zM63.3,437.4h1.2v1.2h-1.2zM36.9,409.4h1.2v1.2h-1.2zM53.8,432.6h1.2v1.2h-1.2zM32.2,405.7h1.2v1.2h-1.2zM46.0,418.9h1.2v1.2h-1.2zM43.8,433.5h1.2v1.2h-1.2zM59.4,436.7h1.2v1.2h-1.2zM31.9,411.6h1.2v1.2h-1.2zM62.9,429.6h1.2v1.2h-1.2zM61.7,429.8h1.2v1.2h-1.2zM38.5,414.8h1.2v1.2h-1.2zM50.5,430.2h1.2v1.2h-1.2zM34.0,416.5h1.2v1.2h-1.2zM59.3,435.4h1.2v1.2h-1.2zM45.7,424.1h1.2v1.2h-1.2zM32.2,427.2h1.2v1.2h-1.2zM53.3,422.1h1.2v1.2h-1.2zM36.0,425.7h1.2v1.2h-1.2zM34.8,410.7h1.2v1.2h-1.2zM53.1,418.8h1.2v1.2h-1.2zM37.1,406.3h1.2v1.2h-1.2zM39.0,421.3h1.2v1.2h-1.2zM36.9,406.1h1.2v1.2h-1.2zM55.9,422.1h1.2v1.2h-1.2zM50.8,427.4h1.2v1.2h-1.2zM31.1,418.1h1.2v1.2h-1.2zM53.3,419.5h1.2v1.2h-1.2zM50.9,425.7h1.2v1.2h-1.2zM31.6,424.3h1.2v1.2h-1.2zM62.4,436.2h1.2v1.2h-1.2zM31.7,420.6h1.2v1.2h-1.2zM42.9,432.4h1.2v1.2h-1.2zM39.0,413.6h1.2v1.2h-1.2zM51.3,429.4h1.2v1.2h-1.2zM41.8,417.8h1.2v1.2h-1.2zM40.8,413.2h1.2v1.2h-1.2zM41.5,417.4h1.2v1.2h-1.2zM33.7,417.1h1.2v1.2h-1.2z" fill="#aaa0ec"/>
<path d="M66.9,417.7h1.2v1.2h-1.2zM56.1,402.5h1.2v1.2h-1.2zM30.1,401.1h1.2v1.2h-1.2zM31.4,404.5h1.2v1.2h-1.2zM43.8,402.9h1.2v1.2h-1.2zM59.7,428.2h1.2v1.2h-1.2zM58.2,414.7h1.2v1.2h-1.2zM60.5,405.8h1.2v1.2h-1.2zM49.8,409.2h1.2v1.2h-1.2zM50.0,397.6h1.2v1.2h-1.2zM51.2,402.3h1.2v1.2h-1.2zM46.7,395.1h1.2v1.2h-1.2zM54.1,419.3h1.2v1.2h-1.2zM38.6,403.9h1.2v1.2h-1.2zM59.5,410.4h1.2v1.2h-1.2zM44.9,410.7h1.2v1.2h-1.2zM40.4,408.2h1.2v1.2h-1.2zM49.8,395.9h1.2v1.2h-1.2zM65.3,416.0h1.2v1.2h-1.2zM56.6,407.9h1.2v1.2h-1.2zM54.2,420.2h1.2v1.2h-1.2zM42.0,414.9h1.2v1.2h-1.2zM54.4,408.2h1.2v1.2h-1.2zM35.0,399.9h1.2v1.2h-1.2zM53.5,395.4h1.2v1.2h-1.2zM42.9,393.7h1.2v1.2h-1.2zM50.4,413.9h1.2v1.2h-1.2zM57.4,407.3h1.2v1.2h-1.2zM50.9,419.2h1.2v1.2h-1.2zM64.5,410.7h1.2v1.2h-1.2zM44.9,400.8h1.2v1.2h-1.2zM56.8,426.4h1.2v1.2h-1.2zM54.8,409.3h1.2v1.2h-1.2zM34.2,404.7h1.2v1.2h-1.2zM49.8,394.9h1.2v1.2h-1.2zM55.4,408.5h1.2v1.2h-1.2zM40.6,397.9h1.2v1.2h-1.2zM63.8,403.9h1.2v1.2h-1.2zM59.4,423.8h1.2v1.2h-1.2zM62.8,405.5h1.2v1.2h-1.2z" fill="#8c6ef0"/>
<path d="M49.7,417.8h1.2v1.2h-1.2zM50.7,424.3h1.2v1.2h-1.2zM48.6,434.3h1.2v1.2h-1.2zM32.0,424.7h1.2v1.2h-1.2z" fill="#aa96ed"/>
<path d="M54.7,417.1h1.2v1.2h-1.2zM38.9,416.9h1.2v1.2h-1.2zM50.0,409.0h1.2v1.2h-1.2zM59.4,414.5h1.2v1.2h-1.2zM51.0,402.2h1.2v1.2h-1.2zM43.7,407.5h1.2v1.2h-1.2zM28.9,406.0h1.2v1.2h-1.2zM50.0,408.1h1.2v1.2h-1.2zM45.1,418.6h1.2v1.2h-1.2zM53.0,421.6h1.2v1.2h-1.2zM34.5,417.1h1.2v1.2h-1.2zM29.2,408.6h1.2v1.2h-1.2zM30.5,410.5h1.2v1.2h-1.2zM60.9,425.4h1.2v1.2h-1.2zM61.1,416.5h1.2v1.2h-1.2zM39.8,399.0h1.2v1.2h-1.2zM41.8,400.6h1.2v1.2h-1.2zM40.9,407.5h1.2v1.2h-1.2zM58.3,404.1h1.2v1.2h-1.2zM61.1,416.8h1.2v1.2h-1.2zM51.1,414.6h1.2v1.2h-1.2zM53.9,401.0h1.2v1.2h-1.2zM44.7,405.9h1.2v1.2h-1.2zM63.0,416.6h1.2v1.2h-1.2zM59.2,429.3h1.2v1.2h-1.2zM52.9,411.7h1.2v1.2h-1.2zM41.9,423.4h1.2v1.2h-1.2zM55.3,418.9h1.2v1.2h-1.2zM39.7,418.2h1.2v1.2h-1.2zM45.5,405.3h1.2v1.2h-1.2zM34.3,412.5h1.2v1.2h-1.2zM49.1,406.4h1.2v1.2h-1.2zM55.7,422.2h1.2v1.2h-1.2zM37.6,397.6h1.2v1.2h-1.2zM44.7,405.6h1.2v1.2h-1.2z" fill="#9682ef"/>
<path d="M45.7,432.1h1.2v1.2h-1.2zM43.5,417.9h1.2v1.2h-1.2zM56.8,429.4h1.2v1.2h-1.2zM41.5,410.9h1.2v1.2h-1.2zM32.9,401.9h1.2v1.2h-1.2zM57.8,423.4h1.2v1.2h-1.2zM40.3,411.3h1.2v1.2h-1.2zM63.7,444.3h1.2v1.2h-1.2zM31.7,415.9h1.2v1.2h-1.2zM43.6,423.8h1.2v1.2h-1.2zM34.7,432.2h1.2v1.2h-1.2zM32.2,424.3h1.2v1.2h-1.2zM38.0,404.8h1.2v1.2h-1.2zM35.8,405.3h1.2v1.2h-1.2zM34.7,403.8h1.2v1.2h-1.2zM40.9,430.7h1.2v1.2h-1.2zM39.8,405.1h1.2v1.2h-1.2zM38.6,408.6h1.2v1.2h-1.2zM51.2,421.8h1.2v1.2h-1.2zM49.3,426.9h1.2v1.2h-1.2zM36.4,407.8h1.2v1.2h-1.2zM45.7,439.1h1.2v1.2h-1.2zM52.1,420.2h1.2v1.2h-1.2zM32.1,427.3h1.2v1.2h-1.2zM32.6,423.7h1.2v1.2h-1.2zM49.3,420.6h1.2v1.2h-1.2zM34.7,401.4h1.2v1.2h-1.2zM36.4,405.6h1.2v1.2h-1.2zM39.9,436.6h1.2v1.2h-1.2zM34.8,409.5h1.2v1.2h-1.2zM53.9,418.7h1.2v1.2h-1.2zM34.2,425.1h1.2v1.2h-1.2zM51.7,426.5h1.2v1.2h-1.2zM63.2,440.2h1.2v1.2h-1.2zM44.1,424.3h1.2v1.2h-1.2zM44.0,413.7h1.2v1.2h-1.2zM46.3,413.7h1.2v1.2h-1.2zM57.5,422.6h1.2v1.2h-1.2zM42.8,406.4h1.2v1.2h-1.2zM39.6,425.0h1.2v1.2h-1.2zM31.1,415.4h1.2v1.2h-1.2zM37.8,409.9h1.2v1.2h-1.2zM49.2,426.9h1.2v1.2h-1.2zM27.4,413.7h1.2v1.2h-1.2zM54.6,426.2h1.2v1.2h-1.2zM41.9,434.0h1.2v1.2h-1.2zM58.5,431.9h1.2v1.2h-1.2z" fill="#aa96ec"/>
<path d="M51.3,420.8h1.2v1.2h-1.2zM62.0,445.0h1.2v1.2h-1.2zM37.1,416.2h1.2v1.2h-1.2zM40.4,417.0h1.2v1.2h-1.2zM61.4,437.9h1.2v1.2h-1.2zM40.7,425.7h1.2v1.2h-1.2z" fill="#aaa0eb"/>
<path d="M46.2,413.2h1.2v1.2h-1.2zM62.8,418.4h1.2v1.2h-1.2zM39.8,400.9h1.2v1.2h-1.2zM62.2,399.9h1.2v1.2h-1.2zM55.4,406.8h1.2v1.2h-1.2zM40.6,406.7h1.2v1.2h-1.2zM55.6,419.5h1.2v1.2h-1.2z" fill="#8264f0"/>
<path d="M50.3,393.1h1.2v1.2h-1.2zM64.4,393.8h1.2v1.2h-1.2zM63.9,392.7h1.2v1.2h-1.2zM56.3,408.8h1.2v1.2h-1.2zM46.9,405.1h1.2v1.2h-1.2zM61.5,402.1h1.2v1.2h-1.2zM65.3,391.7h1.2v1.2h-1.2zM53.4,390.8h1.2v1.2h-1.2zM44.9,404.0h1.2v1.2h-1.2zM65.6,410.3h1.2v1.2h-1.2zM46.7,403.8h1.2v1.2h-1.2zM64.4,399.6h1.2v1.2h-1.2zM55.0,412.0h1.2v1.2h-1.2zM38.1,397.9h1.2v1.2h-1.2zM56.9,391.1h1.2v1.2h-1.2z" fill="#785af1"/>
<path d="M54.1,420.5h1.2v1.2h-1.2zM61.4,429.1h1.2v1.2h-1.2zM47.7,415.0h1.2v1.2h-1.2zM44.5,411.4h1.2v1.2h-1.2zM61.4,428.3h1.2v1.2h-1.2zM57.1,417.8h1.2v1.2h-1.2zM41.7,400.2h1.2v1.2h-1.2zM54.9,413.3h1.2v1.2h-1.2zM57.7,400.8h1.2v1.2h-1.2zM66.1,414.5h1.2v1.2h-1.2zM42.7,403.2h1.2v1.2h-1.2zM46.3,405.4h1.2v1.2h-1.2zM55.3,425.5h1.2v1.2h-1.2zM56.5,406.3h1.2v1.2h-1.2zM47.1,405.2h1.2v1.2h-1.2zM37.8,402.5h1.2v1.2h-1.2z" fill="#8c78f0"/>
<path d="M62.5,438.4h1.2v1.2h-1.2zM36.6,426.9h1.2v1.2h-1.2zM36.0,434.1h1.2v1.2h-1.2zM44.4,430.9h1.2v1.2h-1.2zM35.1,425.7h1.2v1.2h-1.2zM43.9,427.4h1.2v1.2h-1.2zM29.6,412.7h1.2v1.2h-1.2zM45.9,439.2h1.2v1.2h-1.2zM40.6,432.6h1.2v1.2h-1.2zM46.2,429.6h1.2v1.2h-1.2zM40.0,433.8h1.2v1.2h-1.2z" fill="#b4aaea"/>
<path d="M56.4,416.7h1.2v1.2h-1.2zM58.7,421.5h1.2v1.2h-1.2zM44.2,394.7h1.2v1.2h-1.2zM45.7,392.5h1.2v1.2h-1.2zM50.2,401.8h1.2v1.2h-1.2zM50.4,398.2h1.2v1.2h-1.2z" fill="#8c82ef"/>
<path d="M136.7,405.2h1.2v1.2h-1.2zM136.0,411.9h1.2v1.2h-1.2zM149.6,427.2h1.2v1.2h-1.2zM157.0,428.6h1.2v1.2h-1.2zM146.6,433.7h1.2v1.2h-1.2zM161.3,426.5h1.2v1.2h-1.2zM145.4,424.1h1.2v1.2h-1.2zM148.6,421.4h1.2v1.2h-1.2zM127.1,418.1h1.2v1.2h-1.2zM132.5,428.6h1.2v1.2h-1.2zM151.2,424.4h1.2v1.2h-1.2zM134.2,405.8h1.2v1.2h-1.2zM138.5,417.3h1.2v1.2h-1.2zM151.4,429.9h1.2v1.2h-1.2zM131.1,405.3h1.2v1.2h-1.2zM141.2,401.7h1.2v1.2h-1.2zM137.5,399.5h1.2v1.2h-1.2zM159.8,416.9h1.2v1.2h-1.2zM142.4,424.7h1.2v1.2h-1.2zM152.4,418.2h1.2v1.2h-1.2zM144.5,406.4h1.2v1.2h-1.2zM147.6,421.0h1.2v1.2h-1.2zM145.8,421.4h1.2v1.2h-1.2zM142.8,435.7h1.2v1.2h-1.2zM140.3,426.4h1.2v1.2h-1.2zM130.1,408.0h1.2v1.2h-1.2zM150.2,431.4h1.2v1.2h-1.2zM135.9,423.8h1.2v1.2h-1.2zM132.1,411.1h1.2v1.2h-1.2zM144.1,406.8h1.2v1.2h-1.2zM148.7,418.4h1.2v1.2h-1.2zM134.9,427.1h1.2v1.2h-1.2zM150.2,414.4h1.2v1.2h-1.2zM140.0,411.1h1.2v1.2h-1.2zM134.7,430.7h1.2v1.2h-1.2zM135.4,407.4h1.2v1.2h-1.2zM129.4,424.6h1.2v1.2h-1.2zM141.6,428.8h1.2v1.2h-1.2zM142.9,430.3h1.2v1.2h-1.2zM158.3,416.2h1.2v1.2h-1.2zM144.3,405.3h1.2v1.2h-1.2zM126.7,415.7h1.2v1.2h-1.2zM160.8,422.0h1.2v1.2h-1.2zM131.3,423.4h1.2v1.2h-1.2zM129.1,411.6h1.2v1.2h-1.2zM131.2,417.6h1.2v1.2h-1.2zM161.0,427.1h1.2v1.2h-1.2zM140.9,409.0h1.2v1.2h-1.2zM128.7,423.7h1.2v1.2h-1.2zM150.7,414.3h1.2v1.2h-1.2zM142.3,408.4h1.2v1.2h-1.2zM147.1,422.5h1.2v1.2h-1.2zM160.7,422.0h1.2v1.2h-1.2zM147.9,420.1h1.2v1.2h-1.2zM140.1,426.9h1.2v1.2h-1.2zM166.8,420.0h1.2v1.2h-1.2zM159.4,420.8h1.2v1.2h-1.2zM149.6,409.0h1.2v1.2h-1.2zM138.1,406.8h1.2v1.2h-1.2zM145.5,405.5h1.2v1.2h-1.2zM140.4,417.9h1.2v1.2h-1.2zM146.2,409.2h1.2v1.2h-1.2zM135.7,395.9h1.2v1.2h-1.2zM133.8,417.4h1.2v1.2h-1.2zM148.9,426.5h1.2v1.2h-1.2zM156.6,424.6h1.2v1.2h-1.2zM149.1,420.6h1.2v1.2h-1.2zM132.3,421.3h1.2v1.2h-1.2zM154.5,416.4h1.2v1.2h-1.2zM146.6,419.1h1.2v1.2h-1.2zM133.9,429.1h1.2v1.2h-1.2zM137.6,409.1h1.2v1.2h-1.2zM139.2,407.0h1.2v1.2h-1.2zM134.6,408.5h1.2v1.2h-1.2zM148.4,437.3h1.2v1.2h-1.2zM135.6,405.7h1.2v1.2h-1.2zM157.9,422.7h1.2v1.2h-1.2zM148.7,410.0h1.2v1.2h-1.2zM140.6,415.7h1.2v1.2h-1.2zM137.9,408.8h1.2v1.2h-1.2zM139.0,432.8h1.2v1.2h-1.2zM159.3,427.3h1.2v1.2h-1.2zM140.0,426.7h1.2v1.2h-1.2zM147.9,436.1h1.2v1.2h-1.2zM139.2,433.0h1.2v1.2h-1.2zM142.0,425.3h1.2v1.2h-1.2zM149.7,424.2h1.2v1.2h-1.2zM153.4,411.5h1.2v1.2h-1.2zM142.2,422.9h1.2v1.2h-1.2zM149.1,412.9h1.2v1.2h-1.2zM161.8,429.0h1.2v1.2h-1.2zM150.9,434.3h1.2v1.2h-1.2zM135.4,417.1h1.2v1.2h-1.2zM151.2,415.2h1.2v1.2h-1.2zM130.6,424.6h1.2v1.2h-1.2zM143.5,438.3h1.2v1.2h-1.2zM138.3,400.7h1.2v1.2h-1.2zM138.2,434.3h1.2v1.2h-1.2zM135.8,428.0h1.2v1.2h-1.2zM141.5,428.7h1.2v1.2h-1.2zM150.3,409.7h1.2v1.2h-1.2zM133.5,419.5h1.2v1.2h-1.2zM143.2,406.3h1.2v1.2h-1.2zM138.9,421.1h1.2v1.2h-1.2zM145.9,434.7h1.2v1.2h-1.2zM145.1,408.3h1.2v1.2h-1.2zM141.6,433.4h1.2v1.2h-1.2z" fill="#a096ed"/>
<path d="M154.7,423.3h1.2v1.2h-1.2zM141.7,408.5h1.2v1.2h-1.2zM156.4,424.1h1.2v1.2h-1.2zM134.6,400.8h1.2v1.2h-1.2zM138.8,423.1h1.2v1.2h-1.2zM134.5,429.9h1.2v1.2h-1.2zM141.7,429.5h1.2v1.2h-1.2zM159.6,420.0h1.2v1.2h-1.2zM140.6,424.1h1.2v1.2h-1.2zM158.5,417.3h1.2v1.2h-1.2zM130.3,415.4h1.2v1.2h-1.2zM153.1,423.8h1.2v1.2h-1.2zM139.8,437.1h1.2v1.2h-1.2zM140.3,428.2h1.2v1.2h-1.2zM138.7,433.5h1.2v1.2h-1.2zM139.5,419.1h1.2v1.2h-1.2zM139.6,403.1h1.2v1.2h-1.2zM140.7,440.1h1.2v1.2h-1.2zM132.0,407.5h1.2v1.2h-1.2zM162.1,427.5h1.2v1.2h-1.2zM131.7,425.3h1.2v1.2h-1.2zM141.8,432.4h1.2v1.2h-1.2zM144.6,420.4h1.2v1.2h-1.2zM140.0,404.4h1.2v1.2h-1.2zM154.2,423.9h1.2v1.2h-1.2zM136.1,419.6h1.2v1.2h-1.2zM143.2,430.7h1.2v1.2h-1.2zM141.1,405.9h1.2v1.2h-1.2zM143.7,439.8h1.2v1.2h-1.2zM139.1,423.8h1.2v1.2h-1.2zM141.5,419.2h1.2v1.2h-1.2zM127.3,425.4h1.2v1.2h-1.2zM135.6,433.4h1.2v1.2h-1.2zM141.5,427.6h1.2v1.2h-1.2zM142.5,410.0h1.2v1.2h-1.2zM133.0,429.6h1.2v1.2h-1.2zM154.6,422.8h1.2v1.2h-1.2zM139.1,432.6h1.2v1.2h-1.2zM135.5,410.8h1.2v1.2h-1.2zM145.6,423.3h1.2v1.2h-1.2zM129.2,422.5h1.2v1.2h-1.2zM142.4,434.5h1.2v1.2h-1.2zM138.5,412.6h1.2v1.2h-1.2zM147.2,419.8h1.2v1.2h-1.2zM135.8,409.2h1.2v1.2h-1.2zM147.9,417.4h1.2v1.2h-1.2zM164.0,421.4h1.2v1.2h-1.2zM139.4,409.6h1.2v1.2h-1.2zM135.7,400.8h1.2v1.2h-1.2zM143.6,425.9h1.2v1.2h-1.2zM133.2,417.0h1.2v1.2h-1.2zM131.0,421.4h1.2v1.2h-1.2zM145.3,422.8h1.2v1.2h-1.2zM136.1,411.0h1.2v1.2h-1.2zM143.1,404.5h1.2v1.2h-1.2zM136.7,424.8h1.2v1.2h-1.2zM129.0,412.4h1.2v1.2h-1.2zM138.7,420.9h1.2v1.2h-1.2zM131.7,412.4h1.2v1.2h-1.2zM132.5,420.0h1.2v1.2h-1.2zM138.1,417.2h1.2v1.2h-1.2zM134.5,417.8h1.2v1.2h-1.2zM139.1,423.9h1.2v1.2h-1.2zM145.5,413.9h1.2v1.2h-1.2zM147.6,411.4h1.2v1.2h-1.2zM143.2,435.5h1.2v1.2h-1.2zM144.0,413.7h1.2v1.2h-1.2zM136.4,416.7h1.2v1.2h-1.2zM143.1,439.5h1.2v1.2h-1.2zM133.9,416.0h1.2v1.2h-1.2zM153.1,430.8h1.2v1.2h-1.2zM138.0,431.3h1.2v1.2h-1.2zM142.8,433.4h1.2v1.2h-1.2zM137.7,431.1h1.2v1.2h-1.2zM154.5,422.1h1.2v1.2h-1.2zM135.7,430.7h1.2v1.2h-1.2zM133.3,422.3h1.2v1.2h-1.2zM145.4,435.6h1.2v1.2h-1.2zM148.6,434.7h1.2v1.2h-1.2zM135.0,422.1h1.2v1.2h-1.2zM156.9,418.9h1.2v1.2h-1.2zM148.8,414.3h1.2v1.2h-1.2zM155.8,414.6h1.2v1.2h-1.2zM143.3,419.3h1.2v1.2h-1.2zM130.4,414.7h1.2v1.2h-1.2zM149.1,410.9h1.2v1.2h-1.2z" fill="#aa96ec"/>
<path d="M163.0,387.4h1.2v1.2h-1.2zM158.1,392.4h1.2v1.2h-1.2zM158.7,409.7h1.2v1.2h-1.2zM154.8,402.3h1.2v1.2h-1.2zM171.4,385.6h1.2v1.2h-1.2zM162.5,400.7h1.2v1.2h-1.2zM142.4,391.7h1.2v1.2h-1.2zM160.7,392.7h1.2v1.2h-1.2zM162.9,396.4h1.2v1.2h-1.2zM154.7,393.1h1.2v1.2h-1.2zM166.9,407.1h1.2v1.2h-1.2zM170.4,396.8h1.2v1.2h-1.2zM157.7,406.7h1.2v1.2h-1.2zM156.9,409.4h1.2v1.2h-1.2zM156.8,404.4h1.2v1.2h-1.2zM172.7,385.0h1.2v1.2h-1.2zM163.6,398.5h1.2v1.2h-1.2zM167.8,418.2h1.2v1.2h-1.2zM153.2,396.1h1.2v1.2h-1.2zM157.3,410.7h1.2v1.2h-1.2zM167.1,389.9h1.2v1.2h-1.2zM161.5,391.8h1.2v1.2h-1.2zM162.7,406.3h1.2v1.2h-1.2zM166.1,391.7h1.2v1.2h-1.2zM171.0,392.5h1.2v1.2h-1.2zM168.6,396.6h1.2v1.2h-1.2zM162.2,408.0h1.2v1.2h-1.2zM151.3,391.3h1.2v1.2h-1.2zM156.8,391.6h1.2v1.2h-1.2zM163.1,394.2h1.2v1.2h-1.2zM165.6,399.3h1.2v1.2h-1.2zM167.9,409.4h1.2v1.2h-1.2zM162.0,393.5h1.2v1.2h-1.2zM166.7,387.6h1.2v1.2h-1.2zM171.6,404.4h1.2v1.2h-1.2zM145.3,398.5h1.2v1.2h-1.2zM153.3,389.9h1.2v1.2h-1.2zM166.0,406.3h1.2v1.2h-1.2zM147.7,392.9h1.2v1.2h-1.2zM159.7,388.6h1.2v1.2h-1.2zM169.7,387.2h1.2v1.2h-1.2zM166.1,391.8h1.2v1.2h-1.2zM170.8,389.2h1.2v1.2h-1.2zM166.8,400.8h1.2v1.2h-1.2zM160.9,401.1h1.2v1.2h-1.2zM163.8,408.3h1.2v1.2h-1.2zM165.7,391.3h1.2v1.2h-1.2zM162.2,401.5h1.2v1.2h-1.2zM160.3,388.6h1.2v1.2h-1.2zM157.3,400.8h1.2v1.2h-1.2zM153.2,400.1h1.2v1.2h-1.2zM157.5,392.3h1.2v1.2h-1.2zM164.2,407.5h1.2v1.2h-1.2zM169.5,387.7h1.2v1.2h-1.2zM160.5,398.6h1.2v1.2h-1.2zM159.7,404.3h1.2v1.2h-1.2zM167.5,390.4h1.2v1.2h-1.2zM173.7,392.5h1.2v1.2h-1.2zM152.5,400.7h1.2v1.2h-1.2zM161.7,392.9h1.2v1.2h-1.2zM167.5,396.1h1.2v1.2h-1.2zM164.2,406.8h1.2v1.2h-1.2zM173.1,408.7h1.2v1.2h-1.2zM158.3,395.1h1.2v1.2h-1.2zM166.0,390.5h1.2v1.2h-1.2zM150.5,397.5h1.2v1.2h-1.2zM158.2,392.6h1.2v1.2h-1.2zM168.9,407.4h1.2v1.2h-1.2zM155.5,399.0h1.2v1.2h-1.2zM161.8,407.2h1.2v1.2h-1.2zM174.1,391.2h1.2v1.2h-1.2zM158.8,406.9h1.2v1.2h-1.2zM159.9,388.5h1.2v1.2h-1.2zM171.6,402.4h1.2v1.2h-1.2zM162.1,391.1h1.2v1.2h-1.2zM170.9,397.2h1.2v1.2h-1.2zM153.2,393.3h1.2v1.2h-1.2zM168.6,387.5h1.2v1.2h-1.2zM168.9,404.5h1.2v1.2h-1.2zM166.2,391.1h1.2v1.2h-1.2zM166.7,404.0h1.2v1.2h-1.2zM169.3,387.2h1.2v1.2h-1.2zM154.7,399.1h1.2v1.2h-1.2zM166.1,390.7h1.2v1.2h-1.2zM169.1,388.6h1.2v1.2h-1.2zM169.4,394.3h1.2v1.2h-1.2zM171.1,395.5h1.2v1.2h-1.2zM174.4,387.9h1.2v1.2h-1.2zM173.5,393.5h1.2v1.2h-1.2zM152.3,396.5h1.2v1.2h-1.2zM167.8,384.9h1.2v1.2h-1.2zM170.5,399.7h1.2v1.2h-1.2zM155.1,390.9h1.2v1.2h-1.2zM170.3,401.4h1.2v1.2h-1.2zM163.1,392.4h1.2v1.2h-1.2zM152.5,395.5h1.2v1.2h-1.2zM165.7,390.5h1.2v1.2h-1.2zM155.7,401.4h1.2v1.2h-1.2zM160.7,395.7h1.2v1.2h-1.2zM157.8,404.6h1.2v1.2h-1.2zM167.9,399.6h1.2v1.2h-1.2zM163.0,383.3h1.2v1.2h-1.2zM168.8,396.2h1.2v1.2h-1.2zM169.5,396.1h1.2v1.2h-1.2zM167.9,385.5h1.2v1.2h-1.2zM172.6,401.3h1.2v1.2h-1.2zM170.1,385.4h1.2v1.2h-1.2zM170.2,392.8h1.2v1.2h-1.2zM151.3,391.1h1.2v1.2h-1.2zM166.8,381.4h1.2v1.2h-1.2zM153.0,401.2h1.2v1.2h-1.2zM152.1,401.9h1.2v1.2h-1.2zM167.3,409.1h1.2v1.2h-1.2zM171.1,398.6h1.2v1.2h-1.2zM166.3,386.9h1.2v1.2h-1.2zM163.6,391.4h1.2v1.2h-1.2zM162.5,402.2h1.2v1.2h-1.2zM158.7,394.5h1.2v1.2h-1.2zM155.6,392.9h1.2v1.2h-1.2zM150.3,403.5h1.2v1.2h-1.2zM169.6,403.3h1.2v1.2h-1.2zM168.7,414.1h1.2v1.2h-1.2zM156.9,390.4h1.2v1.2h-1.2zM160.1,400.8h1.2v1.2h-1.2zM157.2,409.5h1.2v1.2h-1.2zM154.2,395.6h1.2v1.2h-1.2zM149.2,389.5h1.2v1.2h-1.2zM170.3,406.2h1.2v1.2h-1.2zM163.4,390.3h1.2v1.2h-1.2zM142.5,398.1h1.2v1.2h-1.2zM165.2,413.4h1.2v1.2h-1.2zM165.7,386.1h1.2v1.2h-1.2zM168.5,402.7h1.2v1.2h-1.2zM161.4,396.6h1.2v1.2h-1.2zM170.1,401.4h1.2v1.2h-1.2zM169.2,403.9h1.2v1.2h-1.2zM171.2,398.9h1.2v1.2h-1.2zM155.5,399.8h1.2v1.2h-1.2zM161.4,388.0h1.2v1.2h-1.2zM171.8,382.6h1.2v1.2h-1.2zM169.9,386.1h1.2v1.2h-1.2zM158.1,399.5h1.2v1.2h-1.2zM167.0,390.5h1.2v1.2h-1.2zM164.4,388.9h1.2v1.2h-1.2zM161.1,397.2h1.2v1.2h-1.2zM154.1,400.5h1.2v1.2h-1.2zM156.3,396.5h1.2v1.2h-1.2zM166.8,387.8h1.2v1.2h-1.2zM170.0,405.5h1.2v1.2h-1.2zM168.9,393.4h1.2v1.2h-1.2zM159.1,385.8h1.2v1.2h-1.2zM162.4,385.2h1.2v1.2h-1.2zM164.8,411.9h1.2v1.2h-1.2zM148.2,393.4h1.2v1.2h-1.2zM141.2,396.2h1.2v1.2h-1.2zM170.5,393.3h1.2v1.2h-1.2zM159.5,395.5h1.2v1.2h-1.2zM159.2,397.8h1.2v1.2h-1.2zM170.8,389.8h1.2v1.2h-1.2zM170.5,401.3h1.2v1.2h-1.2zM169.2,384.3h1.2v1.2h-1.2zM167.5,390.8h1.2v1.2h-1.2zM154.0,394.3h1.2v1.2h-1.2zM149.4,393.0h1.2v1.2h-1.2zM155.4,390.4h1.2v1.2h-1.2zM166.8,382.5h1.2v1.2h-1.2zM151.6,403.5h1.2v1.2h-1.2zM162.3,393.4h1.2v1.2h-1.2zM170.5,395.2h1.2v1.2h-1.2zM165.5,409.5h1.2v1.2h-1.2zM153.9,397.6h1.2v1.2h-1.2zM162.8,397.3h1.2v1.2h-1.2zM158.9,388.5h1.2v1.2h-1.2zM165.7,392.3h1.2v1.2h-1.2zM174.6,393.9h1.2v1.2h-1.2zM167.4,410.4h1.2v1.2h-1.2zM166.4,393.7h1.2v1.2h-1.2zM163.4,388.1h1.2v1.2h-1.2zM159.6,400.1h1.2v1.2h-1.2zM161.0,387.1h1.2v1.2h-1.2zM156.1,396.6h1.2v1.2h-1.2zM141.9,396.5h1.2v1.2h-1.2zM157.3,393.1h1.2v1.2h-1.2zM166.8,398.4h1.2v1.2h-1.2zM168.7,397.5h1.2v1.2h-1.2zM150.4,403.6h1.2v1.2h-1.2zM169.1,389.4h1.2v1.2h-1.2zM168.8,404.3h1.2v1.2h-1.2zM160.4,393.9h1.2v1.2h-1.2zM168.7,413.9h1.2v1.2h-1.2zM167.3,389.5h1.2v1.2h-1.2zM170.6,398.9h1.2v1.2h-1.2zM164.0,392.8h1.2v1.2h-1.2zM168.1,401.7h1.2v1.2h-1.2zM162.9,396.7h1.2v1.2h-1.2zM162.2,391.9h1.2v1.2h-1.2zM143.5,393.2h1.2v1.2h-1.2zM156.2,397.5h1.2v1.2h-1.2zM154.6,397.0h1.2v1.2h-1.2zM170.3,396.3h1.2v1.2h-1.2zM169.7,401.8h1.2v1.2h-1.2zM165.7,385.6h1.2v1.2h-1.2zM169.1,397.5h1.2v1.2h-1.2zM145.7,394.0h1.2v1.2h-1.2zM165.0,387.5h1.2v1.2h-1.2zM168.5,386.8h1.2v1.2h-1.2zM155.8,389.1h1.2v1.2h-1.2zM152.6,396.3h1.2v1.2h-1.2zM144.6,389.9h1.2v1.2h-1.2zM161.0,387.2h1.2v1.2h-1.2zM163.4,386.1h1.2v1.2h-1.2zM171.9,390.3h1.2v1.2h-1.2zM157.8,394.3h1.2v1.2h-1.2zM166.6,395.3h1.2v1.2h-1.2zM158.9,395.4h1.2v1.2h-1.2zM161.7,388.6h1.2v1.2h-1.2zM164.7,398.8h1.2v1.2h-1.2zM164.2,407.0h1.2v1.2h-1.2zM170.1,409.2h1.2v1.2h-1.2zM167.9,396.9h1.2v1.2h-1.2zM172.7,407.8h1.2v1.2h-1.2zM173.1,388.2h1.2v1.2h-1.2zM171.1,387.1h1.2v1.2h-1.2zM152.5,403.0h1.2v1.2h-1.2zM152.1,402.1h1.2v1.2h-1.2zM164.4,394.2h1.2v1.2h-1.2zM171.2,400.5h1.2v1.2h-1.2zM160.2,397.1h1.2v1.2h-1.2zM160.4,400.4h1.2v1.2h-1.2zM163.7,386.1h1.2v1.2h-1.2zM170.0,391.3h1.2v1.2h-1.2zM158.5,391.6h1.2v1.2h-1.2zM161.4,402.9h1.2v1.2h-1.2zM159.6,388.3h1.2v1.2h-1.2zM170.9,385.5h1.2v1.2h-1.2zM167.3,409.9h1.2v1.2h-1.2zM159.9,395.9h1.2v1.2h-1.2zM166.7,391.3h1.2v1.2h-1.2zM158.0,396.9h1.2v1.2h-1.2zM161.7,385.7h1.2v1.2h-1.2zM147.1,396.5h1.2v1.2h-1.2zM171.1,403.0h1.2v1.2h-1.2zM171.6,384.9h1.2v1.2h-1.2zM149.4,391.1h1.2v1.2h-1.2zM169.4,382.9h1.2v1.2h-1.2zM164.3,391.3h1.2v1.2h-1.2zM163.1,395.7h1.2v1.2h-1.2zM162.6,396.9h1.2v1.2h-1.2zM165.2,391.6h1.2v1.2h-1.2zM168.5,386.0h1.2v1.2h-1.2zM144.3,394.9h1.2v1.2h-1.2zM156.7,386.9h1.2v1.2h-1.2zM153.7,394.5h1.2v1.2h-1.2zM149.2,389.8h1.2v1.2h-1.2zM171.9,402.5h1.2v1.2h-1.2zM153.2,405.1h1.2v1.2h-1.2zM170.7,402.8h1.2v1.2h-1.2zM150.5,390.3h1.2v1.2h-1.2zM162.3,401.9h1.2v1.2h-1.2zM156.4,387.5h1.2v1.2h-1.2zM169.5,403.8h1.2v1.2h-1.2zM156.9,396.8h1.2v1.2h-1.2zM147.6,394.9h1.2v1.2h-1.2zM171.9,386.1h1.2v1.2h-1.2zM151.6,400.0h1.2v1.2h-1.2zM146.9,394.6h1.2v1.2h-1.2zM166.4,397.1h1.2v1.2h-1.2zM167.6,384.3h1.2v1.2h-1.2zM139.9,395.3h1.2v1.2h-1.2zM175.0,389.9h1.2v1.2h-1.2zM158.4,405.5h1.2v1.2h-1.2zM155.0,388.7h1.2v1.2h-1.2zM155.0,405.2h1.2v1.2h-1.2zM167.2,382.3h1.2v1.2h-1.2zM167.8,387.3h1.2v1.2h-1.2zM159.4,394.9h1.2v1.2h-1.2zM166.3,410.3h1.2v1.2h-1.2zM162.2,391.6h1.2v1.2h-1.2zM164.8,407.6h1.2v1.2h-1.2zM170.5,392.0h1.2v1.2h-1.2zM162.2,406.7h1.2v1.2h-1.2zM154.6,403.9h1.2v1.2h-1.2zM159.2,400.8h1.2v1.2h-1.2zM161.9,388.3h1.2v1.2h-1.2zM157.5,398.5h1.2v1.2h-1.2zM143.9,393.6h1.2v1.2h-1.2zM163.0,405.0h1.2v1.2h-1.2zM165.8,396.1h1.2v1.2h-1.2zM163.6,412.4h1.2v1.2h-1.2zM171.1,394.4h1.2v1.2h-1.2zM147.1,392.9h1.2v1.2h-1.2zM164.8,383.7h1.2v1.2h-1.2zM142.7,397.2h1.2v1.2h-1.2zM163.5,384.0h1.2v1.2h-1.2zM171.4,389.5h1.2v1.2h-1.2zM163.0,408.6h1.2v1.2h-1.2zM168.3,405.6h1.2v1.2h-1.2zM156.9,393.3h1.2v1.2h-1.2zM161.4,400.8h1.2v1.2h-1.2zM165.9,400.8h1.2v1.2h-1.2zM170.6,391.6h1.2v1.2h-1.2zM163.8,390.6h1.2v1.2h-1.2zM167.1,402.2h1.2v1.2h-1.2zM169.8,389.7h1.2v1.2h-1.2zM161.5,394.1h1.2v1.2h-1.2zM163.6,396.7h1.2v1.2h-1.2zM169.8,389.6h1.2v1.2h-1.2zM158.8,403.8h1.2v1.2h-1.2zM150.2,389.1h1.2v1.2h-1.2zM147.5,393.7h1.2v1.2h-1.2zM168.5,392.7h1.2v1.2h-1.2zM171.0,392.4h1.2v1.2h-1.2zM153.2,401.3h1.2v1.2h-1.2zM163.3,406.7h1.2v1.2h-1.2zM158.3,407.9h1.2v1.2h-1.2zM171.2,396.0h1.2v1.2h-1.2zM167.5,413.8h1.2v1.2h-1.2zM164.9,388.8h1.2v1.2h-1.2zM161.2,386.9h1.2v1.2h-1.2zM149.2,395.9h1.2v1.2h-1.2zM164.0,386.1h1.2v1.2h-1.2zM164.7,390.8h1.2v1.2h-1.2zM169.8,399.6h1.2v1.2h-1.2zM148.1,395.7h1.2v1.2h-1.2zM168.9,398.5h1.2v1.2h-1.2zM154.5,401.2h1.2v1.2h-1.2zM164.8,389.9h1.2v1.2h-1.2zM163.2,403.5h1.2v1.2h-1.2zM169.3,395.6h1.2v1.2h-1.2zM167.3,406.1h1.2v1.2h-1.2zM163.2,390.3h1.2v1.2h-1.2zM163.2,398.0h1.2v1.2h-1.2zM172.9,398.7h1.2v1.2h-1.2zM171.6,403.9h1.2v1.2h-1.2zM163.9,386.2h1.2v1.2h-1.2zM170.8,382.9h1.2v1.2h-1.2zM153.6,398.3h1.2v1.2h-1.2zM166.3,383.9h1.2v1.2h-1.2zM153.8,397.0h1.2v1.2h-1.2zM168.0,389.8h1.2v1.2h-1.2zM158.6,396.3h1.2v1.2h-1.2zM161.4,399.7h1.2v1.2h-1.2zM167.1,401.1h1.2v1.2h-1.2zM157.9,388.9h1.2v1.2h-1.2zM166.7,404.6h1.2v1.2h-1.2zM168.4,414.9h1.2v1.2h-1.2zM162.4,391.6h1.2v1.2h-1.2zM163.0,403.2h1.2v1.2h-1.2zM169.9,393.3h1.2v1.2h-1.2zM167.1,401.0h1.2v1.2h-1.2zM167.8,397.9h1.2v1.2h-1.2zM158.5,394.5h1.2v1.2h-1.2zM164.9,384.1h1.2v1.2h-1.2zM168.9,396.6h1.2v1.2h-1.2zM169.5,393.5h1.2v1.2h-1.2zM145.2,400.8h1.2v1.2h-1.2zM148.0,392.8h1.2v1.2h-1.2zM154.8,393.5h1.2v1.2h-1.2z" fill="#785af2"/>
<path d="M151.0,432.4h1.2v1.2h-1.2zM134.9,417.4h1.2v1.2h-1.2zM161.0,410.1h1.2v1.2h-1.2zM152.1,401.1h1.2v1.2h-1.2zM143.6,424.7h1.2v1.2h-1.2zM145.3,394.7h1.2v1.2h-1.2zM162.3,421.4h1.2v1.2h-1.2zM137.1,401.2h1.2v1.2h-1.2zM138.2,420.0h1.2v1.2h-1.2zM139.4,397.0h1.2v1.2h-1.2zM129.2,415.1h1.2v1.2h-1.2zM155.7,409.9h1.2v1.2h-1.2zM133.9,405.8h1.2v1.2h-1.2zM131.3,415.3h1.2v1.2h-1.2zM132.3,404.4h1.2v1.2h-1.2zM136.5,402.3h1.2v1.2h-1.2zM148.3,423.2h1.2v1.2h-1.2zM164.2,412.6h1.2v1.2h-1.2zM140.5,412.1h1.2v1.2h-1.2zM157.0,429.2h1.2v1.2h-1.2zM143.4,396.8h1.2v1.2h-1.2zM137.8,411.6h1.2v1.2h-1.2zM143.3,427.6h1.2v1.2h-1.2zM155.1,406.4h1.2v1.2h-1.2zM140.4,413.6h1.2v1.2h-1.2zM138.5,419.5h1.2v1.2h-1.2zM155.2,413.2h1.2v1.2h-1.2zM164.4,412.4h1.2v1.2h-1.2zM133.0,401.7h1.2v1.2h-1.2zM153.5,415.6h1.2v1.2h-1.2zM163.1,408.2h1.2v1.2h-1.2zM132.0,418.1h1.2v1.2h-1.2zM142.5,411.2h1.2v1.2h-1.2zM143.8,423.3h1.2v1.2h-1.2zM137.0,417.5h1.2v1.2h-1.2zM150.6,422.6h1.2v1.2h-1.2zM155.7,414.5h1.2v1.2h-1.2zM135.4,420.0h1.2v1.2h-1.2zM136.8,406.7h1.2v1.2h-1.2zM136.0,406.3h1.2v1.2h-1.2zM139.3,413.3h1.2v1.2h-1.2zM156.4,406.1h1.2v1.2h-1.2zM142.7,418.5h1.2v1.2h-1.2zM142.4,418.3h1.2v1.2h-1.2zM131.5,404.4h1.2v1.2h-1.2zM145.3,395.9h1.2v1.2h-1.2zM141.9,411.9h1.2v1.2h-1.2zM140.7,415.0h1.2v1.2h-1.2zM145.8,407.4h1.2v1.2h-1.2zM140.1,405.1h1.2v1.2h-1.2zM147.7,399.8h1.2v1.2h-1.2zM149.9,396.7h1.2v1.2h-1.2zM156.0,422.5h1.2v1.2h-1.2zM146.6,399.9h1.2v1.2h-1.2zM147.7,392.0h1.2v1.2h-1.2zM157.3,423.0h1.2v1.2h-1.2zM140.6,396.4h1.2v1.2h-1.2zM148.9,407.1h1.2v1.2h-1.2zM138.0,404.8h1.2v1.2h-1.2zM158.4,412.6h1.2v1.2h-1.2zM130.1,418.3h1.2v1.2h-1.2zM135.1,418.4h1.2v1.2h-1.2zM139.1,418.3h1.2v1.2h-1.2zM149.4,400.2h1.2v1.2h-1.2zM152.7,434.1h1.2v1.2h-1.2zM149.8,428.1h1.2v1.2h-1.2zM153.6,405.2h1.2v1.2h-1.2zM144.5,397.1h1.2v1.2h-1.2zM137.8,416.4h1.2v1.2h-1.2zM153.0,417.3h1.2v1.2h-1.2zM153.5,420.4h1.2v1.2h-1.2zM162.6,416.1h1.2v1.2h-1.2zM141.5,398.8h1.2v1.2h-1.2zM155.9,422.7h1.2v1.2h-1.2zM146.0,407.2h1.2v1.2h-1.2zM139.7,403.8h1.2v1.2h-1.2zM132.5,416.7h1.2v1.2h-1.2zM152.9,427.1h1.2v1.2h-1.2zM148.2,419.1h1.2v1.2h-1.2zM140.3,396.0h1.2v1.2h-1.2zM154.6,410.9h1.2v1.2h-1.2zM143.2,416.3h1.2v1.2h-1.2zM138.6,400.4h1.2v1.2h-1.2zM132.1,412.1h1.2v1.2h-1.2zM136.7,419.6h1.2v1.2h-1.2zM142.1,394.0h1.2v1.2h-1.2zM162.4,419.1h1.2v1.2h-1.2zM144.7,401.2h1.2v1.2h-1.2zM135.9,401.9h1.2v1.2h-1.2zM156.3,418.1h1.2v1.2h-1.2zM151.0,425.6h1.2v1.2h-1.2zM138.3,405.1h1.2v1.2h-1.2zM148.4,418.9h1.2v1.2h-1.2zM159.3,425.4h1.2v1.2h-1.2zM152.5,428.0h1.2v1.2h-1.2zM153.2,411.9h1.2v1.2h-1.2zM133.9,417.0h1.2v1.2h-1.2zM146.0,415.9h1.2v1.2h-1.2zM155.5,421.2h1.2v1.2h-1.2zM135.3,406.9h1.2v1.2h-1.2zM166.7,423.0h1.2v1.2h-1.2zM168.5,420.9h1.2v1.2h-1.2zM138.2,404.7h1.2v1.2h-1.2zM150.7,426.0h1.2v1.2h-1.2zM162.1,407.7h1.2v1.2h-1.2zM149.1,398.4h1.2v1.2h-1.2zM168.1,420.4h1.2v1.2h-1.2zM135.4,396.9h1.2v1.2h-1.2zM150.6,416.8h1.2v1.2h-1.2zM147.7,408.6h1.2v1.2h-1.2zM152.7,426.2h1.2v1.2h-1.2zM152.1,409.0h1.2v1.2h-1.2zM157.5,403.5h1.2v1.2h-1.2zM163.3,424.0h1.2v1.2h-1.2zM161.6,418.6h1.2v1.2h-1.2zM148.6,416.6h1.2v1.2h-1.2zM151.7,417.2h1.2v1.2h-1.2zM155.8,404.5h1.2v1.2h-1.2zM164.1,417.8h1.2v1.2h-1.2zM154.2,406.8h1.2v1.2h-1.2zM147.0,422.1h1.2v1.2h-1.2zM164.8,419.5h1.2v1.2h-1.2zM141.3,411.1h1.2v1.2h-1.2zM153.8,402.9h1.2v1.2h-1.2zM147.9,427.5h1.2v1.2h-1.2zM154.2,401.3h1.2v1.2h-1.2zM165.5,411.5h1.2v1.2h-1.2zM143.9,400.6h1.2v1.2h-1.2zM154.5,414.8h1.2v1.2h-1.2zM155.4,413.9h1.2v1.2h-1.2zM165.3,422.6h1.2v1.2h-1.2zM144.7,402.5h1.2v1.2h-1.2zM165.2,410.4h1.2v1.2h-1.2zM155.9,400.4h1.2v1.2h-1.2zM147.5,410.5h1.2v1.2h-1.2zM159.5,407.1h1.2v1.2h-1.2zM150.5,416.8h1.2v1.2h-1.2zM143.2,420.7h1.2v1.2h-1.2zM135.7,416.0h1.2v1.2h-1.2zM130.4,416.3h1.2v1.2h-1.2zM167.2,412.1h1.2v1.2h-1.2zM138.8,397.3h1.2v1.2h-1.2zM144.0,399.6h1.2v1.2h-1.2zM153.8,419.6h1.2v1.2h-1.2zM165.5,412.0h1.2v1.2h-1.2zM146.7,402.9h1.2v1.2h-1.2zM138.6,399.1h1.2v1.2h-1.2zM142.5,407.0h1.2v1.2h-1.2zM157.6,409.6h1.2v1.2h-1.2zM132.7,411.8h1.2v1.2h-1.2zM155.3,404.9h1.2v1.2h-1.2zM133.9,411.4h1.2v1.2h-1.2zM153.5,421.2h1.2v1.2h-1.2zM130.4,409.6h1.2v1.2h-1.2zM167.3,423.9h1.2v1.2h-1.2zM140.0,395.5h1.2v1.2h-1.2zM144.0,400.1h1.2v1.2h-1.2zM145.3,418.4h1.2v1.2h-1.2zM132.1,420.1h1.2v1.2h-1.2zM150.6,429.2h1.2v1.2h-1.2zM151.3,431.5h1.2v1.2h-1.2zM143.4,411.7h1.2v1.2h-1.2zM143.0,402.4h1.2v1.2h-1.2zM134.0,412.2h1.2v1.2h-1.2zM160.1,429.5h1.2v1.2h-1.2zM133.4,403.6h1.2v1.2h-1.2zM164.9,417.0h1.2v1.2h-1.2zM161.5,418.8h1.2v1.2h-1.2zM163.6,414.5h1.2v1.2h-1.2zM147.3,423.6h1.2v1.2h-1.2zM143.9,426.5h1.2v1.2h-1.2zM137.6,414.7h1.2v1.2h-1.2zM131.4,409.2h1.2v1.2h-1.2zM142.7,396.9h1.2v1.2h-1.2zM156.3,418.2h1.2v1.2h-1.2zM156.0,412.7h1.2v1.2h-1.2zM133.7,407.0h1.2v1.2h-1.2z" fill="#9682ee"/>
<path d="M148.2,437.7h1.2v1.2h-1.2zM131.9,422.8h1.2v1.2h-1.2zM138.1,420.6h1.2v1.2h-1.2zM132.0,419.6h1.2v1.2h-1.2zM135.1,413.1h1.2v1.2h-1.2zM157.3,423.6h1.2v1.2h-1.2zM145.6,433.1h1.2v1.2h-1.2zM139.1,422.5h1.2v1.2h-1.2zM143.0,417.8h1.2v1.2h-1.2zM143.1,429.5h1.2v1.2h-1.2zM143.8,423.8h1.2v1.2h-1.2zM136.6,413.2h1.2v1.2h-1.2zM136.7,412.4h1.2v1.2h-1.2zM156.0,420.6h1.2v1.2h-1.2zM144.3,427.8h1.2v1.2h-1.2zM139.1,436.0h1.2v1.2h-1.2zM146.3,438.5h1.2v1.2h-1.2zM153.6,426.0h1.2v1.2h-1.2zM144.7,432.1h1.2v1.2h-1.2zM152.9,427.2h1.2v1.2h-1.2zM137.5,421.1h1.2v1.2h-1.2zM144.1,428.8h1.2v1.2h-1.2zM137.8,414.9h1.2v1.2h-1.2zM161.3,427.5h1.2v1.2h-1.2zM160.1,424.2h1.2v1.2h-1.2zM146.3,412.0h1.2v1.2h-1.2zM148.4,427.1h1.2v1.2h-1.2zM144.5,428.4h1.2v1.2h-1.2zM132.8,407.7h1.2v1.2h-1.2zM128.2,418.1h1.2v1.2h-1.2zM147.7,417.7h1.2v1.2h-1.2zM141.5,415.7h1.2v1.2h-1.2zM152.7,429.1h1.2v1.2h-1.2zM135.6,409.5h1.2v1.2h-1.2zM156.6,429.7h1.2v1.2h-1.2zM152.5,422.5h1.2v1.2h-1.2zM144.8,422.6h1.2v1.2h-1.2zM135.7,432.0h1.2v1.2h-1.2zM131.2,417.6h1.2v1.2h-1.2zM156.0,429.8h1.2v1.2h-1.2zM132.6,421.0h1.2v1.2h-1.2zM130.8,423.5h1.2v1.2h-1.2zM151.1,426.0h1.2v1.2h-1.2zM153.0,430.6h1.2v1.2h-1.2zM134.4,433.1h1.2v1.2h-1.2zM155.9,425.6h1.2v1.2h-1.2zM139.5,418.1h1.2v1.2h-1.2zM135.7,416.9h1.2v1.2h-1.2zM132.6,409.1h1.2v1.2h-1.2zM144.7,414.2h1.2v1.2h-1.2zM140.9,432.8h1.2v1.2h-1.2zM146.0,417.2h1.2v1.2h-1.2zM140.0,435.0h1.2v1.2h-1.2zM152.3,429.4h1.2v1.2h-1.2zM144.9,433.9h1.2v1.2h-1.2zM143.0,417.5h1.2v1.2h-1.2zM143.7,431.2h1.2v1.2h-1.2zM153.1,427.2h1.2v1.2h-1.2zM144.7,417.6h1.2v1.2h-1.2zM149.3,421.1h1.2v1.2h-1.2zM161.2,422.1h1.2v1.2h-1.2zM143.9,424.3h1.2v1.2h-1.2zM144.1,429.0h1.2v1.2h-1.2zM141.7,413.2h1.2v1.2h-1.2zM135.9,427.5h1.2v1.2h-1.2zM136.0,420.2h1.2v1.2h-1.2zM132.1,421.2h1.2v1.2h-1.2zM137.5,437.0h1.2v1.2h-1.2zM144.4,415.3h1.2v1.2h-1.2zM134.2,409.3h1.2v1.2h-1.2zM142.5,436.8h1.2v1.2h-1.2zM144.7,416.5h1.2v1.2h-1.2zM140.6,426.9h1.2v1.2h-1.2zM136.7,407.5h1.2v1.2h-1.2zM135.3,423.9h1.2v1.2h-1.2zM139.3,409.3h1.2v1.2h-1.2zM135.7,412.0h1.2v1.2h-1.2zM151.5,430.0h1.2v1.2h-1.2zM133.3,410.3h1.2v1.2h-1.2zM137.6,427.5h1.2v1.2h-1.2zM131.5,424.0h1.2v1.2h-1.2zM130.2,415.6h1.2v1.2h-1.2zM143.5,417.3h1.2v1.2h-1.2zM139.4,431.7h1.2v1.2h-1.2zM132.4,413.6h1.2v1.2h-1.2zM150.8,419.5h1.2v1.2h-1.2zM150.4,414.6h1.2v1.2h-1.2zM148.6,423.3h1.2v1.2h-1.2zM133.7,425.5h1.2v1.2h-1.2zM137.0,412.9h1.2v1.2h-1.2zM148.8,421.7h1.2v1.2h-1.2zM138.7,428.3h1.2v1.2h-1.2zM152.8,428.1h1.2v1.2h-1.2zM152.5,419.1h1.2v1.2h-1.2zM151.4,418.9h1.2v1.2h-1.2zM128.6,422.5h1.2v1.2h-1.2zM136.5,433.2h1.2v1.2h-1.2zM156.7,428.3h1.2v1.2h-1.2zM143.3,434.9h1.2v1.2h-1.2zM136.1,421.1h1.2v1.2h-1.2zM143.7,426.2h1.2v1.2h-1.2zM141.2,422.7h1.2v1.2h-1.2zM152.7,424.7h1.2v1.2h-1.2z" fill="#aaa0ec"/>
<path d="M169.5,389.8h1.2v1.2h-1.2zM150.6,397.2h1.2v1.2h-1.2zM170.5,399.8h1.2v1.2h-1.2zM163.9,395.8h1.2v1.2h-1.2zM153.8,388.9h1.2v1.2h-1.2zM172.0,398.9h1.2v1.2h-1.2zM144.8,394.2h1.2v1.2h-1.2zM165.7,388.4h1.2v1.2h-1.2zM150.5,409.5h1.2v1.2h-1.2zM142.1,404.3h1.2v1.2h-1.2zM166.7,412.3h1.2v1.2h-1.2zM141.5,400.9h1.2v1.2h-1.2zM150.8,393.3h1.2v1.2h-1.2zM164.7,386.1h1.2v1.2h-1.2zM171.0,405.6h1.2v1.2h-1.2zM154.9,394.4h1.2v1.2h-1.2zM154.7,392.6h1.2v1.2h-1.2zM136.2,397.4h1.2v1.2h-1.2zM159.0,402.2h1.2v1.2h-1.2zM154.7,404.7h1.2v1.2h-1.2zM166.9,416.3h1.2v1.2h-1.2zM148.5,401.5h1.2v1.2h-1.2zM153.9,405.3h1.2v1.2h-1.2zM165.0,416.7h1.2v1.2h-1.2zM168.9,406.9h1.2v1.2h-1.2zM164.5,387.0h1.2v1.2h-1.2zM161.7,392.0h1.2v1.2h-1.2zM161.9,389.8h1.2v1.2h-1.2zM147.4,398.3h1.2v1.2h-1.2zM160.4,400.9h1.2v1.2h-1.2zM158.6,416.1h1.2v1.2h-1.2zM161.0,407.5h1.2v1.2h-1.2zM156.7,404.5h1.2v1.2h-1.2zM148.7,403.7h1.2v1.2h-1.2zM158.4,390.1h1.2v1.2h-1.2zM164.1,409.5h1.2v1.2h-1.2zM159.1,401.1h1.2v1.2h-1.2zM149.0,399.4h1.2v1.2h-1.2zM164.0,392.8h1.2v1.2h-1.2zM171.3,398.5h1.2v1.2h-1.2zM148.2,395.6h1.2v1.2h-1.2zM161.0,383.9h1.2v1.2h-1.2zM157.7,412.6h1.2v1.2h-1.2zM155.7,410.1h1.2v1.2h-1.2zM162.8,391.9h1.2v1.2h-1.2zM166.1,413.0h1.2v1.2h-1.2zM160.9,396.4h1.2v1.2h-1.2zM154.5,395.3h1.2v1.2h-1.2zM160.3,386.5h1.2v1.2h-1.2zM165.9,392.0h1.2v1.2h-1.2zM161.9,406.5h1.2v1.2h-1.2zM168.3,401.9h1.2v1.2h-1.2zM151.5,407.8h1.2v1.2h-1.2zM167.1,401.6h1.2v1.2h-1.2zM161.4,401.1h1.2v1.2h-1.2zM161.8,396.4h1.2v1.2h-1.2zM164.1,412.8h1.2v1.2h-1.2zM159.7,416.0h1.2v1.2h-1.2zM135.8,398.4h1.2v1.2h-1.2zM166.9,394.9h1.2v1.2h-1.2zM141.7,391.9h1.2v1.2h-1.2zM161.8,398.7h1.2v1.2h-1.2zM151.6,391.8h1.2v1.2h-1.2zM170.4,409.9h1.2v1.2h-1.2zM146.6,400.3h1.2v1.2h-1.2zM169.6,400.3h1.2v1.2h-1.2zM155.4,410.6h1.2v1.2h-1.2zM163.1,419.1h1.2v1.2h-1.2zM167.0,395.3h1.2v1.2h-1.2zM139.6,402.8h1.2v1.2h-1.2zM168.4,401.9h1.2v1.2h-1.2zM143.1,398.0h1.2v1.2h-1.2zM161.3,390.1h1.2v1.2h-1.2zM160.8,389.1h1.2v1.2h-1.2zM166.6,386.4h1.2v1.2h-1.2zM137.8,399.9h1.2v1.2h-1.2zM157.8,411.9h1.2v1.2h-1.2zM173.3,395.5h1.2v1.2h-1.2zM159.3,398.7h1.2v1.2h-1.2zM141.6,397.1h1.2v1.2h-1.2zM162.9,400.8h1.2v1.2h-1.2zM141.6,400.5h1.2v1.2h-1.2zM154.7,391.7h1.2v1.2h-1.2zM170.1,398.3h1.2v1.2h-1.2zM158.0,404.7h1.2v1.2h-1.2zM158.7,406.2h1.2v1.2h-1.2zM158.9,413.7h1.2v1.2h-1.2zM154.2,412.4h1.2v1.2h-1.2zM161.2,395.4h1.2v1.2h-1.2zM156.2,400.0h1.2v1.2h-1.2zM158.3,390.3h1.2v1.2h-1.2zM163.4,406.0h1.2v1.2h-1.2zM160.0,411.9h1.2v1.2h-1.2zM164.0,386.4h1.2v1.2h-1.2zM156.7,403.3h1.2v1.2h-1.2zM158.2,407.6h1.2v1.2h-1.2zM153.4,395.9h1.2v1.2h-1.2zM158.8,395.7h1.2v1.2h-1.2zM172.4,398.0h1.2v1.2h-1.2zM158.0,398.6h1.2v1.2h-1.2z" fill="#7864f1"/>
<path d="M143.2,432.7h1.2v1.2h-1.2zM150.7,431.3h1.2v1.2h-1.2zM131.5,418.9h1.2v1.2h-1.2zM142.6,406.0h1.2v1.2h-1.2zM148.9,414.0h1.2v1.2h-1.2zM144.1,435.1h1.2v1.2h-1.2zM159.5,425.4h1.2v1.2h-1.2zM157.6,420.8h1.2v1.2h-1.2zM156.1,419.0h1.2v1.2h-1.2zM139.9,408.0h1.2v1.2h-1.2zM141.6,413.8h1.2v1.2h-1.2zM142.2,424.9h1.2v1.2h-1.2zM142.7,430.1h1.2v1.2h-1.2zM145.3,425.5h1.2v1.2h-1.2zM146.7,402.5h1.2v1.2h-1.2zM159.8,423.1h1.2v1.2h-1.2zM149.7,421.9h1.2v1.2h-1.2zM138.6,416.7h1.2v1.2h-1.2zM135.5,420.1h1.2v1.2h-1.2zM149.2,422.3h1.2v1.2h-1.2zM147.1,408.9h1.2v1.2h-1.2zM152.4,428.4h1.2v1.2h-1.2zM157.3,408.9h1.2v1.2h-1.2zM160.9,414.9h1.2v1.2h-1.2zM135.8,403.1h1.2v1.2h-1.2zM147.0,405.9h1.2v1.2h-1.2zM143.9,410.9h1.2v1.2h-1.2zM162.0,424.5h1.2v1.2h-1.2zM141.3,422.2h1.2v1.2h-1.2zM135.7,406.1h1.2v1.2h-1.2zM130.1,413.0h1.2v1.2h-1.2zM139.4,402.9h1.2v1.2h-1.2zM146.9,431.5h1.2v1.2h-1.2zM144.7,403.3h1.2v1.2h-1.2zM139.2,424.0h1.2v1.2h-1.2zM162.0,419.4h1.2v1.2h-1.2zM144.9,400.8h1.2v1.2h-1.2zM141.9,399.6h1.2v1.2h-1.2zM133.0,423.5h1.2v1.2h-1.2zM139.8,428.1h1.2v1.2h-1.2zM135.0,411.9h1.2v1.2h-1.2zM153.9,423.3h1.2v1.2h-1.2zM137.2,426.6h1.2v1.2h-1.2zM137.0,410.8h1.2v1.2h-1.2zM147.0,416.8h1.2v1.2h-1.2zM151.7,409.2h1.2v1.2h-1.2zM148.1,410.8h1.2v1.2h-1.2zM129.1,419.8h1.2v1.2h-1.2zM153.0,425.4h1.2v1.2h-1.2zM145.6,400.4h1.2v1.2h-1.2zM164.4,415.5h1.2v1.2h-1.2zM156.8,424.1h1.2v1.2h-1.2zM151.3,426.9h1.2v1.2h-1.2zM152.0,430.3h1.2v1.2h-1.2zM159.1,429.7h1.2v1.2h-1.2zM143.6,428.9h1.2v1.2h-1.2zM153.7,434.5h1.2v1.2h-1.2zM138.1,421.1h1.2v1.2h-1.2zM153.4,417.0h1.2v1.2h-1.2zM155.0,412.8h1.2v1.2h-1.2zM160.5,422.8h1.2v1.2h-1.2zM168.6,420.3h1.2v1.2h-1.2zM158.8,414.2h1.2v1.2h-1.2zM145.5,415.0h1.2v1.2h-1.2zM140.8,414.1h1.2v1.2h-1.2zM134.4,407.7h1.2v1.2h-1.2zM140.8,428.8h1.2v1.2h-1.2zM159.2,419.2h1.2v1.2h-1.2zM156.3,413.3h1.2v1.2h-1.2zM144.3,409.1h1.2v1.2h-1.2zM144.3,424.4h1.2v1.2h-1.2zM147.2,431.1h1.2v1.2h-1.2zM151.1,435.2h1.2v1.2h-1.2zM142.8,421.1h1.2v1.2h-1.2zM138.3,401.7h1.2v1.2h-1.2zM162.4,425.5h1.2v1.2h-1.2zM135.7,414.2h1.2v1.2h-1.2zM144.9,420.2h1.2v1.2h-1.2zM149.5,406.7h1.2v1.2h-1.2zM161.8,416.2h1.2v1.2h-1.2zM154.5,411.8h1.2v1.2h-1.2zM153.7,418.2h1.2v1.2h-1.2zM157.6,425.4h1.2v1.2h-1.2zM138.4,415.3h1.2v1.2h-1.2zM155.6,417.8h1.2v1.2h-1.2zM148.0,436.1h1.2v1.2h-1.2zM159.8,413.5h1.2v1.2h-1.2zM152.8,423.8h1.2v1.2h-1.2zM132.1,415.3h1.2v1.2h-1.2zM152.4,429.9h1.2v1.2h-1.2zM133.6,407.2h1.2v1.2h-1.2zM158.4,419.2h1.2v1.2h-1.2zM150.6,402.5h1.2v1.2h-1.2zM139.4,413.3h1.2v1.2h-1.2zM167.6,422.4h1.2v1.2h-1.2zM150.9,430.9h1.2v1.2h-1.2zM150.3,405.0h1.2v1.2h-1.2zM142.2,404.4h1.2v1.2h-1.2zM160.5,416.9h1.2v1.2h-1.2zM149.8,408.3h1.2v1.2h-1.2zM155.6,412.7h1.2v1.2h-1.2zM147.2,421.6h1.2v1.2h-1.2zM166.9,422.5h1.2v1.2h-1.2zM137.7,412.0h1.2v1.2h-1.2zM127.8,419.9h1.2v1.2h-1.2zM140.1,396.3h1.2v1.2h-1.2zM147.1,421.9h1.2v1.2h-1.2zM143.2,423.1h1.2v1.2h-1.2zM151.2,427.6h1.2v1.2h-1.2zM151.4,420.9h1.2v1.2h-1.2zM151.1,414.0h1.2v1.2h-1.2zM133.2,423.5h1.2v1.2h-1.2zM150.6,414.9h1.2v1.2h-1.2zM136.4,397.7h1.2v1.2h-1.2zM150.1,417.3h1.2v1.2h-1.2zM147.6,425.8h1.2v1.2h-1.2zM144.4,420.9h1.2v1.2h-1.2zM162.9,422.5h1.2v1.2h-1.2zM152.0,429.5h1.2v1.2h-1.2zM151.7,410.6h1.2v1.2h-1.2zM164.6,423.6h1.2v1.2h-1.2zM164.6,420.2h1.2v1.2h-1.2zM158.0,419.2h1.2v1.2h-1.2zM156.8,416.5h1.2v1.2h-1.2zM161.1,419.7h1.2v1.2h-1.2zM140.3,416.7h1.2v1.2h-1.2zM165.6,417.1h1.2v1.2h-1.2zM141.4,412.5h1.2v1.2h-1.2zM152.5,429.6h1.2v1.2h-1.2zM147.5,436.4h1.2v1.2h-1.2zM155.8,416.0h1.2v1.2h-1.2zM134.9,419.0h1.2v1.2h-1.2zM150.7,417.6h1.2v1.2h-1.2zM150.8,427.0h1.2v1.2h-1.2zM129.5,421.1h1.2v1.2h-1.2zM157.8,417.7h1.2v1.2h-1.2zM163.5,416.1h1.2v1.2h-1.2zM155.7,433.4h1.2v1.2h-1.2zM143.3,415.1h1.2v1.2h-1.2zM137.3,403.5h1.2v1.2h-1.2zM137.2,398.8h1.2v1.2h-1.2zM144.8,400.2h1.2v1.2h-1.2zM141.0,403.2h1.2v1.2h-1.2z" fill="#a08ced"/>
<path d="M149.1,434.4h1.2v1.2h-1.2zM161.4,408.2h1.2v1.2h-1.2zM159.6,387.9h1.2v1.2h-1.2zM151.9,425.4h1.2v1.2h-1.2zM169.3,400.7h1.2v1.2h-1.2zM159.4,390.5h1.2v1.2h-1.2zM165.3,390.5h1.2v1.2h-1.2zM162.2,383.1h1.2v1.2h-1.2zM156.9,409.2h1.2v1.2h-1.2zM158.1,400.8h1.2v1.2h-1.2zM136.8,421.7h1.2v1.2h-1.2zM172.2,405.9h1.2v1.2h-1.2zM160.5,410.3h1.2v1.2h-1.2zM145.7,418.6h1.2v1.2h-1.2zM144.7,423.2h1.2v1.2h-1.2zM157.1,393.7h1.2v1.2h-1.2zM145.5,421.7h1.2v1.2h-1.2zM126.6,420.1h1.2v1.2h-1.2zM169.2,381.6h1.2v1.2h-1.2zM146.1,433.0h1.2v1.2h-1.2zM160.5,411.2h1.2v1.2h-1.2zM128.1,418.9h1.2v1.2h-1.2zM161.8,419.7h1.2v1.2h-1.2zM154.0,403.5h1.2v1.2h-1.2zM146.3,417.8h1.2v1.2h-1.2zM154.1,426.5h1.2v1.2h-1.2zM154.0,401.4h1.2v1.2h-1.2zM165.0,403.8h1.2v1.2h-1.2zM162.4,392.9h1.2v1.2h-1.2zM168.7,392.2h1.2v1.2h-1.2zM150.2,420.4h1.2v1.2h-1.2zM127.3,413.0h1.2v1.2h-1.2zM160.7,417.8h1.2v1.2h-1.2zM169.1,388.8h1.2v1.2h-1.2zM147.1,418.2h1.2v1.2h-1.2zM132.7,411.3h1.2v1.2h-1.2zM147.7,438.7h1.2v1.2h-1.2zM140.4,417.7h1.2v1.2h-1.2zM143.2,400.7h1.2v1.2h-1.2zM133.0,409.8h1.2v1.2h-1.2zM127.4,414.5h1.2v1.2h-1.2zM153.8,390.4h1.2v1.2h-1.2zM145.6,414.7h1.2v1.2h-1.2zM153.4,396.1h1.2v1.2h-1.2zM133.5,415.3h1.2v1.2h-1.2zM137.8,404.1h1.2v1.2h-1.2zM142.8,417.4h1.2v1.2h-1.2zM149.6,400.8h1.2v1.2h-1.2zM161.4,427.4h1.2v1.2h-1.2zM144.7,437.8h1.2v1.2h-1.2zM151.0,400.9h1.2v1.2h-1.2zM170.5,411.1h1.2v1.2h-1.2zM142.0,433.4h1.2v1.2h-1.2zM155.6,414.6h1.2v1.2h-1.2zM151.3,408.9h1.2v1.2h-1.2zM136.0,431.0h1.2v1.2h-1.2zM163.2,416.4h1.2v1.2h-1.2zM162.4,406.4h1.2v1.2h-1.2zM156.8,415.7h1.2v1.2h-1.2zM165.3,421.0h1.2v1.2h-1.2zM156.9,417.4h1.2v1.2h-1.2zM169.1,399.4h1.2v1.2h-1.2zM140.2,411.6h1.2v1.2h-1.2zM149.0,422.0h1.2v1.2h-1.2zM146.3,432.2h1.2v1.2h-1.2zM144.7,424.5h1.2v1.2h-1.2zM161.3,423.1h1.2v1.2h-1.2zM160.9,424.3h1.2v1.2h-1.2zM143.3,393.6h1.2v1.2h-1.2zM133.9,427.4h1.2v1.2h-1.2zM159.4,398.8h1.2v1.2h-1.2zM143.1,419.2h1.2v1.2h-1.2zM139.6,429.9h1.2v1.2h-1.2zM140.0,430.8h1.2v1.2h-1.2zM148.7,422.4h1.2v1.2h-1.2zM138.8,397.3h1.2v1.2h-1.2zM134.0,409.6h1.2v1.2h-1.2zM147.2,408.9h1.2v1.2h-1.2zM148.9,416.3h1.2v1.2h-1.2zM143.3,401.5h1.2v1.2h-1.2zM166.9,418.8h1.2v1.2h-1.2zM134.7,423.3h1.2v1.2h-1.2zM164.6,415.9h1.2v1.2h-1.2zM157.6,393.6h1.2v1.2h-1.2zM140.5,421.9h1.2v1.2h-1.2zM131.1,426.5h1.2v1.2h-1.2zM161.7,426.0h1.2v1.2h-1.2zM141.8,425.4h1.2v1.2h-1.2zM145.6,416.7h1.2v1.2h-1.2zM152.0,433.9h1.2v1.2h-1.2zM167.8,398.2h1.2v1.2h-1.2zM141.5,396.1h1.2v1.2h-1.2zM132.9,409.4h1.2v1.2h-1.2zM162.6,415.2h1.2v1.2h-1.2zM166.5,399.7h1.2v1.2h-1.2zM161.6,397.3h1.2v1.2h-1.2zM145.1,406.4h1.2v1.2h-1.2zM133.9,409.5h1.2v1.2h-1.2zM156.7,429.1h1.2v1.2h-1.2zM161.6,407.4h1.2v1.2h-1.2zM135.4,432.8h1.2v1.2h-1.2zM140.6,395.0h1.2v1.2h-1.2zM157.1,409.8h1.2v1.2h-1.2zM163.9,398.6h1.2v1.2h-1.2zM154.9,406.2h1.2v1.2h-1.2zM161.8,420.8h1.2v1.2h-1.2zM133.5,413.3h1.2v1.2h-1.2zM129.0,414.8h1.2v1.2h-1.2zM161.6,396.4h1.2v1.2h-1.2zM161.4,418.5h1.2v1.2h-1.2zM169.4,391.1h1.2v1.2h-1.2zM158.3,404.9h1.2v1.2h-1.2zM165.1,399.5h1.2v1.2h-1.2zM145.5,395.5h1.2v1.2h-1.2zM140.4,428.9h1.2v1.2h-1.2zM148.3,397.8h1.2v1.2h-1.2zM162.7,422.3h1.2v1.2h-1.2zM155.5,396.7h1.2v1.2h-1.2zM145.4,437.6h1.2v1.2h-1.2zM153.6,393.3h1.2v1.2h-1.2zM137.1,420.1h1.2v1.2h-1.2zM147.7,416.0h1.2v1.2h-1.2zM164.3,414.7h1.2v1.2h-1.2zM163.1,412.0h1.2v1.2h-1.2zM157.8,400.3h1.2v1.2h-1.2zM141.0,412.8h1.2v1.2h-1.2zM159.8,422.3h1.2v1.2h-1.2zM130.8,423.3h1.2v1.2h-1.2zM145.0,433.2h1.2v1.2h-1.2zM150.7,432.1h1.2v1.2h-1.2zM169.5,407.4h1.2v1.2h-1.2zM162.5,408.5h1.2v1.2h-1.2zM139.5,404.5h1.2v1.2h-1.2zM139.4,415.0h1.2v1.2h-1.2zM160.7,389.0h1.2v1.2h-1.2zM148.2,417.7h1.2v1.2h-1.2zM146.1,429.2h1.2v1.2h-1.2zM156.4,403.8h1.2v1.2h-1.2zM133.2,403.4h1.2v1.2h-1.2zM149.7,428.4h1.2v1.2h-1.2zM153.4,427.2h1.2v1.2h-1.2zM149.8,421.1h1.2v1.2h-1.2zM156.7,417.1h1.2v1.2h-1.2zM139.0,427.1h1.2v1.2h-1.2zM147.8,419.8h1.2v1.2h-1.2zM163.2,418.4h1.2v1.2h-1.2zM160.3,387.3h1.2v1.2h-1.2zM155.5,391.7h1.2v1.2h-1.2zM165.6,408.1h1.2v1.2h-1.2zM126.3,423.4h1.2v1.2h-1.2zM150.9,407.3h1.2v1.2h-1.2zM136.2,413.8h1.2v1.2h-1.2zM140.7,401.7h1.2v1.2h-1.2zM161.8,409.8h1.2v1.2h-1.2zM146.3,428.2h1.2v1.2h-1.2zM139.7,397.0h1.2v1.2h-1.2zM165.5,388.7h1.2v1.2h-1.2zM151.6,427.9h1.2v1.2h-1.2zM137.2,431.8h1.2v1.2h-1.2zM162.8,427.5h1.2v1.2h-1.2zM145.0,397.9h1.2v1.2h-1.2zM155.1,416.6h1.2v1.2h-1.2zM150.0,418.2h1.2v1.2h-1.2zM165.0,386.1h1.2v1.2h-1.2zM158.8,421.2h1.2v1.2h-1.2zM144.5,433.3h1.2v1.2h-1.2zM148.8,394.1h1.2v1.2h-1.2zM129.5,431.7h1.2v1.2h-1.2zM158.7,415.6h1.2v1.2h-1.2zM138.0,402.8h1.2v1.2h-1.2zM136.6,418.2h1.2v1.2h-1.2zM142.5,402.0h1.2v1.2h-1.2zM150.3,405.6h1.2v1.2h-1.2zM146.1,440.3h1.2v1.2h-1.2zM132.2,430.6h1.2v1.2h-1.2zM144.6,406.7h1.2v1.2h-1.2zM154.1,407.8h1.2v1.2h-1.2zM144.0,393.5h1.2v1.2h-1.2zM144.4,432.4h1.2v1.2h-1.2zM166.1,391.7h1.2v1.2h-1.2zM148.2,402.1h1.2v1.2h-1.2zM168.6,394.7h1.2v1.2h-1.2zM140.6,409.2h1.2v1.2h-1.2zM149.5,423.6h1.2v1.2h-1.2zM163.9,421.2h1.2v1.2h-1.2zM168.9,408.2h1.2v1.2h-1.2zM147.8,409.6h1.2v1.2h-1.2zM139.6,434.4h1.2v1.2h-1.2zM149.5,391.0h1.2v1.2h-1.2zM147.6,413.5h1.2v1.2h-1.2zM162.1,413.4h1.2v1.2h-1.2zM151.1,417.5h1.2v1.2h-1.2zM168.9,393.6h1.2v1.2h-1.2zM159.6,393.4h1.2v1.2h-1.2zM161.8,410.7h1.2v1.2h-1.2zM161.9,409.2h1.2v1.2h-1.2zM162.4,409.5h1.2v1.2h-1.2zM155.6,417.2h1.2v1.2h-1.2zM137.0,435.4h1.2v1.2h-1.2zM153.1,397.8h1.2v1.2h-1.2zM131.4,425.8h1.2v1.2h-1.2zM153.0,416.1h1.2v1.2h-1.2zM133.4,421.5h1.2v1.2h-1.2zM144.8,400.8h1.2v1.2h-1.2zM173.3,401.7h1.2v1.2h-1.2zM171.5,393.3h1.2v1.2h-1.2zM159.0,402.4h1.2v1.2h-1.2zM151.9,421.2h1.2v1.2h-1.2zM136.5,404.2h1.2v1.2h-1.2zM149.9,405.2h1.2v1.2h-1.2zM159.3,420.8h1.2v1.2h-1.2zM161.8,401.3h1.2v1.2h-1.2zM130.9,421.0h1.2v1.2h-1.2zM139.8,414.1h1.2v1.2h-1.2zM168.9,407.4h1.2v1.2h-1.2zM140.7,398.0h1.2v1.2h-1.2zM130.7,418.4h1.2v1.2h-1.2zM166.1,410.9h1.2v1.2h-1.2zM143.5,395.0h1.2v1.2h-1.2zM150.8,422.1h1.2v1.2h-1.2zM151.5,420.4h1.2v1.2h-1.2zM155.6,394.9h1.2v1.2h-1.2zM157.7,431.8h1.2v1.2h-1.2zM158.2,388.0h1.2v1.2h-1.2zM171.0,404.1h1.2v1.2h-1.2zM142.8,427.9h1.2v1.2h-1.2zM164.2,399.8h1.2v1.2h-1.2zM137.4,420.8h1.2v1.2h-1.2zM159.7,426.5h1.2v1.2h-1.2zM127.4,419.4h1.2v1.2h-1.2zM140.0,401.7h1.2v1.2h-1.2zM142.3,412.9h1.2v1.2h-1.2zM142.0,435.1h1.2v1.2h-1.2zM138.7,421.5h1.2v1.2h-1.2zM152.8,404.3h1.2v1.2h-1.2zM167.1,391.8h1.2v1.2h-1.2zM168.2,397.2h1.2v1.2h-1.2zM157.0,397.2h1.2v1.2h-1.2zM136.3,417.0h1.2v1.2h-1.2zM155.4,398.7h1.2v1.2h-1.2zM139.9,426.3h1.2v1.2h-1.2zM150.0,394.2h1.2v1.2h-1.2zM155.4,401.8h1.2v1.2h-1.2zM152.2,412.9h1.2v1.2h-1.2zM148.9,432.2h1.2v1.2h-1.2zM137.3,405.8h1.2v1.2h-1.2zM152.7,422.2h1.2v1.2h-1.2zM144.1,426.4h1.2v1.2h-1.2zM144.7,401.8h1.2v1.2h-1.2zM149.4,392.3h1.2v1.2h-1.2z" fill="#ffffff"/>
<path d="M133.4,414.8h1.2v1.2h-1.2zM158.4,425.6h1.2v1.2h-1.2zM133.8,418.4h1.2v1.2h-1.2zM152.2,411.4h1.2v1.2h-1.2zM150.8,425.0h1.2v1.2h-1.2zM145.2,402.2h1.2v1.2h-1.2zM144.7,411.2h1.2v1.2h-1.2zM150.6,429.9h1.2v1.2h-1.2zM134.8,408.0h1.2v1.2h-1.2zM149.6,401.5h1.2v1.2h-1.2zM157.3,411.2h1.2v1.2h-1.2zM142.9,429.2h1.2v1.2h-1.2zM135.8,420.1h1.2v1.2h-1.2zM142.5,407.8h1.2v1.2h-1.2zM166.1,418.4h1.2v1.2h-1.2zM144.8,411.1h1.2v1.2h-1.2zM158.1,409.6h1.2v1.2h-1.2zM142.5,408.8h1.2v1.2h-1.2zM162.2,415.4h1.2v1.2h-1.2zM158.0,424.2h1.2v1.2h-1.2zM131.4,411.8h1.2v1.2h-1.2zM145.8,426.7h1.2v1.2h-1.2zM143.9,396.8h1.2v1.2h-1.2zM143.0,403.2h1.2v1.2h-1.2zM161.2,411.8h1.2v1.2h-1.2zM130.5,405.1h1.2v1.2h-1.2zM151.1,430.2h1.2v1.2h-1.2zM138.2,394.4h1.2v1.2h-1.2zM151.4,403.1h1.2v1.2h-1.2zM148.1,409.5h1.2v1.2h-1.2zM146.6,419.1h1.2v1.2h-1.2zM160.9,417.2h1.2v1.2h-1.2zM138.4,411.6h1.2v1.2h-1.2zM140.7,409.4h1.2v1.2h-1.2zM139.8,401.3h1.2v1.2h-1.2zM138.9,394.2h1.2v1.2h-1.2zM150.5,401.3h1.2v1.2h-1.2zM161.4,425.7h1.2v1.2h-1.2zM153.6,405.3h1.2v1.2h-1.2zM156.3,407.5h1.2v1.2h-1.2zM162.3,414.9h1.2v1.2h-1.2zM136.3,414.1h1.2v1.2h-1.2zM145.5,405.3h1.2v1.2h-1.2zM134.1,399.6h1.2v1.2h-1.2zM146.9,398.7h1.2v1.2h-1.2zM160.9,420.0h1.2v1.2h-1.2zM145.2,414.1h1.2v1.2h-1.2zM159.7,411.5h1.2v1.2h-1.2zM154.6,433.4h1.2v1.2h-1.2zM167.0,420.2h1.2v1.2h-1.2zM146.7,407.6h1.2v1.2h-1.2zM139.2,408.8h1.2v1.2h-1.2zM154.4,409.6h1.2v1.2h-1.2zM162.4,413.5h1.2v1.2h-1.2zM146.0,408.2h1.2v1.2h-1.2zM159.2,424.9h1.2v1.2h-1.2zM148.5,402.0h1.2v1.2h-1.2zM158.7,414.5h1.2v1.2h-1.2zM143.6,409.3h1.2v1.2h-1.2z" fill="#968cee"/>
<path d="M136.1,416.5h1.2v1.2h-1.2zM133.1,406.6h1.2v1.2h-1.2zM143.0,425.7h1.2v1.2h-1.2zM135.8,413.6h1.2v1.2h-1.2zM146.1,429.5h1.2v1.2h-1.2zM143.4,420.4h1.2v1.2h-1.2zM132.4,418.1h1.2v1.2h-1.2zM143.6,431.7h1.2v1.2h-1.2zM133.5,408.3h1.2v1.2h-1.2zM147.4,430.9h1.2v1.2h-1.2zM149.6,430.2h1.2v1.2h-1.2zM141.0,427.5h1.2v1.2h-1.2zM132.3,423.7h1.2v1.2h-1.2zM137.5,413.3h1.2v1.2h-1.2zM154.2,430.7h1.2v1.2h-1.2zM145.3,436.5h1.2v1.2h-1.2zM152.4,422.7h1.2v1.2h-1.2zM135.4,427.8h1.2v1.2h-1.2zM146.7,429.6h1.2v1.2h-1.2zM138.4,428.0h1.2v1.2h-1.2zM143.8,417.0h1.2v1.2h-1.2zM155.2,428.1h1.2v1.2h-1.2zM155.8,429.7h1.2v1.2h-1.2zM133.9,413.6h1.2v1.2h-1.2zM140.8,431.0h1.2v1.2h-1.2zM152.0,424.2h1.2v1.2h-1.2zM137.0,415.5h1.2v1.2h-1.2zM133.0,423.8h1.2v1.2h-1.2zM137.2,433.4h1.2v1.2h-1.2zM140.6,436.3h1.2v1.2h-1.2zM140.2,422.3h1.2v1.2h-1.2zM138.0,422.9h1.2v1.2h-1.2zM144.4,431.1h1.2v1.2h-1.2zM149.7,427.4h1.2v1.2h-1.2zM129.6,418.9h1.2v1.2h-1.2zM141.8,434.0h1.2v1.2h-1.2zM133.5,410.6h1.2v1.2h-1.2zM133.0,425.7h1.2v1.2h-1.2zM139.5,415.6h1.2v1.2h-1.2zM138.9,415.1h1.2v1.2h-1.2zM147.7,437.5h1.2v1.2h-1.2zM138.6,431.7h1.2v1.2h-1.2zM141.0,428.2h1.2v1.2h-1.2zM137.1,422.5h1.2v1.2h-1.2zM139.5,433.1h1.2v1.2h-1.2zM130.7,406.4h1.2v1.2h-1.2zM144.6,426.6h1.2v1.2h-1.2zM140.4,417.1h1.2v1.2h-1.2zM127.4,414.9h1.2v1.2h-1.2zM147.0,433.1h1.2v1.2h-1.2zM143.6,433.1h1.2v1.2h-1.2zM150.2,425.3h1.2v1.2h-1.2zM145.4,436.9h1.2v1.2h-1.2zM142.4,438.7h1.2v1.2h-1.2zM138.7,428.8h1.2v1.2h-1.2zM132.5,411.8h1.2v1.2h-1.2zM138.2,430.1h1.2v1.2h-1.2zM139.8,418.3h1.2v1.2h-1.2zM138.3,426.5h1.2v1.2h-1.2zM135.6,422.3h1.2v1.2h-1.2zM133.7,414.3h1.2v1.2h-1.2zM151.8,427.7h1.2v1.2h-1.2zM138.4,411.5h1.2v1.2h-1.2zM128.2,414.6h1.2v1.2h-1.2zM149.0,434.1h1.2v1.2h-1.2zM140.0,427.1h1.2v1.2h-1.2zM139.0,433.2h1.2v1.2h-1.2zM151.7,429.6h1.2v1.2h-1.2zM141.9,424.4h1.2v1.2h-1.2zM133.3,427.2h1.2v1.2h-1.2zM127.4,417.3h1.2v1.2h-1.2zM146.1,423.6h1.2v1.2h-1.2zM146.6,440.4h1.2v1.2h-1.2zM128.4,421.5h1.2v1.2h-1.2zM147.3,425.7h1.2v1.2h-1.2zM140.5,429.2h1.2v1.2h-1.2zM142.9,430.8h1.2v1.2h-1.2zM130.0,425.8h1.2v1.2h-1.2zM138.1,429.4h1.2v1.2h-1.2zM139.1,418.9h1.2v1.2h-1.2zM143.7,428.2h1.2v1.2h-1.2zM133.7,408.6h1.2v1.2h-1.2zM141.5,438.1h1.2v1.2h-1.2zM142.3,439.6h1.2v1.2h-1.2zM138.3,436.1h1.2v1.2h-1.2zM154.8,426.1h1.2v1.2h-1.2zM129.2,423.2h1.2v1.2h-1.2zM139.7,417.5h1.2v1.2h-1.2zM137.5,425.1h1.2v1.2h-1.2zM143.1,427.5h1.2v1.2h-1.2zM130.5,423.5h1.2v1.2h-1.2z" fill="#b4aaeb"/>
<path d="M147.6,401.8h1.2v1.2h-1.2zM161.6,422.6h1.2v1.2h-1.2zM163.2,407.9h1.2v1.2h-1.2zM163.1,423.6h1.2v1.2h-1.2zM167.2,409.6h1.2v1.2h-1.2zM145.8,419.3h1.2v1.2h-1.2zM169.3,419.4h1.2v1.2h-1.2zM165.9,409.2h1.2v1.2h-1.2zM167.6,410.0h1.2v1.2h-1.2zM159.1,418.3h1.2v1.2h-1.2zM146.8,418.3h1.2v1.2h-1.2zM154.3,398.8h1.2v1.2h-1.2zM160.7,422.9h1.2v1.2h-1.2zM153.1,392.8h1.2v1.2h-1.2zM163.6,414.7h1.2v1.2h-1.2zM158.1,405.5h1.2v1.2h-1.2zM147.8,391.2h1.2v1.2h-1.2zM168.9,414.4h1.2v1.2h-1.2zM141.5,419.5h1.2v1.2h-1.2zM164.4,424.1h1.2v1.2h-1.2zM145.2,423.1h1.2v1.2h-1.2zM160.4,399.4h1.2v1.2h-1.2zM151.2,409.5h1.2v1.2h-1.2zM164.7,413.1h1.2v1.2h-1.2zM158.8,401.5h1.2v1.2h-1.2zM134.9,407.2h1.2v1.2h-1.2zM146.9,419.3h1.2v1.2h-1.2zM141.6,393.2h1.2v1.2h-1.2zM165.2,404.0h1.2v1.2h-1.2zM144.5,399.5h1.2v1.2h-1.2zM165.7,412.0h1.2v1.2h-1.2zM140.0,414.9h1.2v1.2h-1.2zM138.6,412.4h1.2v1.2h-1.2zM142.9,418.6h1.2v1.2h-1.2zM165.9,408.3h1.2v1.2h-1.2zM145.2,394.7h1.2v1.2h-1.2zM133.0,409.7h1.2v1.2h-1.2zM142.9,395.0h1.2v1.2h-1.2zM156.2,397.0h1.2v1.2h-1.2zM144.0,414.2h1.2v1.2h-1.2zM155.4,401.6h1.2v1.2h-1.2zM150.9,423.5h1.2v1.2h-1.2zM147.9,400.5h1.2v1.2h-1.2zM140.6,392.5h1.2v1.2h-1.2zM169.8,414.6h1.2v1.2h-1.2zM151.9,412.2h1.2v1.2h-1.2zM168.4,411.7h1.2v1.2h-1.2zM164.7,420.2h1.2v1.2h-1.2zM133.9,405.9h1.2v1.2h-1.2zM145.9,397.4h1.2v1.2h-1.2zM133.7,411.8h1.2v1.2h-1.2zM149.6,399.5h1.2v1.2h-1.2zM144.9,400.3h1.2v1.2h-1.2zM136.8,414.1h1.2v1.2h-1.2zM152.7,410.7h1.2v1.2h-1.2zM143.1,412.4h1.2v1.2h-1.2zM165.9,412.8h1.2v1.2h-1.2zM145.5,398.5h1.2v1.2h-1.2zM151.7,393.5h1.2v1.2h-1.2zM140.2,401.6h1.2v1.2h-1.2zM144.4,406.0h1.2v1.2h-1.2zM156.8,410.4h1.2v1.2h-1.2zM167.5,413.9h1.2v1.2h-1.2zM166.8,417.2h1.2v1.2h-1.2zM137.2,396.8h1.2v1.2h-1.2zM153.4,394.7h1.2v1.2h-1.2zM143.5,400.8h1.2v1.2h-1.2zM152.9,419.2h1.2v1.2h-1.2zM131.7,407.2h1.2v1.2h-1.2zM143.7,411.9h1.2v1.2h-1.2zM163.2,402.8h1.2v1.2h-1.2zM151.4,409.0h1.2v1.2h-1.2zM156.8,430.2h1.2v1.2h-1.2zM146.6,404.9h1.2v1.2h-1.2zM165.9,411.6h1.2v1.2h-1.2zM158.9,421.6h1.2v1.2h-1.2zM145.4,395.5h1.2v1.2h-1.2zM146.4,422.2h1.2v1.2h-1.2zM143.3,408.3h1.2v1.2h-1.2zM155.8,410.6h1.2v1.2h-1.2zM154.4,410.4h1.2v1.2h-1.2zM145.7,400.7h1.2v1.2h-1.2zM159.0,414.9h1.2v1.2h-1.2zM145.0,418.5h1.2v1.2h-1.2zM145.6,392.2h1.2v1.2h-1.2zM167.2,424.6h1.2v1.2h-1.2zM142.1,399.1h1.2v1.2h-1.2zM134.2,411.5h1.2v1.2h-1.2zM152.2,396.4h1.2v1.2h-1.2zM145.1,415.8h1.2v1.2h-1.2zM153.7,396.6h1.2v1.2h-1.2zM141.6,414.5h1.2v1.2h-1.2zM154.9,409.5h1.2v1.2h-1.2zM158.6,427.6h1.2v1.2h-1.2zM163.6,414.0h1.2v1.2h-1.2zM161.4,421.7h1.2v1.2h-1.2zM151.9,423.9h1.2v1.2h-1.2zM147.6,415.7h1.2v1.2h-1.2zM148.5,416.1h1.2v1.2h-1.2zM150.4,403.4h1.2v1.2h-1.2zM156.4,427.6h1.2v1.2h-1.2zM147.7,409.9h1.2v1.2h-1.2zM160.0,401.8h1.2v1.2h-1.2zM140.9,393.5h1.2v1.2h-1.2zM156.0,421.1h1.2v1.2h-1.2zM148.1,421.5h1.2v1.2h-1.2zM139.8,409.1h1.2v1.2h-1.2zM140.3,414.7h1.2v1.2h-1.2zM170.1,416.6h1.2v1.2h-1.2zM160.3,405.6h1.2v1.2h-1.2zM136.7,405.2h1.2v1.2h-1.2zM137.7,417.5h1.2v1.2h-1.2zM141.6,417.1h1.2v1.2h-1.2zM143.7,418.2h1.2v1.2h-1.2zM168.1,413.2h1.2v1.2h-1.2zM145.0,408.9h1.2v1.2h-1.2zM161.7,421.7h1.2v1.2h-1.2zM165.7,418.0h1.2v1.2h-1.2zM148.2,402.5h1.2v1.2h-1.2zM157.7,427.1h1.2v1.2h-1.2zM154.1,395.6h1.2v1.2h-1.2zM160.6,401.1h1.2v1.2h-1.2zM151.4,413.7h1.2v1.2h-1.2zM159.7,404.3h1.2v1.2h-1.2zM141.3,416.5h1.2v1.2h-1.2zM145.2,416.6h1.2v1.2h-1.2zM145.9,415.0h1.2v1.2h-1.2zM151.4,407.8h1.2v1.2h-1.2zM149.5,417.3h1.2v1.2h-1.2zM154.1,394.3h1.2v1.2h-1.2zM151.9,406.4h1.2v1.2h-1.2zM133.6,409.2h1.2v1.2h-1.2zM153.1,422.5h1.2v1.2h-1.2zM158.5,422.9h1.2v1.2h-1.2zM144.2,406.1h1.2v1.2h-1.2zM152.9,406.4h1.2v1.2h-1.2zM149.1,399.3h1.2v1.2h-1.2zM147.8,419.6h1.2v1.2h-1.2zM149.5,400.9h1.2v1.2h-1.2zM141.6,403.9h1.2v1.2h-1.2zM144.8,406.4h1.2v1.2h-1.2zM145.6,409.4h1.2v1.2h-1.2zM143.1,397.4h1.2v1.2h-1.2zM159.2,424.3h1.2v1.2h-1.2zM147.5,417.8h1.2v1.2h-1.2zM149.6,392.6h1.2v1.2h-1.2zM164.4,406.1h1.2v1.2h-1.2zM164.9,405.5h1.2v1.2h-1.2zM137.8,414.5h1.2v1.2h-1.2zM158.4,430.9h1.2v1.2h-1.2zM135.4,412.0h1.2v1.2h-1.2zM158.6,428.9h1.2v1.2h-1.2zM150.2,426.2h1.2v1.2h-1.2zM157.6,420.4h1.2v1.2h-1.2zM134.8,406.4h1.2v1.2h-1.2zM134.4,402.6h1.2v1.2h-1.2zM155.2,411.5h1.2v1.2h-1.2zM149.4,424.2h1.2v1.2h-1.2zM150.5,404.8h1.2v1.2h-1.2zM156.6,407.9h1.2v1.2h-1.2zM156.1,417.4h1.2v1.2h-1.2zM153.4,425.2h1.2v1.2h-1.2zM157.7,400.9h1.2v1.2h-1.2zM161.3,426.7h1.2v1.2h-1.2zM162.0,417.7h1.2v1.2h-1.2zM167.2,403.1h1.2v1.2h-1.2zM152.0,416.0h1.2v1.2h-1.2zM149.7,392.7h1.2v1.2h-1.2zM138.5,403.6h1.2v1.2h-1.2zM157.2,429.7h1.2v1.2h-1.2zM151.2,411.5h1.2v1.2h-1.2zM154.0,421.8h1.2v1.2h-1.2zM148.9,390.2h1.2v1.2h-1.2zM139.5,411.4h1.2v1.2h-1.2zM159.7,423.8h1.2v1.2h-1.2zM148.8,407.0h1.2v1.2h-1.2zM160.0,404.7h1.2v1.2h-1.2zM148.5,415.1h1.2v1.2h-1.2zM168.4,415.4h1.2v1.2h-1.2zM169.1,408.4h1.2v1.2h-1.2zM139.6,397.9h1.2v1.2h-1.2zM136.4,411.5h1.2v1.2h-1.2zM155.7,400.8h1.2v1.2h-1.2zM168.9,406.7h1.2v1.2h-1.2zM142.4,395.4h1.2v1.2h-1.2zM148.6,425.6h1.2v1.2h-1.2zM138.4,394.8h1.2v1.2h-1.2zM149.0,392.7h1.2v1.2h-1.2zM136.4,399.1h1.2v1.2h-1.2zM167.4,412.4h1.2v1.2h-1.2zM158.5,408.2h1.2v1.2h-1.2zM160.8,417.5h1.2v1.2h-1.2zM157.0,397.8h1.2v1.2h-1.2zM162.8,421.1h1.2v1.2h-1.2zM145.7,416.0h1.2v1.2h-1.2zM151.5,393.4h1.2v1.2h-1.2z" fill="#8c78ef"/>
<path d="M135.4,405.9h1.2v1.2h-1.2zM154.9,423.2h1.2v1.2h-1.2zM136.1,409.5h1.2v1.2h-1.2zM157.4,407.5h1.2v1.2h-1.2zM161.6,409.4h1.2v1.2h-1.2zM148.6,426.0h1.2v1.2h-1.2zM169.9,420.1h1.2v1.2h-1.2zM130.4,411.1h1.2v1.2h-1.2zM139.1,409.5h1.2v1.2h-1.2zM142.5,398.5h1.2v1.2h-1.2zM169.3,411.9h1.2v1.2h-1.2zM156.7,425.5h1.2v1.2h-1.2zM162.9,404.5h1.2v1.2h-1.2zM158.5,402.5h1.2v1.2h-1.2zM139.4,394.2h1.2v1.2h-1.2zM152.1,406.7h1.2v1.2h-1.2zM147.6,402.5h1.2v1.2h-1.2zM144.0,410.7h1.2v1.2h-1.2zM159.8,420.2h1.2v1.2h-1.2zM139.9,400.2h1.2v1.2h-1.2zM163.1,424.4h1.2v1.2h-1.2zM155.0,428.7h1.2v1.2h-1.2zM147.8,424.3h1.2v1.2h-1.2zM156.2,409.0h1.2v1.2h-1.2zM143.8,406.6h1.2v1.2h-1.2zM151.3,398.6h1.2v1.2h-1.2zM147.4,425.9h1.2v1.2h-1.2zM163.8,415.9h1.2v1.2h-1.2zM134.9,410.9h1.2v1.2h-1.2zM152.1,406.7h1.2v1.2h-1.2zM161.2,412.6h1.2v1.2h-1.2zM136.5,402.3h1.2v1.2h-1.2zM152.5,422.2h1.2v1.2h-1.2zM143.2,394.6h1.2v1.2h-1.2zM156.9,404.3h1.2v1.2h-1.2zM150.4,401.2h1.2v1.2h-1.2zM163.4,404.4h1.2v1.2h-1.2zM147.7,417.7h1.2v1.2h-1.2zM159.6,417.0h1.2v1.2h-1.2zM141.8,411.7h1.2v1.2h-1.2zM144.0,404.4h1.2v1.2h-1.2zM152.8,409.8h1.2v1.2h-1.2zM161.2,403.1h1.2v1.2h-1.2zM162.8,419.8h1.2v1.2h-1.2zM131.6,404.1h1.2v1.2h-1.2zM145.1,414.6h1.2v1.2h-1.2zM161.6,407.5h1.2v1.2h-1.2zM161.1,419.3h1.2v1.2h-1.2zM147.0,402.5h1.2v1.2h-1.2zM148.4,427.1h1.2v1.2h-1.2z" fill="#9682ef"/>
<path d="M152.3,412.1h1.2v1.2h-1.2zM172.3,405.7h1.2v1.2h-1.2zM155.4,405.7h1.2v1.2h-1.2zM153.4,398.3h1.2v1.2h-1.2zM153.0,390.6h1.2v1.2h-1.2zM155.0,409.9h1.2v1.2h-1.2zM154.1,398.5h1.2v1.2h-1.2zM149.9,402.1h1.2v1.2h-1.2zM151.0,397.6h1.2v1.2h-1.2zM142.6,413.1h1.2v1.2h-1.2zM159.5,410.2h1.2v1.2h-1.2zM152.3,416.0h1.2v1.2h-1.2zM155.1,412.7h1.2v1.2h-1.2zM163.5,399.6h1.2v1.2h-1.2zM150.2,411.2h1.2v1.2h-1.2zM152.8,392.3h1.2v1.2h-1.2z" fill="#8c78f0"/>
<path d="M166.0,391.2h1.2v1.2h-1.2zM137.2,399.1h1.2v1.2h-1.2zM163.1,404.5h1.2v1.2h-1.2zM142.5,401.1h1.2v1.2h-1.2zM147.9,411.3h1.2v1.2h-1.2zM156.3,416.7h1.2v1.2h-1.2zM163.8,394.6h1.2v1.2h-1.2zM159.0,400.1h1.2v1.2h-1.2zM168.5,412.3h1.2v1.2h-1.2zM164.6,403.3h1.2v1.2h-1.2zM151.3,400.4h1.2v1.2h-1.2zM172.0,396.1h1.2v1.2h-1.2zM161.5,402.8h1.2v1.2h-1.2zM157.5,395.8h1.2v1.2h-1.2zM138.1,400.5h1.2v1.2h-1.2zM163.3,403.9h1.2v1.2h-1.2zM150.4,393.2h1.2v1.2h-1.2zM154.2,412.0h1.2v1.2h-1.2zM171.3,405.4h1.2v1.2h-1.2zM153.1,395.2h1.2v1.2h-1.2zM162.3,388.5h1.2v1.2h-1.2zM146.4,393.9h1.2v1.2h-1.2zM165.4,419.6h1.2v1.2h-1.2zM154.5,404.6h1.2v1.2h-1.2zM153.1,410.0h1.2v1.2h-1.2zM154.6,397.7h1.2v1.2h-1.2zM140.9,405.0h1.2v1.2h-1.2zM166.0,405.3h1.2v1.2h-1.2zM164.0,399.5h1.2v1.2h-1.2zM148.9,403.5h1.2v1.2h-1.2zM156.5,412.2h1.2v1.2h-1.2zM157.0,412.2h1.2v1.2h-1.2zM156.6,391.9h1.2v1.2h-1.2zM154.0,396.3h1.2v1.2h-1.2zM140.8,402.4h1.2v1.2h-1.2zM154.7,406.5h1.2v1.2h-1.2zM167.2,406.1h1.2v1.2h-1.2zM162.2,424.7h1.2v1.2h-1.2zM151.2,397.7h1.2v1.2h-1.2zM143.6,394.5h1.2v1.2h-1.2zM167.4,393.5h1.2v1.2h-1.2zM170.4,409.5h1.2v1.2h-1.2zM161.5,387.5h1.2v1.2h-1.2zM164.0,410.0h1.2v1.2h-1.2zM137.8,401.8h1.2v1.2h-1.2zM158.5,412.7h1.2v1.2h-1.2zM166.7,400.5h1.2v1.2h-1.2zM160.5,397.6h1.2v1.2h-1.2zM156.0,415.9h1.2v1.2h-1.2zM161.2,393.7h1.2v1.2h-1.2zM152.4,395.0h1.2v1.2h-1.2zM138.3,402.7h1.2v1.2h-1.2zM164.6,407.3h1.2v1.2h-1.2zM165.4,401.2h1.2v1.2h-1.2zM153.9,402.7h1.2v1.2h-1.2zM169.6,401.5h1.2v1.2h-1.2zM169.4,401.1h1.2v1.2h-1.2zM160.3,403.9h1.2v1.2h-1.2zM143.5,396.5h1.2v1.2h-1.2zM142.1,405.0h1.2v1.2h-1.2zM166.4,408.3h1.2v1.2h-1.2zM161.5,397.8h1.2v1.2h-1.2zM150.6,409.0h1.2v1.2h-1.2zM150.3,396.9h1.2v1.2h-1.2zM161.7,419.8h1.2v1.2h-1.2zM147.4,407.2h1.2v1.2h-1.2zM158.2,421.0h1.2v1.2h-1.2zM159.3,397.2h1.2v1.2h-1.2z" fill="#8264f1"/>
<path d="M146.1,439.0h1.2v1.2h-1.2zM133.5,430.1h1.2v1.2h-1.2zM142.8,439.9h1.2v1.2h-1.2zM130.1,426.7h1.2v1.2h-1.2zM148.0,436.2h1.2v1.2h-1.2zM130.8,423.7h1.2v1.2h-1.2zM143.3,435.7h1.2v1.2h-1.2zM133.2,429.1h1.2v1.2h-1.2zM137.1,431.1h1.2v1.2h-1.2zM143.0,433.3h1.2v1.2h-1.2zM135.0,425.4h1.2v1.2h-1.2zM132.9,429.2h1.2v1.2h-1.2zM131.4,430.2h1.2v1.2h-1.2zM130.9,429.9h1.2v1.2h-1.2zM143.1,435.5h1.2v1.2h-1.2zM136.5,431.6h1.2v1.2h-1.2zM132.3,423.2h1.2v1.2h-1.2zM146.9,436.3h1.2v1.2h-1.2zM140.2,434.2h1.2v1.2h-1.2zM133.5,423.0h1.2v1.2h-1.2zM132.3,419.6h1.2v1.2h-1.2zM137.6,434.5h1.2v1.2h-1.2zM135.3,423.1h1.2v1.2h-1.2zM144.1,432.9h1.2v1.2h-1.2zM136.8,429.8h1.2v1.2h-1.2zM145.3,432.1h1.2v1.2h-1.2zM138.8,435.3h1.2v1.2h-1.2zM142.7,427.8h1.2v1.2h-1.2zM131.7,427.0h1.2v1.2h-1.2zM139.3,431.1h1.2v1.2h-1.2zM134.8,429.8h1.2v1.2h-1.2zM144.4,435.1h1.2v1.2h-1.2zM147.5,441.1h1.2v1.2h-1.2zM139.5,432.9h1.2v1.2h-1.2zM128.4,423.3h1.2v1.2h-1.2zM140.4,430.3h1.2v1.2h-1.2zM141.7,434.9h1.2v1.2h-1.2zM140.1,432.7h1.2v1.2h-1.2zM132.6,428.0h1.2v1.2h-1.2zM135.9,432.3h1.2v1.2h-1.2zM133.6,428.1h1.2v1.2h-1.2zM127.3,420.9h1.2v1.2h-1.2zM137.1,428.4h1.2v1.2h-1.2zM131.0,421.5h1.2v1.2h-1.2zM138.7,429.9h1.2v1.2h-1.2zM139.6,434.3h1.2v1.2h-1.2zM139.4,427.5h1.2v1.2h-1.2zM142.8,434.0h1.2v1.2h-1.2zM142.4,437.5h1.2v1.2h-1.2z" fill="#bebeea"/>
<path d="M149.8,413.4h1.2v1.2h-1.2zM151.0,417.6h1.2v1.2h-1.2zM144.3,414.4h1.2v1.2h-1.2zM158.0,396.4h1.2v1.2h-1.2zM167.7,420.2h1.2v1.2h-1.2zM167.6,408.7h1.2v1.2h-1.2zM157.5,410.0h1.2v1.2h-1.2zM151.3,416.9h1.2v1.2h-1.2zM161.8,402.1h1.2v1.2h-1.2zM156.0,402.1h1.2v1.2h-1.2zM168.2,406.1h1.2v1.2h-1.2zM157.7,399.4h1.2v1.2h-1.2zM143.5,413.7h1.2v1.2h-1.2zM145.2,403.8h1.2v1.2h-1.2zM159.2,421.1h1.2v1.2h-1.2zM155.9,390.4h1.2v1.2h-1.2zM156.6,406.7h1.2v1.2h-1.2zM152.6,400.5h1.2v1.2h-1.2zM147.4,396.5h1.2v1.2h-1.2zM147.5,390.9h1.2v1.2h-1.2zM151.6,405.4h1.2v1.2h-1.2zM160.3,411.9h1.2v1.2h-1.2zM151.4,411.8h1.2v1.2h-1.2zM163.0,406.7h1.2v1.2h-1.2zM158.6,414.2h1.2v1.2h-1.2zM133.9,406.6h1.2v1.2h-1.2zM167.8,420.6h1.2v1.2h-1.2zM135.3,403.4h1.2v1.2h-1.2zM160.8,420.6h1.2v1.2h-1.2zM162.8,414.2h1.2v1.2h-1.2zM165.4,417.0h1.2v1.2h-1.2zM167.8,411.9h1.2v1.2h-1.2zM159.2,413.0h1.2v1.2h-1.2zM159.0,410.6h1.2v1.2h-1.2zM164.8,414.4h1.2v1.2h-1.2zM155.7,399.9h1.2v1.2h-1.2zM167.5,404.5h1.2v1.2h-1.2zM157.4,411.3h1.2v1.2h-1.2zM158.6,424.6h1.2v1.2h-1.2zM155.0,396.9h1.2v1.2h-1.2zM155.3,400.8h1.2v1.2h-1.2zM154.4,406.1h1.2v1.2h-1.2zM157.0,411.1h1.2v1.2h-1.2zM150.9,391.5h1.2v1.2h-1.2zM154.2,394.2h1.2v1.2h-1.2zM164.4,425.7h1.2v1.2h-1.2z" fill="#8c6ef0"/>
<path d="M149.9,422.3h1.2v1.2h-1.2zM145.9,427.0h1.2v1.2h-1.2zM148.5,424.2h1.2v1.2h-1.2zM137.6,412.7h1.2v1.2h-1.2zM136.6,430.2h1.2v1.2h-1.2zM132.5,426.3h1.2v1.2h-1.2zM155.3,429.5h1.2v1.2h-1.2zM146.8,431.3h1.2v1.2h-1.2zM130.1,417.0h1.2v1.2h-1.2zM132.1,406.1h1.2v1.2h-1.2zM137.2,434.1h1.2v1.2h-1.2zM140.9,418.9h1.2v1.2h-1.2zM134.4,411.8h1.2v1.2h-1.2zM129.8,419.0h1.2v1.2h-1.2zM131.9,419.1h1.2v1.2h-1.2zM145.2,436.8h1.2v1.2h-1.2zM144.3,425.5h1.2v1.2h-1.2zM143.3,439.4h1.2v1.2h-1.2zM135.4,414.4h1.2v1.2h-1.2zM147.5,429.2h1.2v1.2h-1.2zM138.4,436.5h1.2v1.2h-1.2zM148.0,415.9h1.2v1.2h-1.2zM142.2,428.9h1.2v1.2h-1.2zM143.7,423.3h1.2v1.2h-1.2zM135.6,423.7h1.2v1.2h-1.2zM127.7,420.4h1.2v1.2h-1.2zM131.6,424.8h1.2v1.2h-1.2zM131.7,412.9h1.2v1.2h-1.2zM141.1,429.1h1.2v1.2h-1.2zM131.4,413.0h1.2v1.2h-1.2zM136.3,408.8h1.2v1.2h-1.2zM141.3,424.5h1.2v1.2h-1.2zM131.7,406.4h1.2v1.2h-1.2zM141.8,435.5h1.2v1.2h-1.2zM152.7,421.6h1.2v1.2h-1.2zM141.2,422.7h1.2v1.2h-1.2zM148.6,418.1h1.2v1.2h-1.2zM144.5,433.4h1.2v1.2h-1.2zM151.1,420.5h1.2v1.2h-1.2zM133.7,421.5h1.2v1.2h-1.2zM128.0,422.1h1.2v1.2h-1.2zM142.3,427.4h1.2v1.2h-1.2zM158.3,426.8h1.2v1.2h-1.2zM154.3,432.2h1.2v1.2h-1.2zM152.3,429.3h1.2v1.2h-1.2z" fill="#b4a0eb"/>
<path d="M151.0,401.9h1.2v1.2h-1.2zM154.6,400.0h1.2v1.2h-1.2zM159.9,401.8h1.2v1.2h-1.2zM155.0,405.6h1.2v1.2h-1.2zM159.6,394.8h1.2v1.2h-1.2zM159.4,400.2h1.2v1.2h-1.2zM151.4,403.8h1.2v1.2h-1.2zM154.6,412.1h1.2v1.2h-1.2zM150.7,414.8h1.2v1.2h-1.2zM159.9,394.8h1.2v1.2h-1.2zM149.4,417.1h1.2v1.2h-1.2zM139.1,397.7h1.2v1.2h-1.2zM140.1,405.2h1.2v1.2h-1.2zM155.7,407.6h1.2v1.2h-1.2zM152.3,414.9h1.2v1.2h-1.2zM145.6,406.9h1.2v1.2h-1.2zM159.7,411.8h1.2v1.2h-1.2zM166.3,421.3h1.2v1.2h-1.2zM148.9,409.7h1.2v1.2h-1.2zM145.9,399.2h1.2v1.2h-1.2zM161.5,418.3h1.2v1.2h-1.2zM139.2,399.9h1.2v1.2h-1.2zM169.6,408.2h1.2v1.2h-1.2zM164.1,394.1h1.2v1.2h-1.2zM160.1,420.2h1.2v1.2h-1.2zM144.6,390.2h1.2v1.2h-1.2zM150.3,410.5h1.2v1.2h-1.2zM146.2,407.8h1.2v1.2h-1.2zM154.5,396.7h1.2v1.2h-1.2zM150.1,401.4h1.2v1.2h-1.2zM134.6,402.7h1.2v1.2h-1.2zM139.9,396.1h1.2v1.2h-1.2zM152.9,417.5h1.2v1.2h-1.2zM163.3,404.6h1.2v1.2h-1.2zM143.1,399.7h1.2v1.2h-1.2zM157.7,402.6h1.2v1.2h-1.2zM137.0,396.5h1.2v1.2h-1.2zM165.1,405.2h1.2v1.2h-1.2zM171.2,403.4h1.2v1.2h-1.2zM154.1,411.8h1.2v1.2h-1.2zM164.1,425.1h1.2v1.2h-1.2zM143.0,401.3h1.2v1.2h-1.2zM165.5,395.4h1.2v1.2h-1.2zM166.0,410.1h1.2v1.2h-1.2zM147.1,403.3h1.2v1.2h-1.2zM155.2,390.7h1.2v1.2h-1.2zM142.2,397.9h1.2v1.2h-1.2zM147.9,404.2h1.2v1.2h-1.2zM158.0,425.1h1.2v1.2h-1.2zM153.4,410.8h1.2v1.2h-1.2zM130.7,401.7h1.2v1.2h-1.2zM136.7,406.6h1.2v1.2h-1.2zM154.1,387.7h1.2v1.2h-1.2zM145.2,403.0h1.2v1.2h-1.2zM158.6,394.3h1.2v1.2h-1.2zM158.3,399.5h1.2v1.2h-1.2zM166.2,416.9h1.2v1.2h-1.2zM153.5,397.8h1.2v1.2h-1.2zM152.0,391.1h1.2v1.2h-1.2zM164.6,415.2h1.2v1.2h-1.2zM143.1,404.3h1.2v1.2h-1.2zM159.3,418.2h1.2v1.2h-1.2zM143.6,394.5h1.2v1.2h-1.2zM141.3,401.4h1.2v1.2h-1.2zM156.5,421.5h1.2v1.2h-1.2zM160.6,394.0h1.2v1.2h-1.2zM163.0,399.2h1.2v1.2h-1.2zM162.8,396.7h1.2v1.2h-1.2zM154.3,410.8h1.2v1.2h-1.2zM156.5,412.6h1.2v1.2h-1.2zM138.6,398.3h1.2v1.2h-1.2zM162.7,419.3h1.2v1.2h-1.2zM143.9,411.1h1.2v1.2h-1.2zM164.7,413.3h1.2v1.2h-1.2zM163.1,418.8h1.2v1.2h-1.2zM157.3,413.1h1.2v1.2h-1.2zM144.0,401.8h1.2v1.2h-1.2zM149.0,389.0h1.2v1.2h-1.2zM156.3,404.9h1.2v1.2h-1.2zM162.4,416.8h1.2v1.2h-1.2zM139.9,394.1h1.2v1.2h-1.2zM144.7,412.5h1.2v1.2h-1.2zM166.4,417.5h1.2v1.2h-1.2zM158.4,405.5h1.2v1.2h-1.2zM158.8,401.4h1.2v1.2h-1.2zM147.4,409.3h1.2v1.2h-1.2zM156.1,410.3h1.2v1.2h-1.2zM157.4,416.3h1.2v1.2h-1.2zM161.3,405.3h1.2v1.2h-1.2zM153.0,414.3h1.2v1.2h-1.2zM162.0,409.8h1.2v1.2h-1.2zM138.8,399.9h1.2v1.2h-1.2zM154.4,397.5h1.2v1.2h-1.2zM167.5,421.3h1.2v1.2h-1.2zM142.5,392.7h1.2v1.2h-1.2zM169.8,407.9h1.2v1.2h-1.2zM148.6,403.1h1.2v1.2h-1.2zM159.7,402.6h1.2v1.2h-1.2zM164.0,419.9h1.2v1.2h-1.2zM164.3,404.6h1.2v1.2h-1.2zM140.8,408.5h1.2v1.2h-1.2zM162.0,402.6h1.2v1.2h-1.2zM155.1,408.9h1.2v1.2h-1.2zM154.0,403.0h1.2v1.2h-1.2zM144.4,404.1h1.2v1.2h-1.2zM164.3,421.6h1.2v1.2h-1.2zM159.2,423.6h1.2v1.2h-1.2zM166.1,408.1h1.2v1.2h-1.2zM160.1,417.4h1.2v1.2h-1.2zM141.2,407.6h1.2v1.2h-1.2zM156.8,391.9h1.2v1.2h-1.2zM155.3,413.6h1.2v1.2h-1.2zM157.6,406.5h1.2v1.2h-1.2zM163.4,400.2h1.2v1.2h-1.2zM151.2,413.7h1.2v1.2h-1.2zM157.1,395.6h1.2v1.2h-1.2zM144.2,393.7h1.2v1.2h-1.2zM165.4,412.6h1.2v1.2h-1.2zM136.4,401.5h1.2v1.2h-1.2zM162.8,411.2h1.2v1.2h-1.2zM163.2,415.4h1.2v1.2h-1.2zM155.0,405.0h1.2v1.2h-1.2zM154.7,393.8h1.2v1.2h-1.2zM149.7,400.5h1.2v1.2h-1.2zM148.5,405.1h1.2v1.2h-1.2zM162.5,391.3h1.2v1.2h-1.2zM156.1,421.8h1.2v1.2h-1.2zM165.0,410.5h1.2v1.2h-1.2zM155.5,395.1h1.2v1.2h-1.2zM151.8,419.9h1.2v1.2h-1.2zM161.3,416.1h1.2v1.2h-1.2zM141.0,402.6h1.2v1.2h-1.2zM158.8,415.7h1.2v1.2h-1.2zM167.6,401.4h1.2v1.2h-1.2zM159.8,421.2h1.2v1.2h-1.2zM156.6,410.7h1.2v1.2h-1.2zM145.0,400.5h1.2v1.2h-1.2zM151.8,404.5h1.2v1.2h-1.2zM152.6,393.8h1.2v1.2h-1.2zM159.6,393.4h1.2v1.2h-1.2zM160.9,394.9h1.2v1.2h-1.2zM164.5,399.6h1.2v1.2h-1.2zM165.4,406.1h1.2v1.2h-1.2zM141.8,390.9h1.2v1.2h-1.2zM157.6,407.9h1.2v1.2h-1.2zM144.4,413.3h1.2v1.2h-1.2zM155.5,403.7h1.2v1.2h-1.2zM154.1,390.0h1.2v1.2h-1.2zM140.5,393.5h1.2v1.2h-1.2zM154.0,390.9h1.2v1.2h-1.2zM159.1,399.5h1.2v1.2h-1.2zM165.6,406.9h1.2v1.2h-1.2zM168.4,404.0h1.2v1.2h-1.2zM157.9,392.9h1.2v1.2h-1.2zM161.3,398.7h1.2v1.2h-1.2zM160.7,393.2h1.2v1.2h-1.2zM154.9,407.7h1.2v1.2h-1.2zM171.7,402.3h1.2v1.2h-1.2zM150.1,411.3h1.2v1.2h-1.2zM159.7,410.9h1.2v1.2h-1.2zM158.3,422.6h1.2v1.2h-1.2zM143.4,402.1h1.2v1.2h-1.2zM153.3,420.7h1.2v1.2h-1.2zM163.6,398.9h1.2v1.2h-1.2zM164.7,406.0h1.2v1.2h-1.2zM150.5,392.5h1.2v1.2h-1.2zM161.1,397.9h1.2v1.2h-1.2zM161.7,400.6h1.2v1.2h-1.2zM157.3,404.9h1.2v1.2h-1.2zM159.3,391.8h1.2v1.2h-1.2zM138.2,399.5h1.2v1.2h-1.2zM157.2,395.4h1.2v1.2h-1.2zM149.4,414.9h1.2v1.2h-1.2zM166.0,423.4h1.2v1.2h-1.2zM157.0,417.4h1.2v1.2h-1.2z" fill="#826ef0"/>
<path d="M133.3,428.0h1.2v1.2h-1.2zM141.7,421.2h1.2v1.2h-1.2zM130.4,423.3h1.2v1.2h-1.2zM142.9,435.9h1.2v1.2h-1.2zM136.4,429.2h1.2v1.2h-1.2zM146.8,430.4h1.2v1.2h-1.2zM132.0,419.1h1.2v1.2h-1.2zM143.1,432.0h1.2v1.2h-1.2zM139.1,436.8h1.2v1.2h-1.2zM131.0,420.4h1.2v1.2h-1.2zM139.0,424.8h1.2v1.2h-1.2zM130.9,420.2h1.2v1.2h-1.2zM146.2,430.5h1.2v1.2h-1.2zM145.0,434.7h1.2v1.2h-1.2zM140.0,433.9h1.2v1.2h-1.2zM145.1,433.9h1.2v1.2h-1.2zM135.7,422.4h1.2v1.2h-1.2zM145.9,430.4h1.2v1.2h-1.2zM137.7,425.3h1.2v1.2h-1.2zM140.7,428.1h1.2v1.2h-1.2zM134.5,436.3h1.2v1.2h-1.2zM141.3,424.2h1.2v1.2h-1.2zM141.5,423.6h1.2v1.2h-1.2zM138.6,420.2h1.2v1.2h-1.2zM144.0,434.1h1.2v1.2h-1.2zM127.6,417.7h1.2v1.2h-1.2zM141.3,426.6h1.2v1.2h-1.2zM138.5,418.9h1.2v1.2h-1.2zM139.7,423.4h1.2v1.2h-1.2zM146.9,437.9h1.2v1.2h-1.2zM133.1,425.3h1.2v1.2h-1.2zM155.2,431.2h1.2v1.2h-1.2zM139.7,427.1h1.2v1.2h-1.2zM137.2,428.2h1.2v1.2h-1.2zM129.4,418.4h1.2v1.2h-1.2zM138.9,419.4h1.2v1.2h-1.2zM134.3,422.4h1.2v1.2h-1.2zM137.1,426.0h1.2v1.2h-1.2zM130.3,420.3h1.2v1.2h-1.2zM134.9,417.5h1.2v1.2h-1.2zM142.4,429.8h1.2v1.2h-1.2zM142.0,431.8h1.2v1.2h-1.2zM140.5,427.6h1.2v1.2h-1.2zM146.7,429.2h1.2v1.2h-1.2zM146.6,429.7h1.2v1.2h-1.2zM131.7,419.9h1.2v1.2h-1.2zM131.4,424.5h1.2v1.2h-1.2zM128.7,422.0h1.2v1.2h-1.2zM150.7,435.8h1.2v1.2h-1.2zM137.0,424.4h1.2v1.2h-1.2zM131.6,420.9h1.2v1.2h-1.2zM130.3,417.9h1.2v1.2h-1.2zM136.5,428.2h1.2v1.2h-1.2zM142.7,424.1h1.2v1.2h-1.2zM143.3,433.2h1.2v1.2h-1.2zM145.6,434.4h1.2v1.2h-1.2zM133.1,427.6h1.2v1.2h-1.2zM148.0,433.2h1.2v1.2h-1.2zM126.0,422.0h1.2v1.2h-1.2zM147.3,430.4h1.2v1.2h-1.2zM149.9,436.4h1.2v1.2h-1.2zM137.8,430.7h1.2v1.2h-1.2zM140.4,427.1h1.2v1.2h-1.2zM132.1,431.9h1.2v1.2h-1.2zM143.5,426.2h1.2v1.2h-1.2zM141.4,426.5h1.2v1.2h-1.2zM132.8,425.4h1.2v1.2h-1.2zM140.5,423.3h1.2v1.2h-1.2zM132.2,428.0h1.2v1.2h-1.2zM135.9,428.6h1.2v1.2h-1.2zM135.8,419.5h1.2v1.2h-1.2zM150.1,427.2h1.2v1.2h-1.2zM145.0,423.9h1.2v1.2h-1.2zM142.7,432.0h1.2v1.2h-1.2zM142.8,426.3h1.2v1.2h-1.2zM143.9,433.6h1.2v1.2h-1.2zM136.7,424.9h1.2v1.2h-1.2zM148.6,436.8h1.2v1.2h-1.2zM126.8,417.1h1.2v1.2h-1.2zM152.4,434.7h1.2v1.2h-1.2zM129.8,428.5h1.2v1.2h-1.2zM138.2,427.3h1.2v1.2h-1.2zM148.8,430.1h1.2v1.2h-1.2zM146.1,428.0h1.2v1.2h-1.2zM128.7,428.7h1.2v1.2h-1.2zM139.8,429.0h1.2v1.2h-1.2zM133.2,429.2h1.2v1.2h-1.2zM134.8,423.3h1.2v1.2h-1.2zM140.4,427.4h1.2v1.2h-1.2zM147.4,433.5h1.2v1.2h-1.2z" fill="#beb4ea"/>
<path d="M141.0,399.1h1.2v1.2h-1.2zM154.6,406.3h1.2v1.2h-1.2zM155.4,394.2h1.2v1.2h-1.2zM170.6,412.7h1.2v1.2h-1.2zM156.8,412.5h1.2v1.2h-1.2zM157.5,412.9h1.2v1.2h-1.2zM160.7,392.6h1.2v1.2h-1.2zM172.7,393.1h1.2v1.2h-1.2zM162.1,405.9h1.2v1.2h-1.2zM167.0,386.8h1.2v1.2h-1.2zM164.8,407.8h1.2v1.2h-1.2zM149.0,402.8h1.2v1.2h-1.2zM167.5,391.5h1.2v1.2h-1.2zM152.2,394.6h1.2v1.2h-1.2zM165.1,391.0h1.2v1.2h-1.2zM159.2,387.7h1.2v1.2h-1.2zM160.0,408.1h1.2v1.2h-1.2zM153.6,400.8h1.2v1.2h-1.2zM151.8,398.7h1.2v1.2h-1.2zM159.0,410.1h1.2v1.2h-1.2zM168.2,410.2h1.2v1.2h-1.2zM169.6,391.4h1.2v1.2h-1.2zM160.7,413.0h1.2v1.2h-1.2zM163.8,392.9h1.2v1.2h-1.2zM155.9,401.1h1.2v1.2h-1.2zM170.0,411.0h1.2v1.2h-1.2zM170.0,407.3h1.2v1.2h-1.2z" fill="#785af1"/>
<path d="M155.2,418.1h1.2v1.2h-1.2zM143.2,427.2h1.2v1.2h-1.2zM144.8,419.2h1.2v1.2h-1.2zM144.6,412.9h1.2v1.2h-1.2zM136.5,424.4h1.2v1.2h-1.2zM139.0,397.1h1.2v1.2h-1.2zM134.4,424.0h1.2v1.2h-1.2zM144.1,404.2h1.2v1.2h-1.2zM131.0,413.7h1.2v1.2h-1.2zM151.8,425.2h1.2v1.2h-1.2zM140.2,428.7h1.2v1.2h-1.2zM152.1,428.9h1.2v1.2h-1.2zM131.0,411.3h1.2v1.2h-1.2zM161.5,412.1h1.2v1.2h-1.2zM154.4,418.9h1.2v1.2h-1.2zM160.2,413.6h1.2v1.2h-1.2zM156.4,422.6h1.2v1.2h-1.2zM135.1,414.6h1.2v1.2h-1.2zM145.5,397.9h1.2v1.2h-1.2zM149.6,422.3h1.2v1.2h-1.2zM143.5,429.9h1.2v1.2h-1.2zM152.8,413.9h1.2v1.2h-1.2zM148.1,409.3h1.2v1.2h-1.2zM135.6,409.2h1.2v1.2h-1.2zM142.6,401.1h1.2v1.2h-1.2z" fill="#a08cee"/>
<path d="M140.2,428.7h1.2v1.2h-1.2zM142.5,437.1h1.2v1.2h-1.2zM133.8,423.0h1.2v1.2h-1.2zM136.4,434.2h1.2v1.2h-1.2zM138.4,434.9h1.2v1.2h-1.2zM144.6,420.8h1.2v1.2h-1.2zM136.2,423.8h1.2v1.2h-1.2zM135.6,436.1h1.2v1.2h-1.2zM145.5,436.0h1.2v1.2h-1.2zM128.0,424.7h1.2v1.2h-1.2z" fill="#b4aaea"/>
<path d="M134.7,432.6h1.2v1.2h-1.2zM139.6,419.7h1.2v1.2h-1.2zM131.6,408.1h1.2v1.2h-1.2zM137.9,417.5h1.2v1.2h-1.2zM140.2,426.5h1.2v1.2h-1.2zM138.4,409.8h1.2v1.2h-1.2zM142.8,411.8h1.2v1.2h-1.2zM131.1,426.0h1.2v1.2h-1.2zM138.9,414.8h1.2v1.2h-1.2zM134.6,424.1h1.2v1.2h-1.2zM141.5,431.1h1.2v1.2h-1.2z" fill="#aaa0eb"/>
<path d="M144.2,421.6h1.2v1.2h-1.2zM149.7,436.5h1.2v1.2h-1.2zM163.0,424.9h1.2v1.2h-1.2zM140.8,427.4h1.2v1.2h-1.2zM131.9,430.7h1.2v1.2h-1.2zM144.6,420.0h1.2v1.2h-1.2zM146.9,411.4h1.2v1.2h-1.2zM150.3,428.0h1.2v1.2h-1.2zM151.3,424.9h1.2v1.2h-1.2z" fill="#aa96ed"/>
<path d="M148.8,423.5h1.2v1.2h-1.2zM150.6,401.2h1.2v1.2h-1.2zM148.6,403.4h1.2v1.2h-1.2zM136.8,410.1h1.2v1.2h-1.2zM161.8,428.5h1.2v1.2h-1.2z" fill="#8c82ef"/>
<path d="M148.7,397.2h1.2v1.2h-1.2zM164.7,416.7h1.2v1.2h-1.2zM136.4,402.9h1.2v1.2h-1.2z" fill="#8264f0"/>
<path d="M131.0,422.5h1.2v1.2h-1.2z" fill="#b4b4ea"/>
<path d="M166.4,428.8h1.2v1.2h-1.2zM160.5,435.6h1.2v1.2h-1.2zM164.9,424.8h1.2v1.2h-1.2zM167.5,428.2h1.2v1.2h-1.2zM165.3,437.9h1.2v1.2h-1.2zM164.8,444.0h1.2v1.2h-1.2zM167.4,438.7h1.2v1.2h-1.2zM159.6,434.2h1.2v1.2h-1.2zM159.3,438.7h1.2v1.2h-1.2zM172.5,432.6h1.2v1.2h-1.2zM165.0,440.2h1.2v1.2h-1.2zM165.8,443.7h1.2v1.2h-1.2zM165.9,427.1h1.2v1.2h-1.2zM164.3,442.5h1.2v1.2h-1.2zM166.6,437.1h1.2v1.2h-1.2z" fill="#9682ee"/>
<path d="M165.3,435.5h1.2v1.2h-1.2zM162.1,434.0h1.2v1.2h-1.2zM168.8,444.1h1.2v1.2h-1.2zM163.8,445.6h1.2v1.2h-1.2zM154.9,435.3h1.2v1.2h-1.2zM172.3,439.5h1.2v1.2h-1.2zM169.6,438.5h1.2v1.2h-1.2zM170.1,438.3h1.2v1.2h-1.2zM165.4,427.2h1.2v1.2h-1.2zM168.8,431.4h1.2v1.2h-1.2zM163.4,433.4h1.2v1.2h-1.2zM164.5,440.9h1.2v1.2h-1.2z" fill="#a096ed"/>
<path d="M171.2,437.2h1.2v1.2h-1.2zM163.8,424.2h1.2v1.2h-1.2zM163.4,436.8h1.2v1.2h-1.2zM167.8,437.1h1.2v1.2h-1.2zM160.2,427.3h1.2v1.2h-1.2zM165.0,432.9h1.2v1.2h-1.2zM162.5,433.2h1.2v1.2h-1.2zM164.3,433.8h1.2v1.2h-1.2z" fill="#8c78ef"/>
<path d="M163.1,435.7h1.2v1.2h-1.2zM162.0,440.8h1.2v1.2h-1.2zM163.3,433.9h1.2v1.2h-1.2zM161.9,438.6h1.2v1.2h-1.2zM161.7,436.5h1.2v1.2h-1.2zM163.4,439.6h1.2v1.2h-1.2zM164.5,441.2h1.2v1.2h-1.2zM159.7,433.6h1.2v1.2h-1.2zM158.6,438.6h1.2v1.2h-1.2zM162.6,443.3h1.2v1.2h-1.2zM164.8,441.3h1.2v1.2h-1.2z" fill="#b4aaeb"/>
<path d="M162.2,426.6h1.2v1.2h-1.2zM168.1,434.3h1.2v1.2h-1.2zM170.4,433.5h1.2v1.2h-1.2z" fill="#8c6ef0"/>
<path d="M169.4,427.1h1.2v1.2h-1.2zM170.5,436.1h1.2v1.2h-1.2z" fill="#826ef0"/>
<path d="M171.7,432.2h1.2v1.2h-1.2zM167.1,441.0h1.2v1.2h-1.2zM154.0,430.5h1.2v1.2h-1.2zM159.6,429.3h1.2v1.2h-1.2zM159.2,433.9h1.2v1.2h-1.2zM171.2,430.2h1.2v1.2h-1.2zM163.1,441.6h1.2v1.2h-1.2zM162.5,435.5h1.2v1.2h-1.2zM169.7,438.8h1.2v1.2h-1.2zM171.6,440.0h1.2v1.2h-1.2zM169.5,439.5h1.2v1.2h-1.2zM159.7,432.5h1.2v1.2h-1.2zM161.7,439.2h1.2v1.2h-1.2zM167.2,433.5h1.2v1.2h-1.2zM165.0,442.2h1.2v1.2h-1.2zM163.0,434.5h1.2v1.2h-1.2z" fill="#ffffff"/>
<path d="M160.7,443.6h1.2v1.2h-1.2z" fill="#bebeea"/>
<path d="M159.9,440.7h1.2v1.2h-1.2zM165.3,422.5h1.2v1.2h-1.2zM165.2,429.0h1.2v1.2h-1.2zM164.9,438.7h1.2v1.2h-1.2zM165.4,446.1h1.2v1.2h-1.2zM155.7,429.2h1.2v1.2h-1.2z" fill="#968cee"/>
<path d="M168.2,437.8h1.2v1.2h-1.2zM165.1,443.2h1.2v1.2h-1.2zM171.2,432.5h1.2v1.2h-1.2zM164.9,436.8h1.2v1.2h-1.2zM163.5,433.2h1.2v1.2h-1.2zM165.3,446.1h1.2v1.2h-1.2zM169.6,437.7h1.2v1.2h-1.2zM169.5,444.8h1.2v1.2h-1.2zM164.4,432.4h1.2v1.2h-1.2zM160.9,433.0h1.2v1.2h-1.2z" fill="#aaa0ec"/>
<path d="M161.8,444.0h1.2v1.2h-1.2zM162.6,444.6h1.2v1.2h-1.2zM164.4,445.4h1.2v1.2h-1.2zM164.8,444.5h1.2v1.2h-1.2zM165.7,445.9h1.2v1.2h-1.2zM165.4,445.1h1.2v1.2h-1.2zM162.7,440.0h1.2v1.2h-1.2zM166.4,444.7h1.2v1.2h-1.2z" fill="#beb4ea"/>
<path d="M163.1,441.8h1.2v1.2h-1.2zM158.4,433.7h1.2v1.2h-1.2zM162.3,440.3h1.2v1.2h-1.2zM164.8,436.1h1.2v1.2h-1.2zM160.5,431.3h1.2v1.2h-1.2z" fill="#aa96ec"/>
<path d="M159.9,428.1h1.2v1.2h-1.2zM157.6,434.2h1.2v1.2h-1.2zM164.8,436.3h1.2v1.2h-1.2z" fill="#9682ef"/>
<path d="M164.0,429.2h1.2v1.2h-1.2zM163.6,431.4h1.2v1.2h-1.2zM162.7,446.5h1.2v1.2h-1.2z" fill="#b4a0eb"/>
<path d="M158.2,429.6h1.2v1.2h-1.2zM154.7,429.7h1.2v1.2h-1.2zM167.6,436.6h1.2v1.2h-1.2zM159.8,431.8h1.2v1.2h-1.2zM163.8,427.9h1.2v1.2h-1.2z" fill="#a08ced"/>
<path d="M170.0,434.8h1.2v1.2h-1.2z" fill="#a08cee"/>
<path d="M158.3,435.7h1.2v1.2h-1.2z" fill="#aaa0eb"/>
<rect x="91" y="406" width="1" height="1" fill="#6a52ee"/>
<rect x="7" y="430.2" width="10.5" height="34.80000000000001" fill="#fff"/>
<rect x="14" y="456" width="31.200000000000003" height="9" fill="#fff"/>
<line x1="15" y1="457.6" x2="15" y2="436.2" stroke="#555" stroke-width="1.3"/>
<line x1="14.4" y1="457" x2="39.2" y2="457" stroke="#444" stroke-width="1.3"/>
<path d="M11.3,437.8 L18.7,437.8 L15.0,431.2Z" fill="#333"/>
<path d="M37.6,453.5 L37.6,460.5 L44.2,457.0Z" fill="#333"/>
<text transform="translate(13.2,448.1) rotate(-90)" font-size="5.9" text-anchor="middle" fill="#222">UMAP 1</text>
<text x="14.8" y="463.0" font-size="5.9" fill="#222">UMAP 2</text>
<rect x="108.25" y="430.25" width="10.5" height="34.0" fill="#fff"/>
<rect x="115.25" y="455.25" width="31.25" height="9" fill="#fff"/>
<line x1="116.25" y1="456.85" x2="116.25" y2="436.25" stroke="#555" stroke-width="1.3"/>
<line x1="115.65" y1="456.25" x2="140.5" y2="456.25" stroke="#444" stroke-width="1.3"/>
<path d="M112.5,437.9 L120.0,437.9 L116.2,431.2Z" fill="#333"/>
<path d="M138.9,452.8 L138.9,459.8 L145.5,456.2Z" fill="#333"/>
<text transform="translate(114.45,447.75) rotate(-90)" font-size="5.9" text-anchor="middle" fill="#222">UMAP 1</text>
<text x="116.05" y="462.25" font-size="5.9" fill="#222">UMAP 2</text>
<defs><linearGradient id="cbg" x1="0" x2="1"><stop offset="0" stop-color="#e8e2f6"/><stop offset="1" stop-color="#3a25f0"/></linearGradient></defs>
<rect x="176.25" y="466.25" width="27.5" height="5.5" fill="url(#cbg)"/>
<text x="174.5" y="471" font-size="5.8" text-anchor="end" fill="#222">Expression</text>
<text x="176.25" y="477.6" font-size="5.8" fill="#222">Low</text>
<text x="203.75" y="477.6" font-size="5.8" text-anchor="end" fill="#222">High</text>
<line x1="230.8" y1="374" x2="230.8" y2="455.5" stroke="#999" stroke-width="0.6"/>
<line x1="230.8" y1="455.5" x2="290" y2="455.5" stroke="#999" stroke-width="0.6"/>
<text x="228.3" y="377.1" font-size="5" text-anchor="end" fill="#333">5</text>
<line x1="229.4" y1="375.3" x2="230.8" y2="375.3" stroke="#999" stroke-width="0.5"/>
<text x="228.3" y="392.42" font-size="5" text-anchor="end" fill="#333">4</text>
<line x1="229.4" y1="390.62" x2="230.8" y2="390.62" stroke="#999" stroke-width="0.5"/>
<text x="228.3" y="407.74" font-size="5" text-anchor="end" fill="#333">3</text>
<line x1="229.4" y1="405.94" x2="230.8" y2="405.94" stroke="#999" stroke-width="0.5"/>
<text x="228.3" y="423.06" font-size="5" text-anchor="end" fill="#333">2</text>
<line x1="229.4" y1="421.26" x2="230.8" y2="421.26" stroke="#999" stroke-width="0.5"/>
<text x="228.3" y="438.38000000000005" font-size="5" text-anchor="end" fill="#333">1</text>
<line x1="229.4" y1="436.58000000000004" x2="230.8" y2="436.58000000000004" stroke="#999" stroke-width="0.5"/>
<text x="228.3" y="453.7" font-size="5" text-anchor="end" fill="#333">0</text>
<line x1="229.4" y1="451.9" x2="230.8" y2="451.9" stroke="#999" stroke-width="0.5"/>
<text transform="translate(221.9,412.8) rotate(-90)" font-size="8.2" text-anchor="middle" fill="#222">Expression Level</text>
<path d="M249.9,386.5 C250.6,387.5 252.2,390.6 253.4,392.5 C254.7,394.4 256.1,396.1 257.2,398.1 C258.3,400.1 260.0,402.5 260.2,404.7 C260.4,406.9 259.4,408.9 258.6,411.2 C257.8,413.6 256.3,416.2 255.3,418.8 C254.3,421.2 253.4,423.8 252.7,426.2 C252.0,428.8 251.6,430.6 251.2,433.8 C250.8,436.9 250.5,442.3 250.5,445.0 C250.5,447.7 251.0,448.8 251.1,450.0 C251.2,451.2 251.1,451.9 250.9,452.3 C250.7,452.7 250.1,452.6 249.9,452.6 C249.7,452.7 249.7,452.7 249.5,452.6 C249.3,452.6 248.7,452.7 248.5,452.3 C248.3,451.9 248.2,451.2 248.3,450.0 C248.4,448.8 248.9,447.7 248.9,445.0 C248.9,442.3 248.6,436.9 248.2,433.8 C247.8,430.6 247.4,428.8 246.7,426.2 C246.0,423.8 245.1,421.2 244.1,418.8 C243.1,416.2 241.6,413.6 240.8,411.2 C240.0,408.9 239.0,406.9 239.2,404.7 C239.4,402.5 241.1,400.1 242.2,398.1 C243.3,396.1 244.7,394.4 245.9,392.5 C247.2,390.6 248.8,387.5 249.5,386.5 C250.2,385.5 249.2,385.5 249.9,386.5Z" fill="#a09ea2"/>
<path d="M271.7,378.0 C272.1,379.8 273.2,386.0 274.1,388.8 C275.0,391.5 275.7,392.5 276.8,394.4 C277.9,396.3 280.1,398.3 281.0,400.0 C281.9,401.7 282.4,402.8 282.2,404.7 C282.0,406.6 281.0,408.9 280.0,411.2 C279.0,413.6 277.3,416.2 276.3,418.8 C275.3,421.2 274.8,423.4 274.2,426.2 C273.6,429.1 273.2,431.9 272.9,435.6 C272.6,439.4 272.4,446.2 272.4,448.8 C272.5,451.3 273.1,450.4 273.2,451.0 C273.3,451.6 273.4,452.2 273.2,452.5 C273.0,452.8 272.1,452.8 271.8,452.8 C271.5,452.9 271.7,452.9 271.4,452.8 C271.1,452.8 270.2,452.8 270.0,452.5 C269.8,452.2 269.9,451.6 270.0,451.0 C270.1,450.4 270.8,451.3 270.8,448.8 C270.9,446.2 270.6,439.4 270.3,435.6 C270.0,431.9 269.6,429.1 269.0,426.2 C268.4,423.4 267.9,421.2 266.9,418.8 C265.9,416.2 264.2,413.6 263.2,411.2 C262.2,408.9 261.2,406.6 261.0,404.7 C260.8,402.8 261.3,401.7 262.2,400.0 C263.1,398.3 265.3,396.3 266.4,394.4 C267.6,392.5 268.2,391.5 269.1,388.8 C270.0,386.0 271.1,379.8 271.5,378.0 C271.9,376.2 271.3,376.2 271.7,378.0Z" fill="#0660d2"/>
<text x="262.5" y="365.8" font-size="9.3" text-anchor="middle" font-style="italic" fill="#222">Satb2</text>
<text x="258" y="464.6" font-size="8.2" text-anchor="middle" fill="#222">Upper layer neurons</text>
<text x="291.7" y="338.3" font-size="17" font-weight="bold">h</text>
<line x1="328.5" y1="352" x2="328.5" y2="460.3" stroke="#777" stroke-width="0.8"/>
<line x1="328.5" y1="460.3" x2="430.2" y2="460.3" stroke="#777" stroke-width="0.8"/>
<line x1="326.5" y1="355.20000000000005" x2="328.5" y2="355.20000000000005" stroke="#777" stroke-width="0.7"/>
<text x="325.0" y="358.20000000000005" font-size="8.5" text-anchor="end" fill="#222">10</text>
<line x1="326.5" y1="379.0" x2="328.5" y2="379.0" stroke="#777" stroke-width="0.7"/>
<text x="325.0" y="382.0" font-size="8.5" text-anchor="end" fill="#222">5</text>
<line x1="326.5" y1="402.8" x2="328.5" y2="402.8" stroke="#777" stroke-width="0.7"/>
<text x="325.0" y="405.8" font-size="8.5" text-anchor="end" fill="#222">0</text>
<line x1="326.5" y1="426.6" x2="328.5" y2="426.6" stroke="#777" stroke-width="0.7"/>
<text x="325.0" y="429.6" font-size="8.5" text-anchor="end" fill="#222">−5</text>
<line x1="326.5" y1="450.4" x2="328.5" y2="450.4" stroke="#777" stroke-width="0.7"/>
<text x="325.0" y="453.4" font-size="8.5" text-anchor="end" fill="#222">−10</text>
<line x1="354.05" y1="460.3" x2="354.05" y2="462.3" stroke="#777" stroke-width="0.7"/>
<text x="354.65000000000003" y="469.8" font-size="8.5" text-anchor="middle" fill="#222">−10</text>
<line x1="390.5" y1="460.3" x2="390.5" y2="462.3" stroke="#777" stroke-width="0.7"/>
<text x="390.5" y="469.8" font-size="8.5" text-anchor="middle" fill="#222">0</text>
<line x1="426.95" y1="460.3" x2="426.95" y2="462.3" stroke="#777" stroke-width="0.7"/>
<text x="426.95" y="469.8" font-size="8.5" text-anchor="middle" fill="#222">10</text>
<text x="381.95000000000005" y="477.8" font-size="8.2" text-anchor="middle" fill="#222">UMAP_1</text>
<text transform="translate(312.2,406) rotate(-90)" font-size="8.3" text-anchor="middle" fill="#222">UMAP_2</text>
<text x="334.0" y="360.6" font-size="8.2" font-style="italic" fill="#222">Flrt3</text>
<text x="335" y="345.8" font-size="12.7" fill="#111"><tspan font-style="italic">Cep83</tspan> tKO - Sulcus</text>
<path d="M387.7,425.7h1.5v1.5h-1.5zM372.2,380.3h1.5v1.5h-1.5zM366.7,386.1h1.5v1.5h-1.5zM416.0,414.8h1.5v1.5h-1.5zM380.1,414.3h1.5v1.5h-1.5zM383.0,366.0h1.5v1.5h-1.5zM417.1,400.9h1.5v1.5h-1.5zM415.6,406.2h1.5v1.5h-1.5zM386.6,421.9h1.5v1.5h-1.5zM386.0,372.3h1.5v1.5h-1.5zM369.9,385.8h1.5v1.5h-1.5zM367.5,391.5h1.5v1.5h-1.5zM400.7,402.0h1.5v1.5h-1.5zM377.0,382.7h1.5v1.5h-1.5zM375.1,380.6h1.5v1.5h-1.5zM390.6,412.2h1.5v1.5h-1.5zM394.5,396.9h1.5v1.5h-1.5zM408.7,421.6h1.5v1.5h-1.5zM416.2,402.0h1.5v1.5h-1.5zM401.6,402.2h1.5v1.5h-1.5zM367.9,419.6h1.5v1.5h-1.5zM386.1,385.9h1.5v1.5h-1.5zM371.2,430.4h1.5v1.5h-1.5zM374.6,372.7h1.5v1.5h-1.5zM365.3,433.3h1.5v1.5h-1.5zM373.7,378.5h1.5v1.5h-1.5zM412.3,406.7h1.5v1.5h-1.5zM414.9,399.2h1.5v1.5h-1.5zM390.0,368.3h1.5v1.5h-1.5zM377.5,369.1h1.5v1.5h-1.5zM393.6,413.5h1.5v1.5h-1.5zM401.4,404.0h1.5v1.5h-1.5zM393.4,415.4h1.5v1.5h-1.5zM387.9,370.6h1.5v1.5h-1.5zM408.8,402.1h1.5v1.5h-1.5zM407.0,421.3h1.5v1.5h-1.5zM413.6,411.3h1.5v1.5h-1.5zM414.3,426.4h1.5v1.5h-1.5zM402.2,415.7h1.5v1.5h-1.5zM365.7,417.9h1.5v1.5h-1.5zM408.8,400.9h1.5v1.5h-1.5zM378.6,371.4h1.5v1.5h-1.5zM358.0,408.0h1.5v1.5h-1.5zM412.5,414.1h1.5v1.5h-1.5zM412.6,406.1h1.5v1.5h-1.5zM413.3,401.2h1.5v1.5h-1.5zM397.5,401.9h1.5v1.5h-1.5zM420.4,400.5h1.5v1.5h-1.5zM362.5,413.3h1.5v1.5h-1.5zM377.4,413.7h1.5v1.5h-1.5zM372.8,418.5h1.5v1.5h-1.5zM362.8,406.9h1.5v1.5h-1.5zM413.4,414.1h1.5v1.5h-1.5zM384.6,383.4h1.5v1.5h-1.5zM410.4,403.0h1.5v1.5h-1.5zM414.2,405.9h1.5v1.5h-1.5zM375.6,415.2h1.5v1.5h-1.5zM412.6,410.1h1.5v1.5h-1.5zM416.0,411.5h1.5v1.5h-1.5zM396.5,397.3h1.5v1.5h-1.5zM412.5,385.7h1.5v1.5h-1.5zM388.4,378.7h1.5v1.5h-1.5zM368.0,428.5h1.5v1.5h-1.5zM368.3,414.3h1.5v1.5h-1.5zM416.5,420.7h1.5v1.5h-1.5zM366.9,423.7h1.5v1.5h-1.5zM404.0,413.9h1.5v1.5h-1.5zM418.5,397.9h1.5v1.5h-1.5zM394.5,410.7h1.5v1.5h-1.5zM362.5,412.5h1.5v1.5h-1.5zM414.6,400.0h1.5v1.5h-1.5zM364.6,401.5h1.5v1.5h-1.5zM363.6,417.9h1.5v1.5h-1.5zM364.7,408.1h1.5v1.5h-1.5zM407.6,418.7h1.5v1.5h-1.5zM417.7,401.2h1.5v1.5h-1.5zM366.7,419.2h1.5v1.5h-1.5zM357.3,411.6h1.5v1.5h-1.5zM372.5,419.8h1.5v1.5h-1.5zM409.1,391.0h1.5v1.5h-1.5zM364.2,420.3h1.5v1.5h-1.5zM410.3,417.7h1.5v1.5h-1.5zM385.8,414.2h1.5v1.5h-1.5zM403.8,401.7h1.5v1.5h-1.5zM411.9,404.4h1.5v1.5h-1.5zM387.4,392.0h1.5v1.5h-1.5zM389.4,423.9h1.5v1.5h-1.5zM389.4,418.0h1.5v1.5h-1.5zM396.0,389.4h1.5v1.5h-1.5zM398.6,412.6h1.5v1.5h-1.5zM365.8,417.2h1.5v1.5h-1.5zM411.2,400.3h1.5v1.5h-1.5zM373.3,414.0h1.5v1.5h-1.5zM372.4,418.0h1.5v1.5h-1.5zM363.9,419.1h1.5v1.5h-1.5zM390.9,369.0h1.5v1.5h-1.5zM398.8,386.0h1.5v1.5h-1.5zM375.2,377.0h1.5v1.5h-1.5zM389.8,392.7h1.5v1.5h-1.5zM407.9,407.2h1.5v1.5h-1.5zM409.3,412.5h1.5v1.5h-1.5zM408.3,390.9h1.5v1.5h-1.5zM372.8,379.4h1.5v1.5h-1.5zM393.3,394.8h1.5v1.5h-1.5zM390.0,399.7h1.5v1.5h-1.5zM364.4,400.2h1.5v1.5h-1.5zM403.7,415.5h1.5v1.5h-1.5zM397.3,412.0h1.5v1.5h-1.5zM390.5,387.4h1.5v1.5h-1.5zM418.4,392.6h1.5v1.5h-1.5zM362.5,408.0h1.5v1.5h-1.5zM394.2,406.9h1.5v1.5h-1.5zM410.5,404.4h1.5v1.5h-1.5zM393.3,413.8h1.5v1.5h-1.5zM394.7,399.7h1.5v1.5h-1.5zM370.0,382.7h1.5v1.5h-1.5zM388.2,396.6h1.5v1.5h-1.5zM385.4,416.1h1.5v1.5h-1.5zM400.4,404.7h1.5v1.5h-1.5zM395.9,401.6h1.5v1.5h-1.5zM361.8,412.1h1.5v1.5h-1.5zM385.0,376.7h1.5v1.5h-1.5zM405.4,413.1h1.5v1.5h-1.5zM371.6,381.5h1.5v1.5h-1.5zM372.9,378.1h1.5v1.5h-1.5zM388.0,382.6h1.5v1.5h-1.5zM405.1,397.4h1.5v1.5h-1.5zM394.6,390.9h1.5v1.5h-1.5zM377.1,389.3h1.5v1.5h-1.5zM366.8,390.4h1.5v1.5h-1.5zM406.7,415.5h1.5v1.5h-1.5zM392.6,367.5h1.5v1.5h-1.5zM369.9,383.8h1.5v1.5h-1.5zM414.4,416.4h1.5v1.5h-1.5zM402.0,396.6h1.5v1.5h-1.5zM393.3,375.8h1.5v1.5h-1.5zM400.9,411.8h1.5v1.5h-1.5zM375.1,415.1h1.5v1.5h-1.5zM376.2,386.3h1.5v1.5h-1.5zM385.5,422.7h1.5v1.5h-1.5zM368.8,389.3h1.5v1.5h-1.5zM367.4,417.2h1.5v1.5h-1.5zM370.9,383.7h1.5v1.5h-1.5zM366.4,397.0h1.5v1.5h-1.5zM368.2,392.5h1.5v1.5h-1.5zM361.0,402.2h1.5v1.5h-1.5zM404.7,396.6h1.5v1.5h-1.5zM376.1,414.5h1.5v1.5h-1.5zM381.9,372.5h1.5v1.5h-1.5zM389.5,365.1h1.5v1.5h-1.5zM396.9,400.4h1.5v1.5h-1.5zM389.5,378.3h1.5v1.5h-1.5zM414.8,415.4h1.5v1.5h-1.5zM402.3,406.4h1.5v1.5h-1.5zM364.4,401.2h1.5v1.5h-1.5zM412.0,404.9h1.5v1.5h-1.5zM404.5,390.4h1.5v1.5h-1.5zM396.3,412.7h1.5v1.5h-1.5zM409.2,428.1h1.5v1.5h-1.5zM388.3,371.0h1.5v1.5h-1.5zM365.1,400.7h1.5v1.5h-1.5zM367.7,414.9h1.5v1.5h-1.5zM416.1,393.4h1.5v1.5h-1.5zM389.1,419.1h1.5v1.5h-1.5zM370.6,374.5h1.5v1.5h-1.5zM410.6,412.6h1.5v1.5h-1.5zM376.0,370.6h1.5v1.5h-1.5zM372.3,414.9h1.5v1.5h-1.5zM415.8,397.6h1.5v1.5h-1.5zM370.1,386.3h1.5v1.5h-1.5zM358.9,405.6h1.5v1.5h-1.5zM366.4,418.3h1.5v1.5h-1.5zM407.1,413.0h1.5v1.5h-1.5zM418.2,388.7h1.5v1.5h-1.5zM413.4,410.5h1.5v1.5h-1.5zM376.4,377.2h1.5v1.5h-1.5zM412.9,402.1h1.5v1.5h-1.5zM381.7,416.7h1.5v1.5h-1.5zM391.1,368.0h1.5v1.5h-1.5zM369.2,415.9h1.5v1.5h-1.5zM384.1,378.1h1.5v1.5h-1.5zM422.2,395.8h1.5v1.5h-1.5zM361.1,404.5h1.5v1.5h-1.5zM359.3,412.6h1.5v1.5h-1.5zM407.9,405.9h1.5v1.5h-1.5zM383.1,415.9h1.5v1.5h-1.5zM408.2,407.8h1.5v1.5h-1.5zM398.8,406.6h1.5v1.5h-1.5zM390.3,398.7h1.5v1.5h-1.5zM389.2,387.1h1.5v1.5h-1.5zM397.1,370.2h1.5v1.5h-1.5zM365.4,394.3h1.5v1.5h-1.5zM360.1,402.1h1.5v1.5h-1.5zM374.0,413.7h1.5v1.5h-1.5zM406.8,404.4h1.5v1.5h-1.5zM396.0,398.0h1.5v1.5h-1.5zM364.0,389.1h1.5v1.5h-1.5zM406.9,428.4h1.5v1.5h-1.5zM392.1,396.0h1.5v1.5h-1.5zM402.5,405.0h1.5v1.5h-1.5zM411.4,416.7h1.5v1.5h-1.5zM380.5,372.4h1.5v1.5h-1.5zM403.3,416.0h1.5v1.5h-1.5zM377.9,378.2h1.5v1.5h-1.5zM375.0,380.1h1.5v1.5h-1.5zM390.7,413.2h1.5v1.5h-1.5zM408.4,409.8h1.5v1.5h-1.5zM389.6,370.8h1.5v1.5h-1.5zM408.6,402.2h1.5v1.5h-1.5zM390.5,371.1h1.5v1.5h-1.5zM381.1,371.4h1.5v1.5h-1.5zM406.7,403.1h1.5v1.5h-1.5zM404.4,367.3h1.5v1.5h-1.5zM416.0,387.9h1.5v1.5h-1.5zM407.2,413.6h1.5v1.5h-1.5zM418.7,383.3h1.5v1.5h-1.5zM369.0,383.9h1.5v1.5h-1.5zM366.4,429.5h1.5v1.5h-1.5zM394.0,412.4h1.5v1.5h-1.5zM372.0,421.3h1.5v1.5h-1.5zM364.3,393.5h1.5v1.5h-1.5zM406.8,405.9h1.5v1.5h-1.5zM417.9,395.5h1.5v1.5h-1.5zM378.5,415.2h1.5v1.5h-1.5zM377.1,418.4h1.5v1.5h-1.5zM407.5,428.7h1.5v1.5h-1.5zM389.1,422.3h1.5v1.5h-1.5zM416.3,400.8h1.5v1.5h-1.5zM402.1,398.4h1.5v1.5h-1.5zM412.5,424.8h1.5v1.5h-1.5zM359.8,412.0h1.5v1.5h-1.5zM415.3,428.3h1.5v1.5h-1.5zM389.7,387.6h1.5v1.5h-1.5zM419.9,400.3h1.5v1.5h-1.5zM405.7,409.3h1.5v1.5h-1.5zM410.9,408.7h1.5v1.5h-1.5zM395.6,372.6h1.5v1.5h-1.5zM403.6,410.9h1.5v1.5h-1.5zM407.2,404.0h1.5v1.5h-1.5zM364.9,403.0h1.5v1.5h-1.5zM402.9,407.5h1.5v1.5h-1.5zM390.1,373.4h1.5v1.5h-1.5zM388.6,378.5h1.5v1.5h-1.5zM413.6,409.1h1.5v1.5h-1.5zM388.4,394.5h1.5v1.5h-1.5zM391.2,416.2h1.5v1.5h-1.5zM374.9,388.5h1.5v1.5h-1.5zM406.1,413.6h1.5v1.5h-1.5zM366.1,419.5h1.5v1.5h-1.5zM403.7,423.6h1.5v1.5h-1.5zM410.6,417.7h1.5v1.5h-1.5zM393.6,408.6h1.5v1.5h-1.5zM390.6,367.9h1.5v1.5h-1.5zM369.0,377.8h1.5v1.5h-1.5zM359.9,406.1h1.5v1.5h-1.5zM412.5,418.0h1.5v1.5h-1.5zM396.6,406.9h1.5v1.5h-1.5zM373.0,375.8h1.5v1.5h-1.5zM370.9,416.4h1.5v1.5h-1.5zM387.0,411.7h1.5v1.5h-1.5zM415.8,408.1h1.5v1.5h-1.5zM373.5,415.8h1.5v1.5h-1.5zM406.4,418.2h1.5v1.5h-1.5zM365.1,405.6h1.5v1.5h-1.5zM365.3,418.4h1.5v1.5h-1.5zM390.7,374.9h1.5v1.5h-1.5zM417.0,414.7h1.5v1.5h-1.5zM370.7,375.9h1.5v1.5h-1.5zM366.0,423.1h1.5v1.5h-1.5zM387.5,370.3h1.5v1.5h-1.5zM386.0,370.7h1.5v1.5h-1.5zM377.1,380.5h1.5v1.5h-1.5zM374.6,380.0h1.5v1.5h-1.5zM397.2,399.8h1.5v1.5h-1.5zM367.0,416.1h1.5v1.5h-1.5zM389.6,392.2h1.5v1.5h-1.5zM377.9,389.9h1.5v1.5h-1.5zM367.6,408.1h1.5v1.5h-1.5zM410.9,416.6h1.5v1.5h-1.5zM406.1,421.1h1.5v1.5h-1.5zM414.6,402.7h1.5v1.5h-1.5zM369.5,383.5h1.5v1.5h-1.5zM405.1,407.9h1.5v1.5h-1.5zM372.4,382.5h1.5v1.5h-1.5zM413.7,395.3h1.5v1.5h-1.5zM362.8,408.5h1.5v1.5h-1.5zM406.9,416.7h1.5v1.5h-1.5zM376.3,374.1h1.5v1.5h-1.5zM392.4,394.1h1.5v1.5h-1.5zM365.0,421.1h1.5v1.5h-1.5zM405.9,395.4h1.5v1.5h-1.5zM375.4,379.3h1.5v1.5h-1.5zM366.4,418.6h1.5v1.5h-1.5zM403.1,405.6h1.5v1.5h-1.5zM393.1,411.1h1.5v1.5h-1.5zM381.5,416.5h1.5v1.5h-1.5zM399.1,402.6h1.5v1.5h-1.5zM366.2,429.4h1.5v1.5h-1.5zM391.5,386.5h1.5v1.5h-1.5zM409.7,397.5h1.5v1.5h-1.5zM377.9,380.2h1.5v1.5h-1.5zM386.9,391.1h1.5v1.5h-1.5zM391.2,411.9h1.5v1.5h-1.5zM384.7,375.9h1.5v1.5h-1.5zM390.6,366.0h1.5v1.5h-1.5zM406.3,408.0h1.5v1.5h-1.5zM397.5,367.5h1.5v1.5h-1.5zM405.6,423.9h1.5v1.5h-1.5zM391.6,402.9h1.5v1.5h-1.5zM364.5,428.4h1.5v1.5h-1.5zM368.1,386.2h1.5v1.5h-1.5zM406.6,421.7h1.5v1.5h-1.5zM408.5,405.9h1.5v1.5h-1.5zM418.3,420.4h1.5v1.5h-1.5zM412.7,402.7h1.5v1.5h-1.5zM379.5,375.1h1.5v1.5h-1.5zM412.3,414.5h1.5v1.5h-1.5zM396.1,394.5h1.5v1.5h-1.5zM395.3,402.7h1.5v1.5h-1.5zM367.6,435.0h1.5v1.5h-1.5zM413.7,407.2h1.5v1.5h-1.5zM364.3,393.2h1.5v1.5h-1.5zM407.0,422.8h1.5v1.5h-1.5zM369.1,420.2h1.5v1.5h-1.5zM384.6,408.6h1.5v1.5h-1.5zM410.4,422.1h1.5v1.5h-1.5zM411.9,429.8h1.5v1.5h-1.5zM406.2,424.4h1.5v1.5h-1.5zM401.9,404.6h1.5v1.5h-1.5zM372.0,380.8h1.5v1.5h-1.5zM374.6,376.3h1.5v1.5h-1.5zM414.6,422.2h1.5v1.5h-1.5zM401.6,412.4h1.5v1.5h-1.5zM365.3,393.5h1.5v1.5h-1.5zM378.4,371.6h1.5v1.5h-1.5zM409.7,424.8h1.5v1.5h-1.5zM417.8,410.7h1.5v1.5h-1.5zM363.9,390.3h1.5v1.5h-1.5zM414.6,419.5h1.5v1.5h-1.5zM388.7,365.5h1.5v1.5h-1.5zM376.3,413.7h1.5v1.5h-1.5zM368.2,436.6h1.5v1.5h-1.5zM416.6,403.9h1.5v1.5h-1.5zM368.7,386.9h1.5v1.5h-1.5zM411.6,408.4h1.5v1.5h-1.5zM401.0,415.0h1.5v1.5h-1.5zM364.3,423.0h1.5v1.5h-1.5zM380.8,370.7h1.5v1.5h-1.5zM410.5,403.9h1.5v1.5h-1.5zM380.6,379.2h1.5v1.5h-1.5zM366.6,424.4h1.5v1.5h-1.5zM415.4,405.1h1.5v1.5h-1.5zM395.0,392.6h1.5v1.5h-1.5zM387.3,375.1h1.5v1.5h-1.5zM378.5,369.9h1.5v1.5h-1.5zM376.9,387.0h1.5v1.5h-1.5zM365.2,411.9h1.5v1.5h-1.5zM410.6,418.6h1.5v1.5h-1.5zM368.1,417.0h1.5v1.5h-1.5zM367.8,429.2h1.5v1.5h-1.5zM402.8,410.4h1.5v1.5h-1.5zM367.5,421.4h1.5v1.5h-1.5zM395.9,385.4h1.5v1.5h-1.5zM417.3,425.1h1.5v1.5h-1.5zM415.7,406.0h1.5v1.5h-1.5zM402.6,402.8h1.5v1.5h-1.5zM413.9,399.4h1.5v1.5h-1.5zM390.4,397.3h1.5v1.5h-1.5zM391.8,415.0h1.5v1.5h-1.5zM372.2,379.5h1.5v1.5h-1.5zM362.2,411.1h1.5v1.5h-1.5zM392.3,393.8h1.5v1.5h-1.5zM419.9,399.0h1.5v1.5h-1.5zM418.2,406.2h1.5v1.5h-1.5zM397.7,409.7h1.5v1.5h-1.5zM408.4,409.6h1.5v1.5h-1.5zM387.3,422.3h1.5v1.5h-1.5zM390.2,391.1h1.5v1.5h-1.5zM416.3,399.6h1.5v1.5h-1.5zM365.2,404.8h1.5v1.5h-1.5zM390.0,391.7h1.5v1.5h-1.5zM387.8,423.7h1.5v1.5h-1.5zM412.9,403.6h1.5v1.5h-1.5zM417.0,421.3h1.5v1.5h-1.5zM362.7,415.2h1.5v1.5h-1.5zM410.7,425.8h1.5v1.5h-1.5zM362.4,411.7h1.5v1.5h-1.5zM407.5,393.0h1.5v1.5h-1.5zM413.6,399.8h1.5v1.5h-1.5zM374.7,371.5h1.5v1.5h-1.5zM411.9,413.9h1.5v1.5h-1.5zM393.4,365.2h1.5v1.5h-1.5zM391.5,400.3h1.5v1.5h-1.5zM365.2,426.6h1.5v1.5h-1.5zM416.2,390.0h1.5v1.5h-1.5zM389.9,385.1h1.5v1.5h-1.5zM366.7,436.1h1.5v1.5h-1.5zM390.0,394.3h1.5v1.5h-1.5zM365.5,397.2h1.5v1.5h-1.5zM398.9,396.8h1.5v1.5h-1.5zM392.4,409.4h1.5v1.5h-1.5zM401.0,407.3h1.5v1.5h-1.5zM384.4,370.8h1.5v1.5h-1.5zM406.9,410.7h1.5v1.5h-1.5zM364.7,400.8h1.5v1.5h-1.5zM413.4,390.8h1.5v1.5h-1.5zM374.8,374.3h1.5v1.5h-1.5zM390.6,380.7h1.5v1.5h-1.5zM398.7,387.9h1.5v1.5h-1.5zM372.1,417.7h1.5v1.5h-1.5zM387.3,374.3h1.5v1.5h-1.5zM376.0,389.8h1.5v1.5h-1.5zM405.1,409.9h1.5v1.5h-1.5zM382.8,382.0h1.5v1.5h-1.5zM400.0,401.0h1.5v1.5h-1.5zM372.9,373.1h1.5v1.5h-1.5zM407.1,397.7h1.5v1.5h-1.5zM419.6,394.6h1.5v1.5h-1.5zM411.7,400.9h1.5v1.5h-1.5zM412.0,410.2h1.5v1.5h-1.5zM410.8,389.7h1.5v1.5h-1.5zM404.0,396.7h1.5v1.5h-1.5zM404.4,400.6h1.5v1.5h-1.5zM385.0,371.9h1.5v1.5h-1.5zM390.5,394.1h1.5v1.5h-1.5zM404.7,395.3h1.5v1.5h-1.5zM369.0,388.2h1.5v1.5h-1.5zM392.6,411.6h1.5v1.5h-1.5zM385.0,370.5h1.5v1.5h-1.5zM366.9,401.0h1.5v1.5h-1.5zM410.9,426.8h1.5v1.5h-1.5zM366.6,429.6h1.5v1.5h-1.5zM377.4,384.5h1.5v1.5h-1.5zM390.7,409.4h1.5v1.5h-1.5zM363.4,409.2h1.5v1.5h-1.5zM394.3,412.2h1.5v1.5h-1.5zM409.0,409.7h1.5v1.5h-1.5zM367.9,435.6h1.5v1.5h-1.5zM388.1,377.9h1.5v1.5h-1.5zM419.6,394.7h1.5v1.5h-1.5zM385.4,368.8h1.5v1.5h-1.5zM417.7,425.8h1.5v1.5h-1.5zM373.8,388.2h1.5v1.5h-1.5zM382.4,383.5h1.5v1.5h-1.5zM370.3,387.8h1.5v1.5h-1.5zM365.4,407.1h1.5v1.5h-1.5zM368.7,383.4h1.5v1.5h-1.5zM383.9,366.3h1.5v1.5h-1.5zM388.8,372.8h1.5v1.5h-1.5zM401.2,414.9h1.5v1.5h-1.5zM387.9,417.6h1.5v1.5h-1.5zM408.0,423.5h1.5v1.5h-1.5zM365.2,414.4h1.5v1.5h-1.5zM411.8,394.5h1.5v1.5h-1.5zM388.1,417.3h1.5v1.5h-1.5zM390.0,412.9h1.5v1.5h-1.5zM387.7,425.2h1.5v1.5h-1.5zM414.2,421.5h1.5v1.5h-1.5zM397.1,397.8h1.5v1.5h-1.5zM363.6,399.5h1.5v1.5h-1.5zM362.2,410.2h1.5v1.5h-1.5zM380.2,370.0h1.5v1.5h-1.5zM373.1,380.9h1.5v1.5h-1.5zM395.4,389.7h1.5v1.5h-1.5zM387.5,395.1h1.5v1.5h-1.5zM415.3,409.9h1.5v1.5h-1.5zM381.4,378.3h1.5v1.5h-1.5zM397.6,397.0h1.5v1.5h-1.5zM385.9,373.0h1.5v1.5h-1.5zM407.6,406.1h1.5v1.5h-1.5zM376.2,412.6h1.5v1.5h-1.5zM388.0,393.0h1.5v1.5h-1.5zM397.9,369.1h1.5v1.5h-1.5zM397.0,366.5h1.5v1.5h-1.5zM395.3,391.2h1.5v1.5h-1.5zM413.3,407.0h1.5v1.5h-1.5zM361.5,403.7h1.5v1.5h-1.5zM379.8,379.1h1.5v1.5h-1.5zM409.5,402.9h1.5v1.5h-1.5zM392.8,412.2h1.5v1.5h-1.5zM369.7,422.5h1.5v1.5h-1.5zM398.7,409.0h1.5v1.5h-1.5zM385.9,421.0h1.5v1.5h-1.5zM418.3,401.1h1.5v1.5h-1.5zM416.8,414.7h1.5v1.5h-1.5zM391.2,399.2h1.5v1.5h-1.5zM414.8,411.0h1.5v1.5h-1.5zM410.5,407.5h1.5v1.5h-1.5zM377.2,376.9h1.5v1.5h-1.5zM387.4,383.3h1.5v1.5h-1.5zM363.5,398.8h1.5v1.5h-1.5zM416.2,393.3h1.5v1.5h-1.5zM412.8,410.3h1.5v1.5h-1.5zM374.2,373.3h1.5v1.5h-1.5zM383.7,374.8h1.5v1.5h-1.5zM410.0,397.5h1.5v1.5h-1.5zM408.6,423.0h1.5v1.5h-1.5zM408.6,423.4h1.5v1.5h-1.5zM412.6,419.2h1.5v1.5h-1.5zM413.7,414.6h1.5v1.5h-1.5zM416.0,418.7h1.5v1.5h-1.5zM379.8,371.7h1.5v1.5h-1.5zM366.9,416.8h1.5v1.5h-1.5zM383.8,379.2h1.5v1.5h-1.5zM386.4,366.5h1.5v1.5h-1.5zM369.5,383.1h1.5v1.5h-1.5zM367.2,424.5h1.5v1.5h-1.5zM397.8,417.8h1.5v1.5h-1.5zM404.6,404.1h1.5v1.5h-1.5zM392.2,366.2h1.5v1.5h-1.5zM363.0,401.5h1.5v1.5h-1.5zM383.7,381.3h1.5v1.5h-1.5zM406.8,421.5h1.5v1.5h-1.5zM385.9,416.4h1.5v1.5h-1.5zM402.2,416.6h1.5v1.5h-1.5zM409.8,403.3h1.5v1.5h-1.5zM380.8,379.2h1.5v1.5h-1.5zM393.6,414.1h1.5v1.5h-1.5zM368.3,394.1h1.5v1.5h-1.5zM373.6,385.5h1.5v1.5h-1.5zM419.4,400.1h1.5v1.5h-1.5zM415.7,423.5h1.5v1.5h-1.5zM372.0,415.0h1.5v1.5h-1.5zM399.5,393.1h1.5v1.5h-1.5zM388.4,395.7h1.5v1.5h-1.5zM391.1,370.5h1.5v1.5h-1.5zM374.0,388.9h1.5v1.5h-1.5zM392.1,414.2h1.5v1.5h-1.5zM370.3,411.4h1.5v1.5h-1.5zM405.1,409.5h1.5v1.5h-1.5zM381.4,381.0h1.5v1.5h-1.5zM414.1,396.9h1.5v1.5h-1.5zM362.3,410.2h1.5v1.5h-1.5zM408.7,425.8h1.5v1.5h-1.5zM385.4,388.0h1.5v1.5h-1.5zM380.3,416.9h1.5v1.5h-1.5zM413.3,406.7h1.5v1.5h-1.5zM406.7,416.3h1.5v1.5h-1.5zM384.3,374.4h1.5v1.5h-1.5zM372.2,380.6h1.5v1.5h-1.5zM418.6,399.8h1.5v1.5h-1.5zM408.1,396.0h1.5v1.5h-1.5zM403.1,406.5h1.5v1.5h-1.5zM363.6,417.1h1.5v1.5h-1.5zM389.3,390.2h1.5v1.5h-1.5zM400.8,417.5h1.5v1.5h-1.5zM366.9,392.1h1.5v1.5h-1.5zM416.9,392.4h1.5v1.5h-1.5zM375.2,412.6h1.5v1.5h-1.5zM394.9,391.5h1.5v1.5h-1.5zM389.9,414.6h1.5v1.5h-1.5zM374.1,384.5h1.5v1.5h-1.5zM405.5,412.2h1.5v1.5h-1.5zM360.4,408.6h1.5v1.5h-1.5zM397.3,367.2h1.5v1.5h-1.5zM368.9,389.0h1.5v1.5h-1.5zM373.2,383.6h1.5v1.5h-1.5zM389.6,374.5h1.5v1.5h-1.5zM389.3,392.3h1.5v1.5h-1.5zM385.2,369.7h1.5v1.5h-1.5zM383.1,372.6h1.5v1.5h-1.5zM391.0,376.7h1.5v1.5h-1.5zM386.5,369.7h1.5v1.5h-1.5zM420.0,395.6h1.5v1.5h-1.5zM368.8,420.4h1.5v1.5h-1.5zM417.0,413.7h1.5v1.5h-1.5zM395.9,407.4h1.5v1.5h-1.5zM416.1,392.2h1.5v1.5h-1.5zM393.7,381.4h1.5v1.5h-1.5zM380.0,379.3h1.5v1.5h-1.5zM372.8,377.8h1.5v1.5h-1.5zM395.6,368.7h1.5v1.5h-1.5zM382.6,381.6h1.5v1.5h-1.5zM369.2,389.1h1.5v1.5h-1.5zM386.5,413.3h1.5v1.5h-1.5zM383.7,374.5h1.5v1.5h-1.5zM398.5,403.8h1.5v1.5h-1.5zM406.7,419.1h1.5v1.5h-1.5zM373.7,379.5h1.5v1.5h-1.5zM364.7,413.0h1.5v1.5h-1.5zM408.2,408.5h1.5v1.5h-1.5zM412.9,400.5h1.5v1.5h-1.5zM368.5,381.4h1.5v1.5h-1.5zM366.6,434.8h1.5v1.5h-1.5zM383.9,389.4h1.5v1.5h-1.5zM360.6,414.7h1.5v1.5h-1.5zM416.0,393.3h1.5v1.5h-1.5zM407.6,398.5h1.5v1.5h-1.5zM383.4,384.5h1.5v1.5h-1.5zM370.1,427.6h1.5v1.5h-1.5zM386.2,417.9h1.5v1.5h-1.5zM407.5,427.7h1.5v1.5h-1.5zM392.2,412.5h1.5v1.5h-1.5zM412.4,403.9h1.5v1.5h-1.5zM414.7,404.4h1.5v1.5h-1.5zM361.1,403.1h1.5v1.5h-1.5zM405.7,425.0h1.5v1.5h-1.5zM370.6,382.1h1.5v1.5h-1.5zM407.6,425.2h1.5v1.5h-1.5zM368.9,408.8h1.5v1.5h-1.5zM364.4,397.3h1.5v1.5h-1.5zM397.9,415.5h1.5v1.5h-1.5zM409.7,401.5h1.5v1.5h-1.5zM403.9,411.1h1.5v1.5h-1.5zM374.2,374.7h1.5v1.5h-1.5zM409.9,399.5h1.5v1.5h-1.5zM385.5,419.7h1.5v1.5h-1.5zM410.5,414.3h1.5v1.5h-1.5zM383.9,414.2h1.5v1.5h-1.5zM398.2,404.7h1.5v1.5h-1.5zM413.1,398.7h1.5v1.5h-1.5zM365.6,413.0h1.5v1.5h-1.5zM379.1,381.7h1.5v1.5h-1.5zM400.0,363.9h1.5v1.5h-1.5zM376.0,385.0h1.5v1.5h-1.5zM379.5,374.5h1.5v1.5h-1.5zM399.2,413.3h1.5v1.5h-1.5zM415.9,415.6h1.5v1.5h-1.5zM372.3,417.8h1.5v1.5h-1.5zM388.2,414.6h1.5v1.5h-1.5zM406.7,410.2h1.5v1.5h-1.5zM372.5,383.6h1.5v1.5h-1.5zM380.7,377.8h1.5v1.5h-1.5zM372.7,380.0h1.5v1.5h-1.5zM411.5,427.5h1.5v1.5h-1.5zM371.2,425.9h1.5v1.5h-1.5zM386.3,369.7h1.5v1.5h-1.5zM369.5,421.3h1.5v1.5h-1.5zM411.5,424.8h1.5v1.5h-1.5zM385.6,391.0h1.5v1.5h-1.5zM388.3,418.3h1.5v1.5h-1.5zM377.3,383.2h1.5v1.5h-1.5zM414.0,400.9h1.5v1.5h-1.5zM368.5,424.3h1.5v1.5h-1.5zM371.7,413.0h1.5v1.5h-1.5zM368.7,423.1h1.5v1.5h-1.5zM388.5,396.8h1.5v1.5h-1.5zM363.4,395.4h1.5v1.5h-1.5zM383.3,373.2h1.5v1.5h-1.5zM388.2,377.8h1.5v1.5h-1.5zM410.7,424.6h1.5v1.5h-1.5zM411.6,423.3h1.5v1.5h-1.5zM411.9,404.7h1.5v1.5h-1.5zM362.4,396.4h1.5v1.5h-1.5zM404.3,408.7h1.5v1.5h-1.5zM414.5,414.5h1.5v1.5h-1.5zM417.1,388.8h1.5v1.5h-1.5zM416.9,395.6h1.5v1.5h-1.5zM367.5,429.3h1.5v1.5h-1.5zM387.2,376.8h1.5v1.5h-1.5zM365.2,399.7h1.5v1.5h-1.5zM381.0,375.7h1.5v1.5h-1.5zM397.6,400.4h1.5v1.5h-1.5zM380.3,372.4h1.5v1.5h-1.5zM384.4,373.6h1.5v1.5h-1.5zM396.8,400.6h1.5v1.5h-1.5zM383.8,376.5h1.5v1.5h-1.5zM389.0,401.0h1.5v1.5h-1.5zM417.8,396.1h1.5v1.5h-1.5zM370.3,413.0h1.5v1.5h-1.5zM362.7,405.5h1.5v1.5h-1.5zM406.5,407.3h1.5v1.5h-1.5zM416.6,397.3h1.5v1.5h-1.5zM409.5,421.8h1.5v1.5h-1.5zM386.7,372.6h1.5v1.5h-1.5zM408.7,394.6h1.5v1.5h-1.5zM371.6,380.0h1.5v1.5h-1.5zM408.7,427.1h1.5v1.5h-1.5zM380.6,387.2h1.5v1.5h-1.5zM384.2,412.8h1.5v1.5h-1.5zM364.3,399.8h1.5v1.5h-1.5zM365.1,433.8h1.5v1.5h-1.5zM382.2,374.0h1.5v1.5h-1.5zM408.7,406.9h1.5v1.5h-1.5zM403.1,412.2h1.5v1.5h-1.5zM416.5,407.6h1.5v1.5h-1.5zM367.4,430.5h1.5v1.5h-1.5zM399.9,406.8h1.5v1.5h-1.5zM414.5,393.3h1.5v1.5h-1.5zM379.8,387.3h1.5v1.5h-1.5zM382.7,384.7h1.5v1.5h-1.5zM373.2,421.5h1.5v1.5h-1.5zM365.4,402.1h1.5v1.5h-1.5zM368.7,387.5h1.5v1.5h-1.5zM413.2,411.5h1.5v1.5h-1.5zM369.0,390.1h1.5v1.5h-1.5zM396.9,387.8h1.5v1.5h-1.5zM419.3,399.7h1.5v1.5h-1.5zM368.8,406.7h1.5v1.5h-1.5zM370.8,384.2h1.5v1.5h-1.5zM368.4,378.5h1.5v1.5h-1.5zM399.4,408.3h1.5v1.5h-1.5zM407.7,420.0h1.5v1.5h-1.5zM392.1,390.3h1.5v1.5h-1.5zM377.0,377.7h1.5v1.5h-1.5zM406.1,412.8h1.5v1.5h-1.5zM408.2,398.6h1.5v1.5h-1.5zM369.6,420.4h1.5v1.5h-1.5zM387.4,412.6h1.5v1.5h-1.5zM384.0,416.3h1.5v1.5h-1.5zM408.7,422.0h1.5v1.5h-1.5zM375.9,388.5h1.5v1.5h-1.5zM366.1,385.8h1.5v1.5h-1.5zM366.5,391.3h1.5v1.5h-1.5zM367.0,430.1h1.5v1.5h-1.5zM386.7,416.3h1.5v1.5h-1.5zM413.1,421.6h1.5v1.5h-1.5zM373.4,418.5h1.5v1.5h-1.5zM396.9,410.7h1.5v1.5h-1.5zM363.5,416.8h1.5v1.5h-1.5zM414.0,405.0h1.5v1.5h-1.5zM370.3,384.5h1.5v1.5h-1.5zM411.5,425.1h1.5v1.5h-1.5zM383.8,418.7h1.5v1.5h-1.5zM408.6,399.7h1.5v1.5h-1.5zM401.3,399.7h1.5v1.5h-1.5zM413.9,428.4h1.5v1.5h-1.5zM400.2,365.6h1.5v1.5h-1.5zM373.9,387.4h1.5v1.5h-1.5zM388.7,422.7h1.5v1.5h-1.5zM401.5,413.4h1.5v1.5h-1.5zM403.8,412.1h1.5v1.5h-1.5zM380.6,416.0h1.5v1.5h-1.5zM410.5,413.9h1.5v1.5h-1.5zM407.9,422.1h1.5v1.5h-1.5zM383.3,387.0h1.5v1.5h-1.5zM385.0,376.1h1.5v1.5h-1.5zM392.9,379.3h1.5v1.5h-1.5zM416.1,399.5h1.5v1.5h-1.5zM373.0,385.2h1.5v1.5h-1.5zM408.9,424.1h1.5v1.5h-1.5zM391.3,399.5h1.5v1.5h-1.5zM370.3,426.1h1.5v1.5h-1.5zM376.6,413.7h1.5v1.5h-1.5zM368.4,421.7h1.5v1.5h-1.5zM387.9,413.2h1.5v1.5h-1.5zM367.9,425.5h1.5v1.5h-1.5zM362.6,413.0h1.5v1.5h-1.5zM371.8,415.3h1.5v1.5h-1.5zM415.8,399.2h1.5v1.5h-1.5zM400.9,402.5h1.5v1.5h-1.5zM412.8,408.2h1.5v1.5h-1.5zM361.4,405.6h1.5v1.5h-1.5zM411.5,407.0h1.5v1.5h-1.5zM391.1,418.4h1.5v1.5h-1.5zM416.0,391.1h1.5v1.5h-1.5zM383.1,416.1h1.5v1.5h-1.5zM411.8,416.6h1.5v1.5h-1.5zM415.5,399.3h1.5v1.5h-1.5zM387.8,393.5h1.5v1.5h-1.5zM364.0,403.9h1.5v1.5h-1.5zM378.5,377.4h1.5v1.5h-1.5zM385.3,387.2h1.5v1.5h-1.5zM413.7,413.7h1.5v1.5h-1.5zM400.6,400.7h1.5v1.5h-1.5zM401.1,405.7h1.5v1.5h-1.5zM411.6,411.9h1.5v1.5h-1.5zM382.9,415.7h1.5v1.5h-1.5zM415.6,396.9h1.5v1.5h-1.5zM397.3,410.0h1.5v1.5h-1.5zM403.9,410.0h1.5v1.5h-1.5zM374.1,414.3h1.5v1.5h-1.5zM385.9,368.8h1.5v1.5h-1.5zM402.8,402.8h1.5v1.5h-1.5zM368.5,378.4h1.5v1.5h-1.5zM365.3,393.0h1.5v1.5h-1.5zM393.8,409.6h1.5v1.5h-1.5zM364.8,427.4h1.5v1.5h-1.5zM367.3,419.0h1.5v1.5h-1.5zM402.9,411.1h1.5v1.5h-1.5zM363.9,402.0h1.5v1.5h-1.5zM386.2,365.6h1.5v1.5h-1.5zM385.5,393.9h1.5v1.5h-1.5zM409.3,413.3h1.5v1.5h-1.5zM379.9,376.9h1.5v1.5h-1.5zM377.9,373.5h1.5v1.5h-1.5zM363.3,398.6h1.5v1.5h-1.5zM392.9,366.7h1.5v1.5h-1.5zM400.9,401.1h1.5v1.5h-1.5zM415.2,407.7h1.5v1.5h-1.5zM395.3,398.8h1.5v1.5h-1.5zM370.4,380.6h1.5v1.5h-1.5zM365.5,398.0h1.5v1.5h-1.5zM413.0,398.0h1.5v1.5h-1.5zM376.9,373.9h1.5v1.5h-1.5zM379.2,380.1h1.5v1.5h-1.5zM398.2,398.6h1.5v1.5h-1.5zM416.5,416.1h1.5v1.5h-1.5zM411.0,390.8h1.5v1.5h-1.5zM366.4,429.3h1.5v1.5h-1.5zM371.8,387.1h1.5v1.5h-1.5zM412.2,424.0h1.5v1.5h-1.5zM399.6,399.7h1.5v1.5h-1.5zM375.6,388.0h1.5v1.5h-1.5zM364.0,406.6h1.5v1.5h-1.5zM389.4,398.8h1.5v1.5h-1.5zM406.1,409.2h1.5v1.5h-1.5zM421.6,397.0h1.5v1.5h-1.5zM387.2,418.0h1.5v1.5h-1.5zM416.7,423.0h1.5v1.5h-1.5zM393.4,414.7h1.5v1.5h-1.5zM409.0,405.3h1.5v1.5h-1.5zM368.5,410.4h1.5v1.5h-1.5zM380.5,379.1h1.5v1.5h-1.5zM360.5,412.1h1.5v1.5h-1.5zM383.5,414.7h1.5v1.5h-1.5zM364.1,409.6h1.5v1.5h-1.5zM412.3,398.3h1.5v1.5h-1.5zM408.0,402.5h1.5v1.5h-1.5zM378.5,385.6h1.5v1.5h-1.5zM396.6,394.2h1.5v1.5h-1.5zM370.4,418.3h1.5v1.5h-1.5zM362.6,411.6h1.5v1.5h-1.5zM362.8,393.2h1.5v1.5h-1.5zM417.9,409.7h1.5v1.5h-1.5zM413.3,425.7h1.5v1.5h-1.5zM416.7,399.5h1.5v1.5h-1.5zM378.1,373.3h1.5v1.5h-1.5zM413.7,415.5h1.5v1.5h-1.5zM419.0,414.7h1.5v1.5h-1.5zM401.3,411.9h1.5v1.5h-1.5zM406.9,423.0h1.5v1.5h-1.5zM371.9,385.4h1.5v1.5h-1.5zM373.5,388.1h1.5v1.5h-1.5zM400.6,396.2h1.5v1.5h-1.5zM399.4,402.2h1.5v1.5h-1.5zM365.0,421.7h1.5v1.5h-1.5zM406.2,404.5h1.5v1.5h-1.5zM395.2,390.2h1.5v1.5h-1.5zM389.6,391.6h1.5v1.5h-1.5zM389.6,374.8h1.5v1.5h-1.5zM410.2,420.5h1.5v1.5h-1.5zM360.4,416.7h1.5v1.5h-1.5zM412.4,414.9h1.5v1.5h-1.5zM372.1,412.6h1.5v1.5h-1.5zM398.6,404.1h1.5v1.5h-1.5zM377.4,415.5h1.5v1.5h-1.5zM403.5,406.7h1.5v1.5h-1.5zM403.0,394.9h1.5v1.5h-1.5zM379.9,375.3h1.5v1.5h-1.5zM383.5,416.4h1.5v1.5h-1.5zM382.6,387.3h1.5v1.5h-1.5zM374.6,379.1h1.5v1.5h-1.5zM402.7,411.6h1.5v1.5h-1.5zM390.1,364.4h1.5v1.5h-1.5zM398.9,402.8h1.5v1.5h-1.5zM373.7,388.7h1.5v1.5h-1.5zM387.9,413.5h1.5v1.5h-1.5zM384.3,419.1h1.5v1.5h-1.5zM415.3,419.1h1.5v1.5h-1.5zM399.0,396.4h1.5v1.5h-1.5zM372.3,412.2h1.5v1.5h-1.5zM382.1,374.9h1.5v1.5h-1.5zM398.4,401.0h1.5v1.5h-1.5zM401.1,390.0h1.5v1.5h-1.5zM417.4,393.8h1.5v1.5h-1.5zM402.8,395.4h1.5v1.5h-1.5zM384.3,411.7h1.5v1.5h-1.5zM396.5,397.4h1.5v1.5h-1.5zM407.4,402.9h1.5v1.5h-1.5zM374.2,374.8h1.5v1.5h-1.5zM376.2,378.7h1.5v1.5h-1.5zM410.0,406.8h1.5v1.5h-1.5zM406.9,429.2h1.5v1.5h-1.5zM406.3,421.1h1.5v1.5h-1.5zM420.8,399.9h1.5v1.5h-1.5zM391.9,364.1h1.5v1.5h-1.5zM388.4,423.5h1.5v1.5h-1.5zM414.0,427.8h1.5v1.5h-1.5zM378.2,383.9h1.5v1.5h-1.5zM374.5,376.7h1.5v1.5h-1.5zM408.5,403.0h1.5v1.5h-1.5zM389.4,380.0h1.5v1.5h-1.5zM366.8,410.4h1.5v1.5h-1.5zM388.1,376.6h1.5v1.5h-1.5zM380.7,379.5h1.5v1.5h-1.5zM417.5,400.7h1.5v1.5h-1.5zM364.8,412.2h1.5v1.5h-1.5zM370.2,388.7h1.5v1.5h-1.5zM406.3,411.1h1.5v1.5h-1.5zM383.2,415.9h1.5v1.5h-1.5zM416.7,404.2h1.5v1.5h-1.5zM361.6,414.8h1.5v1.5h-1.5zM415.6,411.8h1.5v1.5h-1.5zM373.4,379.4h1.5v1.5h-1.5zM396.8,403.2h1.5v1.5h-1.5zM378.4,369.2h1.5v1.5h-1.5zM390.8,415.9h1.5v1.5h-1.5zM378.2,385.7h1.5v1.5h-1.5zM401.4,411.5h1.5v1.5h-1.5zM370.0,381.1h1.5v1.5h-1.5zM419.2,386.5h1.5v1.5h-1.5zM367.9,398.5h1.5v1.5h-1.5zM373.2,416.5h1.5v1.5h-1.5zM367.3,410.0h1.5v1.5h-1.5zM393.2,397.6h1.5v1.5h-1.5zM386.9,411.2h1.5v1.5h-1.5zM394.1,411.6h1.5v1.5h-1.5zM406.4,406.9h1.5v1.5h-1.5zM364.6,394.1h1.5v1.5h-1.5zM369.0,383.9h1.5v1.5h-1.5zM385.3,383.8h1.5v1.5h-1.5zM395.3,399.3h1.5v1.5h-1.5zM378.2,388.7h1.5v1.5h-1.5zM360.9,402.1h1.5v1.5h-1.5zM375.0,371.2h1.5v1.5h-1.5zM364.0,397.7h1.5v1.5h-1.5zM402.5,401.2h1.5v1.5h-1.5zM368.3,416.8h1.5v1.5h-1.5zM413.7,406.9h1.5v1.5h-1.5zM387.7,373.1h1.5v1.5h-1.5zM414.8,408.0h1.5v1.5h-1.5zM387.9,427.1h1.5v1.5h-1.5zM391.0,392.4h1.5v1.5h-1.5zM371.5,387.0h1.5v1.5h-1.5zM407.7,412.8h1.5v1.5h-1.5zM365.8,418.8h1.5v1.5h-1.5zM366.2,430.0h1.5v1.5h-1.5zM380.5,375.8h1.5v1.5h-1.5zM389.3,391.7h1.5v1.5h-1.5zM374.4,412.7h1.5v1.5h-1.5zM405.3,404.8h1.5v1.5h-1.5zM386.0,389.8h1.5v1.5h-1.5zM367.6,407.8h1.5v1.5h-1.5zM407.0,425.8h1.5v1.5h-1.5zM412.8,418.6h1.5v1.5h-1.5zM376.0,381.0h1.5v1.5h-1.5zM384.6,368.4h1.5v1.5h-1.5zM385.1,416.4h1.5v1.5h-1.5zM360.3,404.5h1.5v1.5h-1.5zM402.9,403.5h1.5v1.5h-1.5zM398.0,383.8h1.5v1.5h-1.5zM400.3,397.8h1.5v1.5h-1.5zM371.7,376.3h1.5v1.5h-1.5zM412.2,405.9h1.5v1.5h-1.5zM406.5,403.8h1.5v1.5h-1.5zM365.9,423.1h1.5v1.5h-1.5zM383.9,385.2h1.5v1.5h-1.5zM370.4,421.8h1.5v1.5h-1.5zM413.2,403.2h1.5v1.5h-1.5zM374.2,372.4h1.5v1.5h-1.5zM409.6,402.2h1.5v1.5h-1.5zM418.7,413.8h1.5v1.5h-1.5zM417.5,391.8h1.5v1.5h-1.5zM395.6,386.7h1.5v1.5h-1.5zM383.3,412.7h1.5v1.5h-1.5zM407.2,405.1h1.5v1.5h-1.5zM409.9,413.4h1.5v1.5h-1.5zM370.5,375.5h1.5v1.5h-1.5zM393.9,401.9h1.5v1.5h-1.5zM359.4,408.9h1.5v1.5h-1.5zM383.4,390.8h1.5v1.5h-1.5zM369.0,393.8h1.5v1.5h-1.5zM404.3,396.0h1.5v1.5h-1.5zM403.9,408.7h1.5v1.5h-1.5zM363.2,402.2h1.5v1.5h-1.5zM382.5,380.7h1.5v1.5h-1.5zM401.8,416.1h1.5v1.5h-1.5zM396.8,408.8h1.5v1.5h-1.5zM389.1,384.9h1.5v1.5h-1.5zM361.7,397.7h1.5v1.5h-1.5zM367.4,387.5h1.5v1.5h-1.5zM401.4,417.5h1.5v1.5h-1.5zM381.7,409.4h1.5v1.5h-1.5zM393.4,395.4h1.5v1.5h-1.5zM409.7,398.0h1.5v1.5h-1.5zM384.8,422.4h1.5v1.5h-1.5zM365.9,414.6h1.5v1.5h-1.5zM422.3,396.2h1.5v1.5h-1.5zM411.5,403.5h1.5v1.5h-1.5zM403.9,410.5h1.5v1.5h-1.5zM365.0,415.4h1.5v1.5h-1.5zM372.1,383.2h1.5v1.5h-1.5zM411.3,417.3h1.5v1.5h-1.5zM394.4,364.1h1.5v1.5h-1.5zM412.1,416.7h1.5v1.5h-1.5zM385.4,391.6h1.5v1.5h-1.5zM396.9,369.5h1.5v1.5h-1.5zM381.3,389.4h1.5v1.5h-1.5zM414.2,421.4h1.5v1.5h-1.5zM391.6,382.4h1.5v1.5h-1.5zM361.1,404.9h1.5v1.5h-1.5zM384.7,382.0h1.5v1.5h-1.5zM392.3,364.1h1.5v1.5h-1.5zM415.0,404.8h1.5v1.5h-1.5zM360.8,419.7h1.5v1.5h-1.5zM381.6,372.3h1.5v1.5h-1.5zM388.3,413.8h1.5v1.5h-1.5zM376.5,388.2h1.5v1.5h-1.5zM391.6,369.7h1.5v1.5h-1.5zM386.8,374.5h1.5v1.5h-1.5zM407.3,415.3h1.5v1.5h-1.5zM413.6,420.0h1.5v1.5h-1.5zM360.3,404.2h1.5v1.5h-1.5zM368.6,381.5h1.5v1.5h-1.5zM407.3,421.3h1.5v1.5h-1.5zM361.4,409.2h1.5v1.5h-1.5zM382.6,382.7h1.5v1.5h-1.5zM381.8,383.9h1.5v1.5h-1.5zM411.5,414.1h1.5v1.5h-1.5zM404.0,421.4h1.5v1.5h-1.5zM388.3,428.7h1.5v1.5h-1.5zM381.2,370.6h1.5v1.5h-1.5zM389.4,410.1h1.5v1.5h-1.5zM402.3,405.9h1.5v1.5h-1.5zM406.8,399.5h1.5v1.5h-1.5zM366.1,391.7h1.5v1.5h-1.5zM370.3,385.6h1.5v1.5h-1.5zM375.1,377.7h1.5v1.5h-1.5zM394.5,398.8h1.5v1.5h-1.5zM375.7,415.9h1.5v1.5h-1.5zM416.7,416.5h1.5v1.5h-1.5zM381.9,412.7h1.5v1.5h-1.5zM411.9,401.4h1.5v1.5h-1.5zM369.6,425.5h1.5v1.5h-1.5zM415.3,412.0h1.5v1.5h-1.5zM394.7,396.2h1.5v1.5h-1.5zM418.6,399.0h1.5v1.5h-1.5zM385.6,369.4h1.5v1.5h-1.5zM366.2,408.6h1.5v1.5h-1.5zM408.5,408.0h1.5v1.5h-1.5zM414.5,412.7h1.5v1.5h-1.5zM412.6,406.3h1.5v1.5h-1.5zM372.5,380.8h1.5v1.5h-1.5zM414.5,401.2h1.5v1.5h-1.5zM408.6,403.2h1.5v1.5h-1.5zM415.8,389.8h1.5v1.5h-1.5zM370.8,378.4h1.5v1.5h-1.5zM411.8,406.9h1.5v1.5h-1.5zM408.0,406.2h1.5v1.5h-1.5zM374.8,374.3h1.5v1.5h-1.5zM365.2,387.8h1.5v1.5h-1.5zM371.9,420.1h1.5v1.5h-1.5zM390.5,365.1h1.5v1.5h-1.5zM390.4,402.5h1.5v1.5h-1.5zM365.2,392.7h1.5v1.5h-1.5zM413.2,426.1h1.5v1.5h-1.5zM387.3,383.7h1.5v1.5h-1.5zM376.0,376.9h1.5v1.5h-1.5zM409.5,387.6h1.5v1.5h-1.5zM416.9,408.9h1.5v1.5h-1.5zM374.9,383.1h1.5v1.5h-1.5zM412.1,417.0h1.5v1.5h-1.5zM396.0,380.6h1.5v1.5h-1.5zM417.8,410.8h1.5v1.5h-1.5zM413.8,413.5h1.5v1.5h-1.5zM359.9,411.1h1.5v1.5h-1.5zM415.2,420.8h1.5v1.5h-1.5zM412.0,419.3h1.5v1.5h-1.5zM415.8,411.6h1.5v1.5h-1.5zM367.6,413.8h1.5v1.5h-1.5zM381.9,370.1h1.5v1.5h-1.5zM380.5,382.1h1.5v1.5h-1.5zM386.9,385.2h1.5v1.5h-1.5zM375.3,419.7h1.5v1.5h-1.5zM416.5,410.8h1.5v1.5h-1.5zM402.8,419.5h1.5v1.5h-1.5zM382.6,384.1h1.5v1.5h-1.5zM388.1,387.3h1.5v1.5h-1.5zM416.0,423.3h1.5v1.5h-1.5zM382.5,384.8h1.5v1.5h-1.5zM375.5,386.9h1.5v1.5h-1.5zM385.3,368.2h1.5v1.5h-1.5zM368.7,411.2h1.5v1.5h-1.5zM389.1,429.8h1.5v1.5h-1.5zM410.2,401.0h1.5v1.5h-1.5zM380.5,386.4h1.5v1.5h-1.5zM397.0,415.9h1.5v1.5h-1.5zM363.6,410.6h1.5v1.5h-1.5zM366.9,405.6h1.5v1.5h-1.5zM400.4,403.0h1.5v1.5h-1.5zM406.0,392.3h1.5v1.5h-1.5zM407.7,427.9h1.5v1.5h-1.5zM365.9,396.6h1.5v1.5h-1.5zM397.8,397.8h1.5v1.5h-1.5zM378.1,377.5h1.5v1.5h-1.5zM371.2,412.1h1.5v1.5h-1.5zM409.3,413.9h1.5v1.5h-1.5zM387.2,427.7h1.5v1.5h-1.5zM373.4,381.9h1.5v1.5h-1.5zM394.7,396.4h1.5v1.5h-1.5zM368.1,435.8h1.5v1.5h-1.5zM407.7,408.2h1.5v1.5h-1.5zM407.6,406.1h1.5v1.5h-1.5zM400.5,410.8h1.5v1.5h-1.5zM413.4,393.3h1.5v1.5h-1.5zM376.9,414.8h1.5v1.5h-1.5zM382.2,383.7h1.5v1.5h-1.5zM411.8,397.6h1.5v1.5h-1.5zM420.3,393.6h1.5v1.5h-1.5zM398.1,408.3h1.5v1.5h-1.5zM378.8,375.3h1.5v1.5h-1.5zM376.7,414.0h1.5v1.5h-1.5zM373.1,378.4h1.5v1.5h-1.5zM389.3,412.4h1.5v1.5h-1.5zM366.9,428.3h1.5v1.5h-1.5zM393.9,385.4h1.5v1.5h-1.5zM421.9,392.7h1.5v1.5h-1.5zM410.8,397.5h1.5v1.5h-1.5zM372.7,419.5h1.5v1.5h-1.5zM383.7,372.2h1.5v1.5h-1.5zM398.7,409.4h1.5v1.5h-1.5zM370.6,385.5h1.5v1.5h-1.5zM366.2,409.9h1.5v1.5h-1.5zM378.5,367.6h1.5v1.5h-1.5zM370.1,426.5h1.5v1.5h-1.5zM414.0,425.7h1.5v1.5h-1.5zM371.5,425.7h1.5v1.5h-1.5zM382.5,369.7h1.5v1.5h-1.5zM414.9,413.3h1.5v1.5h-1.5zM394.9,397.3h1.5v1.5h-1.5zM389.7,396.5h1.5v1.5h-1.5zM379.8,385.3h1.5v1.5h-1.5zM414.1,422.3h1.5v1.5h-1.5zM367.7,390.2h1.5v1.5h-1.5zM377.7,369.9h1.5v1.5h-1.5zM360.6,403.5h1.5v1.5h-1.5zM409.2,398.0h1.5v1.5h-1.5zM412.9,402.4h1.5v1.5h-1.5zM380.0,410.3h1.5v1.5h-1.5zM394.6,387.4h1.5v1.5h-1.5zM413.0,413.9h1.5v1.5h-1.5zM414.2,417.8h1.5v1.5h-1.5zM367.3,431.0h1.5v1.5h-1.5zM413.6,416.0h1.5v1.5h-1.5zM374.5,386.9h1.5v1.5h-1.5zM388.2,373.3h1.5v1.5h-1.5zM372.6,383.0h1.5v1.5h-1.5zM363.1,416.8h1.5v1.5h-1.5zM413.7,428.9h1.5v1.5h-1.5zM387.4,381.8h1.5v1.5h-1.5zM382.5,388.5h1.5v1.5h-1.5zM363.2,402.6h1.5v1.5h-1.5zM408.6,406.8h1.5v1.5h-1.5zM381.4,387.0h1.5v1.5h-1.5zM382.1,412.0h1.5v1.5h-1.5zM380.0,383.1h1.5v1.5h-1.5zM411.8,392.1h1.5v1.5h-1.5zM363.7,418.4h1.5v1.5h-1.5zM387.0,411.8h1.5v1.5h-1.5zM358.2,405.3h1.5v1.5h-1.5zM372.1,380.8h1.5v1.5h-1.5zM384.2,368.3h1.5v1.5h-1.5zM361.1,401.1h1.5v1.5h-1.5zM414.8,426.3h1.5v1.5h-1.5zM388.1,415.2h1.5v1.5h-1.5zM404.7,411.1h1.5v1.5h-1.5zM357.7,409.7h1.5v1.5h-1.5zM386.6,417.2h1.5v1.5h-1.5zM397.6,411.1h1.5v1.5h-1.5zM409.6,409.5h1.5v1.5h-1.5zM397.7,402.1h1.5v1.5h-1.5zM396.2,402.1h1.5v1.5h-1.5zM400.2,400.0h1.5v1.5h-1.5zM404.3,398.5h1.5v1.5h-1.5zM367.8,417.0h1.5v1.5h-1.5zM405.2,401.6h1.5v1.5h-1.5zM408.1,402.5h1.5v1.5h-1.5zM364.4,401.1h1.5v1.5h-1.5zM409.0,406.8h1.5v1.5h-1.5zM404.5,396.0h1.5v1.5h-1.5zM406.5,412.6h1.5v1.5h-1.5zM380.6,411.7h1.5v1.5h-1.5zM399.4,408.4h1.5v1.5h-1.5zM378.6,412.6h1.5v1.5h-1.5zM370.4,418.0h1.5v1.5h-1.5zM379.2,376.5h1.5v1.5h-1.5zM361.8,397.1h1.5v1.5h-1.5zM372.0,386.2h1.5v1.5h-1.5zM416.7,413.7h1.5v1.5h-1.5zM387.2,382.7h1.5v1.5h-1.5zM385.7,419.3h1.5v1.5h-1.5zM395.6,393.5h1.5v1.5h-1.5zM407.6,408.9h1.5v1.5h-1.5zM370.9,388.8h1.5v1.5h-1.5zM404.3,412.4h1.5v1.5h-1.5zM362.6,399.2h1.5v1.5h-1.5zM389.4,380.3h1.5v1.5h-1.5zM383.9,378.5h1.5v1.5h-1.5zM372.0,419.7h1.5v1.5h-1.5zM362.2,404.9h1.5v1.5h-1.5zM404.5,413.2h1.5v1.5h-1.5zM366.1,423.0h1.5v1.5h-1.5zM367.4,430.4h1.5v1.5h-1.5zM388.8,369.1h1.5v1.5h-1.5zM365.9,405.1h1.5v1.5h-1.5zM378.4,374.8h1.5v1.5h-1.5zM369.5,389.0h1.5v1.5h-1.5zM386.9,391.9h1.5v1.5h-1.5zM389.3,388.3h1.5v1.5h-1.5zM404.9,419.5h1.5v1.5h-1.5zM361.7,405.5h1.5v1.5h-1.5zM386.7,420.0h1.5v1.5h-1.5zM398.8,393.1h1.5v1.5h-1.5zM372.3,374.8h1.5v1.5h-1.5zM398.2,397.7h1.5v1.5h-1.5zM385.2,384.0h1.5v1.5h-1.5zM372.6,414.5h1.5v1.5h-1.5zM376.5,387.8h1.5v1.5h-1.5zM417.8,398.5h1.5v1.5h-1.5zM373.1,411.9h1.5v1.5h-1.5zM366.8,403.7h1.5v1.5h-1.5zM406.0,418.3h1.5v1.5h-1.5zM383.4,418.0h1.5v1.5h-1.5zM391.8,412.5h1.5v1.5h-1.5zM418.3,397.5h1.5v1.5h-1.5zM365.8,417.5h1.5v1.5h-1.5zM414.5,398.8h1.5v1.5h-1.5zM390.6,370.3h1.5v1.5h-1.5zM412.6,428.7h1.5v1.5h-1.5zM368.7,411.4h1.5v1.5h-1.5zM371.6,414.7h1.5v1.5h-1.5zM378.0,388.4h1.5v1.5h-1.5zM369.2,422.6h1.5v1.5h-1.5zM393.2,375.6h1.5v1.5h-1.5zM403.4,413.4h1.5v1.5h-1.5zM372.9,384.6h1.5v1.5h-1.5zM408.0,412.1h1.5v1.5h-1.5zM401.4,411.9h1.5v1.5h-1.5zM367.2,419.3h1.5v1.5h-1.5zM389.5,370.5h1.5v1.5h-1.5zM419.6,401.7h1.5v1.5h-1.5zM386.7,428.3h1.5v1.5h-1.5zM389.9,399.9h1.5v1.5h-1.5zM387.2,417.1h1.5v1.5h-1.5zM368.8,426.9h1.5v1.5h-1.5zM393.7,387.6h1.5v1.5h-1.5zM376.1,372.3h1.5v1.5h-1.5zM371.7,421.4h1.5v1.5h-1.5zM404.4,397.6h1.5v1.5h-1.5zM371.6,385.0h1.5v1.5h-1.5zM376.2,373.1h1.5v1.5h-1.5zM414.3,422.5h1.5v1.5h-1.5zM386.9,414.9h1.5v1.5h-1.5zM381.4,381.8h1.5v1.5h-1.5zM368.1,412.8h1.5v1.5h-1.5zM371.4,384.6h1.5v1.5h-1.5zM390.3,414.7h1.5v1.5h-1.5zM373.3,382.0h1.5v1.5h-1.5zM398.9,399.5h1.5v1.5h-1.5zM392.8,386.5h1.5v1.5h-1.5zM398.4,411.1h1.5v1.5h-1.5zM365.9,400.6h1.5v1.5h-1.5zM377.5,388.1h1.5v1.5h-1.5zM392.3,381.1h1.5v1.5h-1.5zM395.2,411.0h1.5v1.5h-1.5zM403.2,397.0h1.5v1.5h-1.5zM395.3,405.5h1.5v1.5h-1.5zM413.4,410.0h1.5v1.5h-1.5zM368.4,428.8h1.5v1.5h-1.5zM387.3,418.2h1.5v1.5h-1.5zM366.2,417.0h1.5v1.5h-1.5zM377.8,412.2h1.5v1.5h-1.5zM408.5,403.6h1.5v1.5h-1.5zM409.7,422.0h1.5v1.5h-1.5zM399.0,395.4h1.5v1.5h-1.5zM365.5,405.6h1.5v1.5h-1.5zM397.5,397.1h1.5v1.5h-1.5zM369.4,410.3h1.5v1.5h-1.5zM408.6,414.0h1.5v1.5h-1.5zM370.8,420.2h1.5v1.5h-1.5zM365.5,404.4h1.5v1.5h-1.5zM379.1,367.5h1.5v1.5h-1.5zM402.5,412.0h1.5v1.5h-1.5zM380.0,381.0h1.5v1.5h-1.5zM410.5,389.2h1.5v1.5h-1.5zM401.1,406.8h1.5v1.5h-1.5zM397.3,412.9h1.5v1.5h-1.5zM415.7,430.2h1.5v1.5h-1.5zM409.0,398.8h1.5v1.5h-1.5zM392.5,379.4h1.5v1.5h-1.5zM359.7,410.5h1.5v1.5h-1.5zM382.4,378.0h1.5v1.5h-1.5zM369.4,388.7h1.5v1.5h-1.5zM366.3,427.2h1.5v1.5h-1.5zM395.6,392.6h1.5v1.5h-1.5zM364.6,403.3h1.5v1.5h-1.5zM378.2,378.1h1.5v1.5h-1.5zM398.1,411.1h1.5v1.5h-1.5zM410.0,404.5h1.5v1.5h-1.5zM368.0,399.5h1.5v1.5h-1.5zM416.8,415.8h1.5v1.5h-1.5zM388.9,393.3h1.5v1.5h-1.5zM368.1,410.6h1.5v1.5h-1.5zM382.4,380.7h1.5v1.5h-1.5zM376.2,388.1h1.5v1.5h-1.5zM404.2,423.9h1.5v1.5h-1.5zM410.0,423.8h1.5v1.5h-1.5zM361.5,406.1h1.5v1.5h-1.5zM415.5,423.1h1.5v1.5h-1.5zM412.6,391.6h1.5v1.5h-1.5zM383.3,368.0h1.5v1.5h-1.5zM397.2,402.1h1.5v1.5h-1.5zM414.3,400.2h1.5v1.5h-1.5zM380.6,414.1h1.5v1.5h-1.5zM389.4,369.9h1.5v1.5h-1.5zM419.7,398.2h1.5v1.5h-1.5zM386.2,412.0h1.5v1.5h-1.5zM414.6,411.7h1.5v1.5h-1.5zM403.6,393.0h1.5v1.5h-1.5zM390.9,383.1h1.5v1.5h-1.5zM403.6,399.5h1.5v1.5h-1.5zM380.8,368.6h1.5v1.5h-1.5zM391.6,411.5h1.5v1.5h-1.5zM366.2,397.6h1.5v1.5h-1.5zM375.5,386.6h1.5v1.5h-1.5zM385.1,368.6h1.5v1.5h-1.5zM375.3,370.7h1.5v1.5h-1.5zM369.4,424.5h1.5v1.5h-1.5zM389.8,414.6h1.5v1.5h-1.5zM415.9,393.3h1.5v1.5h-1.5zM381.7,377.6h1.5v1.5h-1.5zM397.7,394.2h1.5v1.5h-1.5zM366.2,416.3h1.5v1.5h-1.5zM406.3,420.4h1.5v1.5h-1.5zM413.2,421.3h1.5v1.5h-1.5zM377.1,374.7h1.5v1.5h-1.5zM401.1,410.5h1.5v1.5h-1.5zM414.3,426.6h1.5v1.5h-1.5zM407.3,423.9h1.5v1.5h-1.5zM360.6,410.4h1.5v1.5h-1.5zM388.7,377.5h1.5v1.5h-1.5zM411.3,406.7h1.5v1.5h-1.5zM386.0,404.0h1.5v1.5h-1.5zM414.0,421.7h1.5v1.5h-1.5zM405.4,409.2h1.5v1.5h-1.5zM368.2,384.9h1.5v1.5h-1.5zM389.1,391.7h1.5v1.5h-1.5zM361.2,415.5h1.5v1.5h-1.5zM415.4,389.5h1.5v1.5h-1.5zM416.6,392.8h1.5v1.5h-1.5zM409.3,395.2h1.5v1.5h-1.5zM366.1,416.6h1.5v1.5h-1.5zM415.4,399.3h1.5v1.5h-1.5zM404.9,405.5h1.5v1.5h-1.5zM363.8,395.3h1.5v1.5h-1.5zM390.0,381.6h1.5v1.5h-1.5zM402.8,408.0h1.5v1.5h-1.5zM359.7,406.8h1.5v1.5h-1.5zM421.3,395.9h1.5v1.5h-1.5zM362.9,401.2h1.5v1.5h-1.5zM407.5,427.6h1.5v1.5h-1.5zM371.7,376.6h1.5v1.5h-1.5zM377.0,386.1h1.5v1.5h-1.5zM416.4,414.5h1.5v1.5h-1.5zM402.0,403.6h1.5v1.5h-1.5zM405.4,413.9h1.5v1.5h-1.5zM363.7,401.7h1.5v1.5h-1.5zM407.7,421.1h1.5v1.5h-1.5zM395.6,413.1h1.5v1.5h-1.5zM362.7,420.7h1.5v1.5h-1.5zM411.1,405.2h1.5v1.5h-1.5zM394.3,401.9h1.5v1.5h-1.5zM368.1,405.7h1.5v1.5h-1.5zM390.8,392.4h1.5v1.5h-1.5zM392.2,379.3h1.5v1.5h-1.5zM383.3,387.3h1.5v1.5h-1.5zM401.6,409.6h1.5v1.5h-1.5zM380.2,384.7h1.5v1.5h-1.5zM413.5,417.7h1.5v1.5h-1.5zM384.3,389.5h1.5v1.5h-1.5zM409.9,401.0h1.5v1.5h-1.5zM415.9,397.0h1.5v1.5h-1.5zM370.8,385.7h1.5v1.5h-1.5zM410.1,408.2h1.5v1.5h-1.5zM369.2,423.7h1.5v1.5h-1.5zM388.5,416.8h1.5v1.5h-1.5zM378.1,387.6h1.5v1.5h-1.5zM372.3,418.7h1.5v1.5h-1.5zM411.8,390.5h1.5v1.5h-1.5zM383.0,368.6h1.5v1.5h-1.5zM363.7,421.9h1.5v1.5h-1.5zM382.2,417.0h1.5v1.5h-1.5zM372.3,376.1h1.5v1.5h-1.5zM387.1,392.7h1.5v1.5h-1.5zM397.2,398.5h1.5v1.5h-1.5zM414.3,396.0h1.5v1.5h-1.5zM411.4,427.2h1.5v1.5h-1.5zM383.5,370.7h1.5v1.5h-1.5zM412.1,417.8h1.5v1.5h-1.5zM405.2,402.8h1.5v1.5h-1.5zM401.8,406.7h1.5v1.5h-1.5zM388.4,373.9h1.5v1.5h-1.5zM410.4,416.4h1.5v1.5h-1.5zM386.4,379.9h1.5v1.5h-1.5zM386.6,414.6h1.5v1.5h-1.5zM369.5,423.0h1.5v1.5h-1.5zM381.4,373.4h1.5v1.5h-1.5zM367.6,392.7h1.5v1.5h-1.5zM419.2,390.0h1.5v1.5h-1.5zM378.6,382.1h1.5v1.5h-1.5zM371.7,391.5h1.5v1.5h-1.5zM369.9,420.6h1.5v1.5h-1.5zM408.0,426.1h1.5v1.5h-1.5zM396.9,374.0h1.5v1.5h-1.5zM408.8,428.2h1.5v1.5h-1.5zM390.5,368.5h1.5v1.5h-1.5zM411.8,416.9h1.5v1.5h-1.5zM407.3,424.3h1.5v1.5h-1.5zM375.2,374.8h1.5v1.5h-1.5zM414.6,388.5h1.5v1.5h-1.5zM405.5,412.0h1.5v1.5h-1.5zM409.1,407.4h1.5v1.5h-1.5zM391.6,394.2h1.5v1.5h-1.5zM413.7,415.3h1.5v1.5h-1.5zM384.0,411.0h1.5v1.5h-1.5zM392.1,400.8h1.5v1.5h-1.5zM401.6,403.0h1.5v1.5h-1.5zM418.1,399.4h1.5v1.5h-1.5zM378.5,385.9h1.5v1.5h-1.5zM364.4,406.5h1.5v1.5h-1.5zM372.0,416.4h1.5v1.5h-1.5zM414.3,414.3h1.5v1.5h-1.5zM370.4,379.7h1.5v1.5h-1.5zM406.3,416.0h1.5v1.5h-1.5zM386.4,391.2h1.5v1.5h-1.5zM408.7,420.3h1.5v1.5h-1.5zM407.7,407.6h1.5v1.5h-1.5zM376.0,415.9h1.5v1.5h-1.5zM364.7,397.7h1.5v1.5h-1.5zM411.5,414.1h1.5v1.5h-1.5zM413.5,408.9h1.5v1.5h-1.5zM415.1,420.4h1.5v1.5h-1.5zM408.2,415.4h1.5v1.5h-1.5zM407.1,394.4h1.5v1.5h-1.5zM398.1,402.2h1.5v1.5h-1.5zM368.9,377.5h1.5v1.5h-1.5zM380.9,372.3h1.5v1.5h-1.5zM408.7,390.9h1.5v1.5h-1.5zM394.0,374.7h1.5v1.5h-1.5zM365.5,428.7h1.5v1.5h-1.5zM395.9,407.5h1.5v1.5h-1.5zM375.0,374.9h1.5v1.5h-1.5zM390.5,375.0h1.5v1.5h-1.5zM415.1,398.0h1.5v1.5h-1.5zM388.3,398.6h1.5v1.5h-1.5zM396.6,394.0h1.5v1.5h-1.5zM415.6,398.6h1.5v1.5h-1.5zM398.4,417.8h1.5v1.5h-1.5zM377.1,383.8h1.5v1.5h-1.5zM415.9,420.9h1.5v1.5h-1.5zM367.2,397.4h1.5v1.5h-1.5zM388.0,412.5h1.5v1.5h-1.5zM393.0,412.4h1.5v1.5h-1.5zM367.5,389.6h1.5v1.5h-1.5zM391.6,374.2h1.5v1.5h-1.5zM376.0,418.2h1.5v1.5h-1.5zM365.4,416.0h1.5v1.5h-1.5zM420.2,402.4h1.5v1.5h-1.5zM393.4,402.1h1.5v1.5h-1.5zM400.2,403.0h1.5v1.5h-1.5zM396.6,401.8h1.5v1.5h-1.5zM358.9,412.3h1.5v1.5h-1.5zM368.5,417.3h1.5v1.5h-1.5zM364.7,414.5h1.5v1.5h-1.5zM399.8,410.2h1.5v1.5h-1.5zM393.4,387.4h1.5v1.5h-1.5zM370.1,433.2h1.5v1.5h-1.5zM402.8,409.4h1.5v1.5h-1.5zM415.9,415.7h1.5v1.5h-1.5zM398.9,416.6h1.5v1.5h-1.5zM362.1,397.8h1.5v1.5h-1.5zM377.5,384.0h1.5v1.5h-1.5zM407.4,421.3h1.5v1.5h-1.5zM385.9,374.9h1.5v1.5h-1.5zM370.8,378.7h1.5v1.5h-1.5zM393.9,386.3h1.5v1.5h-1.5zM383.8,411.1h1.5v1.5h-1.5zM360.2,407.2h1.5v1.5h-1.5zM406.8,402.6h1.5v1.5h-1.5zM393.8,401.2h1.5v1.5h-1.5zM367.1,392.2h1.5v1.5h-1.5zM365.4,404.0h1.5v1.5h-1.5zM367.2,402.9h1.5v1.5h-1.5zM383.1,384.6h1.5v1.5h-1.5zM368.8,418.4h1.5v1.5h-1.5zM390.6,411.6h1.5v1.5h-1.5zM398.4,404.3h1.5v1.5h-1.5zM362.1,395.2h1.5v1.5h-1.5zM413.7,401.4h1.5v1.5h-1.5zM397.0,396.1h1.5v1.5h-1.5zM418.5,390.3h1.5v1.5h-1.5zM393.4,411.8h1.5v1.5h-1.5zM398.9,415.0h1.5v1.5h-1.5zM368.1,383.2h1.5v1.5h-1.5zM393.1,400.6h1.5v1.5h-1.5zM404.1,413.1h1.5v1.5h-1.5zM404.3,401.5h1.5v1.5h-1.5zM373.3,387.1h1.5v1.5h-1.5zM364.6,424.2h1.5v1.5h-1.5zM389.7,413.4h1.5v1.5h-1.5zM381.0,371.5h1.5v1.5h-1.5zM410.9,421.6h1.5v1.5h-1.5zM388.9,372.7h1.5v1.5h-1.5zM415.1,409.3h1.5v1.5h-1.5zM385.4,371.7h1.5v1.5h-1.5zM395.0,411.1h1.5v1.5h-1.5z" fill="#c4c4d8"/>
<path d="M393.2,408.1h1.5v1.5h-1.5zM394.2,408.0h1.5v1.5h-1.5zM399.9,378.1h1.5v1.5h-1.5zM403.5,371.6h1.5v1.5h-1.5zM411.3,388.4h1.5v1.5h-1.5zM408.0,383.8h1.5v1.5h-1.5zM387.9,411.8h1.5v1.5h-1.5zM414.0,381.7h1.5v1.5h-1.5zM414.0,390.0h1.5v1.5h-1.5zM409.5,390.6h1.5v1.5h-1.5zM413.2,385.7h1.5v1.5h-1.5zM411.3,381.1h1.5v1.5h-1.5zM402.5,370.7h1.5v1.5h-1.5zM406.2,379.4h1.5v1.5h-1.5zM403.7,372.2h1.5v1.5h-1.5zM399.4,371.7h1.5v1.5h-1.5zM401.0,373.7h1.5v1.5h-1.5zM398.1,372.4h1.5v1.5h-1.5zM407.5,369.3h1.5v1.5h-1.5zM403.4,376.5h1.5v1.5h-1.5zM395.9,389.2h1.5v1.5h-1.5zM400.0,373.7h1.5v1.5h-1.5zM392.8,379.5h1.5v1.5h-1.5zM391.7,402.9h1.5v1.5h-1.5zM416.9,389.4h1.5v1.5h-1.5zM405.5,389.6h1.5v1.5h-1.5zM387.0,407.2h1.5v1.5h-1.5zM402.5,371.4h1.5v1.5h-1.5z" fill="#8c70e6"/>
<path d="M392.0,367.7h1.5v1.5h-1.5zM415.3,383.6h1.5v1.5h-1.5zM386.0,403.7h1.5v1.5h-1.5zM399.3,370.7h1.5v1.5h-1.5zM390.3,382.3h1.5v1.5h-1.5zM410.4,377.7h1.5v1.5h-1.5zM397.9,371.9h1.5v1.5h-1.5zM388.6,375.8h1.5v1.5h-1.5zM396.4,386.2h1.5v1.5h-1.5zM399.1,397.7h1.5v1.5h-1.5zM413.7,381.3h1.5v1.5h-1.5zM408.7,395.3h1.5v1.5h-1.5zM398.5,366.8h1.5v1.5h-1.5zM394.0,373.4h1.5v1.5h-1.5zM408.2,387.4h1.5v1.5h-1.5zM395.4,394.1h1.5v1.5h-1.5zM387.5,388.6h1.5v1.5h-1.5zM405.7,378.8h1.5v1.5h-1.5zM414.1,397.5h1.5v1.5h-1.5zM396.4,379.5h1.5v1.5h-1.5zM406.5,379.9h1.5v1.5h-1.5zM401.8,368.8h1.5v1.5h-1.5zM403.9,377.7h1.5v1.5h-1.5zM405.6,371.1h1.5v1.5h-1.5zM416.6,388.7h1.5v1.5h-1.5zM405.7,371.3h1.5v1.5h-1.5zM386.5,385.7h1.5v1.5h-1.5zM406.5,386.7h1.5v1.5h-1.5zM406.4,397.3h1.5v1.5h-1.5zM400.4,381.4h1.5v1.5h-1.5zM385.4,409.3h1.5v1.5h-1.5zM388.0,410.1h1.5v1.5h-1.5zM401.7,378.3h1.5v1.5h-1.5zM404.9,374.4h1.5v1.5h-1.5zM414.5,393.3h1.5v1.5h-1.5zM392.6,402.8h1.5v1.5h-1.5zM395.0,374.3h1.5v1.5h-1.5zM396.2,390.6h1.5v1.5h-1.5zM410.8,377.4h1.5v1.5h-1.5zM392.1,403.7h1.5v1.5h-1.5zM394.0,381.9h1.5v1.5h-1.5zM404.7,390.8h1.5v1.5h-1.5zM395.6,408.3h1.5v1.5h-1.5zM383.0,377.4h1.5v1.5h-1.5zM383.5,372.7h1.5v1.5h-1.5z" fill="#7e62e6"/>
<path d="M387.6,382.9h1.5v1.5h-1.5zM400.6,375.5h1.5v1.5h-1.5zM404.5,384.2h1.5v1.5h-1.5zM397.7,386.8h1.5v1.5h-1.5zM406.9,390.1h1.5v1.5h-1.5zM399.1,389.7h1.5v1.5h-1.5zM408.4,389.1h1.5v1.5h-1.5zM393.0,382.9h1.5v1.5h-1.5zM398.7,385.3h1.5v1.5h-1.5zM389.9,407.3h1.5v1.5h-1.5zM407.7,375.3h1.5v1.5h-1.5zM389.4,406.1h1.5v1.5h-1.5zM417.0,386.8h1.5v1.5h-1.5zM385.0,381.7h1.5v1.5h-1.5zM397.7,381.7h1.5v1.5h-1.5zM414.5,392.9h1.5v1.5h-1.5zM411.8,391.9h1.5v1.5h-1.5zM399.2,376.6h1.5v1.5h-1.5zM397.8,379.2h1.5v1.5h-1.5zM395.8,379.5h1.5v1.5h-1.5zM404.0,388.9h1.5v1.5h-1.5zM404.2,383.6h1.5v1.5h-1.5zM392.1,401.7h1.5v1.5h-1.5zM391.4,388.0h1.5v1.5h-1.5zM385.2,382.5h1.5v1.5h-1.5zM394.3,378.5h1.5v1.5h-1.5zM413.3,381.6h1.5v1.5h-1.5zM409.2,384.7h1.5v1.5h-1.5zM393.8,382.2h1.5v1.5h-1.5zM411.3,380.2h1.5v1.5h-1.5zM401.8,373.6h1.5v1.5h-1.5zM407.4,389.0h1.5v1.5h-1.5zM394.0,378.3h1.5v1.5h-1.5zM410.4,387.9h1.5v1.5h-1.5zM415.8,393.8h1.5v1.5h-1.5zM405.2,370.0h1.5v1.5h-1.5zM390.4,380.5h1.5v1.5h-1.5zM415.1,388.3h1.5v1.5h-1.5zM407.9,385.6h1.5v1.5h-1.5z" fill="#7054e6"/>
<path d="M410.1,387.7h1.5v1.5h-1.5zM405.8,394.0h1.5v1.5h-1.5zM387.6,365.1h1.5v1.5h-1.5zM393.7,372.9h1.5v1.5h-1.5zM402.5,371.0h1.5v1.5h-1.5zM413.4,389.9h1.5v1.5h-1.5zM387.6,381.7h1.5v1.5h-1.5zM401.9,390.9h1.5v1.5h-1.5zM400.0,381.1h1.5v1.5h-1.5zM403.7,368.9h1.5v1.5h-1.5zM391.5,389.4h1.5v1.5h-1.5zM404.5,382.2h1.5v1.5h-1.5zM406.5,390.7h1.5v1.5h-1.5zM408.1,387.2h1.5v1.5h-1.5zM399.2,369.9h1.5v1.5h-1.5zM395.7,384.0h1.5v1.5h-1.5zM396.2,379.2h1.5v1.5h-1.5zM391.5,379.6h1.5v1.5h-1.5zM406.8,373.1h1.5v1.5h-1.5zM401.8,381.6h1.5v1.5h-1.5zM414.6,388.6h1.5v1.5h-1.5zM406.2,380.6h1.5v1.5h-1.5zM391.0,406.6h1.5v1.5h-1.5zM406.4,385.5h1.5v1.5h-1.5zM391.4,367.1h1.5v1.5h-1.5zM393.8,374.6h1.5v1.5h-1.5zM414.8,391.1h1.5v1.5h-1.5zM387.5,370.1h1.5v1.5h-1.5zM401.0,378.5h1.5v1.5h-1.5zM392.8,375.8h1.5v1.5h-1.5zM407.1,388.4h1.5v1.5h-1.5zM405.1,378.3h1.5v1.5h-1.5zM393.9,390.7h1.5v1.5h-1.5zM412.0,384.4h1.5v1.5h-1.5zM398.1,377.3h1.5v1.5h-1.5zM394.1,372.5h1.5v1.5h-1.5zM412.1,385.9h1.5v1.5h-1.5zM395.9,383.9h1.5v1.5h-1.5zM392.6,408.7h1.5v1.5h-1.5zM395.2,380.3h1.5v1.5h-1.5zM414.6,380.8h1.5v1.5h-1.5zM392.9,391.1h1.5v1.5h-1.5zM404.8,369.2h1.5v1.5h-1.5zM403.6,388.7h1.5v1.5h-1.5zM392.4,380.1h1.5v1.5h-1.5zM394.6,384.2h1.5v1.5h-1.5zM399.6,364.9h1.5v1.5h-1.5zM400.5,386.6h1.5v1.5h-1.5zM389.8,407.9h1.5v1.5h-1.5zM407.7,380.3h1.5v1.5h-1.5zM387.9,372.8h1.5v1.5h-1.5zM404.9,378.2h1.5v1.5h-1.5zM397.2,378.9h1.5v1.5h-1.5zM416.7,389.4h1.5v1.5h-1.5zM395.9,382.3h1.5v1.5h-1.5zM414.8,386.3h1.5v1.5h-1.5zM404.0,388.7h1.5v1.5h-1.5zM397.0,378.7h1.5v1.5h-1.5zM408.3,394.0h1.5v1.5h-1.5zM395.6,368.3h1.5v1.5h-1.5zM391.3,392.7h1.5v1.5h-1.5zM390.1,410.2h1.5v1.5h-1.5zM388.4,404.8h1.5v1.5h-1.5zM413.1,378.1h1.5v1.5h-1.5zM397.4,372.6h1.5v1.5h-1.5zM410.2,383.5h1.5v1.5h-1.5zM408.0,393.4h1.5v1.5h-1.5zM412.6,383.1h1.5v1.5h-1.5zM400.9,366.3h1.5v1.5h-1.5zM405.2,389.0h1.5v1.5h-1.5zM416.6,389.0h1.5v1.5h-1.5z" fill="#7062e6"/>
<path d="M411.6,385.7h1.5v1.5h-1.5zM419.1,386.9h1.5v1.5h-1.5zM391.1,380.3h1.5v1.5h-1.5zM389.2,409.4h1.5v1.5h-1.5zM401.4,391.9h1.5v1.5h-1.5zM387.7,372.9h1.5v1.5h-1.5zM405.0,392.8h1.5v1.5h-1.5zM394.2,373.6h1.5v1.5h-1.5zM406.7,384.8h1.5v1.5h-1.5zM396.0,382.5h1.5v1.5h-1.5zM388.0,409.6h1.5v1.5h-1.5zM407.4,396.2h1.5v1.5h-1.5zM407.9,377.5h1.5v1.5h-1.5zM407.6,382.1h1.5v1.5h-1.5zM396.8,407.0h1.5v1.5h-1.5zM390.4,375.4h1.5v1.5h-1.5zM407.8,375.3h1.5v1.5h-1.5zM414.1,381.0h1.5v1.5h-1.5zM389.9,412.0h1.5v1.5h-1.5zM386.2,367.7h1.5v1.5h-1.5zM393.9,366.5h1.5v1.5h-1.5zM405.0,372.4h1.5v1.5h-1.5zM407.1,377.8h1.5v1.5h-1.5zM404.3,372.6h1.5v1.5h-1.5zM416.0,385.6h1.5v1.5h-1.5zM405.0,368.5h1.5v1.5h-1.5zM395.5,372.9h1.5v1.5h-1.5zM401.6,379.8h1.5v1.5h-1.5zM409.4,388.2h1.5v1.5h-1.5zM415.6,389.7h1.5v1.5h-1.5zM401.5,373.6h1.5v1.5h-1.5zM389.4,404.9h1.5v1.5h-1.5zM404.7,393.7h1.5v1.5h-1.5zM391.8,401.0h1.5v1.5h-1.5zM405.0,369.6h1.5v1.5h-1.5zM409.1,385.0h1.5v1.5h-1.5zM401.8,381.6h1.5v1.5h-1.5zM408.4,386.2h1.5v1.5h-1.5zM408.8,395.0h1.5v1.5h-1.5zM397.7,385.1h1.5v1.5h-1.5zM390.1,406.4h1.5v1.5h-1.5zM419.5,388.7h1.5v1.5h-1.5zM391.6,387.3h1.5v1.5h-1.5zM400.3,386.7h1.5v1.5h-1.5zM404.8,394.8h1.5v1.5h-1.5zM413.6,390.6h1.5v1.5h-1.5zM403.7,376.2h1.5v1.5h-1.5zM400.7,367.1h1.5v1.5h-1.5zM407.2,382.6h1.5v1.5h-1.5zM401.5,384.9h1.5v1.5h-1.5zM396.8,382.5h1.5v1.5h-1.5zM405.6,394.5h1.5v1.5h-1.5zM417.4,388.1h1.5v1.5h-1.5zM413.0,390.4h1.5v1.5h-1.5zM383.5,376.3h1.5v1.5h-1.5zM393.1,405.8h1.5v1.5h-1.5zM395.3,375.4h1.5v1.5h-1.5zM395.6,409.0h1.5v1.5h-1.5zM397.8,384.1h1.5v1.5h-1.5zM393.0,388.3h1.5v1.5h-1.5zM405.3,391.2h1.5v1.5h-1.5zM387.7,370.9h1.5v1.5h-1.5zM412.6,388.6h1.5v1.5h-1.5zM401.7,387.1h1.5v1.5h-1.5zM400.9,395.5h1.5v1.5h-1.5zM408.2,389.0h1.5v1.5h-1.5zM396.6,370.6h1.5v1.5h-1.5zM395.0,379.4h1.5v1.5h-1.5zM402.8,398.7h1.5v1.5h-1.5zM390.5,402.1h1.5v1.5h-1.5zM405.0,398.0h1.5v1.5h-1.5zM409.8,376.9h1.5v1.5h-1.5zM397.5,387.2h1.5v1.5h-1.5zM390.9,406.5h1.5v1.5h-1.5zM401.5,392.3h1.5v1.5h-1.5zM400.4,392.6h1.5v1.5h-1.5zM389.1,403.9h1.5v1.5h-1.5zM406.3,387.8h1.5v1.5h-1.5zM400.8,377.7h1.5v1.5h-1.5zM390.1,382.0h1.5v1.5h-1.5zM392.3,385.4h1.5v1.5h-1.5zM400.8,382.1h1.5v1.5h-1.5zM410.9,387.8h1.5v1.5h-1.5zM411.9,385.3h1.5v1.5h-1.5zM392.8,402.7h1.5v1.5h-1.5zM393.5,376.3h1.5v1.5h-1.5zM416.2,397.2h1.5v1.5h-1.5zM401.5,381.5h1.5v1.5h-1.5zM404.7,378.0h1.5v1.5h-1.5zM392.7,408.9h1.5v1.5h-1.5zM392.9,384.9h1.5v1.5h-1.5zM402.7,379.0h1.5v1.5h-1.5zM385.5,379.6h1.5v1.5h-1.5zM405.9,384.1h1.5v1.5h-1.5zM409.5,374.5h1.5v1.5h-1.5zM387.7,406.3h1.5v1.5h-1.5zM400.7,369.0h1.5v1.5h-1.5zM397.9,366.6h1.5v1.5h-1.5zM401.6,392.9h1.5v1.5h-1.5zM412.8,379.9h1.5v1.5h-1.5zM389.4,407.6h1.5v1.5h-1.5zM418.0,391.4h1.5v1.5h-1.5zM388.8,383.2h1.5v1.5h-1.5zM410.1,383.2h1.5v1.5h-1.5zM421.9,395.1h1.5v1.5h-1.5zM393.2,406.8h1.5v1.5h-1.5zM393.3,403.3h1.5v1.5h-1.5zM400.3,380.3h1.5v1.5h-1.5zM414.2,381.5h1.5v1.5h-1.5zM388.5,409.8h1.5v1.5h-1.5zM390.8,403.4h1.5v1.5h-1.5zM395.1,386.1h1.5v1.5h-1.5zM404.0,374.2h1.5v1.5h-1.5zM410.6,384.6h1.5v1.5h-1.5zM388.7,383.5h1.5v1.5h-1.5zM415.0,379.4h1.5v1.5h-1.5zM397.2,380.4h1.5v1.5h-1.5z" fill="#7e70e6"/>
<path d="M413.9,389.2h1.5v1.5h-1.5zM386.8,373.8h1.5v1.5h-1.5zM407.7,394.4h1.5v1.5h-1.5zM388.9,375.8h1.5v1.5h-1.5zM402.2,384.6h1.5v1.5h-1.5zM397.8,367.5h1.5v1.5h-1.5zM388.5,402.9h1.5v1.5h-1.5zM404.4,374.5h1.5v1.5h-1.5zM395.7,411.0h1.5v1.5h-1.5zM413.3,383.2h1.5v1.5h-1.5zM406.6,381.0h1.5v1.5h-1.5zM398.2,379.1h1.5v1.5h-1.5zM413.9,381.2h1.5v1.5h-1.5zM405.3,380.7h1.5v1.5h-1.5zM389.2,407.1h1.5v1.5h-1.5zM402.6,375.0h1.5v1.5h-1.5zM395.3,381.4h1.5v1.5h-1.5zM395.5,388.4h1.5v1.5h-1.5zM418.0,386.8h1.5v1.5h-1.5zM387.0,401.2h1.5v1.5h-1.5zM402.0,386.0h1.5v1.5h-1.5zM408.6,385.8h1.5v1.5h-1.5zM389.4,369.1h1.5v1.5h-1.5zM398.4,395.5h1.5v1.5h-1.5zM407.7,390.2h1.5v1.5h-1.5zM393.8,365.3h1.5v1.5h-1.5zM386.4,378.6h1.5v1.5h-1.5zM387.4,377.2h1.5v1.5h-1.5zM409.8,382.7h1.5v1.5h-1.5zM410.5,381.9h1.5v1.5h-1.5zM414.8,388.2h1.5v1.5h-1.5zM416.8,386.4h1.5v1.5h-1.5zM383.6,380.2h1.5v1.5h-1.5zM393.9,403.9h1.5v1.5h-1.5zM399.7,389.4h1.5v1.5h-1.5zM405.5,370.6h1.5v1.5h-1.5zM412.0,380.3h1.5v1.5h-1.5zM396.4,368.2h1.5v1.5h-1.5zM400.2,382.5h1.5v1.5h-1.5zM391.0,365.9h1.5v1.5h-1.5zM410.3,378.1h1.5v1.5h-1.5zM402.4,369.3h1.5v1.5h-1.5zM398.1,386.0h1.5v1.5h-1.5zM407.8,379.2h1.5v1.5h-1.5zM406.3,397.3h1.5v1.5h-1.5zM406.9,390.0h1.5v1.5h-1.5zM407.9,378.5h1.5v1.5h-1.5zM400.6,376.4h1.5v1.5h-1.5zM383.3,377.1h1.5v1.5h-1.5zM392.3,407.1h1.5v1.5h-1.5z" fill="#7054f4"/>
<path d="M399.9,370.8h1.5v1.5h-1.5zM419.1,390.2h1.5v1.5h-1.5zM388.8,401.6h1.5v1.5h-1.5zM385.8,382.3h1.5v1.5h-1.5zM392.4,386.6h1.5v1.5h-1.5zM386.7,378.3h1.5v1.5h-1.5zM389.1,389.3h1.5v1.5h-1.5zM397.7,378.8h1.5v1.5h-1.5zM411.2,398.9h1.5v1.5h-1.5zM394.9,405.1h1.5v1.5h-1.5zM410.2,424.2h1.5v1.5h-1.5zM379.1,412.5h1.5v1.5h-1.5zM384.3,371.3h1.5v1.5h-1.5zM410.6,392.8h1.5v1.5h-1.5zM401.1,382.5h1.5v1.5h-1.5zM402.7,384.0h1.5v1.5h-1.5zM405.7,389.1h1.5v1.5h-1.5zM394.1,408.0h1.5v1.5h-1.5zM394.3,377.4h1.5v1.5h-1.5zM406.1,398.8h1.5v1.5h-1.5zM408.9,398.0h1.5v1.5h-1.5zM395.8,380.4h1.5v1.5h-1.5zM413.4,394.9h1.5v1.5h-1.5zM417.5,389.1h1.5v1.5h-1.5zM390.2,374.3h1.5v1.5h-1.5zM401.8,377.0h1.5v1.5h-1.5zM407.9,379.9h1.5v1.5h-1.5zM385.9,381.9h1.5v1.5h-1.5zM414.6,420.5h1.5v1.5h-1.5zM395.1,383.2h1.5v1.5h-1.5zM392.3,406.9h1.5v1.5h-1.5zM391.0,402.9h1.5v1.5h-1.5zM400.4,389.5h1.5v1.5h-1.5zM407.7,421.0h1.5v1.5h-1.5zM385.5,414.7h1.5v1.5h-1.5zM406.6,371.8h1.5v1.5h-1.5zM396.8,384.2h1.5v1.5h-1.5zM403.9,384.2h1.5v1.5h-1.5zM393.2,409.5h1.5v1.5h-1.5zM408.6,391.6h1.5v1.5h-1.5zM398.1,369.5h1.5v1.5h-1.5zM391.3,366.0h1.5v1.5h-1.5zM410.0,376.8h1.5v1.5h-1.5zM396.9,372.1h1.5v1.5h-1.5zM400.0,375.5h1.5v1.5h-1.5zM405.9,404.9h1.5v1.5h-1.5zM397.7,390.4h1.5v1.5h-1.5zM399.0,379.0h1.5v1.5h-1.5zM408.7,375.7h1.5v1.5h-1.5zM401.7,366.1h1.5v1.5h-1.5zM393.1,381.2h1.5v1.5h-1.5zM419.1,391.3h1.5v1.5h-1.5zM407.4,370.8h1.5v1.5h-1.5zM399.4,370.2h1.5v1.5h-1.5zM402.5,384.6h1.5v1.5h-1.5zM400.1,367.1h1.5v1.5h-1.5zM410.0,376.7h1.5v1.5h-1.5zM399.7,385.7h1.5v1.5h-1.5zM407.6,372.7h1.5v1.5h-1.5zM403.4,370.5h1.5v1.5h-1.5zM406.2,385.2h1.5v1.5h-1.5zM393.4,371.8h1.5v1.5h-1.5zM411.4,408.6h1.5v1.5h-1.5zM392.1,408.3h1.5v1.5h-1.5zM401.0,382.8h1.5v1.5h-1.5zM400.7,367.1h1.5v1.5h-1.5zM391.2,393.3h1.5v1.5h-1.5zM397.7,382.6h1.5v1.5h-1.5zM409.8,379.3h1.5v1.5h-1.5zM391.3,406.6h1.5v1.5h-1.5zM383.2,382.9h1.5v1.5h-1.5zM360.2,412.8h1.5v1.5h-1.5zM406.9,378.3h1.5v1.5h-1.5zM394.3,388.6h1.5v1.5h-1.5zM411.1,377.5h1.5v1.5h-1.5zM384.0,415.1h1.5v1.5h-1.5zM405.6,401.0h1.5v1.5h-1.5zM411.0,391.9h1.5v1.5h-1.5zM406.0,378.1h1.5v1.5h-1.5zM407.7,387.0h1.5v1.5h-1.5zM399.9,403.6h1.5v1.5h-1.5zM390.6,409.5h1.5v1.5h-1.5zM384.7,377.3h1.5v1.5h-1.5zM402.5,383.5h1.5v1.5h-1.5zM410.0,382.0h1.5v1.5h-1.5zM389.1,406.0h1.5v1.5h-1.5zM397.0,384.9h1.5v1.5h-1.5zM405.9,379.9h1.5v1.5h-1.5zM403.3,390.5h1.5v1.5h-1.5zM406.0,397.7h1.5v1.5h-1.5zM414.8,381.5h1.5v1.5h-1.5zM403.6,419.5h1.5v1.5h-1.5zM403.9,386.1h1.5v1.5h-1.5zM396.5,380.4h1.5v1.5h-1.5zM395.2,379.4h1.5v1.5h-1.5zM412.4,376.4h1.5v1.5h-1.5zM415.9,390.9h1.5v1.5h-1.5zM402.5,379.4h1.5v1.5h-1.5zM395.9,377.4h1.5v1.5h-1.5zM397.9,365.9h1.5v1.5h-1.5zM418.1,382.9h1.5v1.5h-1.5zM396.5,382.8h1.5v1.5h-1.5zM386.8,369.1h1.5v1.5h-1.5zM405.5,394.4h1.5v1.5h-1.5zM410.2,376.1h1.5v1.5h-1.5zM401.2,386.6h1.5v1.5h-1.5zM398.7,376.0h1.5v1.5h-1.5zM392.4,380.1h1.5v1.5h-1.5zM398.3,365.7h1.5v1.5h-1.5zM396.1,413.8h1.5v1.5h-1.5zM415.0,382.6h1.5v1.5h-1.5zM409.7,390.4h1.5v1.5h-1.5zM393.6,406.2h1.5v1.5h-1.5zM413.7,410.4h1.5v1.5h-1.5zM402.9,368.8h1.5v1.5h-1.5zM406.6,390.4h1.5v1.5h-1.5zM404.4,401.5h1.5v1.5h-1.5zM404.9,387.7h1.5v1.5h-1.5zM394.6,386.6h1.5v1.5h-1.5zM382.8,376.3h1.5v1.5h-1.5zM409.4,376.5h1.5v1.5h-1.5zM381.1,375.6h1.5v1.5h-1.5zM403.8,379.9h1.5v1.5h-1.5zM392.8,407.7h1.5v1.5h-1.5zM387.5,386.0h1.5v1.5h-1.5zM397.9,367.9h1.5v1.5h-1.5zM403.4,398.6h1.5v1.5h-1.5zM409.2,375.3h1.5v1.5h-1.5zM395.3,396.4h1.5v1.5h-1.5zM387.7,378.4h1.5v1.5h-1.5zM410.2,394.6h1.5v1.5h-1.5zM394.0,394.0h1.5v1.5h-1.5zM404.6,374.5h1.5v1.5h-1.5zM392.6,379.3h1.5v1.5h-1.5zM399.3,411.5h1.5v1.5h-1.5zM366.2,391.7h1.5v1.5h-1.5zM397.6,379.8h1.5v1.5h-1.5zM402.3,367.5h1.5v1.5h-1.5zM409.0,373.4h1.5v1.5h-1.5zM393.4,409.3h1.5v1.5h-1.5zM418.6,391.2h1.5v1.5h-1.5zM394.6,407.4h1.5v1.5h-1.5zM418.3,393.4h1.5v1.5h-1.5zM394.9,374.2h1.5v1.5h-1.5zM397.9,386.6h1.5v1.5h-1.5zM403.6,384.1h1.5v1.5h-1.5zM408.7,388.1h1.5v1.5h-1.5zM401.1,394.2h1.5v1.5h-1.5zM394.2,364.0h1.5v1.5h-1.5zM401.5,372.9h1.5v1.5h-1.5zM396.7,388.6h1.5v1.5h-1.5zM410.3,426.0h1.5v1.5h-1.5zM412.2,392.7h1.5v1.5h-1.5zM405.6,370.1h1.5v1.5h-1.5zM393.0,411.3h1.5v1.5h-1.5zM367.4,416.9h1.5v1.5h-1.5zM399.8,370.1h1.5v1.5h-1.5zM401.5,382.9h1.5v1.5h-1.5z" fill="#8c7ee6"/>
<path d="M366.3,389.9h1.5v1.5h-1.5zM377.9,390.0h1.5v1.5h-1.5zM368.2,407.6h1.5v1.5h-1.5zM386.1,391.9h1.5v1.5h-1.5zM407.4,418.4h1.5v1.5h-1.5zM380.1,376.4h1.5v1.5h-1.5zM375.6,379.4h1.5v1.5h-1.5zM400.2,392.1h1.5v1.5h-1.5zM387.6,412.6h1.5v1.5h-1.5zM417.7,424.2h1.5v1.5h-1.5zM388.1,399.7h1.5v1.5h-1.5zM392.4,398.1h1.5v1.5h-1.5zM386.1,384.4h1.5v1.5h-1.5zM417.0,410.1h1.5v1.5h-1.5zM405.0,399.7h1.5v1.5h-1.5zM380.2,371.5h1.5v1.5h-1.5zM408.9,421.5h1.5v1.5h-1.5zM358.3,402.5h1.5v1.5h-1.5zM375.0,376.1h1.5v1.5h-1.5zM400.7,408.7h1.5v1.5h-1.5zM409.5,405.0h1.5v1.5h-1.5z" fill="#9a9ad8"/>
<path d="M402.2,389.2h1.5v1.5h-1.5zM414.2,389.0h1.5v1.5h-1.5zM380.7,374.6h1.5v1.5h-1.5zM416.1,403.9h1.5v1.5h-1.5zM395.8,409.9h1.5v1.5h-1.5zM401.8,370.8h1.5v1.5h-1.5zM409.0,384.5h1.5v1.5h-1.5zM396.3,382.5h1.5v1.5h-1.5zM393.3,379.0h1.5v1.5h-1.5zM391.9,404.8h1.5v1.5h-1.5zM401.2,379.3h1.5v1.5h-1.5zM410.9,392.6h1.5v1.5h-1.5zM384.8,376.7h1.5v1.5h-1.5zM397.9,369.3h1.5v1.5h-1.5zM400.1,385.9h1.5v1.5h-1.5zM388.7,382.7h1.5v1.5h-1.5zM408.8,393.1h1.5v1.5h-1.5zM396.4,405.2h1.5v1.5h-1.5zM390.2,416.9h1.5v1.5h-1.5zM393.5,400.4h1.5v1.5h-1.5zM386.5,403.6h1.5v1.5h-1.5zM413.0,384.5h1.5v1.5h-1.5zM416.4,384.2h1.5v1.5h-1.5zM416.0,397.0h1.5v1.5h-1.5zM397.2,379.7h1.5v1.5h-1.5zM402.7,370.8h1.5v1.5h-1.5zM413.1,397.1h1.5v1.5h-1.5zM395.4,365.4h1.5v1.5h-1.5zM391.5,373.0h1.5v1.5h-1.5zM403.8,384.7h1.5v1.5h-1.5zM403.3,377.1h1.5v1.5h-1.5zM404.3,402.5h1.5v1.5h-1.5zM404.9,383.8h1.5v1.5h-1.5zM412.8,421.0h1.5v1.5h-1.5zM416.2,381.4h1.5v1.5h-1.5zM391.8,387.8h1.5v1.5h-1.5zM400.5,389.6h1.5v1.5h-1.5zM380.0,386.2h1.5v1.5h-1.5zM400.7,395.2h1.5v1.5h-1.5zM414.5,380.2h1.5v1.5h-1.5zM397.5,370.1h1.5v1.5h-1.5zM394.5,401.8h1.5v1.5h-1.5zM408.7,387.9h1.5v1.5h-1.5zM394.5,403.9h1.5v1.5h-1.5zM389.4,407.8h1.5v1.5h-1.5zM379.0,386.0h1.5v1.5h-1.5zM412.6,379.7h1.5v1.5h-1.5zM416.6,412.3h1.5v1.5h-1.5zM403.8,384.2h1.5v1.5h-1.5zM413.4,384.2h1.5v1.5h-1.5zM390.3,404.4h1.5v1.5h-1.5zM402.7,398.4h1.5v1.5h-1.5zM411.9,385.0h1.5v1.5h-1.5zM399.7,382.5h1.5v1.5h-1.5zM390.8,394.3h1.5v1.5h-1.5zM391.6,373.0h1.5v1.5h-1.5zM386.0,387.1h1.5v1.5h-1.5zM409.8,384.3h1.5v1.5h-1.5zM392.8,380.2h1.5v1.5h-1.5zM415.6,389.8h1.5v1.5h-1.5zM379.9,412.1h1.5v1.5h-1.5zM367.3,431.7h1.5v1.5h-1.5zM390.0,397.9h1.5v1.5h-1.5zM411.2,397.6h1.5v1.5h-1.5zM383.8,391.4h1.5v1.5h-1.5zM370.4,381.6h1.5v1.5h-1.5zM399.4,375.1h1.5v1.5h-1.5zM404.2,371.2h1.5v1.5h-1.5zM395.9,392.6h1.5v1.5h-1.5zM400.8,382.6h1.5v1.5h-1.5zM397.9,396.9h1.5v1.5h-1.5zM410.2,375.1h1.5v1.5h-1.5zM415.0,403.2h1.5v1.5h-1.5zM395.5,376.5h1.5v1.5h-1.5zM392.2,374.6h1.5v1.5h-1.5zM399.7,370.4h1.5v1.5h-1.5zM405.8,391.3h1.5v1.5h-1.5zM419.7,393.3h1.5v1.5h-1.5zM403.4,381.7h1.5v1.5h-1.5zM390.9,367.2h1.5v1.5h-1.5zM367.4,394.3h1.5v1.5h-1.5zM406.9,397.1h1.5v1.5h-1.5zM365.6,394.6h1.5v1.5h-1.5zM379.7,375.2h1.5v1.5h-1.5zM397.6,373.7h1.5v1.5h-1.5zM400.4,369.7h1.5v1.5h-1.5zM400.7,392.3h1.5v1.5h-1.5zM406.6,372.4h1.5v1.5h-1.5zM371.1,421.2h1.5v1.5h-1.5zM403.2,386.3h1.5v1.5h-1.5zM396.9,390.2h1.5v1.5h-1.5zM400.6,386.0h1.5v1.5h-1.5zM411.7,416.0h1.5v1.5h-1.5zM403.1,379.3h1.5v1.5h-1.5zM396.5,371.3h1.5v1.5h-1.5zM413.6,416.9h1.5v1.5h-1.5zM396.1,391.8h1.5v1.5h-1.5zM392.9,379.2h1.5v1.5h-1.5zM406.6,421.9h1.5v1.5h-1.5zM420.4,393.0h1.5v1.5h-1.5zM405.1,374.1h1.5v1.5h-1.5zM394.8,400.2h1.5v1.5h-1.5zM410.9,427.1h1.5v1.5h-1.5zM403.0,391.2h1.5v1.5h-1.5zM415.7,388.1h1.5v1.5h-1.5z" fill="#9a8ce6"/>
<path d="M404.4,406.2h1.5v1.5h-1.5zM388.5,376.2h1.5v1.5h-1.5zM389.1,393.2h1.5v1.5h-1.5zM418.5,390.0h1.5v1.5h-1.5zM373.0,379.0h1.5v1.5h-1.5zM388.4,412.5h1.5v1.5h-1.5zM403.1,386.4h1.5v1.5h-1.5zM415.9,402.9h1.5v1.5h-1.5zM407.8,428.3h1.5v1.5h-1.5zM400.5,376.1h1.5v1.5h-1.5zM358.1,405.2h1.5v1.5h-1.5zM362.9,405.1h1.5v1.5h-1.5zM410.9,380.1h1.5v1.5h-1.5zM397.5,395.5h1.5v1.5h-1.5zM403.3,423.6h1.5v1.5h-1.5zM393.8,372.1h1.5v1.5h-1.5zM409.2,414.4h1.5v1.5h-1.5zM389.6,404.1h1.5v1.5h-1.5zM396.4,380.7h1.5v1.5h-1.5zM391.1,396.0h1.5v1.5h-1.5zM407.7,423.5h1.5v1.5h-1.5zM411.7,394.6h1.5v1.5h-1.5zM399.8,393.9h1.5v1.5h-1.5zM373.0,376.4h1.5v1.5h-1.5zM381.7,410.4h1.5v1.5h-1.5zM396.3,371.0h1.5v1.5h-1.5zM411.8,399.6h1.5v1.5h-1.5zM390.2,377.4h1.5v1.5h-1.5zM414.2,378.3h1.5v1.5h-1.5zM385.5,408.8h1.5v1.5h-1.5zM419.2,401.9h1.5v1.5h-1.5zM389.8,376.3h1.5v1.5h-1.5zM420.5,400.5h1.5v1.5h-1.5zM406.0,387.7h1.5v1.5h-1.5zM384.9,377.3h1.5v1.5h-1.5zM412.2,404.8h1.5v1.5h-1.5zM374.8,410.8h1.5v1.5h-1.5zM412.0,387.0h1.5v1.5h-1.5zM367.1,387.5h1.5v1.5h-1.5zM374.1,416.0h1.5v1.5h-1.5z" fill="#9a8cd8"/>
<path d="M403.3,397.6h1.5v1.5h-1.5zM379.5,375.6h1.5v1.5h-1.5zM413.9,391.7h1.5v1.5h-1.5zM386.5,373.9h1.5v1.5h-1.5zM418.7,400.9h1.5v1.5h-1.5zM380.4,413.8h1.5v1.5h-1.5zM385.4,374.6h1.5v1.5h-1.5zM416.4,385.5h1.5v1.5h-1.5zM368.9,417.2h1.5v1.5h-1.5zM383.3,409.9h1.5v1.5h-1.5zM406.7,401.8h1.5v1.5h-1.5zM371.1,381.7h1.5v1.5h-1.5zM364.1,403.0h1.5v1.5h-1.5zM366.4,421.3h1.5v1.5h-1.5zM380.8,388.2h1.5v1.5h-1.5zM363.2,419.8h1.5v1.5h-1.5zM388.4,371.7h1.5v1.5h-1.5zM370.9,415.3h1.5v1.5h-1.5zM369.6,383.8h1.5v1.5h-1.5zM406.7,397.5h1.5v1.5h-1.5zM382.4,391.3h1.5v1.5h-1.5zM410.6,398.9h1.5v1.5h-1.5zM358.5,412.0h1.5v1.5h-1.5zM415.3,416.3h1.5v1.5h-1.5zM406.1,408.8h1.5v1.5h-1.5zM408.5,414.3h1.5v1.5h-1.5zM373.4,377.5h1.5v1.5h-1.5zM376.5,386.4h1.5v1.5h-1.5zM375.2,371.1h1.5v1.5h-1.5zM396.9,404.6h1.5v1.5h-1.5zM412.5,426.7h1.5v1.5h-1.5zM416.2,391.2h1.5v1.5h-1.5zM373.6,379.4h1.5v1.5h-1.5zM389.8,374.2h1.5v1.5h-1.5zM375.8,374.1h1.5v1.5h-1.5zM362.4,416.0h1.5v1.5h-1.5zM406.6,414.0h1.5v1.5h-1.5zM417.0,412.8h1.5v1.5h-1.5zM372.5,375.2h1.5v1.5h-1.5zM389.5,401.9h1.5v1.5h-1.5zM367.1,409.4h1.5v1.5h-1.5zM363.2,415.6h1.5v1.5h-1.5zM403.4,406.0h1.5v1.5h-1.5zM390.3,372.1h1.5v1.5h-1.5zM364.6,413.1h1.5v1.5h-1.5zM362.0,419.9h1.5v1.5h-1.5zM385.5,368.4h1.5v1.5h-1.5zM392.3,363.2h1.5v1.5h-1.5zM410.6,427.5h1.5v1.5h-1.5zM368.8,424.4h1.5v1.5h-1.5zM405.4,418.9h1.5v1.5h-1.5zM402.2,399.6h1.5v1.5h-1.5zM373.3,380.0h1.5v1.5h-1.5zM388.8,366.6h1.5v1.5h-1.5zM365.5,417.9h1.5v1.5h-1.5zM370.2,424.0h1.5v1.5h-1.5zM390.2,412.0h1.5v1.5h-1.5z" fill="#a89ad8"/>
<path d="M409.2,396.5h1.5v1.5h-1.5zM402.0,396.7h1.5v1.5h-1.5zM418.1,388.4h1.5v1.5h-1.5zM398.8,367.4h1.5v1.5h-1.5zM404.8,393.9h1.5v1.5h-1.5zM391.3,403.3h1.5v1.5h-1.5zM398.5,393.2h1.5v1.5h-1.5zM409.8,393.5h1.5v1.5h-1.5zM399.0,383.3h1.5v1.5h-1.5zM411.8,378.8h1.5v1.5h-1.5zM419.0,390.1h1.5v1.5h-1.5zM402.1,390.3h1.5v1.5h-1.5zM398.5,395.4h1.5v1.5h-1.5zM395.0,406.9h1.5v1.5h-1.5zM400.9,386.9h1.5v1.5h-1.5zM394.5,380.0h1.5v1.5h-1.5zM404.5,368.3h1.5v1.5h-1.5zM411.5,379.7h1.5v1.5h-1.5zM395.9,380.6h1.5v1.5h-1.5zM407.2,386.8h1.5v1.5h-1.5zM406.0,390.6h1.5v1.5h-1.5zM400.1,391.3h1.5v1.5h-1.5z" fill="#6254f4"/>
<path d="M380.2,377.1h1.5v1.5h-1.5zM393.2,405.2h1.5v1.5h-1.5zM365.0,433.4h1.5v1.5h-1.5zM390.4,401.4h1.5v1.5h-1.5zM400.1,393.0h1.5v1.5h-1.5zM403.9,373.3h1.5v1.5h-1.5zM390.5,393.8h1.5v1.5h-1.5zM417.9,417.9h1.5v1.5h-1.5zM397.1,388.3h1.5v1.5h-1.5zM389.8,381.5h1.5v1.5h-1.5zM408.3,388.3h1.5v1.5h-1.5zM409.2,376.6h1.5v1.5h-1.5zM412.2,383.6h1.5v1.5h-1.5zM410.8,381.0h1.5v1.5h-1.5zM408.2,422.8h1.5v1.5h-1.5zM392.0,403.9h1.5v1.5h-1.5zM395.1,377.5h1.5v1.5h-1.5zM391.4,409.6h1.5v1.5h-1.5z" fill="#8c8ce6"/>
<path d="M363.6,422.0h1.5v1.5h-1.5zM369.1,414.0h1.5v1.5h-1.5zM376.3,388.5h1.5v1.5h-1.5zM385.1,387.4h1.5v1.5h-1.5zM404.9,400.6h1.5v1.5h-1.5zM369.3,425.7h1.5v1.5h-1.5zM397.0,413.5h1.5v1.5h-1.5zM408.4,405.4h1.5v1.5h-1.5zM411.4,420.0h1.5v1.5h-1.5zM383.3,372.0h1.5v1.5h-1.5zM393.3,391.8h1.5v1.5h-1.5zM415.6,430.2h1.5v1.5h-1.5zM363.5,404.8h1.5v1.5h-1.5zM408.6,421.6h1.5v1.5h-1.5zM382.4,418.6h1.5v1.5h-1.5zM418.3,404.1h1.5v1.5h-1.5zM363.2,400.9h1.5v1.5h-1.5zM366.5,423.6h1.5v1.5h-1.5zM374.2,381.1h1.5v1.5h-1.5zM394.4,386.3h1.5v1.5h-1.5zM403.0,399.8h1.5v1.5h-1.5zM360.5,412.5h1.5v1.5h-1.5zM386.5,399.6h1.5v1.5h-1.5zM407.1,425.6h1.5v1.5h-1.5zM362.6,415.8h1.5v1.5h-1.5zM394.1,388.9h1.5v1.5h-1.5zM375.2,414.0h1.5v1.5h-1.5zM371.9,415.2h1.5v1.5h-1.5zM411.9,409.2h1.5v1.5h-1.5zM410.7,425.1h1.5v1.5h-1.5zM412.6,401.6h1.5v1.5h-1.5zM411.4,402.5h1.5v1.5h-1.5z" fill="#a8a8d8"/>
<rect x="334.5" y="383" width="1" height="1" fill="#8878e8"/>
<rect x="338" y="398.5" width="1" height="1" fill="#8878e8"/>
<rect x="377" y="443" width="1" height="1" fill="#8878e8"/>
<rect x="388" y="446" width="1" height="1" fill="#8878e8"/>
<rect x="391" y="449" width="1" height="1" fill="#8878e8"/>
<rect x="395" y="445" width="1" height="1" fill="#8878e8"/>
<defs><linearGradient id="cbh1" x1="0" x2="0" y1="0" y2="1"><stop offset="0" stop-color="#2a1ff5"/><stop offset="0.5" stop-color="#8c78e6"/><stop offset="1" stop-color="#cfcbd3"/></linearGradient></defs>
<rect x="433.5" y="401" width="4" height="24" fill="url(#cbh1)"/>
<text x="440.1" y="409.0" font-size="4.6" fill="#333">3</text>
<text x="440.1" y="414.85" font-size="4.6" fill="#333">2</text>
<text x="440.1" y="420.7" font-size="4.6" fill="#333">1</text>
<text x="440.1" y="426.55" font-size="4.6" fill="#333">0</text>
<line x1="473.3" y1="356" x2="473.3" y2="459.4" stroke="#777" stroke-width="0.8"/>
<line x1="473.3" y1="459.4" x2="574.2" y2="459.4" stroke="#777" stroke-width="0.8"/>
<line x1="471.3" y1="356.59999999999997" x2="473.3" y2="356.59999999999997" stroke="#777" stroke-width="0.7"/>
<text x="469.8" y="359.59999999999997" font-size="8.5" text-anchor="end" fill="#222">10</text>
<line x1="471.3" y1="379.9" x2="473.3" y2="379.9" stroke="#777" stroke-width="0.7"/>
<text x="469.8" y="382.9" font-size="8.5" text-anchor="end" fill="#222">5</text>
<line x1="471.3" y1="403.2" x2="473.3" y2="403.2" stroke="#777" stroke-width="0.7"/>
<text x="469.8" y="406.2" font-size="8.5" text-anchor="end" fill="#222">0</text>
<line x1="471.3" y1="426.5" x2="473.3" y2="426.5" stroke="#777" stroke-width="0.7"/>
<text x="469.8" y="429.5" font-size="8.5" text-anchor="end" fill="#222">−5</text>
<line x1="471.3" y1="449.8" x2="473.3" y2="449.8" stroke="#777" stroke-width="0.7"/>
<text x="469.8" y="452.8" font-size="8.5" text-anchor="end" fill="#222">−10</text>
<line x1="499.2" y1="459.4" x2="499.2" y2="461.4" stroke="#777" stroke-width="0.7"/>
<text x="499.8" y="469.8" font-size="8.5" text-anchor="middle" fill="#222">−10</text>
<line x1="534.5" y1="459.4" x2="534.5" y2="461.4" stroke="#777" stroke-width="0.7"/>
<text x="534.5" y="469.8" font-size="8.5" text-anchor="middle" fill="#222">0</text>
<line x1="569.8" y1="459.4" x2="569.8" y2="461.4" stroke="#777" stroke-width="0.7"/>
<text x="569.8" y="469.8" font-size="8.5" text-anchor="middle" fill="#222">10</text>
<text x="526.35" y="477.8" font-size="8.2" text-anchor="middle" fill="#222">UMAP_1</text>
<text transform="translate(457.0,406) rotate(-90)" font-size="8.3" text-anchor="middle" fill="#222">UMAP_2</text>
<text x="478.8" y="360.6" font-size="8.2" font-style="italic" fill="#222">Flrt3</text>
<text x="477.3" y="345.8" font-size="12.7" fill="#111"><tspan font-style="italic">Fgf10</tspan> tKO - Gyrus</text>
<path d="M557.0,409.2h1.5v1.5h-1.5zM546.1,368.6h1.5v1.5h-1.5zM513.7,431.7h1.5v1.5h-1.5zM542.5,407.9h1.5v1.5h-1.5zM535.6,404.9h1.5v1.5h-1.5zM547.8,386.1h1.5v1.5h-1.5zM554.8,390.1h1.5v1.5h-1.5zM506.4,403.4h1.5v1.5h-1.5zM529.5,369.9h1.5v1.5h-1.5zM542.4,373.3h1.5v1.5h-1.5zM553.7,394.6h1.5v1.5h-1.5zM536.5,366.3h1.5v1.5h-1.5zM555.1,396.4h1.5v1.5h-1.5zM561.3,390.6h1.5v1.5h-1.5zM538.8,405.6h1.5v1.5h-1.5zM532.0,409.8h1.5v1.5h-1.5zM556.5,383.3h1.5v1.5h-1.5zM553.9,388.8h1.5v1.5h-1.5zM552.5,377.2h1.5v1.5h-1.5zM544.2,414.0h1.5v1.5h-1.5zM531.3,424.8h1.5v1.5h-1.5zM558.0,400.5h1.5v1.5h-1.5zM535.1,412.9h1.5v1.5h-1.5zM550.7,381.8h1.5v1.5h-1.5zM516.3,419.7h1.5v1.5h-1.5zM516.9,386.1h1.5v1.5h-1.5zM556.3,383.9h1.5v1.5h-1.5zM552.7,399.5h1.5v1.5h-1.5zM551.5,383.6h1.5v1.5h-1.5zM554.9,386.2h1.5v1.5h-1.5zM542.6,377.1h1.5v1.5h-1.5zM546.1,407.1h1.5v1.5h-1.5zM548.4,387.1h1.5v1.5h-1.5zM523.4,383.8h1.5v1.5h-1.5zM551.2,375.1h1.5v1.5h-1.5zM548.7,375.0h1.5v1.5h-1.5zM524.0,416.1h1.5v1.5h-1.5zM514.9,420.3h1.5v1.5h-1.5zM523.9,411.3h1.5v1.5h-1.5zM549.9,415.1h1.5v1.5h-1.5zM532.9,430.1h1.5v1.5h-1.5zM554.0,384.0h1.5v1.5h-1.5zM546.6,413.4h1.5v1.5h-1.5zM545.6,375.9h1.5v1.5h-1.5zM535.0,370.5h1.5v1.5h-1.5zM546.1,385.5h1.5v1.5h-1.5zM552.1,373.4h1.5v1.5h-1.5zM545.4,373.7h1.5v1.5h-1.5zM547.0,374.2h1.5v1.5h-1.5zM536.0,405.9h1.5v1.5h-1.5zM555.8,381.9h1.5v1.5h-1.5zM503.1,407.4h1.5v1.5h-1.5zM555.4,403.4h1.5v1.5h-1.5zM529.4,407.4h1.5v1.5h-1.5zM552.3,376.2h1.5v1.5h-1.5zM545.0,371.1h1.5v1.5h-1.5zM545.9,410.8h1.5v1.5h-1.5zM551.8,375.2h1.5v1.5h-1.5zM551.7,372.5h1.5v1.5h-1.5zM557.5,391.3h1.5v1.5h-1.5zM512.3,386.9h1.5v1.5h-1.5zM550.4,384.6h1.5v1.5h-1.5zM529.0,408.2h1.5v1.5h-1.5zM512.2,399.0h1.5v1.5h-1.5zM550.9,389.6h1.5v1.5h-1.5zM551.5,386.3h1.5v1.5h-1.5zM519.2,418.7h1.5v1.5h-1.5zM549.9,391.8h1.5v1.5h-1.5zM536.3,408.8h1.5v1.5h-1.5zM530.1,415.5h1.5v1.5h-1.5zM538.5,368.2h1.5v1.5h-1.5zM541.0,405.9h1.5v1.5h-1.5zM527.7,373.3h1.5v1.5h-1.5zM556.7,414.4h1.5v1.5h-1.5zM550.7,377.4h1.5v1.5h-1.5zM557.9,402.7h1.5v1.5h-1.5zM545.9,386.4h1.5v1.5h-1.5zM554.2,398.1h1.5v1.5h-1.5zM550.9,387.8h1.5v1.5h-1.5zM548.4,372.1h1.5v1.5h-1.5zM544.3,374.7h1.5v1.5h-1.5zM540.3,414.0h1.5v1.5h-1.5zM555.4,393.9h1.5v1.5h-1.5zM547.6,371.9h1.5v1.5h-1.5zM546.4,376.2h1.5v1.5h-1.5zM508.9,413.2h1.5v1.5h-1.5zM554.1,383.9h1.5v1.5h-1.5zM536.8,408.5h1.5v1.5h-1.5zM552.3,403.8h1.5v1.5h-1.5zM559.1,403.4h1.5v1.5h-1.5zM558.6,426.8h1.5v1.5h-1.5zM549.7,379.4h1.5v1.5h-1.5zM547.8,387.6h1.5v1.5h-1.5zM556.6,384.9h1.5v1.5h-1.5zM554.5,389.8h1.5v1.5h-1.5zM558.5,429.4h1.5v1.5h-1.5zM535.5,404.0h1.5v1.5h-1.5zM511.0,394.0h1.5v1.5h-1.5zM560.1,394.0h1.5v1.5h-1.5zM555.2,422.3h1.5v1.5h-1.5zM547.3,372.4h1.5v1.5h-1.5zM541.6,386.0h1.5v1.5h-1.5zM553.6,405.5h1.5v1.5h-1.5zM554.6,387.7h1.5v1.5h-1.5zM555.1,414.8h1.5v1.5h-1.5z" fill="#9a8ce6"/>
<path d="M508.7,424.8h1.5v1.5h-1.5zM540.1,369.9h1.5v1.5h-1.5zM532.3,380.3h1.5v1.5h-1.5zM543.6,386.5h1.5v1.5h-1.5zM506.6,405.2h1.5v1.5h-1.5zM511.7,415.5h1.5v1.5h-1.5zM525.1,381.2h1.5v1.5h-1.5zM522.3,372.1h1.5v1.5h-1.5zM513.5,407.3h1.5v1.5h-1.5zM512.6,391.2h1.5v1.5h-1.5zM524.3,379.1h1.5v1.5h-1.5zM550.8,412.1h1.5v1.5h-1.5zM556.2,409.6h1.5v1.5h-1.5zM556.0,406.2h1.5v1.5h-1.5zM533.6,411.6h1.5v1.5h-1.5zM528.0,415.6h1.5v1.5h-1.5zM541.5,371.2h1.5v1.5h-1.5zM508.9,426.1h1.5v1.5h-1.5zM507.3,413.8h1.5v1.5h-1.5zM530.7,415.0h1.5v1.5h-1.5zM525.3,414.6h1.5v1.5h-1.5zM533.6,379.6h1.5v1.5h-1.5zM541.1,367.3h1.5v1.5h-1.5zM516.2,377.5h1.5v1.5h-1.5zM547.2,413.0h1.5v1.5h-1.5zM542.1,378.9h1.5v1.5h-1.5zM543.9,407.0h1.5v1.5h-1.5zM525.0,413.9h1.5v1.5h-1.5zM556.7,428.8h1.5v1.5h-1.5zM536.1,366.5h1.5v1.5h-1.5zM517.8,377.3h1.5v1.5h-1.5zM506.3,396.1h1.5v1.5h-1.5zM525.1,384.4h1.5v1.5h-1.5zM531.6,375.7h1.5v1.5h-1.5zM553.6,414.2h1.5v1.5h-1.5zM531.3,377.9h1.5v1.5h-1.5zM540.0,377.3h1.5v1.5h-1.5zM516.9,382.5h1.5v1.5h-1.5zM523.2,410.6h1.5v1.5h-1.5zM548.3,410.3h1.5v1.5h-1.5zM521.6,410.5h1.5v1.5h-1.5zM524.6,415.2h1.5v1.5h-1.5zM531.1,372.1h1.5v1.5h-1.5zM541.7,414.9h1.5v1.5h-1.5zM550.1,417.3h1.5v1.5h-1.5zM503.4,403.2h1.5v1.5h-1.5zM549.1,410.3h1.5v1.5h-1.5zM509.9,412.1h1.5v1.5h-1.5zM551.9,413.6h1.5v1.5h-1.5zM516.3,415.3h1.5v1.5h-1.5zM514.5,388.5h1.5v1.5h-1.5zM529.6,383.0h1.5v1.5h-1.5zM508.9,409.0h1.5v1.5h-1.5zM526.9,380.6h1.5v1.5h-1.5zM522.3,377.7h1.5v1.5h-1.5zM534.9,418.6h1.5v1.5h-1.5zM518.9,388.6h1.5v1.5h-1.5zM536.9,376.1h1.5v1.5h-1.5zM557.9,405.5h1.5v1.5h-1.5zM545.0,404.9h1.5v1.5h-1.5zM536.7,383.6h1.5v1.5h-1.5zM512.8,386.7h1.5v1.5h-1.5zM508.2,425.5h1.5v1.5h-1.5zM524.2,375.3h1.5v1.5h-1.5zM546.7,412.8h1.5v1.5h-1.5zM511.1,392.1h1.5v1.5h-1.5zM528.8,374.9h1.5v1.5h-1.5zM558.1,410.0h1.5v1.5h-1.5zM554.4,423.5h1.5v1.5h-1.5zM535.8,424.6h1.5v1.5h-1.5zM540.3,369.1h1.5v1.5h-1.5zM543.8,373.5h1.5v1.5h-1.5zM530.7,376.6h1.5v1.5h-1.5zM524.2,377.5h1.5v1.5h-1.5zM516.0,419.9h1.5v1.5h-1.5zM507.3,412.6h1.5v1.5h-1.5zM535.5,424.6h1.5v1.5h-1.5zM525.8,416.7h1.5v1.5h-1.5zM509.3,413.2h1.5v1.5h-1.5zM552.7,413.3h1.5v1.5h-1.5zM517.2,421.0h1.5v1.5h-1.5zM506.8,406.1h1.5v1.5h-1.5zM528.1,369.8h1.5v1.5h-1.5zM513.9,417.0h1.5v1.5h-1.5zM535.1,416.1h1.5v1.5h-1.5zM558.6,426.3h1.5v1.5h-1.5zM518.6,416.9h1.5v1.5h-1.5zM558.6,413.9h1.5v1.5h-1.5zM546.8,410.6h1.5v1.5h-1.5zM532.6,371.0h1.5v1.5h-1.5zM525.8,373.2h1.5v1.5h-1.5zM512.3,412.1h1.5v1.5h-1.5zM534.0,427.7h1.5v1.5h-1.5zM535.0,371.7h1.5v1.5h-1.5zM506.3,421.6h1.5v1.5h-1.5zM514.2,424.1h1.5v1.5h-1.5zM514.7,416.0h1.5v1.5h-1.5zM541.6,383.3h1.5v1.5h-1.5zM558.8,389.6h1.5v1.5h-1.5zM548.7,410.1h1.5v1.5h-1.5zM537.8,380.7h1.5v1.5h-1.5zM512.4,417.4h1.5v1.5h-1.5zM507.0,401.1h1.5v1.5h-1.5zM531.6,384.8h1.5v1.5h-1.5zM521.2,381.0h1.5v1.5h-1.5zM520.8,416.5h1.5v1.5h-1.5zM540.4,416.3h1.5v1.5h-1.5zM557.8,418.4h1.5v1.5h-1.5zM529.0,385.0h1.5v1.5h-1.5zM537.2,423.4h1.5v1.5h-1.5zM544.4,409.2h1.5v1.5h-1.5zM552.1,416.1h1.5v1.5h-1.5zM515.7,431.5h1.5v1.5h-1.5zM509.9,386.8h1.5v1.5h-1.5zM544.1,403.4h1.5v1.5h-1.5zM558.1,420.2h1.5v1.5h-1.5zM531.2,423.1h1.5v1.5h-1.5zM516.1,423.4h1.5v1.5h-1.5zM527.1,369.9h1.5v1.5h-1.5zM515.5,416.5h1.5v1.5h-1.5zM553.5,417.1h1.5v1.5h-1.5zM515.1,423.4h1.5v1.5h-1.5zM512.4,388.8h1.5v1.5h-1.5zM553.5,402.0h1.5v1.5h-1.5zM531.5,410.1h1.5v1.5h-1.5zM544.0,409.3h1.5v1.5h-1.5zM528.6,372.4h1.5v1.5h-1.5zM550.4,411.4h1.5v1.5h-1.5zM509.9,407.0h1.5v1.5h-1.5zM557.9,398.2h1.5v1.5h-1.5zM557.0,423.5h1.5v1.5h-1.5zM542.2,405.0h1.5v1.5h-1.5zM551.6,414.0h1.5v1.5h-1.5zM519.0,373.6h1.5v1.5h-1.5zM535.8,415.1h1.5v1.5h-1.5zM506.3,417.2h1.5v1.5h-1.5zM545.1,416.1h1.5v1.5h-1.5zM509.8,393.9h1.5v1.5h-1.5zM557.3,427.1h1.5v1.5h-1.5zM555.0,411.6h1.5v1.5h-1.5zM522.7,412.1h1.5v1.5h-1.5zM525.8,378.9h1.5v1.5h-1.5zM506.1,409.2h1.5v1.5h-1.5zM530.8,414.7h1.5v1.5h-1.5zM513.5,381.6h1.5v1.5h-1.5zM524.3,414.4h1.5v1.5h-1.5zM527.4,377.8h1.5v1.5h-1.5zM527.5,412.5h1.5v1.5h-1.5zM543.6,406.3h1.5v1.5h-1.5zM537.3,377.7h1.5v1.5h-1.5zM548.0,414.6h1.5v1.5h-1.5zM519.5,377.4h1.5v1.5h-1.5zM558.6,396.7h1.5v1.5h-1.5zM517.1,423.4h1.5v1.5h-1.5zM538.0,368.7h1.5v1.5h-1.5zM529.9,387.0h1.5v1.5h-1.5zM510.5,395.7h1.5v1.5h-1.5zM530.8,415.9h1.5v1.5h-1.5zM509.8,399.3h1.5v1.5h-1.5zM552.0,412.6h1.5v1.5h-1.5zM515.7,416.8h1.5v1.5h-1.5zM530.5,418.5h1.5v1.5h-1.5zM516.4,385.7h1.5v1.5h-1.5zM524.2,383.1h1.5v1.5h-1.5zM557.3,424.8h1.5v1.5h-1.5zM527.4,411.5h1.5v1.5h-1.5zM514.4,384.4h1.5v1.5h-1.5zM508.2,405.8h1.5v1.5h-1.5zM513.1,424.4h1.5v1.5h-1.5zM560.6,399.3h1.5v1.5h-1.5zM538.7,416.4h1.5v1.5h-1.5zM523.1,376.3h1.5v1.5h-1.5zM520.6,386.5h1.5v1.5h-1.5zM539.3,407.6h1.5v1.5h-1.5zM540.6,414.9h1.5v1.5h-1.5zM532.5,380.3h1.5v1.5h-1.5zM510.7,423.1h1.5v1.5h-1.5zM509.4,427.4h1.5v1.5h-1.5zM559.1,416.6h1.5v1.5h-1.5zM515.5,382.0h1.5v1.5h-1.5zM516.4,428.6h1.5v1.5h-1.5zM557.5,416.8h1.5v1.5h-1.5zM534.1,367.5h1.5v1.5h-1.5zM537.7,373.3h1.5v1.5h-1.5zM514.7,409.4h1.5v1.5h-1.5zM536.3,423.0h1.5v1.5h-1.5zM532.0,422.0h1.5v1.5h-1.5zM505.2,419.7h1.5v1.5h-1.5zM537.9,378.4h1.5v1.5h-1.5zM523.1,415.2h1.5v1.5h-1.5zM555.4,420.6h1.5v1.5h-1.5zM535.4,428.1h1.5v1.5h-1.5zM534.1,416.6h1.5v1.5h-1.5zM511.4,415.4h1.5v1.5h-1.5zM559.1,394.5h1.5v1.5h-1.5zM534.4,383.3h1.5v1.5h-1.5zM527.0,383.2h1.5v1.5h-1.5zM552.0,411.2h1.5v1.5h-1.5zM533.6,384.9h1.5v1.5h-1.5zM513.8,427.0h1.5v1.5h-1.5zM553.4,410.9h1.5v1.5h-1.5zM512.4,416.1h1.5v1.5h-1.5zM540.6,375.1h1.5v1.5h-1.5zM530.6,378.3h1.5v1.5h-1.5zM536.8,377.4h1.5v1.5h-1.5zM554.1,420.8h1.5v1.5h-1.5zM520.3,414.7h1.5v1.5h-1.5zM557.9,429.3h1.5v1.5h-1.5zM518.6,384.9h1.5v1.5h-1.5zM534.4,410.1h1.5v1.5h-1.5zM525.8,414.8h1.5v1.5h-1.5zM558.1,421.8h1.5v1.5h-1.5zM504.1,419.5h1.5v1.5h-1.5zM537.2,365.8h1.5v1.5h-1.5zM538.7,380.1h1.5v1.5h-1.5zM563.4,400.9h1.5v1.5h-1.5zM518.6,384.9h1.5v1.5h-1.5zM535.8,377.3h1.5v1.5h-1.5zM532.5,372.9h1.5v1.5h-1.5zM507.0,416.2h1.5v1.5h-1.5zM551.4,416.1h1.5v1.5h-1.5zM511.4,387.1h1.5v1.5h-1.5zM556.9,406.4h1.5v1.5h-1.5zM545.1,408.6h1.5v1.5h-1.5zM544.8,409.9h1.5v1.5h-1.5zM557.5,413.1h1.5v1.5h-1.5zM554.9,404.0h1.5v1.5h-1.5zM512.4,430.4h1.5v1.5h-1.5zM510.2,398.2h1.5v1.5h-1.5zM540.3,372.9h1.5v1.5h-1.5zM528.4,377.9h1.5v1.5h-1.5zM535.5,431.9h1.5v1.5h-1.5zM514.4,376.7h1.5v1.5h-1.5zM532.9,415.2h1.5v1.5h-1.5zM553.3,411.9h1.5v1.5h-1.5zM554.1,417.7h1.5v1.5h-1.5zM544.7,412.3h1.5v1.5h-1.5zM541.1,375.6h1.5v1.5h-1.5zM519.5,378.7h1.5v1.5h-1.5zM537.8,368.8h1.5v1.5h-1.5zM533.1,416.7h1.5v1.5h-1.5zM505.4,404.4h1.5v1.5h-1.5zM539.3,417.7h1.5v1.5h-1.5zM526.9,377.2h1.5v1.5h-1.5zM530.2,406.7h1.5v1.5h-1.5zM557.3,415.2h1.5v1.5h-1.5zM515.8,416.7h1.5v1.5h-1.5zM535.3,386.1h1.5v1.5h-1.5zM516.8,419.7h1.5v1.5h-1.5zM550.7,423.7h1.5v1.5h-1.5zM507.6,400.7h1.5v1.5h-1.5zM512.5,422.1h1.5v1.5h-1.5zM515.1,421.7h1.5v1.5h-1.5zM528.0,370.1h1.5v1.5h-1.5zM529.1,385.5h1.5v1.5h-1.5zM525.0,382.9h1.5v1.5h-1.5zM518.2,384.0h1.5v1.5h-1.5zM560.6,412.5h1.5v1.5h-1.5zM552.3,420.0h1.5v1.5h-1.5zM536.3,366.1h1.5v1.5h-1.5zM539.2,367.9h1.5v1.5h-1.5zM544.4,372.3h1.5v1.5h-1.5zM528.9,381.4h1.5v1.5h-1.5zM560.8,396.3h1.5v1.5h-1.5zM527.0,379.7h1.5v1.5h-1.5zM540.9,407.4h1.5v1.5h-1.5zM517.6,376.4h1.5v1.5h-1.5zM509.9,425.2h1.5v1.5h-1.5zM540.2,372.3h1.5v1.5h-1.5zM556.6,404.2h1.5v1.5h-1.5zM540.5,405.4h1.5v1.5h-1.5zM522.3,370.1h1.5v1.5h-1.5zM531.7,407.3h1.5v1.5h-1.5zM560.0,401.9h1.5v1.5h-1.5zM553.3,408.7h1.5v1.5h-1.5zM527.9,379.1h1.5v1.5h-1.5zM506.2,405.4h1.5v1.5h-1.5zM552.7,400.8h1.5v1.5h-1.5zM518.2,423.0h1.5v1.5h-1.5zM538.1,421.7h1.5v1.5h-1.5zM531.9,417.0h1.5v1.5h-1.5zM548.0,414.4h1.5v1.5h-1.5zM533.2,373.1h1.5v1.5h-1.5zM544.4,410.0h1.5v1.5h-1.5zM528.7,365.4h1.5v1.5h-1.5zM510.5,395.1h1.5v1.5h-1.5zM535.4,383.2h1.5v1.5h-1.5zM537.4,370.2h1.5v1.5h-1.5zM533.7,379.5h1.5v1.5h-1.5zM542.2,368.0h1.5v1.5h-1.5zM562.4,398.5h1.5v1.5h-1.5zM538.1,418.1h1.5v1.5h-1.5zM546.4,406.2h1.5v1.5h-1.5zM562.9,394.3h1.5v1.5h-1.5zM526.6,412.5h1.5v1.5h-1.5zM535.1,431.8h1.5v1.5h-1.5zM510.4,432.2h1.5v1.5h-1.5zM511.0,409.6h1.5v1.5h-1.5zM507.6,406.9h1.5v1.5h-1.5zM521.6,378.4h1.5v1.5h-1.5zM530.6,383.4h1.5v1.5h-1.5zM509.9,404.8h1.5v1.5h-1.5zM521.0,371.8h1.5v1.5h-1.5zM512.2,417.8h1.5v1.5h-1.5zM548.3,405.2h1.5v1.5h-1.5zM553.8,413.5h1.5v1.5h-1.5zM554.2,408.9h1.5v1.5h-1.5zM531.0,370.6h1.5v1.5h-1.5zM535.0,415.0h1.5v1.5h-1.5zM535.6,367.0h1.5v1.5h-1.5zM526.7,382.7h1.5v1.5h-1.5zM537.2,368.4h1.5v1.5h-1.5zM532.4,411.5h1.5v1.5h-1.5zM511.5,423.3h1.5v1.5h-1.5zM513.5,409.1h1.5v1.5h-1.5zM527.0,410.3h1.5v1.5h-1.5zM533.1,382.7h1.5v1.5h-1.5zM550.8,406.5h1.5v1.5h-1.5zM509.5,388.7h1.5v1.5h-1.5zM534.6,382.7h1.5v1.5h-1.5zM532.8,422.2h1.5v1.5h-1.5zM531.4,368.5h1.5v1.5h-1.5zM515.0,387.1h1.5v1.5h-1.5zM507.4,415.1h1.5v1.5h-1.5zM515.7,414.5h1.5v1.5h-1.5zM504.0,415.3h1.5v1.5h-1.5zM553.6,420.9h1.5v1.5h-1.5zM530.0,417.9h1.5v1.5h-1.5zM514.8,427.4h1.5v1.5h-1.5zM541.5,370.6h1.5v1.5h-1.5zM559.9,412.8h1.5v1.5h-1.5zM537.4,374.3h1.5v1.5h-1.5zM555.1,419.8h1.5v1.5h-1.5zM532.6,380.8h1.5v1.5h-1.5zM550.0,410.2h1.5v1.5h-1.5zM509.5,420.9h1.5v1.5h-1.5zM508.7,403.0h1.5v1.5h-1.5zM532.5,426.5h1.5v1.5h-1.5zM505.4,416.4h1.5v1.5h-1.5zM536.4,372.1h1.5v1.5h-1.5zM506.8,424.7h1.5v1.5h-1.5zM556.1,409.5h1.5v1.5h-1.5zM511.2,421.0h1.5v1.5h-1.5zM507.2,423.7h1.5v1.5h-1.5zM528.4,372.6h1.5v1.5h-1.5zM532.3,418.1h1.5v1.5h-1.5zM510.9,384.4h1.5v1.5h-1.5zM535.7,424.9h1.5v1.5h-1.5zM510.0,394.7h1.5v1.5h-1.5zM549.1,406.0h1.5v1.5h-1.5zM502.9,414.8h1.5v1.5h-1.5zM541.7,407.7h1.5v1.5h-1.5zM537.4,418.6h1.5v1.5h-1.5zM531.4,380.8h1.5v1.5h-1.5zM512.2,412.5h1.5v1.5h-1.5zM535.6,416.2h1.5v1.5h-1.5zM534.3,421.4h1.5v1.5h-1.5zM515.5,417.7h1.5v1.5h-1.5zM514.3,424.6h1.5v1.5h-1.5zM527.4,381.3h1.5v1.5h-1.5zM521.5,373.5h1.5v1.5h-1.5zM539.1,372.3h1.5v1.5h-1.5zM522.1,413.2h1.5v1.5h-1.5zM535.5,369.1h1.5v1.5h-1.5zM533.4,425.7h1.5v1.5h-1.5zM505.1,409.1h1.5v1.5h-1.5zM538.6,375.8h1.5v1.5h-1.5zM507.1,417.0h1.5v1.5h-1.5zM562.1,398.2h1.5v1.5h-1.5zM539.3,402.6h1.5v1.5h-1.5zM533.9,373.9h1.5v1.5h-1.5zM506.4,410.4h1.5v1.5h-1.5zM505.2,421.3h1.5v1.5h-1.5zM534.0,380.2h1.5v1.5h-1.5zM519.5,377.8h1.5v1.5h-1.5zM518.9,380.2h1.5v1.5h-1.5zM541.1,415.3h1.5v1.5h-1.5zM508.1,395.7h1.5v1.5h-1.5zM524.1,411.0h1.5v1.5h-1.5zM539.5,383.4h1.5v1.5h-1.5zM508.2,427.5h1.5v1.5h-1.5zM527.8,373.1h1.5v1.5h-1.5zM533.7,381.6h1.5v1.5h-1.5zM515.0,429.5h1.5v1.5h-1.5zM542.9,366.3h1.5v1.5h-1.5zM534.2,372.4h1.5v1.5h-1.5zM537.9,383.3h1.5v1.5h-1.5zM538.2,406.9h1.5v1.5h-1.5zM546.0,410.6h1.5v1.5h-1.5zM512.3,430.3h1.5v1.5h-1.5zM521.2,418.6h1.5v1.5h-1.5zM543.9,406.8h1.5v1.5h-1.5zM510.1,407.7h1.5v1.5h-1.5zM533.5,367.8h1.5v1.5h-1.5zM540.3,368.8h1.5v1.5h-1.5zM537.4,420.8h1.5v1.5h-1.5zM553.0,398.6h1.5v1.5h-1.5zM528.0,416.5h1.5v1.5h-1.5zM530.7,372.6h1.5v1.5h-1.5zM518.1,382.5h1.5v1.5h-1.5zM541.2,375.4h1.5v1.5h-1.5zM539.3,383.1h1.5v1.5h-1.5zM537.8,426.7h1.5v1.5h-1.5zM534.4,414.2h1.5v1.5h-1.5zM531.3,408.3h1.5v1.5h-1.5zM557.7,396.5h1.5v1.5h-1.5zM503.9,410.0h1.5v1.5h-1.5zM519.7,384.5h1.5v1.5h-1.5zM526.0,418.2h1.5v1.5h-1.5zM544.7,409.3h1.5v1.5h-1.5zM520.4,375.8h1.5v1.5h-1.5zM536.0,366.9h1.5v1.5h-1.5zM518.3,383.3h1.5v1.5h-1.5zM530.4,374.3h1.5v1.5h-1.5zM518.4,386.1h1.5v1.5h-1.5zM519.9,418.5h1.5v1.5h-1.5zM519.7,384.2h1.5v1.5h-1.5zM536.7,369.2h1.5v1.5h-1.5zM515.8,383.6h1.5v1.5h-1.5zM559.5,406.8h1.5v1.5h-1.5zM525.4,376.1h1.5v1.5h-1.5zM532.9,414.8h1.5v1.5h-1.5zM555.0,404.6h1.5v1.5h-1.5zM516.9,422.8h1.5v1.5h-1.5zM542.4,415.6h1.5v1.5h-1.5zM525.5,417.6h1.5v1.5h-1.5zM558.7,390.0h1.5v1.5h-1.5zM537.6,376.1h1.5v1.5h-1.5zM513.1,392.9h1.5v1.5h-1.5zM559.9,426.6h1.5v1.5h-1.5zM535.9,365.6h1.5v1.5h-1.5zM533.5,376.2h1.5v1.5h-1.5zM526.7,371.3h1.5v1.5h-1.5zM537.9,412.9h1.5v1.5h-1.5zM516.0,424.8h1.5v1.5h-1.5zM514.7,412.3h1.5v1.5h-1.5zM529.8,367.6h1.5v1.5h-1.5zM537.9,424.8h1.5v1.5h-1.5zM535.6,411.8h1.5v1.5h-1.5zM535.6,415.0h1.5v1.5h-1.5zM547.2,411.6h1.5v1.5h-1.5zM530.3,379.4h1.5v1.5h-1.5zM512.6,390.1h1.5v1.5h-1.5zM514.0,421.7h1.5v1.5h-1.5zM546.4,407.4h1.5v1.5h-1.5zM532.4,377.7h1.5v1.5h-1.5zM525.4,370.3h1.5v1.5h-1.5zM530.2,368.1h1.5v1.5h-1.5zM504.4,406.1h1.5v1.5h-1.5zM508.9,413.2h1.5v1.5h-1.5zM539.6,379.6h1.5v1.5h-1.5zM555.3,398.2h1.5v1.5h-1.5zM533.8,414.3h1.5v1.5h-1.5zM527.0,374.0h1.5v1.5h-1.5zM549.4,371.7h1.5v1.5h-1.5zM533.9,426.2h1.5v1.5h-1.5zM533.0,432.0h1.5v1.5h-1.5zM557.6,408.0h1.5v1.5h-1.5zM529.6,376.9h1.5v1.5h-1.5zM523.5,415.9h1.5v1.5h-1.5zM556.3,393.2h1.5v1.5h-1.5zM512.8,420.4h1.5v1.5h-1.5zM536.8,369.0h1.5v1.5h-1.5zM536.5,382.0h1.5v1.5h-1.5zM544.8,409.3h1.5v1.5h-1.5zM533.1,375.0h1.5v1.5h-1.5zM556.5,400.9h1.5v1.5h-1.5zM516.5,379.8h1.5v1.5h-1.5zM551.9,404.2h1.5v1.5h-1.5zM523.0,375.0h1.5v1.5h-1.5zM541.5,413.5h1.5v1.5h-1.5zM519.5,419.1h1.5v1.5h-1.5zM556.0,403.2h1.5v1.5h-1.5zM534.0,427.7h1.5v1.5h-1.5zM513.9,422.9h1.5v1.5h-1.5zM563.9,394.5h1.5v1.5h-1.5zM561.5,400.6h1.5v1.5h-1.5zM518.4,419.2h1.5v1.5h-1.5zM557.9,400.0h1.5v1.5h-1.5zM537.9,418.6h1.5v1.5h-1.5zM509.5,424.6h1.5v1.5h-1.5zM522.2,412.4h1.5v1.5h-1.5zM541.4,408.8h1.5v1.5h-1.5zM536.9,373.4h1.5v1.5h-1.5zM537.1,428.4h1.5v1.5h-1.5zM543.1,388.4h1.5v1.5h-1.5zM534.2,370.3h1.5v1.5h-1.5zM543.9,406.0h1.5v1.5h-1.5zM511.5,390.4h1.5v1.5h-1.5zM550.2,412.8h1.5v1.5h-1.5zM508.3,397.6h1.5v1.5h-1.5zM525.6,385.0h1.5v1.5h-1.5zM546.0,404.5h1.5v1.5h-1.5zM507.1,424.0h1.5v1.5h-1.5zM540.2,370.3h1.5v1.5h-1.5zM556.5,418.3h1.5v1.5h-1.5zM509.7,426.2h1.5v1.5h-1.5zM510.0,403.1h1.5v1.5h-1.5zM517.4,381.6h1.5v1.5h-1.5zM517.6,385.0h1.5v1.5h-1.5zM540.8,405.9h1.5v1.5h-1.5zM516.5,418.4h1.5v1.5h-1.5zM555.1,427.5h1.5v1.5h-1.5zM537.6,363.2h1.5v1.5h-1.5zM508.0,414.2h1.5v1.5h-1.5zM533.3,381.7h1.5v1.5h-1.5zM557.1,405.8h1.5v1.5h-1.5zM514.7,414.7h1.5v1.5h-1.5zM559.8,404.5h1.5v1.5h-1.5zM541.6,415.3h1.5v1.5h-1.5zM514.6,419.3h1.5v1.5h-1.5zM538.7,377.5h1.5v1.5h-1.5zM505.9,407.6h1.5v1.5h-1.5zM554.5,409.5h1.5v1.5h-1.5zM513.2,430.8h1.5v1.5h-1.5zM524.4,367.9h1.5v1.5h-1.5zM538.3,417.8h1.5v1.5h-1.5zM538.2,419.8h1.5v1.5h-1.5zM511.0,412.4h1.5v1.5h-1.5zM536.9,410.2h1.5v1.5h-1.5zM557.2,421.3h1.5v1.5h-1.5zM510.8,421.9h1.5v1.5h-1.5zM531.0,382.9h1.5v1.5h-1.5zM542.1,384.1h1.5v1.5h-1.5zM537.1,371.4h1.5v1.5h-1.5zM556.1,421.6h1.5v1.5h-1.5zM505.3,407.2h1.5v1.5h-1.5zM562.5,398.1h1.5v1.5h-1.5zM535.1,426.0h1.5v1.5h-1.5zM509.4,405.3h1.5v1.5h-1.5zM510.4,421.7h1.5v1.5h-1.5zM513.4,412.8h1.5v1.5h-1.5zM513.6,426.3h1.5v1.5h-1.5zM514.8,379.3h1.5v1.5h-1.5zM511.5,407.6h1.5v1.5h-1.5zM532.1,369.8h1.5v1.5h-1.5zM520.1,379.7h1.5v1.5h-1.5zM523.5,373.1h1.5v1.5h-1.5zM508.8,418.6h1.5v1.5h-1.5zM524.4,368.6h1.5v1.5h-1.5zM508.4,394.8h1.5v1.5h-1.5zM513.1,420.4h1.5v1.5h-1.5zM533.1,408.1h1.5v1.5h-1.5zM556.0,426.2h1.5v1.5h-1.5zM535.6,418.9h1.5v1.5h-1.5zM537.1,368.6h1.5v1.5h-1.5zM533.6,372.0h1.5v1.5h-1.5zM544.9,404.4h1.5v1.5h-1.5zM516.7,381.5h1.5v1.5h-1.5zM529.0,409.5h1.5v1.5h-1.5zM513.2,418.2h1.5v1.5h-1.5zM512.9,418.4h1.5v1.5h-1.5zM561.4,415.3h1.5v1.5h-1.5zM546.6,382.5h1.5v1.5h-1.5zM536.9,383.9h1.5v1.5h-1.5zM540.1,383.0h1.5v1.5h-1.5zM557.9,412.8h1.5v1.5h-1.5zM506.1,404.3h1.5v1.5h-1.5zM536.8,412.5h1.5v1.5h-1.5zM524.9,415.1h1.5v1.5h-1.5zM526.5,380.3h1.5v1.5h-1.5zM524.7,386.7h1.5v1.5h-1.5zM517.0,382.1h1.5v1.5h-1.5zM554.2,423.2h1.5v1.5h-1.5zM519.1,383.8h1.5v1.5h-1.5zM534.3,422.4h1.5v1.5h-1.5zM531.9,420.9h1.5v1.5h-1.5zM517.0,422.0h1.5v1.5h-1.5zM536.6,365.6h1.5v1.5h-1.5zM510.1,401.9h1.5v1.5h-1.5zM518.9,384.1h1.5v1.5h-1.5zM537.9,420.6h1.5v1.5h-1.5zM515.0,418.3h1.5v1.5h-1.5zM515.4,388.2h1.5v1.5h-1.5zM557.8,402.4h1.5v1.5h-1.5zM507.6,413.2h1.5v1.5h-1.5zM555.0,397.7h1.5v1.5h-1.5zM538.4,380.3h1.5v1.5h-1.5zM535.7,387.0h1.5v1.5h-1.5zM505.0,412.4h1.5v1.5h-1.5zM552.2,410.0h1.5v1.5h-1.5zM511.0,428.6h1.5v1.5h-1.5zM502.0,414.5h1.5v1.5h-1.5zM555.1,421.5h1.5v1.5h-1.5zM510.4,407.9h1.5v1.5h-1.5zM538.8,415.7h1.5v1.5h-1.5zM545.0,409.6h1.5v1.5h-1.5zM512.9,416.6h1.5v1.5h-1.5zM519.7,413.7h1.5v1.5h-1.5zM513.2,410.5h1.5v1.5h-1.5zM509.1,425.2h1.5v1.5h-1.5zM549.7,413.5h1.5v1.5h-1.5zM554.6,411.2h1.5v1.5h-1.5zM544.2,408.5h1.5v1.5h-1.5zM524.7,381.8h1.5v1.5h-1.5zM528.9,373.7h1.5v1.5h-1.5zM530.5,427.1h1.5v1.5h-1.5zM516.1,421.7h1.5v1.5h-1.5zM522.6,381.5h1.5v1.5h-1.5zM533.5,370.2h1.5v1.5h-1.5zM523.7,384.7h1.5v1.5h-1.5zM536.0,414.8h1.5v1.5h-1.5zM533.9,423.0h1.5v1.5h-1.5zM531.0,385.6h1.5v1.5h-1.5zM514.3,385.4h1.5v1.5h-1.5zM547.3,413.9h1.5v1.5h-1.5zM518.4,421.4h1.5v1.5h-1.5zM518.0,427.9h1.5v1.5h-1.5zM529.8,415.3h1.5v1.5h-1.5zM529.7,372.4h1.5v1.5h-1.5zM508.8,415.2h1.5v1.5h-1.5zM546.4,410.7h1.5v1.5h-1.5zM550.5,424.4h1.5v1.5h-1.5zM553.6,415.1h1.5v1.5h-1.5zM517.4,417.8h1.5v1.5h-1.5zM544.9,368.1h1.5v1.5h-1.5zM547.0,411.6h1.5v1.5h-1.5zM517.8,387.5h1.5v1.5h-1.5zM516.0,377.0h1.5v1.5h-1.5zM515.2,418.4h1.5v1.5h-1.5zM506.6,407.5h1.5v1.5h-1.5zM509.9,393.7h1.5v1.5h-1.5zM522.2,370.8h1.5v1.5h-1.5zM547.6,404.3h1.5v1.5h-1.5zM544.0,408.9h1.5v1.5h-1.5zM530.8,376.6h1.5v1.5h-1.5zM526.6,378.2h1.5v1.5h-1.5zM543.3,407.3h1.5v1.5h-1.5zM531.1,415.8h1.5v1.5h-1.5zM523.0,372.4h1.5v1.5h-1.5zM541.2,371.7h1.5v1.5h-1.5zM518.0,413.4h1.5v1.5h-1.5zM558.5,428.1h1.5v1.5h-1.5zM529.1,373.9h1.5v1.5h-1.5zM529.3,414.1h1.5v1.5h-1.5zM524.4,380.5h1.5v1.5h-1.5zM559.6,423.4h1.5v1.5h-1.5zM546.2,373.4h1.5v1.5h-1.5zM518.7,381.6h1.5v1.5h-1.5zM538.3,418.9h1.5v1.5h-1.5zM532.3,412.9h1.5v1.5h-1.5zM534.4,384.4h1.5v1.5h-1.5zM525.8,419.2h1.5v1.5h-1.5zM537.7,411.0h1.5v1.5h-1.5zM507.1,415.8h1.5v1.5h-1.5zM514.9,413.7h1.5v1.5h-1.5zM513.3,421.3h1.5v1.5h-1.5zM536.5,385.0h1.5v1.5h-1.5zM536.9,383.3h1.5v1.5h-1.5zM531.9,372.5h1.5v1.5h-1.5zM509.0,425.7h1.5v1.5h-1.5zM508.7,424.7h1.5v1.5h-1.5zM506.2,418.8h1.5v1.5h-1.5zM516.3,423.8h1.5v1.5h-1.5zM508.9,401.6h1.5v1.5h-1.5zM560.2,402.4h1.5v1.5h-1.5zM521.3,378.3h1.5v1.5h-1.5zM519.2,424.0h1.5v1.5h-1.5zM522.3,383.1h1.5v1.5h-1.5zM513.2,387.9h1.5v1.5h-1.5zM513.5,424.9h1.5v1.5h-1.5zM511.4,424.3h1.5v1.5h-1.5zM511.5,419.7h1.5v1.5h-1.5zM548.1,414.9h1.5v1.5h-1.5zM509.2,423.0h1.5v1.5h-1.5zM539.1,370.4h1.5v1.5h-1.5zM521.2,385.5h1.5v1.5h-1.5zM558.8,422.7h1.5v1.5h-1.5zM531.3,417.6h1.5v1.5h-1.5zM536.5,371.6h1.5v1.5h-1.5zM515.7,387.0h1.5v1.5h-1.5zM503.1,416.7h1.5v1.5h-1.5zM504.2,421.6h1.5v1.5h-1.5zM501.1,413.3h1.5v1.5h-1.5zM556.1,425.7h1.5v1.5h-1.5zM512.3,383.3h1.5v1.5h-1.5zM559.1,424.8h1.5v1.5h-1.5zM546.9,407.1h1.5v1.5h-1.5zM541.0,406.4h1.5v1.5h-1.5zM530.8,416.9h1.5v1.5h-1.5zM508.7,431.4h1.5v1.5h-1.5zM508.0,411.6h1.5v1.5h-1.5zM509.9,427.6h1.5v1.5h-1.5zM552.6,421.1h1.5v1.5h-1.5zM522.9,412.2h1.5v1.5h-1.5zM513.4,412.2h1.5v1.5h-1.5zM513.7,420.6h1.5v1.5h-1.5zM555.0,430.1h1.5v1.5h-1.5zM555.2,403.8h1.5v1.5h-1.5zM526.1,416.5h1.5v1.5h-1.5zM522.2,383.5h1.5v1.5h-1.5zM534.2,373.6h1.5v1.5h-1.5zM513.3,382.4h1.5v1.5h-1.5zM516.8,382.1h1.5v1.5h-1.5zM520.4,411.2h1.5v1.5h-1.5zM515.8,421.3h1.5v1.5h-1.5zM517.0,427.6h1.5v1.5h-1.5zM539.0,373.6h1.5v1.5h-1.5zM532.0,381.2h1.5v1.5h-1.5zM547.2,414.6h1.5v1.5h-1.5zM528.7,375.4h1.5v1.5h-1.5zM533.9,414.1h1.5v1.5h-1.5zM552.1,411.2h1.5v1.5h-1.5zM505.4,405.6h1.5v1.5h-1.5zM515.4,423.0h1.5v1.5h-1.5zM537.6,369.5h1.5v1.5h-1.5zM512.9,381.4h1.5v1.5h-1.5zM531.5,421.8h1.5v1.5h-1.5zM547.3,407.7h1.5v1.5h-1.5zM553.6,414.8h1.5v1.5h-1.5zM549.8,408.7h1.5v1.5h-1.5zM511.2,424.5h1.5v1.5h-1.5zM502.3,407.7h1.5v1.5h-1.5zM510.7,396.3h1.5v1.5h-1.5zM538.9,405.9h1.5v1.5h-1.5zM557.8,423.6h1.5v1.5h-1.5zM529.9,411.8h1.5v1.5h-1.5zM543.8,413.2h1.5v1.5h-1.5zM515.3,411.8h1.5v1.5h-1.5zM520.5,374.2h1.5v1.5h-1.5zM503.5,417.4h1.5v1.5h-1.5zM549.1,414.4h1.5v1.5h-1.5zM535.8,372.7h1.5v1.5h-1.5zM514.4,411.5h1.5v1.5h-1.5zM529.8,378.4h1.5v1.5h-1.5zM555.2,415.9h1.5v1.5h-1.5zM529.1,368.6h1.5v1.5h-1.5zM506.2,406.9h1.5v1.5h-1.5zM504.6,411.6h1.5v1.5h-1.5zM509.8,431.1h1.5v1.5h-1.5zM535.4,410.9h1.5v1.5h-1.5zM506.6,424.1h1.5v1.5h-1.5zM509.7,410.8h1.5v1.5h-1.5zM536.9,405.4h1.5v1.5h-1.5zM503.5,402.4h1.5v1.5h-1.5zM535.1,373.4h1.5v1.5h-1.5zM528.3,416.9h1.5v1.5h-1.5zM556.1,399.1h1.5v1.5h-1.5zM517.2,377.6h1.5v1.5h-1.5zM534.7,378.1h1.5v1.5h-1.5zM505.6,404.5h1.5v1.5h-1.5zM531.9,366.3h1.5v1.5h-1.5zM531.7,366.9h1.5v1.5h-1.5zM527.0,417.7h1.5v1.5h-1.5zM508.8,416.4h1.5v1.5h-1.5zM550.0,410.0h1.5v1.5h-1.5zM543.2,416.3h1.5v1.5h-1.5zM535.6,385.0h1.5v1.5h-1.5zM511.0,398.5h1.5v1.5h-1.5zM534.9,425.5h1.5v1.5h-1.5zM538.7,372.1h1.5v1.5h-1.5zM530.0,413.6h1.5v1.5h-1.5zM511.4,418.8h1.5v1.5h-1.5zM537.0,368.9h1.5v1.5h-1.5zM511.8,423.9h1.5v1.5h-1.5zM530.0,417.4h1.5v1.5h-1.5zM551.7,412.7h1.5v1.5h-1.5zM519.2,416.6h1.5v1.5h-1.5zM539.4,404.4h1.5v1.5h-1.5zM539.3,420.4h1.5v1.5h-1.5zM514.2,416.0h1.5v1.5h-1.5zM505.8,402.9h1.5v1.5h-1.5zM508.6,410.6h1.5v1.5h-1.5zM542.5,371.9h1.5v1.5h-1.5zM555.7,411.3h1.5v1.5h-1.5zM533.8,384.2h1.5v1.5h-1.5zM534.2,414.3h1.5v1.5h-1.5zM556.2,407.4h1.5v1.5h-1.5zM537.2,413.3h1.5v1.5h-1.5zM508.8,425.4h1.5v1.5h-1.5zM518.6,378.5h1.5v1.5h-1.5zM528.6,369.0h1.5v1.5h-1.5zM533.1,380.2h1.5v1.5h-1.5zM546.7,382.6h1.5v1.5h-1.5zM532.7,368.1h1.5v1.5h-1.5zM514.8,411.2h1.5v1.5h-1.5zM558.0,404.2h1.5v1.5h-1.5zM532.8,415.6h1.5v1.5h-1.5zM516.5,411.8h1.5v1.5h-1.5zM528.4,371.4h1.5v1.5h-1.5zM551.7,411.0h1.5v1.5h-1.5zM511.4,385.3h1.5v1.5h-1.5zM517.6,383.2h1.5v1.5h-1.5zM518.4,419.4h1.5v1.5h-1.5zM526.3,382.7h1.5v1.5h-1.5zM530.5,416.0h1.5v1.5h-1.5zM533.0,387.2h1.5v1.5h-1.5zM507.3,405.4h1.5v1.5h-1.5zM511.6,386.4h1.5v1.5h-1.5zM516.0,428.6h1.5v1.5h-1.5zM556.6,413.4h1.5v1.5h-1.5zM525.7,371.7h1.5v1.5h-1.5zM510.9,403.7h1.5v1.5h-1.5zM530.6,405.6h1.5v1.5h-1.5zM503.4,403.4h1.5v1.5h-1.5zM553.3,418.8h1.5v1.5h-1.5zM537.5,413.0h1.5v1.5h-1.5zM548.6,407.8h1.5v1.5h-1.5zM512.6,414.3h1.5v1.5h-1.5zM522.6,383.7h1.5v1.5h-1.5zM511.6,414.5h1.5v1.5h-1.5zM520.6,419.8h1.5v1.5h-1.5zM545.9,408.8h1.5v1.5h-1.5zM533.2,416.9h1.5v1.5h-1.5zM512.8,435.5h1.5v1.5h-1.5zM525.5,380.9h1.5v1.5h-1.5zM525.7,368.3h1.5v1.5h-1.5zM554.1,402.2h1.5v1.5h-1.5zM533.4,373.8h1.5v1.5h-1.5zM560.7,398.8h1.5v1.5h-1.5zM544.3,370.3h1.5v1.5h-1.5zM543.0,376.5h1.5v1.5h-1.5zM520.3,417.7h1.5v1.5h-1.5zM556.8,409.2h1.5v1.5h-1.5zM557.8,423.2h1.5v1.5h-1.5zM555.4,404.1h1.5v1.5h-1.5zM509.8,405.0h1.5v1.5h-1.5zM552.4,418.0h1.5v1.5h-1.5zM556.9,426.7h1.5v1.5h-1.5zM517.0,372.7h1.5v1.5h-1.5zM504.5,407.2h1.5v1.5h-1.5zM550.9,413.9h1.5v1.5h-1.5zM507.3,399.9h1.5v1.5h-1.5zM536.6,429.7h1.5v1.5h-1.5zM510.1,395.0h1.5v1.5h-1.5zM510.3,410.9h1.5v1.5h-1.5zM547.1,410.8h1.5v1.5h-1.5zM558.1,405.7h1.5v1.5h-1.5zM539.0,386.0h1.5v1.5h-1.5zM556.3,415.1h1.5v1.5h-1.5zM538.8,413.8h1.5v1.5h-1.5zM535.9,380.7h1.5v1.5h-1.5zM538.3,418.8h1.5v1.5h-1.5zM534.8,378.0h1.5v1.5h-1.5zM524.2,382.4h1.5v1.5h-1.5zM526.8,379.2h1.5v1.5h-1.5zM533.1,418.3h1.5v1.5h-1.5zM541.4,409.0h1.5v1.5h-1.5zM526.1,414.8h1.5v1.5h-1.5zM504.8,414.8h1.5v1.5h-1.5zM555.8,424.6h1.5v1.5h-1.5zM531.1,417.5h1.5v1.5h-1.5zM524.9,380.6h1.5v1.5h-1.5zM518.7,380.0h1.5v1.5h-1.5zM558.3,398.4h1.5v1.5h-1.5zM540.3,368.7h1.5v1.5h-1.5zM507.4,417.3h1.5v1.5h-1.5zM526.9,379.6h1.5v1.5h-1.5zM536.7,404.5h1.5v1.5h-1.5zM519.6,383.7h1.5v1.5h-1.5zM559.1,410.5h1.5v1.5h-1.5zM531.5,383.9h1.5v1.5h-1.5zM513.7,386.1h1.5v1.5h-1.5zM530.4,370.2h1.5v1.5h-1.5zM557.4,424.1h1.5v1.5h-1.5zM551.2,414.3h1.5v1.5h-1.5zM514.7,428.1h1.5v1.5h-1.5zM552.5,415.6h1.5v1.5h-1.5zM528.3,416.1h1.5v1.5h-1.5zM531.9,426.1h1.5v1.5h-1.5zM509.9,388.2h1.5v1.5h-1.5zM539.9,418.6h1.5v1.5h-1.5zM521.0,413.6h1.5v1.5h-1.5zM531.4,384.5h1.5v1.5h-1.5zM525.6,408.8h1.5v1.5h-1.5zM509.8,417.8h1.5v1.5h-1.5zM537.4,414.4h1.5v1.5h-1.5zM557.4,401.1h1.5v1.5h-1.5zM510.2,398.0h1.5v1.5h-1.5zM530.7,417.8h1.5v1.5h-1.5zM513.8,412.2h1.5v1.5h-1.5zM509.4,398.4h1.5v1.5h-1.5zM539.0,417.4h1.5v1.5h-1.5zM540.4,370.5h1.5v1.5h-1.5zM508.5,411.2h1.5v1.5h-1.5zM539.0,404.7h1.5v1.5h-1.5zM517.4,421.2h1.5v1.5h-1.5zM524.0,371.0h1.5v1.5h-1.5zM534.1,417.8h1.5v1.5h-1.5zM557.2,412.6h1.5v1.5h-1.5zM507.3,412.1h1.5v1.5h-1.5zM514.0,417.4h1.5v1.5h-1.5zM543.9,368.9h1.5v1.5h-1.5zM556.9,402.9h1.5v1.5h-1.5zM526.0,383.8h1.5v1.5h-1.5zM524.5,369.3h1.5v1.5h-1.5zM514.9,386.3h1.5v1.5h-1.5zM533.3,413.7h1.5v1.5h-1.5zM510.4,406.4h1.5v1.5h-1.5zM534.8,372.9h1.5v1.5h-1.5zM519.1,424.6h1.5v1.5h-1.5zM538.4,372.2h1.5v1.5h-1.5zM537.1,367.1h1.5v1.5h-1.5zM559.6,419.4h1.5v1.5h-1.5zM526.3,378.6h1.5v1.5h-1.5zM515.7,381.0h1.5v1.5h-1.5zM525.7,377.8h1.5v1.5h-1.5zM523.4,380.4h1.5v1.5h-1.5zM517.2,378.7h1.5v1.5h-1.5zM530.6,382.1h1.5v1.5h-1.5zM524.6,369.8h1.5v1.5h-1.5zM532.0,415.0h1.5v1.5h-1.5zM532.3,425.9h1.5v1.5h-1.5zM522.8,416.1h1.5v1.5h-1.5zM556.8,407.9h1.5v1.5h-1.5zM552.8,415.8h1.5v1.5h-1.5zM509.2,400.0h1.5v1.5h-1.5zM533.5,428.7h1.5v1.5h-1.5zM512.3,418.1h1.5v1.5h-1.5zM536.0,368.6h1.5v1.5h-1.5zM532.2,373.9h1.5v1.5h-1.5zM558.8,412.0h1.5v1.5h-1.5zM530.1,371.8h1.5v1.5h-1.5zM528.2,379.7h1.5v1.5h-1.5zM507.0,426.8h1.5v1.5h-1.5zM554.6,421.9h1.5v1.5h-1.5zM559.4,411.8h1.5v1.5h-1.5zM537.2,369.1h1.5v1.5h-1.5zM557.0,400.2h1.5v1.5h-1.5zM535.4,377.3h1.5v1.5h-1.5zM521.3,373.3h1.5v1.5h-1.5zM532.6,374.5h1.5v1.5h-1.5zM553.2,409.3h1.5v1.5h-1.5zM549.7,412.5h1.5v1.5h-1.5zM520.4,417.8h1.5v1.5h-1.5zM510.6,426.7h1.5v1.5h-1.5zM533.7,380.7h1.5v1.5h-1.5zM546.1,414.6h1.5v1.5h-1.5zM534.9,419.8h1.5v1.5h-1.5zM526.7,367.8h1.5v1.5h-1.5zM536.3,419.7h1.5v1.5h-1.5zM560.2,401.2h1.5v1.5h-1.5zM558.7,408.4h1.5v1.5h-1.5zM520.0,378.8h1.5v1.5h-1.5zM535.2,427.2h1.5v1.5h-1.5zM535.6,413.1h1.5v1.5h-1.5zM528.3,383.4h1.5v1.5h-1.5zM507.7,428.9h1.5v1.5h-1.5zM536.2,384.7h1.5v1.5h-1.5zM545.7,403.2h1.5v1.5h-1.5zM509.8,409.7h1.5v1.5h-1.5zM552.8,414.2h1.5v1.5h-1.5zM529.6,410.3h1.5v1.5h-1.5zM560.0,404.2h1.5v1.5h-1.5zM530.3,422.5h1.5v1.5h-1.5zM523.7,374.1h1.5v1.5h-1.5zM545.1,370.9h1.5v1.5h-1.5zM511.7,432.3h1.5v1.5h-1.5zM546.2,368.5h1.5v1.5h-1.5zM515.9,417.2h1.5v1.5h-1.5zM559.6,411.8h1.5v1.5h-1.5zM524.1,418.7h1.5v1.5h-1.5zM546.9,407.8h1.5v1.5h-1.5zM510.6,405.6h1.5v1.5h-1.5zM559.6,396.7h1.5v1.5h-1.5zM517.1,423.0h1.5v1.5h-1.5zM525.2,414.3h1.5v1.5h-1.5zM517.2,411.9h1.5v1.5h-1.5zM544.8,374.6h1.5v1.5h-1.5zM525.4,411.9h1.5v1.5h-1.5zM540.0,384.4h1.5v1.5h-1.5zM558.6,410.4h1.5v1.5h-1.5zM518.8,383.5h1.5v1.5h-1.5zM558.5,417.0h1.5v1.5h-1.5zM541.6,367.5h1.5v1.5h-1.5zM560.4,394.1h1.5v1.5h-1.5zM528.9,379.3h1.5v1.5h-1.5zM534.8,420.9h1.5v1.5h-1.5zM549.2,375.4h1.5v1.5h-1.5zM506.0,412.8h1.5v1.5h-1.5zM539.3,410.3h1.5v1.5h-1.5zM530.8,405.9h1.5v1.5h-1.5zM509.2,411.2h1.5v1.5h-1.5zM513.0,391.3h1.5v1.5h-1.5zM529.9,425.7h1.5v1.5h-1.5zM561.4,409.4h1.5v1.5h-1.5zM513.9,415.5h1.5v1.5h-1.5zM515.3,421.0h1.5v1.5h-1.5zM526.0,413.5h1.5v1.5h-1.5zM559.5,418.6h1.5v1.5h-1.5zM516.3,378.0h1.5v1.5h-1.5zM520.8,384.5h1.5v1.5h-1.5zM521.2,374.1h1.5v1.5h-1.5zM531.8,421.0h1.5v1.5h-1.5zM540.6,370.7h1.5v1.5h-1.5zM527.8,413.5h1.5v1.5h-1.5zM508.3,406.7h1.5v1.5h-1.5zM509.4,399.5h1.5v1.5h-1.5zM512.5,432.5h1.5v1.5h-1.5zM536.0,382.6h1.5v1.5h-1.5zM529.9,386.0h1.5v1.5h-1.5zM529.8,371.3h1.5v1.5h-1.5zM533.7,429.1h1.5v1.5h-1.5zM527.2,371.0h1.5v1.5h-1.5zM536.3,383.8h1.5v1.5h-1.5zM528.6,419.1h1.5v1.5h-1.5zM540.9,415.9h1.5v1.5h-1.5zM554.3,409.0h1.5v1.5h-1.5zM538.0,369.2h1.5v1.5h-1.5zM525.1,370.3h1.5v1.5h-1.5zM533.9,385.8h1.5v1.5h-1.5zM558.2,423.7h1.5v1.5h-1.5zM530.5,420.9h1.5v1.5h-1.5zM556.3,397.2h1.5v1.5h-1.5zM510.1,416.5h1.5v1.5h-1.5zM505.5,416.4h1.5v1.5h-1.5zM558.9,425.4h1.5v1.5h-1.5zM543.0,408.3h1.5v1.5h-1.5zM558.6,423.5h1.5v1.5h-1.5zM550.3,404.3h1.5v1.5h-1.5zM540.5,369.9h1.5v1.5h-1.5zM516.7,425.1h1.5v1.5h-1.5zM513.9,416.9h1.5v1.5h-1.5zM553.4,400.0h1.5v1.5h-1.5zM531.0,416.4h1.5v1.5h-1.5zM552.1,425.7h1.5v1.5h-1.5zM520.9,413.7h1.5v1.5h-1.5zM535.2,366.5h1.5v1.5h-1.5zM529.7,382.3h1.5v1.5h-1.5zM559.0,419.4h1.5v1.5h-1.5zM558.7,418.8h1.5v1.5h-1.5zM523.9,413.1h1.5v1.5h-1.5zM506.5,415.6h1.5v1.5h-1.5zM526.7,413.2h1.5v1.5h-1.5zM513.3,420.8h1.5v1.5h-1.5zM553.9,415.9h1.5v1.5h-1.5zM504.5,418.0h1.5v1.5h-1.5zM528.0,416.5h1.5v1.5h-1.5zM508.8,404.1h1.5v1.5h-1.5zM509.6,401.6h1.5v1.5h-1.5zM520.9,372.6h1.5v1.5h-1.5zM520.8,388.6h1.5v1.5h-1.5zM525.1,373.8h1.5v1.5h-1.5zM551.9,414.5h1.5v1.5h-1.5zM513.5,423.7h1.5v1.5h-1.5zM525.5,410.9h1.5v1.5h-1.5zM519.8,377.9h1.5v1.5h-1.5zM542.5,369.2h1.5v1.5h-1.5zM533.1,384.9h1.5v1.5h-1.5zM525.4,378.1h1.5v1.5h-1.5zM550.1,414.2h1.5v1.5h-1.5zM536.7,369.9h1.5v1.5h-1.5zM513.9,429.8h1.5v1.5h-1.5zM540.5,371.4h1.5v1.5h-1.5zM560.5,424.9h1.5v1.5h-1.5zM515.0,418.6h1.5v1.5h-1.5zM539.0,367.3h1.5v1.5h-1.5zM524.5,384.5h1.5v1.5h-1.5zM509.7,393.3h1.5v1.5h-1.5zM543.7,384.2h1.5v1.5h-1.5zM549.1,406.2h1.5v1.5h-1.5zM553.0,413.5h1.5v1.5h-1.5zM523.2,382.2h1.5v1.5h-1.5zM522.2,415.0h1.5v1.5h-1.5zM555.6,406.8h1.5v1.5h-1.5zM505.7,424.6h1.5v1.5h-1.5zM553.9,417.5h1.5v1.5h-1.5zM512.0,416.6h1.5v1.5h-1.5zM525.2,415.4h1.5v1.5h-1.5zM525.8,370.9h1.5v1.5h-1.5zM539.1,409.5h1.5v1.5h-1.5zM510.6,409.6h1.5v1.5h-1.5zM509.4,422.4h1.5v1.5h-1.5zM551.0,405.0h1.5v1.5h-1.5zM531.7,374.4h1.5v1.5h-1.5zM536.6,421.1h1.5v1.5h-1.5zM538.5,379.3h1.5v1.5h-1.5zM543.6,372.5h1.5v1.5h-1.5zM538.4,365.9h1.5v1.5h-1.5zM554.2,417.4h1.5v1.5h-1.5zM529.2,368.7h1.5v1.5h-1.5zM560.8,394.8h1.5v1.5h-1.5zM557.1,409.4h1.5v1.5h-1.5zM545.6,387.2h1.5v1.5h-1.5zM533.9,415.8h1.5v1.5h-1.5zM531.3,415.1h1.5v1.5h-1.5zM527.4,371.0h1.5v1.5h-1.5zM539.2,411.8h1.5v1.5h-1.5zM530.1,369.2h1.5v1.5h-1.5zM527.5,378.4h1.5v1.5h-1.5zM512.8,421.2h1.5v1.5h-1.5zM513.0,413.4h1.5v1.5h-1.5zM553.8,415.0h1.5v1.5h-1.5zM517.4,412.9h1.5v1.5h-1.5zM535.1,379.8h1.5v1.5h-1.5zM519.0,420.7h1.5v1.5h-1.5zM544.2,372.4h1.5v1.5h-1.5zM525.5,382.6h1.5v1.5h-1.5zM513.6,416.5h1.5v1.5h-1.5zM512.4,425.8h1.5v1.5h-1.5zM531.0,412.7h1.5v1.5h-1.5zM548.4,409.7h1.5v1.5h-1.5zM544.6,411.7h1.5v1.5h-1.5zM524.3,382.7h1.5v1.5h-1.5zM523.0,385.3h1.5v1.5h-1.5zM551.2,412.3h1.5v1.5h-1.5zM523.7,382.4h1.5v1.5h-1.5zM529.5,368.0h1.5v1.5h-1.5zM543.8,414.8h1.5v1.5h-1.5zM535.2,364.9h1.5v1.5h-1.5zM508.2,421.9h1.5v1.5h-1.5zM545.7,385.5h1.5v1.5h-1.5zM504.8,407.6h1.5v1.5h-1.5zM535.2,376.5h1.5v1.5h-1.5zM550.2,393.8h1.5v1.5h-1.5zM513.5,388.0h1.5v1.5h-1.5zM526.4,374.5h1.5v1.5h-1.5zM525.9,416.8h1.5v1.5h-1.5zM504.2,401.5h1.5v1.5h-1.5zM540.1,381.7h1.5v1.5h-1.5zM556.2,423.2h1.5v1.5h-1.5zM528.0,368.3h1.5v1.5h-1.5zM505.6,411.6h1.5v1.5h-1.5zM526.8,384.5h1.5v1.5h-1.5zM555.0,424.6h1.5v1.5h-1.5zM551.0,407.2h1.5v1.5h-1.5zM556.7,394.8h1.5v1.5h-1.5zM541.6,371.7h1.5v1.5h-1.5zM553.9,424.5h1.5v1.5h-1.5zM550.0,413.8h1.5v1.5h-1.5zM515.9,416.2h1.5v1.5h-1.5zM519.4,383.9h1.5v1.5h-1.5zM560.2,393.0h1.5v1.5h-1.5zM533.7,423.9h1.5v1.5h-1.5zM540.6,417.2h1.5v1.5h-1.5zM550.6,421.9h1.5v1.5h-1.5zM519.5,372.9h1.5v1.5h-1.5zM517.1,415.1h1.5v1.5h-1.5zM516.9,377.0h1.5v1.5h-1.5zM507.7,391.8h1.5v1.5h-1.5zM554.2,410.4h1.5v1.5h-1.5zM522.5,377.7h1.5v1.5h-1.5zM536.7,419.2h1.5v1.5h-1.5zM534.3,382.2h1.5v1.5h-1.5zM507.6,390.9h1.5v1.5h-1.5zM528.9,414.4h1.5v1.5h-1.5zM546.1,414.4h1.5v1.5h-1.5zM536.4,417.9h1.5v1.5h-1.5zM537.6,412.0h1.5v1.5h-1.5zM542.5,415.2h1.5v1.5h-1.5zM535.1,368.8h1.5v1.5h-1.5zM511.9,431.4h1.5v1.5h-1.5zM527.5,382.6h1.5v1.5h-1.5zM536.5,381.8h1.5v1.5h-1.5zM534.2,428.6h1.5v1.5h-1.5zM529.6,366.4h1.5v1.5h-1.5zM542.8,373.0h1.5v1.5h-1.5zM556.3,393.6h1.5v1.5h-1.5zM528.3,417.0h1.5v1.5h-1.5zM518.0,377.6h1.5v1.5h-1.5zM552.3,408.9h1.5v1.5h-1.5zM532.5,413.7h1.5v1.5h-1.5zM506.1,408.5h1.5v1.5h-1.5zM519.0,382.1h1.5v1.5h-1.5zM536.8,368.4h1.5v1.5h-1.5zM508.0,414.1h1.5v1.5h-1.5zM508.2,421.8h1.5v1.5h-1.5zM512.9,411.3h1.5v1.5h-1.5zM527.0,414.6h1.5v1.5h-1.5zM528.9,414.5h1.5v1.5h-1.5zM560.9,414.8h1.5v1.5h-1.5zM546.0,409.5h1.5v1.5h-1.5zM535.5,382.1h1.5v1.5h-1.5zM521.7,376.5h1.5v1.5h-1.5zM534.7,423.4h1.5v1.5h-1.5zM511.9,427.6h1.5v1.5h-1.5zM532.1,377.3h1.5v1.5h-1.5zM559.2,425.3h1.5v1.5h-1.5zM525.7,377.4h1.5v1.5h-1.5zM508.0,413.4h1.5v1.5h-1.5zM532.7,383.3h1.5v1.5h-1.5zM553.9,426.3h1.5v1.5h-1.5zM526.6,367.7h1.5v1.5h-1.5zM510.0,417.9h1.5v1.5h-1.5zM528.2,414.1h1.5v1.5h-1.5zM532.4,377.1h1.5v1.5h-1.5zM505.7,415.2h1.5v1.5h-1.5zM542.1,380.1h1.5v1.5h-1.5zM545.3,373.0h1.5v1.5h-1.5zM543.6,371.7h1.5v1.5h-1.5zM561.0,423.2h1.5v1.5h-1.5zM509.9,401.8h1.5v1.5h-1.5zM516.1,412.3h1.5v1.5h-1.5zM504.7,404.9h1.5v1.5h-1.5zM508.7,412.9h1.5v1.5h-1.5zM544.6,383.0h1.5v1.5h-1.5zM532.8,375.6h1.5v1.5h-1.5zM533.8,371.8h1.5v1.5h-1.5zM515.3,421.5h1.5v1.5h-1.5zM547.2,411.2h1.5v1.5h-1.5zM554.7,415.6h1.5v1.5h-1.5zM531.7,381.7h1.5v1.5h-1.5zM536.1,371.3h1.5v1.5h-1.5zM520.8,375.4h1.5v1.5h-1.5zM515.7,417.8h1.5v1.5h-1.5zM513.1,414.1h1.5v1.5h-1.5zM518.2,378.2h1.5v1.5h-1.5zM509.9,422.9h1.5v1.5h-1.5zM556.8,426.7h1.5v1.5h-1.5zM531.5,423.4h1.5v1.5h-1.5zM508.4,396.5h1.5v1.5h-1.5zM524.6,377.6h1.5v1.5h-1.5zM512.4,390.7h1.5v1.5h-1.5zM536.5,414.4h1.5v1.5h-1.5zM531.6,417.2h1.5v1.5h-1.5zM535.1,374.1h1.5v1.5h-1.5zM537.9,380.5h1.5v1.5h-1.5zM558.6,396.3h1.5v1.5h-1.5zM530.3,409.8h1.5v1.5h-1.5zM539.4,370.8h1.5v1.5h-1.5zM508.7,421.4h1.5v1.5h-1.5zM515.8,382.3h1.5v1.5h-1.5zM511.8,419.0h1.5v1.5h-1.5zM509.3,393.4h1.5v1.5h-1.5zM539.7,419.5h1.5v1.5h-1.5zM546.9,407.5h1.5v1.5h-1.5zM504.2,415.1h1.5v1.5h-1.5zM508.7,414.2h1.5v1.5h-1.5zM505.5,406.3h1.5v1.5h-1.5zM553.5,411.3h1.5v1.5h-1.5zM538.8,374.2h1.5v1.5h-1.5zM512.5,423.0h1.5v1.5h-1.5zM554.9,418.4h1.5v1.5h-1.5zM555.2,402.9h1.5v1.5h-1.5zM518.7,372.4h1.5v1.5h-1.5zM542.1,416.8h1.5v1.5h-1.5zM539.7,385.6h1.5v1.5h-1.5zM505.0,413.7h1.5v1.5h-1.5zM552.3,405.4h1.5v1.5h-1.5zM529.9,372.1h1.5v1.5h-1.5zM557.5,415.5h1.5v1.5h-1.5zM532.3,410.6h1.5v1.5h-1.5zM507.6,409.1h1.5v1.5h-1.5zM534.8,413.9h1.5v1.5h-1.5zM543.2,384.1h1.5v1.5h-1.5zM534.0,379.7h1.5v1.5h-1.5zM534.0,378.5h1.5v1.5h-1.5zM551.3,419.5h1.5v1.5h-1.5zM505.9,406.5h1.5v1.5h-1.5zM546.0,414.5h1.5v1.5h-1.5zM533.3,412.2h1.5v1.5h-1.5zM557.2,421.8h1.5v1.5h-1.5zM508.3,418.1h1.5v1.5h-1.5zM512.2,433.6h1.5v1.5h-1.5zM520.7,416.1h1.5v1.5h-1.5zM547.9,370.8h1.5v1.5h-1.5zM520.4,422.7h1.5v1.5h-1.5zM517.8,389.9h1.5v1.5h-1.5zM511.8,430.9h1.5v1.5h-1.5zM526.7,381.6h1.5v1.5h-1.5zM510.5,392.4h1.5v1.5h-1.5zM540.4,370.0h1.5v1.5h-1.5zM530.6,375.2h1.5v1.5h-1.5zM529.9,366.0h1.5v1.5h-1.5zM526.3,415.6h1.5v1.5h-1.5zM515.4,430.6h1.5v1.5h-1.5zM530.2,367.3h1.5v1.5h-1.5zM532.4,384.0h1.5v1.5h-1.5zM551.5,410.5h1.5v1.5h-1.5zM561.2,411.6h1.5v1.5h-1.5zM511.0,410.5h1.5v1.5h-1.5zM543.4,380.6h1.5v1.5h-1.5zM514.9,379.2h1.5v1.5h-1.5zM552.9,409.0h1.5v1.5h-1.5zM536.1,370.2h1.5v1.5h-1.5zM510.0,415.0h1.5v1.5h-1.5zM541.6,373.4h1.5v1.5h-1.5zM536.9,408.2h1.5v1.5h-1.5zM542.5,409.6h1.5v1.5h-1.5zM510.2,407.3h1.5v1.5h-1.5zM525.7,380.7h1.5v1.5h-1.5zM539.8,385.5h1.5v1.5h-1.5zM552.4,403.5h1.5v1.5h-1.5zM511.5,400.2h1.5v1.5h-1.5zM526.3,377.1h1.5v1.5h-1.5zM537.1,372.9h1.5v1.5h-1.5zM537.6,378.3h1.5v1.5h-1.5zM515.2,421.8h1.5v1.5h-1.5zM526.9,381.1h1.5v1.5h-1.5zM559.8,425.4h1.5v1.5h-1.5zM509.0,411.9h1.5v1.5h-1.5zM509.3,400.6h1.5v1.5h-1.5zM526.3,369.5h1.5v1.5h-1.5zM529.7,367.7h1.5v1.5h-1.5zM512.1,422.8h1.5v1.5h-1.5zM519.7,418.7h1.5v1.5h-1.5zM526.4,384.9h1.5v1.5h-1.5zM503.3,409.6h1.5v1.5h-1.5zM545.6,370.0h1.5v1.5h-1.5zM524.5,374.0h1.5v1.5h-1.5zM510.4,417.4h1.5v1.5h-1.5zM516.2,381.2h1.5v1.5h-1.5zM555.7,425.2h1.5v1.5h-1.5zM504.6,417.8h1.5v1.5h-1.5zM531.8,404.4h1.5v1.5h-1.5zM510.7,411.3h1.5v1.5h-1.5zM557.6,416.9h1.5v1.5h-1.5zM511.8,433.8h1.5v1.5h-1.5zM538.0,415.7h1.5v1.5h-1.5zM557.4,405.5h1.5v1.5h-1.5zM548.0,368.5h1.5v1.5h-1.5zM554.4,425.3h1.5v1.5h-1.5zM560.8,417.0h1.5v1.5h-1.5zM529.3,416.4h1.5v1.5h-1.5zM521.4,377.7h1.5v1.5h-1.5zM542.1,408.5h1.5v1.5h-1.5zM557.8,420.4h1.5v1.5h-1.5zM534.4,366.0h1.5v1.5h-1.5zM553.3,392.5h1.5v1.5h-1.5zM511.5,412.1h1.5v1.5h-1.5zM535.5,383.5h1.5v1.5h-1.5zM534.2,426.5h1.5v1.5h-1.5zM513.0,414.3h1.5v1.5h-1.5zM524.9,374.3h1.5v1.5h-1.5zM552.8,423.2h1.5v1.5h-1.5zM536.7,413.5h1.5v1.5h-1.5zM512.9,387.9h1.5v1.5h-1.5zM514.6,411.0h1.5v1.5h-1.5zM533.2,376.7h1.5v1.5h-1.5zM532.8,378.9h1.5v1.5h-1.5zM533.2,419.2h1.5v1.5h-1.5zM534.7,370.0h1.5v1.5h-1.5zM560.8,405.8h1.5v1.5h-1.5zM522.5,410.9h1.5v1.5h-1.5zM555.5,420.3h1.5v1.5h-1.5zM512.0,387.0h1.5v1.5h-1.5zM503.1,413.6h1.5v1.5h-1.5zM561.8,388.4h1.5v1.5h-1.5zM526.1,374.4h1.5v1.5h-1.5zM546.7,377.3h1.5v1.5h-1.5zM543.7,370.2h1.5v1.5h-1.5zM535.6,414.7h1.5v1.5h-1.5zM514.7,427.4h1.5v1.5h-1.5zM560.2,408.6h1.5v1.5h-1.5zM521.4,412.0h1.5v1.5h-1.5zM507.4,410.3h1.5v1.5h-1.5zM551.2,411.0h1.5v1.5h-1.5zM540.7,413.1h1.5v1.5h-1.5zM554.9,414.3h1.5v1.5h-1.5zM516.9,375.7h1.5v1.5h-1.5zM557.4,408.6h1.5v1.5h-1.5zM554.8,416.5h1.5v1.5h-1.5zM555.7,407.3h1.5v1.5h-1.5zM503.4,410.3h1.5v1.5h-1.5zM561.7,393.2h1.5v1.5h-1.5zM539.6,369.4h1.5v1.5h-1.5zM528.1,370.4h1.5v1.5h-1.5zM532.4,422.3h1.5v1.5h-1.5zM503.6,411.7h1.5v1.5h-1.5zM522.5,378.8h1.5v1.5h-1.5zM545.4,411.2h1.5v1.5h-1.5zM523.9,370.8h1.5v1.5h-1.5zM542.0,383.9h1.5v1.5h-1.5zM530.8,385.7h1.5v1.5h-1.5zM541.6,373.5h1.5v1.5h-1.5zM516.4,425.3h1.5v1.5h-1.5zM518.7,379.7h1.5v1.5h-1.5zM519.7,386.9h1.5v1.5h-1.5zM537.6,421.2h1.5v1.5h-1.5zM543.6,409.6h1.5v1.5h-1.5zM514.9,382.7h1.5v1.5h-1.5zM529.4,407.1h1.5v1.5h-1.5zM529.3,368.7h1.5v1.5h-1.5zM538.1,378.8h1.5v1.5h-1.5zM553.4,399.4h1.5v1.5h-1.5zM510.9,399.8h1.5v1.5h-1.5zM536.5,378.6h1.5v1.5h-1.5zM546.0,411.8h1.5v1.5h-1.5zM524.3,376.8h1.5v1.5h-1.5zM510.7,395.2h1.5v1.5h-1.5zM547.7,412.9h1.5v1.5h-1.5zM529.0,374.3h1.5v1.5h-1.5zM521.0,387.8h1.5v1.5h-1.5zM508.1,417.7h1.5v1.5h-1.5zM528.3,381.7h1.5v1.5h-1.5zM544.0,370.8h1.5v1.5h-1.5zM513.7,432.0h1.5v1.5h-1.5zM536.6,414.3h1.5v1.5h-1.5zM531.9,418.1h1.5v1.5h-1.5zM512.6,386.2h1.5v1.5h-1.5zM551.0,418.1h1.5v1.5h-1.5zM512.6,381.3h1.5v1.5h-1.5zM507.9,394.6h1.5v1.5h-1.5zM503.3,414.7h1.5v1.5h-1.5zM542.8,409.6h1.5v1.5h-1.5zM508.3,410.8h1.5v1.5h-1.5zM530.1,380.2h1.5v1.5h-1.5zM509.5,398.5h1.5v1.5h-1.5zM521.6,377.6h1.5v1.5h-1.5zM552.8,422.9h1.5v1.5h-1.5zM549.6,406.8h1.5v1.5h-1.5zM511.7,385.4h1.5v1.5h-1.5zM513.6,417.6h1.5v1.5h-1.5zM526.8,371.1h1.5v1.5h-1.5zM516.1,413.4h1.5v1.5h-1.5zM544.0,403.5h1.5v1.5h-1.5zM517.0,383.9h1.5v1.5h-1.5zM510.4,386.1h1.5v1.5h-1.5zM529.5,372.4h1.5v1.5h-1.5zM530.1,383.1h1.5v1.5h-1.5zM533.5,373.7h1.5v1.5h-1.5zM509.8,422.4h1.5v1.5h-1.5zM509.5,425.5h1.5v1.5h-1.5zM554.4,418.3h1.5v1.5h-1.5zM534.3,418.2h1.5v1.5h-1.5zM505.1,422.3h1.5v1.5h-1.5zM533.0,429.6h1.5v1.5h-1.5zM532.8,418.3h1.5v1.5h-1.5zM538.1,414.1h1.5v1.5h-1.5zM518.5,378.7h1.5v1.5h-1.5zM544.7,414.0h1.5v1.5h-1.5zM524.6,376.1h1.5v1.5h-1.5zM555.3,406.7h1.5v1.5h-1.5zM541.3,416.9h1.5v1.5h-1.5zM544.7,404.6h1.5v1.5h-1.5zM517.2,414.0h1.5v1.5h-1.5zM514.0,380.6h1.5v1.5h-1.5zM546.0,410.5h1.5v1.5h-1.5zM503.3,408.4h1.5v1.5h-1.5zM538.3,411.7h1.5v1.5h-1.5zM502.3,416.6h1.5v1.5h-1.5zM557.5,420.3h1.5v1.5h-1.5zM525.4,367.2h1.5v1.5h-1.5zM510.8,423.3h1.5v1.5h-1.5zM509.6,400.7h1.5v1.5h-1.5zM533.6,384.9h1.5v1.5h-1.5zM509.4,417.2h1.5v1.5h-1.5zM513.8,436.0h1.5v1.5h-1.5zM542.7,411.6h1.5v1.5h-1.5zM531.3,416.2h1.5v1.5h-1.5zM527.2,385.7h1.5v1.5h-1.5zM537.6,375.8h1.5v1.5h-1.5zM540.4,381.0h1.5v1.5h-1.5zM531.0,417.5h1.5v1.5h-1.5zM540.6,373.7h1.5v1.5h-1.5zM541.1,381.6h1.5v1.5h-1.5zM519.8,421.2h1.5v1.5h-1.5zM510.2,426.6h1.5v1.5h-1.5zM505.9,400.3h1.5v1.5h-1.5zM516.8,373.2h1.5v1.5h-1.5zM517.2,376.8h1.5v1.5h-1.5zM512.9,419.1h1.5v1.5h-1.5zM527.3,409.4h1.5v1.5h-1.5zM515.6,428.1h1.5v1.5h-1.5zM504.9,413.7h1.5v1.5h-1.5zM542.4,373.8h1.5v1.5h-1.5zM515.4,385.7h1.5v1.5h-1.5zM560.1,400.5h1.5v1.5h-1.5zM512.5,386.7h1.5v1.5h-1.5zM557.8,413.8h1.5v1.5h-1.5zM513.2,410.8h1.5v1.5h-1.5zM521.3,373.3h1.5v1.5h-1.5zM550.6,405.3h1.5v1.5h-1.5zM542.4,415.9h1.5v1.5h-1.5zM514.1,414.2h1.5v1.5h-1.5zM519.7,419.0h1.5v1.5h-1.5zM507.8,400.5h1.5v1.5h-1.5zM509.7,425.0h1.5v1.5h-1.5zM534.1,418.8h1.5v1.5h-1.5zM509.1,395.1h1.5v1.5h-1.5zM554.5,423.3h1.5v1.5h-1.5zM534.4,383.0h1.5v1.5h-1.5zM509.9,394.8h1.5v1.5h-1.5zM555.3,404.0h1.5v1.5h-1.5zM512.3,430.3h1.5v1.5h-1.5zM513.0,411.9h1.5v1.5h-1.5zM551.3,421.2h1.5v1.5h-1.5zM521.7,413.7h1.5v1.5h-1.5zM528.0,385.4h1.5v1.5h-1.5zM543.9,368.2h1.5v1.5h-1.5zM524.6,415.4h1.5v1.5h-1.5zM530.9,415.1h1.5v1.5h-1.5zM558.4,421.7h1.5v1.5h-1.5zM536.5,371.3h1.5v1.5h-1.5zM508.0,426.8h1.5v1.5h-1.5zM512.9,386.2h1.5v1.5h-1.5zM546.8,412.8h1.5v1.5h-1.5zM559.5,419.8h1.5v1.5h-1.5zM543.1,387.4h1.5v1.5h-1.5zM529.5,405.6h1.5v1.5h-1.5zM533.9,385.4h1.5v1.5h-1.5zM556.9,404.8h1.5v1.5h-1.5zM514.5,418.6h1.5v1.5h-1.5zM519.0,417.8h1.5v1.5h-1.5zM535.7,380.9h1.5v1.5h-1.5zM529.1,411.7h1.5v1.5h-1.5zM530.5,420.6h1.5v1.5h-1.5zM560.7,400.3h1.5v1.5h-1.5zM538.8,416.5h1.5v1.5h-1.5zM555.4,413.1h1.5v1.5h-1.5zM527.6,411.5h1.5v1.5h-1.5zM507.5,401.5h1.5v1.5h-1.5zM529.1,415.0h1.5v1.5h-1.5zM510.2,404.9h1.5v1.5h-1.5zM552.9,408.1h1.5v1.5h-1.5zM537.0,366.0h1.5v1.5h-1.5zM549.7,403.8h1.5v1.5h-1.5zM540.9,415.2h1.5v1.5h-1.5zM541.5,404.1h1.5v1.5h-1.5zM538.6,372.3h1.5v1.5h-1.5zM538.7,380.3h1.5v1.5h-1.5zM521.7,373.2h1.5v1.5h-1.5zM510.3,399.9h1.5v1.5h-1.5zM542.8,414.4h1.5v1.5h-1.5zM529.0,406.0h1.5v1.5h-1.5zM557.6,424.2h1.5v1.5h-1.5zM504.8,414.4h1.5v1.5h-1.5zM538.8,379.5h1.5v1.5h-1.5zM559.9,398.9h1.5v1.5h-1.5zM518.4,425.7h1.5v1.5h-1.5zM518.3,382.9h1.5v1.5h-1.5zM538.2,412.0h1.5v1.5h-1.5zM544.7,416.9h1.5v1.5h-1.5zM510.3,410.9h1.5v1.5h-1.5zM529.5,405.9h1.5v1.5h-1.5zM505.5,410.1h1.5v1.5h-1.5zM560.9,415.0h1.5v1.5h-1.5zM507.2,414.8h1.5v1.5h-1.5zM547.0,403.4h1.5v1.5h-1.5zM543.6,407.7h1.5v1.5h-1.5zM519.6,380.1h1.5v1.5h-1.5zM517.3,388.0h1.5v1.5h-1.5zM556.4,414.1h1.5v1.5h-1.5zM530.1,419.0h1.5v1.5h-1.5zM515.4,388.1h1.5v1.5h-1.5zM510.2,396.3h1.5v1.5h-1.5zM531.2,368.9h1.5v1.5h-1.5zM516.4,421.7h1.5v1.5h-1.5zM517.3,376.4h1.5v1.5h-1.5zM546.1,371.6h1.5v1.5h-1.5zM511.5,393.1h1.5v1.5h-1.5zM507.9,401.0h1.5v1.5h-1.5zM556.8,400.8h1.5v1.5h-1.5zM527.8,372.3h1.5v1.5h-1.5zM536.2,374.2h1.5v1.5h-1.5zM520.4,418.4h1.5v1.5h-1.5zM553.4,426.4h1.5v1.5h-1.5zM533.7,369.4h1.5v1.5h-1.5zM544.1,367.3h1.5v1.5h-1.5zM514.4,425.2h1.5v1.5h-1.5zM538.8,409.5h1.5v1.5h-1.5zM523.4,380.4h1.5v1.5h-1.5zM524.1,380.0h1.5v1.5h-1.5zM534.6,373.2h1.5v1.5h-1.5zM508.1,414.5h1.5v1.5h-1.5zM532.3,371.2h1.5v1.5h-1.5zM554.3,414.9h1.5v1.5h-1.5zM540.1,384.8h1.5v1.5h-1.5zM524.9,385.0h1.5v1.5h-1.5zM515.5,419.1h1.5v1.5h-1.5zM508.8,416.7h1.5v1.5h-1.5zM514.0,426.3h1.5v1.5h-1.5zM550.9,371.3h1.5v1.5h-1.5zM551.6,420.3h1.5v1.5h-1.5zM507.7,406.9h1.5v1.5h-1.5zM525.4,378.8h1.5v1.5h-1.5zM524.9,417.7h1.5v1.5h-1.5zM518.5,374.3h1.5v1.5h-1.5zM534.3,373.7h1.5v1.5h-1.5zM511.8,425.3h1.5v1.5h-1.5zM538.0,381.1h1.5v1.5h-1.5zM514.0,413.9h1.5v1.5h-1.5zM530.0,419.8h1.5v1.5h-1.5zM534.7,426.1h1.5v1.5h-1.5zM521.1,374.8h1.5v1.5h-1.5zM531.7,365.1h1.5v1.5h-1.5zM509.8,414.9h1.5v1.5h-1.5zM555.6,428.9h1.5v1.5h-1.5zM511.6,428.9h1.5v1.5h-1.5zM523.5,374.5h1.5v1.5h-1.5zM544.0,413.0h1.5v1.5h-1.5zM505.3,419.4h1.5v1.5h-1.5zM529.3,368.7h1.5v1.5h-1.5zM505.2,403.7h1.5v1.5h-1.5zM533.0,367.9h1.5v1.5h-1.5zM531.4,365.0h1.5v1.5h-1.5zM511.4,390.2h1.5v1.5h-1.5zM518.6,385.7h1.5v1.5h-1.5zM549.2,408.9h1.5v1.5h-1.5zM511.6,418.8h1.5v1.5h-1.5zM506.8,398.3h1.5v1.5h-1.5zM544.2,411.5h1.5v1.5h-1.5zM556.3,402.9h1.5v1.5h-1.5zM531.8,385.5h1.5v1.5h-1.5zM519.0,416.4h1.5v1.5h-1.5zM505.3,406.7h1.5v1.5h-1.5zM518.6,425.0h1.5v1.5h-1.5zM541.1,370.8h1.5v1.5h-1.5zM557.7,408.2h1.5v1.5h-1.5zM541.2,382.0h1.5v1.5h-1.5zM517.8,385.0h1.5v1.5h-1.5zM551.4,424.8h1.5v1.5h-1.5zM518.5,376.9h1.5v1.5h-1.5zM541.3,375.9h1.5v1.5h-1.5zM517.5,381.6h1.5v1.5h-1.5zM526.6,414.9h1.5v1.5h-1.5zM524.5,417.0h1.5v1.5h-1.5z" fill="#c4c4d8"/>
<path d="M550.6,389.6h1.5v1.5h-1.5zM538.6,407.9h1.5v1.5h-1.5zM554.8,388.9h1.5v1.5h-1.5zM554.6,380.0h1.5v1.5h-1.5zM557.0,377.5h1.5v1.5h-1.5zM551.1,388.4h1.5v1.5h-1.5zM547.8,377.7h1.5v1.5h-1.5zM550.1,371.5h1.5v1.5h-1.5zM542.3,382.6h1.5v1.5h-1.5zM552.0,386.6h1.5v1.5h-1.5zM552.3,384.7h1.5v1.5h-1.5zM556.2,381.9h1.5v1.5h-1.5zM545.6,389.4h1.5v1.5h-1.5zM542.9,383.2h1.5v1.5h-1.5zM546.6,385.0h1.5v1.5h-1.5zM559.6,386.7h1.5v1.5h-1.5zM552.4,392.8h1.5v1.5h-1.5zM560.6,394.7h1.5v1.5h-1.5zM552.7,382.2h1.5v1.5h-1.5zM559.8,387.4h1.5v1.5h-1.5zM550.3,380.7h1.5v1.5h-1.5zM550.0,383.1h1.5v1.5h-1.5zM546.0,374.1h1.5v1.5h-1.5zM554.8,391.1h1.5v1.5h-1.5zM535.0,410.2h1.5v1.5h-1.5zM556.4,383.5h1.5v1.5h-1.5zM549.3,372.3h1.5v1.5h-1.5zM550.3,380.4h1.5v1.5h-1.5zM535.6,409.4h1.5v1.5h-1.5zM553.5,373.4h1.5v1.5h-1.5zM555.7,393.9h1.5v1.5h-1.5zM548.4,385.3h1.5v1.5h-1.5zM550.8,385.8h1.5v1.5h-1.5zM546.1,387.0h1.5v1.5h-1.5zM551.9,395.1h1.5v1.5h-1.5zM552.6,395.0h1.5v1.5h-1.5zM559.5,390.7h1.5v1.5h-1.5zM552.4,392.0h1.5v1.5h-1.5zM542.9,374.7h1.5v1.5h-1.5zM547.1,381.7h1.5v1.5h-1.5zM529.7,408.3h1.5v1.5h-1.5zM561.7,389.6h1.5v1.5h-1.5zM542.4,379.3h1.5v1.5h-1.5zM538.9,375.6h1.5v1.5h-1.5zM538.2,382.0h1.5v1.5h-1.5zM547.7,382.6h1.5v1.5h-1.5z" fill="#7062e6"/>
<path d="M552.7,384.0h1.5v1.5h-1.5zM539.1,405.8h1.5v1.5h-1.5zM532.7,425.1h1.5v1.5h-1.5zM518.7,380.8h1.5v1.5h-1.5zM557.7,383.0h1.5v1.5h-1.5zM552.5,390.0h1.5v1.5h-1.5zM553.1,375.5h1.5v1.5h-1.5zM558.1,391.2h1.5v1.5h-1.5zM506.6,409.2h1.5v1.5h-1.5zM551.9,383.6h1.5v1.5h-1.5zM544.1,388.4h1.5v1.5h-1.5zM537.3,405.9h1.5v1.5h-1.5zM523.3,375.3h1.5v1.5h-1.5zM505.3,418.1h1.5v1.5h-1.5zM544.0,371.7h1.5v1.5h-1.5zM555.2,379.6h1.5v1.5h-1.5zM530.2,383.6h1.5v1.5h-1.5zM546.4,373.7h1.5v1.5h-1.5zM559.1,390.5h1.5v1.5h-1.5zM538.1,409.4h1.5v1.5h-1.5zM559.0,393.1h1.5v1.5h-1.5zM557.6,411.3h1.5v1.5h-1.5zM538.5,406.5h1.5v1.5h-1.5zM533.7,408.3h1.5v1.5h-1.5zM517.4,374.7h1.5v1.5h-1.5zM554.9,419.1h1.5v1.5h-1.5zM539.9,404.7h1.5v1.5h-1.5zM545.6,377.4h1.5v1.5h-1.5zM543.9,382.9h1.5v1.5h-1.5zM559.6,397.1h1.5v1.5h-1.5zM505.0,416.6h1.5v1.5h-1.5zM534.9,407.8h1.5v1.5h-1.5zM554.2,386.7h1.5v1.5h-1.5zM540.5,373.1h1.5v1.5h-1.5zM512.0,422.4h1.5v1.5h-1.5zM545.7,385.8h1.5v1.5h-1.5zM535.6,408.7h1.5v1.5h-1.5zM552.9,383.4h1.5v1.5h-1.5zM521.9,379.5h1.5v1.5h-1.5zM536.9,407.2h1.5v1.5h-1.5zM551.6,395.7h1.5v1.5h-1.5zM555.7,385.3h1.5v1.5h-1.5zM548.8,386.8h1.5v1.5h-1.5zM536.5,406.5h1.5v1.5h-1.5zM542.1,381.3h1.5v1.5h-1.5zM546.2,387.1h1.5v1.5h-1.5zM557.0,426.5h1.5v1.5h-1.5zM548.1,389.3h1.5v1.5h-1.5zM554.1,396.4h1.5v1.5h-1.5zM558.4,382.3h1.5v1.5h-1.5zM558.2,394.0h1.5v1.5h-1.5zM548.0,380.7h1.5v1.5h-1.5zM550.6,384.8h1.5v1.5h-1.5zM551.6,389.3h1.5v1.5h-1.5zM536.7,406.7h1.5v1.5h-1.5zM553.3,398.7h1.5v1.5h-1.5zM552.7,376.3h1.5v1.5h-1.5zM532.9,410.4h1.5v1.5h-1.5zM556.8,388.8h1.5v1.5h-1.5zM543.1,411.5h1.5v1.5h-1.5zM519.1,383.6h1.5v1.5h-1.5zM559.7,392.4h1.5v1.5h-1.5zM514.7,422.6h1.5v1.5h-1.5zM538.2,408.6h1.5v1.5h-1.5zM542.3,380.3h1.5v1.5h-1.5zM540.8,370.4h1.5v1.5h-1.5zM530.6,426.6h1.5v1.5h-1.5zM552.5,376.2h1.5v1.5h-1.5zM537.4,416.1h1.5v1.5h-1.5zM563.1,394.7h1.5v1.5h-1.5zM550.2,386.9h1.5v1.5h-1.5zM535.0,404.5h1.5v1.5h-1.5zM552.3,390.1h1.5v1.5h-1.5zM554.4,390.2h1.5v1.5h-1.5zM536.0,410.0h1.5v1.5h-1.5zM514.5,422.8h1.5v1.5h-1.5zM557.3,378.1h1.5v1.5h-1.5zM549.3,379.6h1.5v1.5h-1.5zM537.7,379.6h1.5v1.5h-1.5zM530.0,372.2h1.5v1.5h-1.5zM527.8,410.1h1.5v1.5h-1.5zM557.8,390.3h1.5v1.5h-1.5zM546.5,368.8h1.5v1.5h-1.5zM551.8,378.4h1.5v1.5h-1.5zM545.2,384.4h1.5v1.5h-1.5zM545.5,382.0h1.5v1.5h-1.5zM543.6,373.0h1.5v1.5h-1.5zM551.8,375.3h1.5v1.5h-1.5zM561.9,390.6h1.5v1.5h-1.5zM545.9,380.3h1.5v1.5h-1.5zM564.4,395.2h1.5v1.5h-1.5zM539.7,379.1h1.5v1.5h-1.5zM557.9,389.8h1.5v1.5h-1.5zM548.2,384.5h1.5v1.5h-1.5zM559.0,393.4h1.5v1.5h-1.5zM551.3,378.9h1.5v1.5h-1.5zM556.1,380.5h1.5v1.5h-1.5zM549.3,391.5h1.5v1.5h-1.5zM556.2,392.9h1.5v1.5h-1.5zM558.7,390.3h1.5v1.5h-1.5zM556.1,401.5h1.5v1.5h-1.5zM529.6,423.5h1.5v1.5h-1.5zM540.1,363.7h1.5v1.5h-1.5zM555.6,377.0h1.5v1.5h-1.5zM555.6,411.7h1.5v1.5h-1.5zM560.7,390.2h1.5v1.5h-1.5zM546.8,386.0h1.5v1.5h-1.5z" fill="#8c7ee6"/>
<path d="M522.0,412.8h1.5v1.5h-1.5zM542.8,416.5h1.5v1.5h-1.5zM508.8,417.6h1.5v1.5h-1.5zM511.6,430.3h1.5v1.5h-1.5zM515.4,423.7h1.5v1.5h-1.5zM528.1,413.7h1.5v1.5h-1.5zM546.8,386.4h1.5v1.5h-1.5zM520.0,374.7h1.5v1.5h-1.5zM516.6,374.8h1.5v1.5h-1.5zM535.4,421.5h1.5v1.5h-1.5zM555.3,383.1h1.5v1.5h-1.5zM554.7,376.8h1.5v1.5h-1.5zM544.7,406.3h1.5v1.5h-1.5zM509.2,413.4h1.5v1.5h-1.5zM511.0,410.3h1.5v1.5h-1.5zM511.0,415.3h1.5v1.5h-1.5zM555.7,389.7h1.5v1.5h-1.5zM530.2,408.1h1.5v1.5h-1.5zM505.7,417.2h1.5v1.5h-1.5zM517.3,413.6h1.5v1.5h-1.5zM545.1,378.4h1.5v1.5h-1.5zM514.2,384.7h1.5v1.5h-1.5zM523.4,415.0h1.5v1.5h-1.5zM551.6,376.0h1.5v1.5h-1.5zM533.0,373.9h1.5v1.5h-1.5zM509.6,397.0h1.5v1.5h-1.5z" fill="#9a8cd8"/>
<path d="M543.7,379.6h1.5v1.5h-1.5zM548.9,386.8h1.5v1.5h-1.5zM549.5,387.1h1.5v1.5h-1.5zM541.5,378.2h1.5v1.5h-1.5zM559.4,388.5h1.5v1.5h-1.5zM556.9,379.2h1.5v1.5h-1.5zM542.8,383.1h1.5v1.5h-1.5zM550.3,379.0h1.5v1.5h-1.5zM549.8,376.7h1.5v1.5h-1.5zM558.2,394.1h1.5v1.5h-1.5zM551.1,385.5h1.5v1.5h-1.5zM554.4,385.1h1.5v1.5h-1.5zM553.5,388.3h1.5v1.5h-1.5zM553.5,375.3h1.5v1.5h-1.5zM558.7,387.1h1.5v1.5h-1.5zM555.6,381.2h1.5v1.5h-1.5zM558.7,391.8h1.5v1.5h-1.5zM555.4,395.6h1.5v1.5h-1.5z" fill="#6254f4"/>
<path d="M548.7,374.5h1.5v1.5h-1.5zM559.8,388.0h1.5v1.5h-1.5zM535.8,409.3h1.5v1.5h-1.5zM546.3,382.7h1.5v1.5h-1.5zM549.0,372.8h1.5v1.5h-1.5zM536.6,405.8h1.5v1.5h-1.5zM548.8,385.1h1.5v1.5h-1.5zM549.7,377.9h1.5v1.5h-1.5zM559.8,389.9h1.5v1.5h-1.5zM551.0,381.5h1.5v1.5h-1.5zM548.9,386.5h1.5v1.5h-1.5zM559.9,394.6h1.5v1.5h-1.5zM554.4,400.6h1.5v1.5h-1.5zM546.5,376.2h1.5v1.5h-1.5zM533.4,407.0h1.5v1.5h-1.5zM550.6,382.0h1.5v1.5h-1.5zM543.5,385.3h1.5v1.5h-1.5zM544.9,381.0h1.5v1.5h-1.5zM536.0,405.5h1.5v1.5h-1.5zM558.9,399.4h1.5v1.5h-1.5zM551.0,374.3h1.5v1.5h-1.5zM549.9,387.1h1.5v1.5h-1.5zM555.6,388.8h1.5v1.5h-1.5zM551.9,384.2h1.5v1.5h-1.5zM553.3,379.6h1.5v1.5h-1.5zM541.7,373.9h1.5v1.5h-1.5zM549.3,380.9h1.5v1.5h-1.5zM546.0,374.5h1.5v1.5h-1.5zM544.4,385.7h1.5v1.5h-1.5zM553.7,393.0h1.5v1.5h-1.5zM557.3,396.0h1.5v1.5h-1.5zM532.0,408.6h1.5v1.5h-1.5zM541.2,366.9h1.5v1.5h-1.5zM554.4,386.3h1.5v1.5h-1.5zM541.6,376.8h1.5v1.5h-1.5zM555.0,377.3h1.5v1.5h-1.5zM549.9,372.0h1.5v1.5h-1.5zM546.2,383.8h1.5v1.5h-1.5zM556.9,385.0h1.5v1.5h-1.5zM539.0,405.1h1.5v1.5h-1.5zM557.6,395.1h1.5v1.5h-1.5zM533.7,406.4h1.5v1.5h-1.5zM558.1,400.9h1.5v1.5h-1.5zM537.7,384.6h1.5v1.5h-1.5zM546.7,372.5h1.5v1.5h-1.5zM549.2,382.1h1.5v1.5h-1.5zM548.4,384.8h1.5v1.5h-1.5zM553.3,378.9h1.5v1.5h-1.5zM545.2,383.4h1.5v1.5h-1.5zM545.5,381.5h1.5v1.5h-1.5zM548.0,374.7h1.5v1.5h-1.5zM548.9,380.1h1.5v1.5h-1.5zM554.0,385.9h1.5v1.5h-1.5zM556.7,401.1h1.5v1.5h-1.5zM546.3,385.6h1.5v1.5h-1.5zM551.4,388.4h1.5v1.5h-1.5zM551.2,384.5h1.5v1.5h-1.5zM556.7,386.0h1.5v1.5h-1.5zM547.4,372.6h1.5v1.5h-1.5zM546.0,386.0h1.5v1.5h-1.5zM556.6,384.9h1.5v1.5h-1.5zM538.4,409.4h1.5v1.5h-1.5zM561.7,390.5h1.5v1.5h-1.5zM561.1,397.8h1.5v1.5h-1.5zM563.5,389.4h1.5v1.5h-1.5zM551.6,386.7h1.5v1.5h-1.5z" fill="#7e70e6"/>
<path d="M550.7,377.4h1.5v1.5h-1.5zM554.5,391.5h1.5v1.5h-1.5zM554.1,399.0h1.5v1.5h-1.5zM551.8,378.7h1.5v1.5h-1.5zM552.7,382.2h1.5v1.5h-1.5zM555.4,394.2h1.5v1.5h-1.5zM550.2,388.0h1.5v1.5h-1.5zM552.2,385.7h1.5v1.5h-1.5zM552.2,383.5h1.5v1.5h-1.5zM554.6,383.6h1.5v1.5h-1.5zM554.8,383.9h1.5v1.5h-1.5zM540.3,382.7h1.5v1.5h-1.5zM553.7,379.4h1.5v1.5h-1.5zM556.7,381.8h1.5v1.5h-1.5zM545.6,379.8h1.5v1.5h-1.5zM544.2,374.9h1.5v1.5h-1.5zM533.6,410.2h1.5v1.5h-1.5zM559.7,387.6h1.5v1.5h-1.5zM542.7,381.6h1.5v1.5h-1.5zM549.6,387.2h1.5v1.5h-1.5zM554.4,388.0h1.5v1.5h-1.5zM540.0,410.1h1.5v1.5h-1.5zM548.6,377.6h1.5v1.5h-1.5zM546.2,371.4h1.5v1.5h-1.5zM541.6,378.4h1.5v1.5h-1.5zM548.5,380.4h1.5v1.5h-1.5zM534.1,403.5h1.5v1.5h-1.5zM556.2,390.9h1.5v1.5h-1.5zM556.8,390.6h1.5v1.5h-1.5zM557.5,387.9h1.5v1.5h-1.5zM539.8,382.6h1.5v1.5h-1.5zM546.5,380.2h1.5v1.5h-1.5zM557.8,393.3h1.5v1.5h-1.5zM556.3,380.5h1.5v1.5h-1.5zM550.8,382.1h1.5v1.5h-1.5zM553.8,381.0h1.5v1.5h-1.5zM554.9,403.3h1.5v1.5h-1.5zM559.2,388.8h1.5v1.5h-1.5zM558.8,386.9h1.5v1.5h-1.5zM557.2,380.9h1.5v1.5h-1.5zM551.0,392.4h1.5v1.5h-1.5zM533.9,411.8h1.5v1.5h-1.5zM552.6,376.5h1.5v1.5h-1.5zM553.8,392.5h1.5v1.5h-1.5zM558.8,394.0h1.5v1.5h-1.5zM549.3,380.1h1.5v1.5h-1.5z" fill="#7e62e6"/>
<path d="M519.2,416.8h1.5v1.5h-1.5zM508.8,410.4h1.5v1.5h-1.5zM531.2,369.3h1.5v1.5h-1.5zM519.8,419.2h1.5v1.5h-1.5zM545.1,374.2h1.5v1.5h-1.5zM555.4,416.5h1.5v1.5h-1.5zM529.0,365.3h1.5v1.5h-1.5zM513.6,415.3h1.5v1.5h-1.5zM525.1,372.3h1.5v1.5h-1.5zM510.7,388.8h1.5v1.5h-1.5zM505.6,411.5h1.5v1.5h-1.5zM552.2,411.9h1.5v1.5h-1.5zM539.4,412.2h1.5v1.5h-1.5zM537.7,378.6h1.5v1.5h-1.5zM512.3,431.7h1.5v1.5h-1.5zM553.6,421.1h1.5v1.5h-1.5zM519.1,418.4h1.5v1.5h-1.5zM511.6,421.3h1.5v1.5h-1.5zM526.2,373.8h1.5v1.5h-1.5zM535.0,421.6h1.5v1.5h-1.5zM530.3,416.7h1.5v1.5h-1.5zM559.9,388.6h1.5v1.5h-1.5zM549.9,415.6h1.5v1.5h-1.5zM559.9,413.7h1.5v1.5h-1.5zM561.7,397.5h1.5v1.5h-1.5zM531.8,382.8h1.5v1.5h-1.5zM509.8,424.5h1.5v1.5h-1.5zM532.1,384.9h1.5v1.5h-1.5zM511.2,425.7h1.5v1.5h-1.5zM506.2,407.0h1.5v1.5h-1.5zM535.0,386.5h1.5v1.5h-1.5zM525.7,378.1h1.5v1.5h-1.5zM541.4,376.6h1.5v1.5h-1.5zM522.1,410.2h1.5v1.5h-1.5zM536.0,373.1h1.5v1.5h-1.5zM526.2,414.4h1.5v1.5h-1.5zM512.1,382.5h1.5v1.5h-1.5zM543.3,404.1h1.5v1.5h-1.5zM515.5,386.7h1.5v1.5h-1.5zM550.9,405.0h1.5v1.5h-1.5zM538.4,410.6h1.5v1.5h-1.5z" fill="#a8a8d8"/>
<path d="M553.1,381.3h1.5v1.5h-1.5zM560.1,386.6h1.5v1.5h-1.5zM554.2,384.2h1.5v1.5h-1.5zM556.0,399.9h1.5v1.5h-1.5zM552.0,382.6h1.5v1.5h-1.5zM551.0,375.7h1.5v1.5h-1.5zM542.9,379.7h1.5v1.5h-1.5zM552.5,387.9h1.5v1.5h-1.5zM535.9,408.2h1.5v1.5h-1.5zM557.5,384.3h1.5v1.5h-1.5zM538.0,383.8h1.5v1.5h-1.5zM552.1,375.0h1.5v1.5h-1.5zM554.7,382.6h1.5v1.5h-1.5zM531.5,408.0h1.5v1.5h-1.5zM547.5,385.0h1.5v1.5h-1.5zM548.3,390.0h1.5v1.5h-1.5zM542.2,383.1h1.5v1.5h-1.5zM557.8,379.7h1.5v1.5h-1.5zM559.4,384.1h1.5v1.5h-1.5zM538.4,407.1h1.5v1.5h-1.5zM548.0,385.6h1.5v1.5h-1.5zM555.2,385.1h1.5v1.5h-1.5zM555.7,388.6h1.5v1.5h-1.5zM548.4,384.8h1.5v1.5h-1.5zM553.8,386.6h1.5v1.5h-1.5zM561.0,393.1h1.5v1.5h-1.5zM556.0,386.5h1.5v1.5h-1.5z" fill="#7054e6"/>
<path d="M517.5,421.5h1.5v1.5h-1.5zM534.0,375.8h1.5v1.5h-1.5zM513.7,387.3h1.5v1.5h-1.5zM530.5,423.3h1.5v1.5h-1.5zM558.2,409.7h1.5v1.5h-1.5zM507.6,405.9h1.5v1.5h-1.5zM511.8,420.6h1.5v1.5h-1.5zM507.6,417.5h1.5v1.5h-1.5zM529.4,378.5h1.5v1.5h-1.5zM534.1,425.6h1.5v1.5h-1.5zM554.5,411.1h1.5v1.5h-1.5zM531.7,421.0h1.5v1.5h-1.5zM523.2,373.8h1.5v1.5h-1.5zM529.0,411.2h1.5v1.5h-1.5zM520.7,374.5h1.5v1.5h-1.5zM541.8,405.9h1.5v1.5h-1.5zM550.2,410.0h1.5v1.5h-1.5zM507.4,424.9h1.5v1.5h-1.5zM537.2,385.8h1.5v1.5h-1.5zM509.0,420.1h1.5v1.5h-1.5zM554.0,418.3h1.5v1.5h-1.5zM506.1,403.7h1.5v1.5h-1.5zM555.7,408.0h1.5v1.5h-1.5zM555.5,403.5h1.5v1.5h-1.5zM508.6,396.5h1.5v1.5h-1.5zM509.7,427.8h1.5v1.5h-1.5zM511.5,380.8h1.5v1.5h-1.5zM536.9,380.0h1.5v1.5h-1.5zM536.9,378.8h1.5v1.5h-1.5zM513.5,385.7h1.5v1.5h-1.5zM516.0,416.4h1.5v1.5h-1.5zM527.9,411.8h1.5v1.5h-1.5zM530.0,369.6h1.5v1.5h-1.5zM510.9,405.4h1.5v1.5h-1.5zM521.6,412.4h1.5v1.5h-1.5zM559.7,398.6h1.5v1.5h-1.5zM512.0,436.4h1.5v1.5h-1.5zM534.6,427.2h1.5v1.5h-1.5zM545.1,404.4h1.5v1.5h-1.5zM546.8,414.8h1.5v1.5h-1.5zM503.6,416.0h1.5v1.5h-1.5zM506.0,409.2h1.5v1.5h-1.5z" fill="#a89ad8"/>
<path d="M556.8,405.4h1.5v1.5h-1.5zM552.6,412.1h1.5v1.5h-1.5zM557.2,408.9h1.5v1.5h-1.5zM559.3,398.5h1.5v1.5h-1.5zM506.5,403.2h1.5v1.5h-1.5zM539.0,372.9h1.5v1.5h-1.5zM527.2,384.5h1.5v1.5h-1.5zM543.2,381.9h1.5v1.5h-1.5zM531.9,416.6h1.5v1.5h-1.5zM508.0,400.0h1.5v1.5h-1.5zM546.4,411.3h1.5v1.5h-1.5zM536.7,418.6h1.5v1.5h-1.5zM526.3,386.3h1.5v1.5h-1.5zM526.9,381.2h1.5v1.5h-1.5zM539.1,372.2h1.5v1.5h-1.5zM504.2,411.1h1.5v1.5h-1.5zM517.7,426.0h1.5v1.5h-1.5zM506.5,405.6h1.5v1.5h-1.5zM553.5,405.4h1.5v1.5h-1.5zM543.1,375.2h1.5v1.5h-1.5zM555.3,403.7h1.5v1.5h-1.5zM526.6,409.5h1.5v1.5h-1.5zM549.2,414.2h1.5v1.5h-1.5zM543.1,414.5h1.5v1.5h-1.5zM514.0,412.7h1.5v1.5h-1.5z" fill="#9a9ad8"/>
<path d="M551.9,383.3h1.5v1.5h-1.5zM545.2,378.8h1.5v1.5h-1.5zM550.3,376.4h1.5v1.5h-1.5zM553.0,389.0h1.5v1.5h-1.5zM551.9,392.2h1.5v1.5h-1.5zM551.1,386.6h1.5v1.5h-1.5zM562.0,393.6h1.5v1.5h-1.5zM556.5,381.2h1.5v1.5h-1.5zM550.9,389.3h1.5v1.5h-1.5zM547.2,380.9h1.5v1.5h-1.5zM561.0,396.4h1.5v1.5h-1.5zM559.2,399.7h1.5v1.5h-1.5zM549.2,384.1h1.5v1.5h-1.5zM534.3,405.3h1.5v1.5h-1.5zM545.3,379.6h1.5v1.5h-1.5zM554.2,384.9h1.5v1.5h-1.5zM556.8,390.6h1.5v1.5h-1.5zM551.9,379.0h1.5v1.5h-1.5zM548.1,381.5h1.5v1.5h-1.5zM553.0,387.3h1.5v1.5h-1.5zM560.8,392.8h1.5v1.5h-1.5zM547.5,378.3h1.5v1.5h-1.5zM553.5,378.0h1.5v1.5h-1.5zM545.6,379.7h1.5v1.5h-1.5zM554.4,393.0h1.5v1.5h-1.5zM532.0,408.7h1.5v1.5h-1.5zM544.6,371.8h1.5v1.5h-1.5zM542.9,377.5h1.5v1.5h-1.5zM553.9,382.7h1.5v1.5h-1.5zM556.0,389.4h1.5v1.5h-1.5zM553.9,384.8h1.5v1.5h-1.5zM554.1,382.4h1.5v1.5h-1.5z" fill="#7054f4"/>
<path d="M533.2,407.2h1.5v1.5h-1.5zM547.6,379.3h1.5v1.5h-1.5zM551.1,386.0h1.5v1.5h-1.5zM559.5,385.2h1.5v1.5h-1.5zM554.8,386.3h1.5v1.5h-1.5zM552.5,390.1h1.5v1.5h-1.5zM556.8,384.2h1.5v1.5h-1.5zM539.3,407.1h1.5v1.5h-1.5zM549.8,383.6h1.5v1.5h-1.5zM552.9,381.3h1.5v1.5h-1.5zM556.8,394.8h1.5v1.5h-1.5z" fill="#8c70e6"/>
<path d="M551.6,374.6h1.5v1.5h-1.5zM557.9,398.2h1.5v1.5h-1.5zM536.5,416.6h1.5v1.5h-1.5zM526.5,408.9h1.5v1.5h-1.5zM547.7,380.2h1.5v1.5h-1.5zM544.3,413.3h1.5v1.5h-1.5zM549.5,382.7h1.5v1.5h-1.5zM546.9,410.3h1.5v1.5h-1.5zM542.9,382.5h1.5v1.5h-1.5zM550.5,413.1h1.5v1.5h-1.5zM546.6,385.0h1.5v1.5h-1.5z" fill="#8c8ce6"/>
<rect x="520" y="448" width="1" height="1" fill="#b0a8e8"/>
<rect x="534" y="444" width="1" height="1" fill="#b0a8e8"/>
<rect x="536" y="452" width="1" height="1" fill="#b0a8e8"/>
<rect x="540" y="436" width="1" height="1" fill="#b0a8e8"/>
<defs><linearGradient id="cbh2" x1="0" x2="0" y1="0" y2="1"><stop offset="0" stop-color="#2a1ff5"/><stop offset="0.5" stop-color="#8c78e6"/><stop offset="1" stop-color="#cfcbd3"/></linearGradient></defs>
<rect x="573.3" y="399.6" width="4" height="24.4" fill="url(#cbh2)"/>
<text x="579.9" y="407.6" font-size="4.6" fill="#333">3</text>
<text x="579.9" y="413.45000000000005" font-size="4.6" fill="#333">2</text>
<text x="579.9" y="419.3" font-size="4.6" fill="#333">1</text>
<text x="579.9" y="425.15000000000003" font-size="4.6" fill="#333">0</text>
<text x="596" y="337.3" font-size="17" font-weight="bold">i</text>
<text x="652.3" y="356.7" font-size="8" text-anchor="middle" fill="#222">p = 0.034</text>
<line x1="638.3" y1="361" x2="667.7" y2="361" stroke="#aaa" stroke-width="0.9"/>
<line x1="620" y1="367.7" x2="620" y2="459.3" stroke="#222" stroke-width="0.7"/>
<line x1="618" y1="367.7" x2="620" y2="367.7" stroke="#222" stroke-width="0.7"/>
<text x="617" y="370.4" font-size="7.6" text-anchor="end" font-weight="bold" fill="#111">1.0</text>
<line x1="618" y1="386.02" x2="620" y2="386.02" stroke="#222" stroke-width="0.7"/>
<text x="617" y="388.71999999999997" font-size="7.6" text-anchor="end" font-weight="bold" fill="#111">0.8</text>
<line x1="618" y1="404.34" x2="620" y2="404.34" stroke="#222" stroke-width="0.7"/>
<text x="617" y="407.03999999999996" font-size="7.6" text-anchor="end" font-weight="bold" fill="#111">0.6</text>
<line x1="618" y1="422.65999999999997" x2="620" y2="422.65999999999997" stroke="#222" stroke-width="0.7"/>
<text x="617" y="425.35999999999996" font-size="7.6" text-anchor="end" font-weight="bold" fill="#111">0.4</text>
<line x1="618" y1="440.98" x2="620" y2="440.98" stroke="#222" stroke-width="0.7"/>
<text x="617" y="443.68" font-size="7.6" text-anchor="end" font-weight="bold" fill="#111">0.2</text>
<line x1="618" y1="459.29999999999995" x2="620" y2="459.29999999999995" stroke="#222" stroke-width="0.7"/>
<text x="617" y="461.99999999999994" font-size="7.6" text-anchor="end" font-weight="bold" fill="#111">0.0</text>
<text transform="translate(605.3,409.5) rotate(-90)" font-size="8.3" text-anchor="middle" font-weight="bold" fill="#111">Flrt3 fraction</text>
<rect x="632.1" y="367.7" width="11.2" height="91.6" fill="#fff" stroke="#8a8a8a" stroke-width="0.6"/>
<rect x="632.1" y="404.34000000000003" width="11.2" height="54.95999999999998" fill="#a09bfc" stroke="#8a8a8a" stroke-width="0.6"/>
<rect x="662.1" y="367.7" width="11.2" height="91.6" fill="#fff" stroke="#8a8a8a" stroke-width="0.6"/>
<rect x="662.1" y="417.622" width="11.2" height="41.678" fill="#a09bfc" stroke="#8a8a8a" stroke-width="0.6"/>
<text x="638.2" y="470.3" font-size="8.7" text-anchor="middle" font-weight="bold" fill="#111">Sulcus</text>
<text x="667.5" y="470.3" font-size="8.7" text-anchor="middle" font-weight="bold" fill="#111">Gyrus</text>
</svg></body></html>
